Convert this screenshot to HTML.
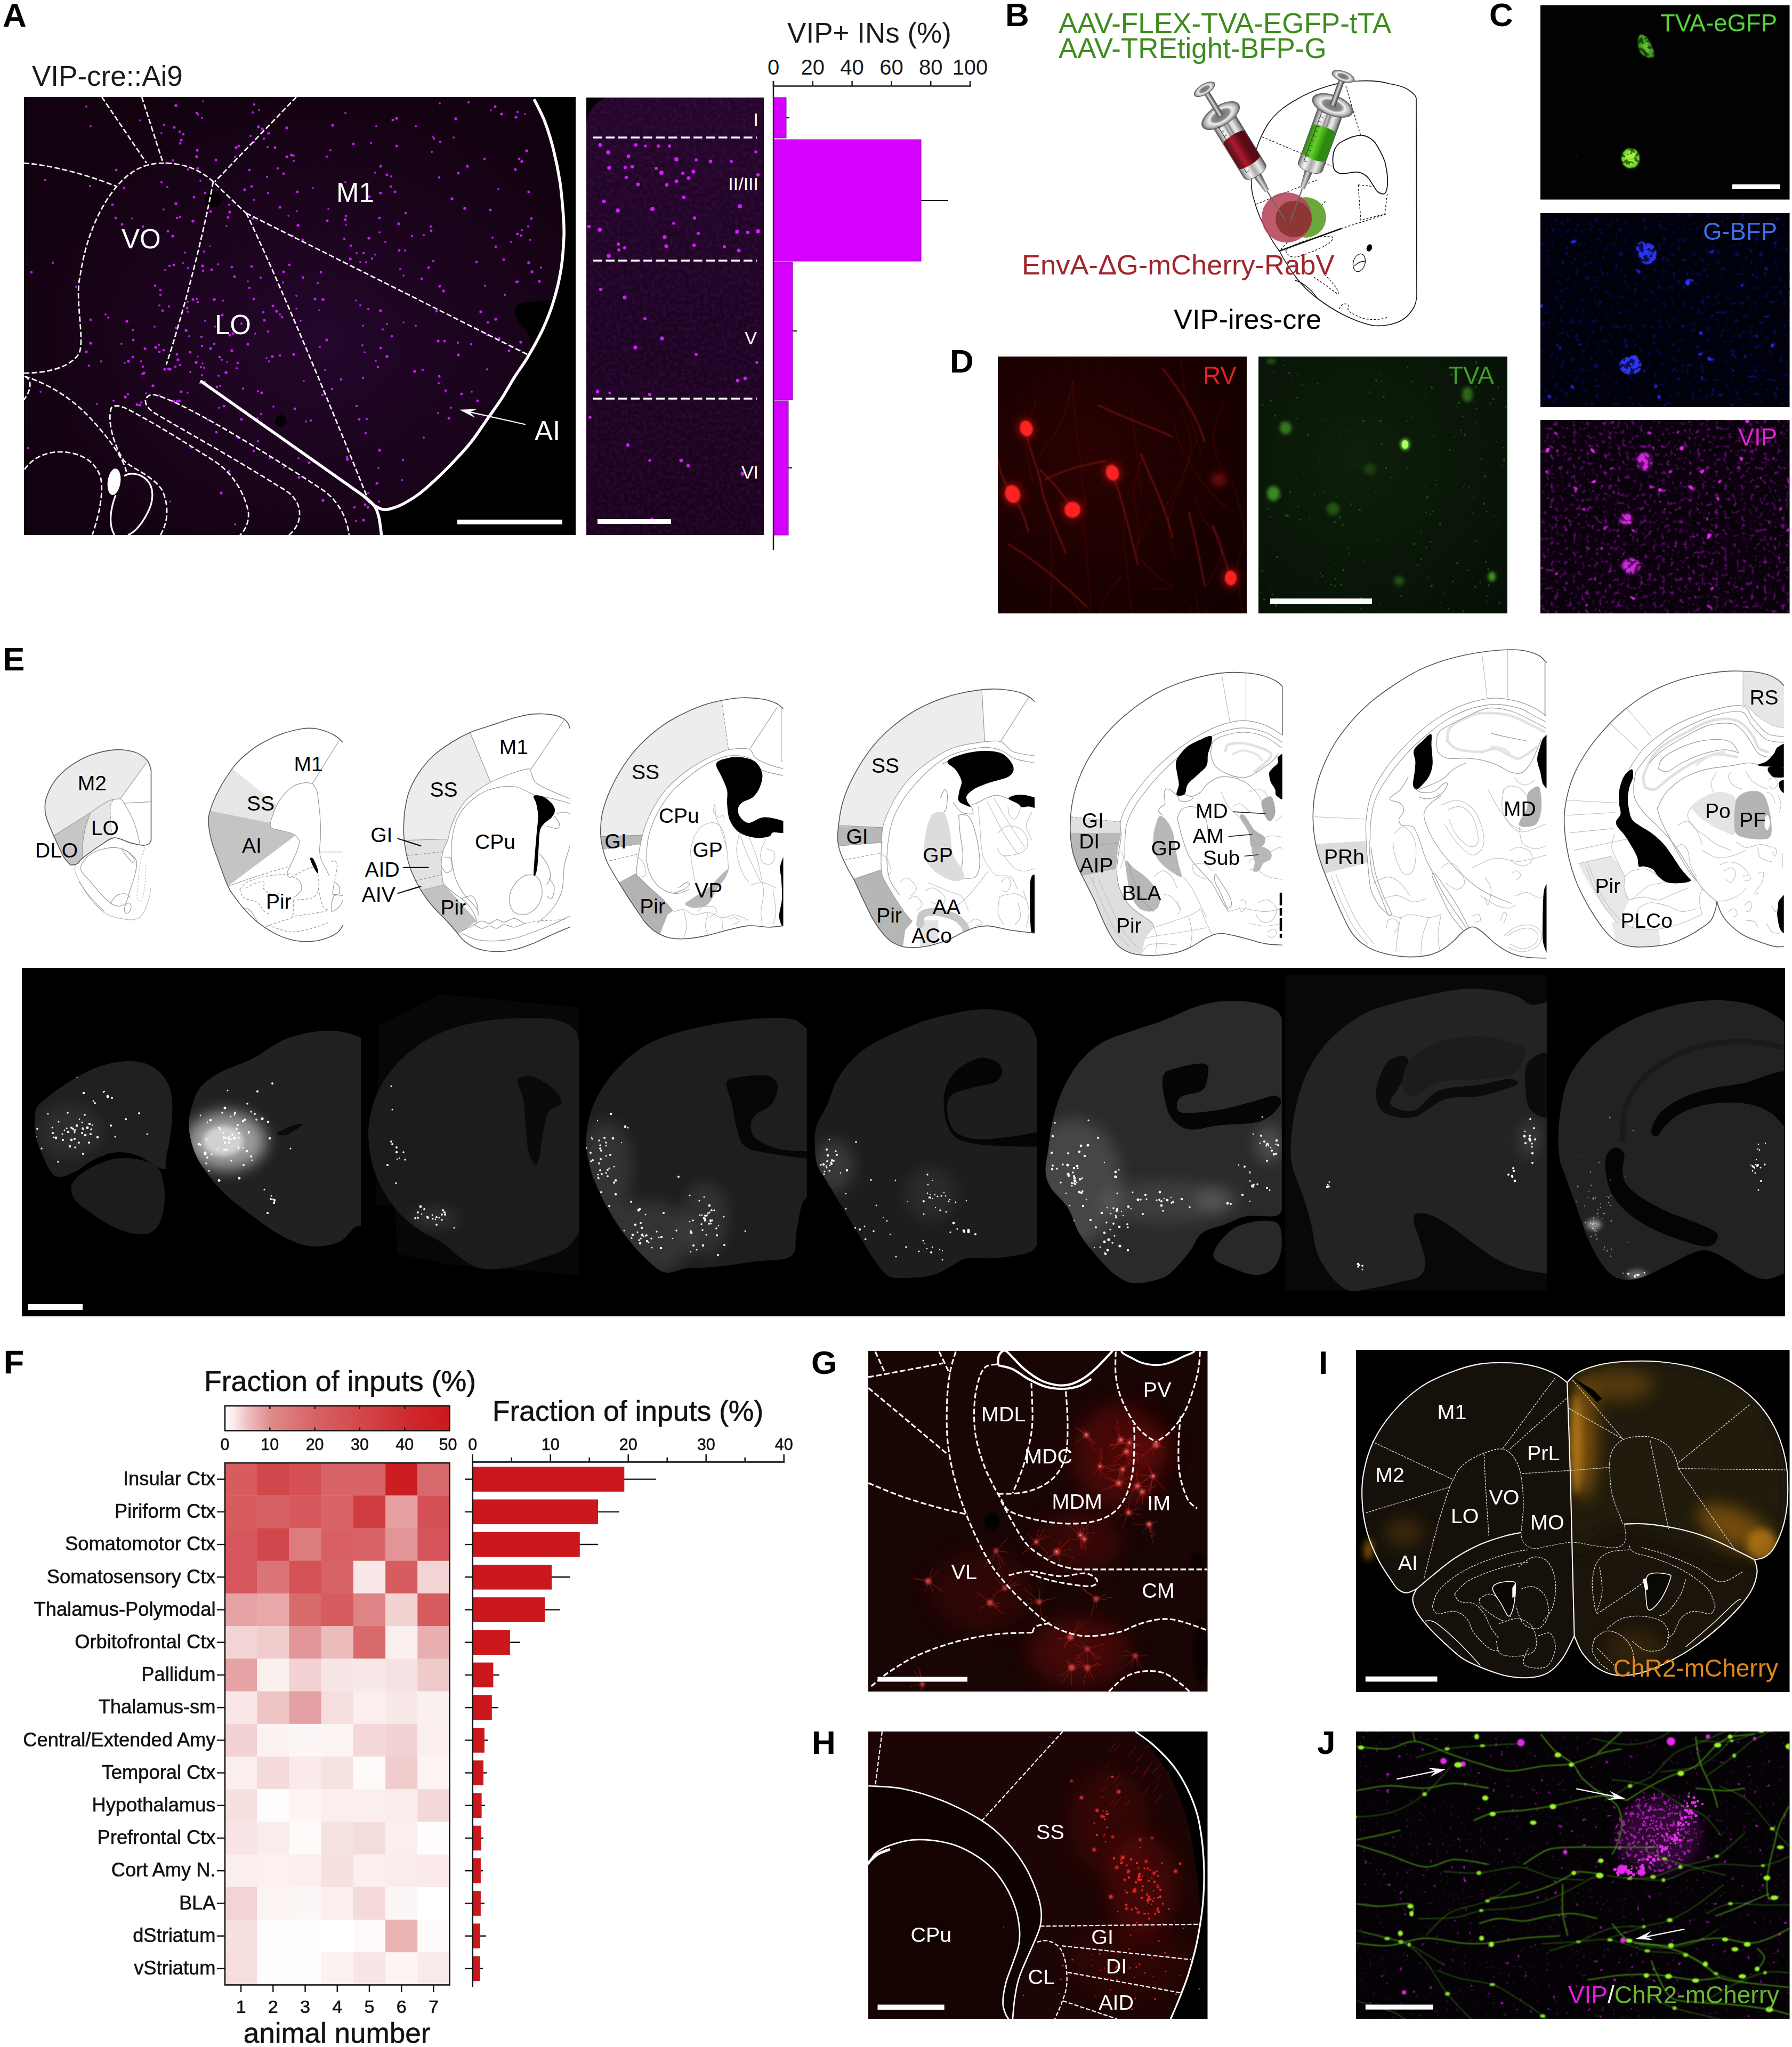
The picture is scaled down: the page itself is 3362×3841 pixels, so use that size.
<!DOCTYPE html>
<html><head><meta charset="utf-8"><title>Figure</title>
<style>
html,body{margin:0;padding:0;background:#fff;}
svg{display:block;font-family:'Liberation Sans', sans-serif;}
</style></head><body>
<svg width="3362" height="3841" viewBox="0 0 3362 3841">
<rect width="3362" height="3841" fill="#fff"/>
<g id="pa"><text x="5" y="50" font-size="62" fill="#000" text-anchor="start" font-weight="bold" >A</text>
<text x="60" y="161" font-size="53" fill="#1a1a1a" text-anchor="start" font-weight="normal" >VIP-cre::Ai9</text>
<defs><clipPath id="caA"><rect x="45" y="182" width="1035" height="822"/></clipPath><radialGradient id="gA" cx="0.55" cy="0.55" r="0.6"><stop offset="0" stop-color="#24062b"/><stop offset="1" stop-color="#12020f"/></radialGradient></defs>
<rect x="45" y="182" width="1035" height="822" fill="#000" />
<g clip-path="url(#caA)">
<path d="M1000.0,180.0 C1003.7,188.1 1015.9,211.8 1022.3,228.7 C1028.7,245.6 1033.8,262.5 1038.5,281.4 C1043.2,300.3 1047.6,321.9 1050.7,342.2 C1053.7,362.5 1055.5,386.1 1056.8,403.0 C1058.0,419.9 1058.6,426.7 1058.0,443.6 C1057.3,460.5 1055.6,485.5 1052.7,504.4 C1049.8,523.3 1047.0,547.0 1040.5,557.1 C1034.1,567.3 1024.7,563.2 1014.2,565.2 C1003.7,567.3 985.8,565.9 977.7,569.3 C969.6,572.7 965.5,578.8 965.5,585.5 C965.5,592.3 973.6,603.8 977.7,609.8 C981.7,615.9 987.1,613.2 989.8,622.0 C992.5,630.8 998.0,648.4 993.9,662.6 C989.8,676.8 974.3,693.0 965.5,707.2 C956.7,721.4 950.0,734.2 941.2,747.7 C932.4,761.2 922.3,774.8 912.8,788.3 C903.3,801.8 894.5,816.0 884.4,828.8 C874.3,841.7 862.8,853.8 852.0,865.3 C841.2,876.8 830.3,887.6 819.5,897.8 C808.7,907.9 797.9,918.0 787.1,926.1 C776.3,934.3 764.1,941.6 754.6,946.4 C745.2,951.3 736.7,953.9 730.3,955.3 C723.9,956.8 719.2,952.1 716.1,955.3 C713.1,958.6 712.1,965.5 712.1,974.8 C712.1,984.1 715.4,1005.2 716.1,1011.3 L45,1010 L45,182 Z" stroke="none" stroke-width="0" fill="url(#gA)" />
<g fill="#050005"><ellipse cx="400" cy="375" rx="16" ry="14"/><ellipse cx="527" cy="790" rx="11" ry="11"/></g>
<g fill="#c61cf5" opacity="1"><circle cx="494" cy="586" r="2.2"/><circle cx="795" cy="821" r="1.9"/><circle cx="879" cy="192" r="2.2"/><circle cx="848" cy="373" r="2.7"/><circle cx="985" cy="214" r="1.8"/><circle cx="711" cy="941" r="2.2"/><circle cx="465" cy="528" r="1.8"/><circle cx="468" cy="540" r="2.3"/><circle cx="477" cy="375" r="2.0"/><circle cx="649" cy="422" r="1.8"/><circle cx="937" cy="635" r="2.4"/><circle cx="441" cy="984" r="1.9"/><circle cx="553" cy="767" r="2.5"/><circle cx="1012" cy="528" r="2.6"/><circle cx="809" cy="433" r="2.4"/><circle cx="684" cy="661" r="1.8"/><circle cx="484" cy="828" r="2.2"/><circle cx="431" cy="629" r="2.5"/><circle cx="813" cy="490" r="2.2"/><circle cx="686" cy="813" r="2.3"/><circle cx="599" cy="582" r="1.8"/><circle cx="333" cy="753" r="2.8"/><circle cx="751" cy="505" r="2.0"/><circle cx="682" cy="976" r="2.6"/><circle cx="710" cy="878" r="2.0"/><circle cx="690" cy="952" r="2.4"/><circle cx="649" cy="405" r="2.3"/><circle cx="915" cy="605" r="2.4"/><circle cx="624" cy="235" r="2.7"/><circle cx="733" cy="350" r="2.3"/><circle cx="669" cy="475" r="2.1"/><circle cx="709" cy="689" r="2.4"/><circle cx="648" cy="212" r="2.0"/><circle cx="435" cy="658" r="2.7"/><circle cx="920" cy="394" r="2.6"/><circle cx="812" cy="257" r="1.8"/><circle cx="383" cy="690" r="2.1"/><circle cx="353" cy="318" r="2.3"/><circle cx="428" cy="408" r="2.5"/><circle cx="646" cy="448" r="2.3"/><circle cx="318" cy="499" r="2.2"/><circle cx="443" cy="277" r="2.7"/><circle cx="688" cy="357" r="2.4"/><circle cx="921" cy="207" r="1.8"/><circle cx="411" cy="765" r="2.0"/><circle cx="836" cy="733" r="2.3"/><circle cx="693" cy="369" r="2.4"/><circle cx="600" cy="651" r="2.1"/><circle cx="780" cy="237" r="2.1"/><circle cx="533" cy="877" r="2.1"/><circle cx="616" cy="392" r="1.8"/><circle cx="968" cy="220" r="2.6"/><circle cx="430" cy="884" r="2.5"/><circle cx="687" cy="492" r="2.1"/><circle cx="456" cy="729" r="2.2"/><circle cx="448" cy="274" r="2.5"/><circle cx="525" cy="590" r="2.1"/><circle cx="314" cy="351" r="2.1"/><circle cx="558" cy="360" r="2.5"/><circle cx="561" cy="896" r="2.5"/><circle cx="668" cy="978" r="2.0"/><circle cx="851" cy="258" r="2.0"/><circle cx="992" cy="360" r="2.6"/><circle cx="756" cy="863" r="2.2"/><circle cx="559" cy="423" r="2.7"/><circle cx="974" cy="298" r="2.4"/><circle cx="379" cy="221" r="1.9"/><circle cx="930" cy="463" r="2.4"/><circle cx="894" cy="492" r="2.4"/><circle cx="470" cy="255" r="2.1"/><circle cx="977" cy="642" r="2.7"/><circle cx="648" cy="412" r="2.6"/><circle cx="929" cy="200" r="2.5"/><circle cx="370" cy="282" r="2.7"/><circle cx="330" cy="382" r="2.8"/><circle cx="620" cy="282" r="2.0"/><circle cx="483" cy="785" r="1.9"/><circle cx="992" cy="493" r="2.8"/><circle cx="991" cy="425" r="2.1"/><circle cx="663" cy="270" r="2.5"/><circle cx="330" cy="198" r="2.8"/><circle cx="525" cy="667" r="2.2"/><circle cx="538" cy="240" r="2.7"/><circle cx="385" cy="362" r="2.4"/><circle cx="823" cy="719" r="2.1"/><circle cx="712" cy="436" r="2.0"/><circle cx="362" cy="415" r="2.8"/><circle cx="640" cy="712" r="2.4"/><circle cx="1015" cy="502" r="2.1"/><circle cx="549" cy="443" r="2.6"/><circle cx="979" cy="432" r="2.1"/><circle cx="714" cy="653" r="2.4"/><circle cx="486" cy="206" r="2.0"/><circle cx="355" cy="631" r="1.9"/><circle cx="357" cy="698" r="2.1"/><circle cx="902" cy="585" r="2.7"/><circle cx="417" cy="591" r="2.6"/><circle cx="924" cy="446" r="1.9"/><circle cx="691" cy="925" r="2.1"/><circle cx="979" cy="303" r="2.7"/><circle cx="324" cy="443" r="2.7"/><circle cx="824" cy="333" r="2.2"/><circle cx="420" cy="762" r="2.5"/><circle cx="492" cy="242" r="2.8"/><circle cx="914" cy="629" r="2.3"/><circle cx="947" cy="553" r="2.2"/><circle cx="557" cy="396" r="1.8"/><circle cx="791" cy="523" r="2.4"/><circle cx="347" cy="474" r="1.9"/><circle cx="395" cy="397" r="2.6"/><circle cx="602" cy="511" r="2.4"/><circle cx="477" cy="196" r="2.3"/><circle cx="681" cy="709" r="2.2"/><circle cx="822" cy="775" r="2.0"/><circle cx="676" cy="573" r="2.0"/><circle cx="613" cy="638" r="2.7"/><circle cx="997" cy="410" r="2.4"/><circle cx="337" cy="247" r="2.3"/><circle cx="967" cy="318" r="2.6"/><circle cx="971" cy="439" r="2.5"/><circle cx="945" cy="487" r="2.5"/><circle cx="860" cy="666" r="2.7"/><circle cx="734" cy="331" r="2.1"/><circle cx="465" cy="646" r="2.6"/><circle cx="340" cy="735" r="2.5"/><circle cx="564" cy="602" r="2.0"/><circle cx="855" cy="223" r="2.8"/><circle cx="914" cy="693" r="2.1"/><circle cx="406" cy="811" r="2.5"/><circle cx="832" cy="546" r="2.7"/><circle cx="910" cy="536" r="2.0"/><circle cx="547" cy="291" r="2.7"/><circle cx="757" cy="517" r="1.9"/><circle cx="525" cy="389" r="2.5"/><circle cx="303" cy="342" r="2.2"/><circle cx="316" cy="692" r="2.4"/><circle cx="935" cy="355" r="2.1"/><circle cx="712" cy="409" r="2.4"/><circle cx="491" cy="737" r="2.6"/><circle cx="714" cy="583" r="2.7"/><circle cx="884" cy="646" r="2.2"/><circle cx="516" cy="277" r="2.6"/><circle cx="390" cy="788" r="2.3"/><circle cx="680" cy="648" r="2.1"/><circle cx="682" cy="475" r="2.3"/><circle cx="301" cy="544" r="2.2"/><circle cx="532" cy="510" r="2.6"/><circle cx="819" cy="584" r="2.4"/><circle cx="587" cy="353" r="1.8"/><circle cx="511" cy="669" r="2.7"/><circle cx="930" cy="599" r="2.8"/><circle cx="651" cy="858" r="2.2"/><circle cx="532" cy="326" r="2.4"/><circle cx="704" cy="478" r="1.8"/><circle cx="596" cy="531" r="2.2"/><circle cx="955" cy="658" r="2.5"/><circle cx="674" cy="787" r="2.4"/><circle cx="793" cy="694" r="2.2"/><circle cx="778" cy="697" r="2.7"/><circle cx="760" cy="470" r="2.1"/><circle cx="714" cy="312" r="2.6"/><circle cx="668" cy="564" r="1.8"/><circle cx="688" cy="786" r="2.2"/><circle cx="570" cy="715" r="1.8"/><circle cx="685" cy="947" r="2.5"/><circle cx="605" cy="741" r="2.4"/><circle cx="459" cy="356" r="2.7"/><circle cx="504" cy="250" r="2.6"/><circle cx="698" cy="485" r="2.3"/><circle cx="860" cy="325" r="2.5"/><circle cx="505" cy="678" r="2.0"/><circle cx="726" cy="328" r="2.6"/><circle cx="959" cy="454" r="2.0"/><circle cx="941" cy="214" r="2.7"/><circle cx="773" cy="443" r="2.2"/><circle cx="444" cy="691" r="2.0"/><circle cx="761" cy="400" r="2.3"/><circle cx="405" cy="300" r="2.5"/><circle cx="574" cy="791" r="2.0"/><circle cx="846" cy="765" r="2.1"/><circle cx="381" cy="508" r="2.3"/><circle cx="376" cy="339" r="1.9"/><circle cx="754" cy="901" r="2.0"/><circle cx="326" cy="753" r="2.6"/><circle cx="560" cy="860" r="1.9"/><circle cx="826" cy="266" r="2.2"/><circle cx="676" cy="492" r="2.0"/><circle cx="476" cy="846" r="2.3"/><circle cx="741" cy="360" r="2.5"/><circle cx="551" cy="665" r="2.7"/><circle cx="543" cy="497" r="2.4"/><circle cx="998" cy="510" r="2.7"/><circle cx="877" cy="312" r="2.7"/><circle cx="312" cy="306" r="2.5"/><circle cx="343" cy="494" r="1.9"/><circle cx="652" cy="862" r="2.7"/><circle cx="327" cy="239" r="2.6"/><circle cx="333" cy="409" r="1.9"/><circle cx="369" cy="212" r="2.4"/><circle cx="866" cy="739" r="2.6"/><circle cx="804" cy="502" r="2.4"/><circle cx="485" cy="238" r="2.7"/><circle cx="749" cy="470" r="2.4"/><circle cx="726" cy="608" r="1.9"/><circle cx="568" cy="520" r="2.0"/><circle cx="969" cy="529" r="2.5"/><circle cx="842" cy="785" r="2.5"/><circle cx="872" cy="391" r="2.8"/><circle cx="415" cy="925" r="2.7"/><circle cx="340" cy="263" r="2.6"/><circle cx="657" cy="486" r="2.8"/><circle cx="330" cy="615" r="2.2"/><circle cx="397" cy="506" r="2.5"/><circle cx="971" cy="210" r="2.3"/><circle cx="326" cy="497" r="2.5"/><circle cx="538" cy="294" r="2.6"/><circle cx="531" cy="530" r="2.0"/><circle cx="723" cy="454" r="2.1"/><circle cx="744" cy="274" r="2.5"/><circle cx="707" cy="907" r="2.6"/><circle cx="521" cy="316" r="2.2"/><circle cx="696" cy="268" r="2.1"/><circle cx="737" cy="225" r="2.6"/><circle cx="795" cy="441" r="2.1"/><circle cx="568" cy="450" r="2.5"/><circle cx="681" cy="611" r="1.9"/><circle cx="995" cy="450" r="2.1"/><circle cx="909" cy="298" r="2.3"/><circle cx="896" cy="752" r="2.5"/><circle cx="606" cy="562" r="2.8"/><circle cx="704" cy="324" r="1.9"/><circle cx="822" cy="640" r="2.7"/><circle cx="440" cy="519" r="2.5"/><circle cx="338" cy="269" r="2.3"/><circle cx="502" cy="276" r="2.1"/><circle cx="780" cy="611" r="1.9"/><circle cx="580" cy="868" r="2.5"/><circle cx="623" cy="730" r="2.3"/><circle cx="453" cy="787" r="2.6"/><circle cx="691" cy="580" r="2.2"/><circle cx="744" cy="222" r="2.7"/><circle cx="648" cy="342" r="2.1"/><circle cx="825" cy="194" r="1.9"/><circle cx="735" cy="631" r="2.3"/><circle cx="712" cy="845" r="2.8"/><circle cx="610" cy="694" r="2.1"/><circle cx="529" cy="595" r="2.4"/><circle cx="424" cy="699" r="2.8"/><circle cx="859" cy="643" r="2.2"/><circle cx="606" cy="939" r="2.7"/><circle cx="591" cy="561" r="2.6"/><circle cx="583" cy="789" r="2.3"/><circle cx="556" cy="555" r="1.9"/><circle cx="569" cy="522" r="1.8"/><circle cx="431" cy="398" r="2.7"/><circle cx="748" cy="420" r="2.8"/><circle cx="496" cy="601" r="2.5"/><circle cx="825" cy="537" r="2.6"/><circle cx="669" cy="762" r="2.3"/><circle cx="369" cy="294" r="2.8"/><circle cx="474" cy="211" r="2.1"/><circle cx="665" cy="952" r="2.2"/><circle cx="368" cy="680" r="2.8"/><circle cx="718" cy="618" r="2.1"/><circle cx="378" cy="632" r="2.2"/><circle cx="810" cy="285" r="2.1"/><circle cx="512" cy="574" r="2.6"/><circle cx="814" cy="260" r="2.2"/><circle cx="808" cy="425" r="2.3"/><circle cx="988" cy="283" r="2.7"/><circle cx="380" cy="499" r="2.7"/><circle cx="453" cy="607" r="2.2"/><circle cx="519" cy="584" r="2.7"/><circle cx="714" cy="362" r="2.6"/><circle cx="556" cy="579" r="1.8"/><circle cx="503" cy="622" r="2.2"/><circle cx="474" cy="410" r="2.5"/><circle cx="613" cy="294" r="2.0"/><circle cx="726" cy="669" r="2.8"/><circle cx="705" cy="677" r="1.9"/><circle cx="614" cy="414" r="2.5"/><circle cx="503" cy="362" r="2.2"/><circle cx="658" cy="461" r="2.4"/><circle cx="706" cy="237" r="2.1"/><circle cx="824" cy="706" r="2.6"/><circle cx="978" cy="442" r="2.3"/><circle cx="551" cy="292" r="1.9"/><circle cx="495" cy="260" r="2.3"/><circle cx="834" cy="640" r="2.5"/><circle cx="472" cy="350" r="2.4"/><circle cx="972" cy="528" r="1.8"/><circle cx="315" cy="434" r="2.4"/><circle cx="364" cy="370" r="2.5"/><circle cx="757" cy="605" r="1.8"/><circle cx="551" cy="302" r="2.1"/><circle cx="885" cy="735" r="1.8"/><circle cx="541" cy="405" r="1.8"/><circle cx="324" cy="301" r="2.2"/><circle cx="484" cy="734" r="2.1"/><circle cx="692" cy="447" r="2.7"/></g>
<g fill="#bd18ea" opacity="1"><circle cx="446" cy="681" r="2.5"/><circle cx="240" cy="740" r="2.3"/><circle cx="298" cy="647" r="2.2"/><circle cx="308" cy="234" r="2.2"/><circle cx="307" cy="393" r="1.9"/><circle cx="299" cy="573" r="2.1"/><circle cx="99" cy="493" r="2.2"/><circle cx="372" cy="215" r="2.0"/><circle cx="371" cy="316" r="2.5"/><circle cx="468" cy="319" r="2.5"/><circle cx="332" cy="409" r="2.3"/><circle cx="426" cy="679" r="1.7"/><circle cx="228" cy="645" r="2.1"/><circle cx="416" cy="675" r="2.1"/><circle cx="489" cy="521" r="2.2"/><circle cx="381" cy="190" r="1.7"/><circle cx="217" cy="409" r="2.5"/><circle cx="358" cy="840" r="1.9"/><circle cx="430" cy="384" r="2.2"/><circle cx="218" cy="319" r="2.5"/><circle cx="379" cy="704" r="2.2"/><circle cx="76" cy="735" r="1.9"/><circle cx="352" cy="585" r="2.0"/><circle cx="472" cy="500" r="2.5"/><circle cx="419" cy="564" r="2.1"/><circle cx="319" cy="941" r="1.8"/><circle cx="85" cy="338" r="2.3"/><circle cx="425" cy="424" r="1.8"/><circle cx="507" cy="859" r="2.6"/><circle cx="59" cy="511" r="2.4"/><circle cx="479" cy="626" r="2.1"/><circle cx="53" cy="841" r="2.3"/><circle cx="211" cy="384" r="2.5"/><circle cx="501" cy="332" r="2.2"/><circle cx="291" cy="536" r="2.4"/><circle cx="490" cy="777" r="2.3"/><circle cx="375" cy="719" r="2.2"/><circle cx="353" cy="503" r="2.2"/><circle cx="351" cy="578" r="2.6"/><circle cx="162" cy="200" r="2.0"/><circle cx="513" cy="763" r="2.0"/><circle cx="301" cy="553" r="2.2"/><circle cx="246" cy="326" r="2.1"/><circle cx="233" cy="353" r="2.4"/><circle cx="447" cy="822" r="2.3"/><circle cx="394" cy="462" r="1.8"/><circle cx="270" cy="311" r="1.8"/><circle cx="169" cy="349" r="2.2"/><circle cx="143" cy="538" r="2.2"/><circle cx="310" cy="507" r="1.9"/><circle cx="344" cy="252" r="2.4"/><circle cx="371" cy="669" r="1.8"/><circle cx="303" cy="250" r="1.9"/><circle cx="229" cy="421" r="2.6"/><circle cx="383" cy="472" r="2.2"/><circle cx="268" cy="425" r="2.4"/><circle cx="329" cy="688" r="2.4"/><circle cx="170" cy="237" r="2.0"/><circle cx="435" cy="501" r="2.5"/><circle cx="409" cy="496" r="2.1"/><circle cx="338" cy="407" r="2.3"/><circle cx="248" cy="410" r="1.8"/><circle cx="441" cy="295" r="2.2"/><circle cx="263" cy="226" r="1.9"/><circle cx="437" cy="626" r="2.5"/><circle cx="477" cy="266" r="2.3"/><circle cx="500" cy="672" r="1.9"/><circle cx="290" cy="613" r="1.9"/><circle cx="219" cy="901" r="1.8"/><circle cx="476" cy="561" r="2.5"/></g>
<g fill="#c61cf5" opacity="1"><circle cx="198" cy="590" r="2.1"/><circle cx="162" cy="660" r="2.6"/><circle cx="257" cy="759" r="2.6"/><circle cx="377" cy="689" r="2.2"/><circle cx="395" cy="654" r="2.7"/><circle cx="299" cy="742" r="2.3"/><circle cx="265" cy="678" r="2.1"/><circle cx="190" cy="678" r="2.1"/><circle cx="384" cy="717" r="2.6"/><circle cx="262" cy="760" r="2.6"/><circle cx="305" cy="583" r="2.4"/><circle cx="249" cy="670" r="2.4"/><circle cx="307" cy="657" r="2.4"/><circle cx="379" cy="649" r="2.3"/><circle cx="369" cy="561" r="2.0"/><circle cx="238" cy="603" r="2.7"/><circle cx="287" cy="724" r="2.8"/><circle cx="380" cy="682" r="1.8"/><circle cx="167" cy="686" r="2.1"/><circle cx="412" cy="670" r="2.4"/><circle cx="317" cy="575" r="2.0"/><circle cx="403" cy="613" r="1.9"/><circle cx="349" cy="620" r="2.7"/><circle cx="413" cy="724" r="1.9"/><circle cx="235" cy="745" r="2.7"/><circle cx="352" cy="566" r="2.1"/><circle cx="352" cy="737" r="1.8"/><circle cx="309" cy="693" r="2.7"/><circle cx="265" cy="755" r="2.0"/><circle cx="410" cy="705" r="2.0"/><circle cx="402" cy="562" r="2.8"/><circle cx="371" cy="567" r="2.3"/><circle cx="250" cy="638" r="2.5"/><circle cx="203" cy="596" r="2.1"/><circle cx="402" cy="645" r="2.3"/><circle cx="319" cy="693" r="2.8"/><circle cx="267" cy="702" r="2.1"/><circle cx="170" cy="644" r="2.6"/><circle cx="407" cy="726" r="2.4"/><circle cx="299" cy="660" r="2.3"/><circle cx="334" cy="675" r="2.7"/><circle cx="272" cy="654" r="2.6"/><circle cx="332" cy="665" r="2.4"/><circle cx="368" cy="681" r="2.1"/><circle cx="234" cy="681" r="1.8"/><circle cx="274" cy="738" r="2.0"/><circle cx="270" cy="700" r="2.7"/><circle cx="338" cy="685" r="2.2"/><circle cx="268" cy="688" r="2.2"/><circle cx="362" cy="562" r="2.6"/><circle cx="350" cy="621" r="1.8"/><circle cx="241" cy="678" r="2.6"/><circle cx="385" cy="602" r="1.9"/><circle cx="182" cy="758" r="1.9"/><circle cx="337" cy="752" r="2.4"/><circle cx="213" cy="752" r="2.0"/><circle cx="357" cy="661" r="2.4"/><circle cx="249" cy="619" r="2.2"/><circle cx="292" cy="652" r="2.7"/><circle cx="170" cy="600" r="2.4"/></g>
<path d="M191,182 L275,306" stroke="#fff" stroke-width="2.7" fill="none" stroke-dasharray="10 4.5"/>
<path d="M266,182 L306,306" stroke="#fff" stroke-width="2.7" fill="none" stroke-dasharray="10 4.5"/>
<path d="M556,182 L403,341" stroke="#fff" stroke-width="2.7" fill="none" stroke-dasharray="10 4.5"/>
<path d="M45,306 C100,310 170,330 219,350" stroke="#fff" stroke-width="2.7" fill="none" stroke-dasharray="10 4.5"/>
<path d="M45,700 C90,700 130,690 148,664 C160,640 140,560 150,520 C160,450 185,390 219,350 C245,318 275,306 306,306 C345,306 375,318 400,341 C425,365 445,385 462,400" stroke="#fff" stroke-width="2.7" fill="none" stroke-dasharray="10 4.5"/>
<path d="M400,341 C380,450 340,600 312,684" stroke="#fff" stroke-width="2.7" fill="none" stroke-dasharray="10 4.5"/>
<path d="M462,400 L991,666" stroke="#fff" stroke-width="2.7" fill="none" stroke-dasharray="10 4.5"/>
<path d="M462,400 C520,520 620,760 694,946" stroke="#fff" stroke-width="2.7" fill="none" stroke-dasharray="10 4.5"/>
<path d="M46,706 C90,720 130,745 160,775 C200,815 232,860 237,885" stroke="#fff" stroke-width="2.7" fill="none" stroke-dasharray="10 4.5"/>
<path d="M46,706 C60,712 60,730 45,750" stroke="#fff" stroke-width="2.7" fill="none" stroke-dasharray="10 4.5"/>
<path d="M46,881 C60,860 85,848 112,848 C150,848 180,865 189,897 C195,925 185,970 173,1004" stroke="#fff" stroke-width="2.7" fill="none" stroke-dasharray="10 4.5"/>
<path d="M301,1004 C318,975 315,945 305,921 C290,895 250,880 233,865 C215,840 200,790 209,765 C220,755 240,768 262,780 C320,812 370,845 402,865 C440,890 460,930 466,961 C468,985 455,1000 450,1004" stroke="#fff" stroke-width="2.7" fill="none" stroke-dasharray="10 4.5"/>
<path d="M542,1004 C565,985 565,960 558,945 C548,925 535,920 522,912 C440,860 340,805 290,775 C268,760 268,745 285,740 C330,745 500,850 602,917 C630,935 650,965 655,1004" stroke="#fff" stroke-width="2.7" fill="none" stroke-dasharray="10 4.5"/>
<path d="M233,893 C245,886 262,888 275,900 C290,915 288,940 278,960 C268,980 255,998 240,1004 M215,1004 C203,985 207,955 217,929" stroke="#fff" stroke-width="3.2" fill="none" />
<ellipse cx="214" cy="904" rx="12" ry="25" fill="#fff" transform="rotate(8 214 904)"/>
<path d="M378,716 L681.7,930.2 L701.9,948.5 " stroke="#fff" stroke-width="5.5" fill="none" stroke-linecap="round"/>
<path d="M681.7,930.2 C685.0,933.2 697.1,941.7 701.9,948.5 C706.8,955.2 708.4,960.3 710.9,970.8 C713.3,981.2 715.6,1004.5 716.5,1011.3" stroke="#fff" stroke-width="5.5" fill="none" />
<path d="M1002.0,186.1 C1005.4,193.2 1016.2,212.8 1022.3,228.7 C1028.4,244.5 1033.8,262.5 1038.5,281.4 C1043.2,300.3 1047.6,321.9 1050.7,342.2 C1053.7,362.5 1055.5,386.1 1056.8,403.0 C1058.0,419.9 1058.6,426.7 1058.0,443.6 C1057.3,460.5 1055.9,484.1 1052.7,504.4 C1049.5,524.7 1044.3,546.3 1038.5,565.2 C1032.8,584.2 1026.3,600.4 1018.2,618.0 C1010.1,635.5 998.6,655.8 989.8,670.7 C981.1,685.5 973.6,694.3 965.5,707.2 C957.4,720.0 950.0,734.2 941.2,747.7 C932.4,761.2 922.3,774.8 912.8,788.3 C903.3,801.8 894.5,816.0 884.4,828.8 C874.3,841.7 862.8,853.8 852.0,865.3 C841.2,876.8 830.3,887.6 819.5,897.8 C808.7,907.9 797.9,918.0 787.1,926.1 C776.3,934.3 764.1,941.6 754.6,946.4 C745.2,951.3 736.7,953.9 730.3,955.3 C723.9,956.8 720.9,956.5 716.1,955.3 C711.4,954.2 704.3,949.6 701.9,948.5" stroke="#fff" stroke-width="5.5" fill="none" stroke-linejoin="round"/>
</g>
<text x="631" y="379" font-size="51" fill="#fff" text-anchor="start" font-weight="normal" >M1</text>
<text x="228" y="466" font-size="51" fill="#fff" text-anchor="start" font-weight="normal" >VO</text>
<text x="403" y="627" font-size="51" fill="#fff" text-anchor="start" font-weight="normal" >LO</text>
<text x="1003" y="826" font-size="51" fill="#fff" text-anchor="start" font-weight="normal" >AI</text>
<line x1="986.0" y1="796.5" x2="881.4" y2="773.1" stroke="#fff" stroke-width="2.2"/><path d="M862.0,768.8 L895.1,767.5 L881.4,773.1 L891.4,784.1 Z" fill="#fff"/>
<rect x="858" y="975" width="197" height="9" fill="#fff" />
<defs><linearGradient id="gA2" x1="0" y1="0" x2="0" y2="1"><stop offset="0" stop-color="#230729"/><stop offset="0.5" stop-color="#1d0522"/><stop offset="1" stop-color="#19041c"/></linearGradient></defs>
<rect x="1100" y="183" width="333" height="821" fill="url(#gA2)" />
<defs><filter id="nA2" x="0" y="0" width="100%" height="100%" color-interpolation-filters="sRGB"><feTurbulence type="fractalNoise" baseFrequency="0.14" numOctaves="2" seed="5"/><feColorMatrix type="matrix" values="0 0 0 0 0.42  0 0 0 0 0.07  0 0 0 0 0.5  2.2 0 0 0 -0.8800000000000001"/><feComposite in2="SourceGraphic" operator="in"/></filter></defs>
<rect x="1100" y="183" width="333" height="821" fill="#000" filter="url(#nA2)" opacity="0.3"/>
<path d="M1100,183 L1135,183 C1118,190 1106,205 1100,232 Z" fill="#050006"/>
<g fill="#d21cff" opacity="1.0"><circle cx="1303" cy="409" r="3.1"/><circle cx="1231" cy="316" r="3.0"/><circle cx="1422" cy="434" r="4.0"/><circle cx="1105" cy="425" r="3.2"/><circle cx="1264" cy="419" r="2.8"/><circle cx="1224" cy="392" r="4.0"/><circle cx="1269" cy="340" r="3.6"/><circle cx="1292" cy="334" r="3.6"/><circle cx="1193" cy="272" r="3.2"/><circle cx="1133" cy="378" r="3.5"/><circle cx="1383" cy="435" r="3.8"/><circle cx="1422" cy="328" r="3.3"/><circle cx="1179" cy="293" r="3.5"/><circle cx="1269" cy="299" r="4.1"/><circle cx="1418" cy="285" r="2.8"/><circle cx="1125" cy="431" r="4.0"/><circle cx="1126" cy="272" r="3.6"/><circle cx="1211" cy="274" r="2.8"/><circle cx="1173" cy="314" r="3.2"/><circle cx="1281" cy="325" r="3.1"/><circle cx="1172" cy="465" r="3.1"/><circle cx="1283" cy="370" r="3.3"/><circle cx="1235" cy="274" r="3.1"/><circle cx="1310" cy="438" r="3.1"/><circle cx="1161" cy="469" r="2.9"/><circle cx="1359" cy="463" r="3.0"/><circle cx="1372" cy="303" r="2.9"/><circle cx="1197" cy="346" r="3.6"/><circle cx="1247" cy="445" r="3.7"/><circle cx="1143" cy="315" r="3.8"/><circle cx="1142" cy="480" r="3.9"/><circle cx="1175" cy="333" r="3.2"/><circle cx="1240" cy="325" r="2.8"/><circle cx="1186" cy="313" r="3.3"/><circle cx="1250" cy="462" r="3.7"/><circle cx="1302" cy="460" r="3.3"/><circle cx="1241" cy="324" r="4.0"/><circle cx="1386" cy="470" r="3.6"/><circle cx="1141" cy="286" r="3.9"/><circle cx="1388" cy="387" r="4.1"/><circle cx="1403" cy="436" r="3.3"/><circle cx="1251" cy="347" r="3.4"/><circle cx="1256" cy="274" r="3.0"/><circle cx="1159" cy="395" r="4.0"/><circle cx="1333" cy="303" r="3.4"/><circle cx="1306" cy="300" r="2.9"/><circle cx="1301" cy="322" r="3.7"/><circle cx="1160" cy="458" r="3.2"/></g>
<g fill="#d21cff" opacity="1.0"><circle cx="1242" cy="635" r="3.7"/><circle cx="1398" cy="710" r="3.4"/><circle cx="1127" cy="543" r="3.2"/><circle cx="1420" cy="680" r="2.8"/><circle cx="1219" cy="740" r="3.2"/><circle cx="1384" cy="714" r="3.5"/><circle cx="1306" cy="665" r="3.0"/><circle cx="1144" cy="737" r="2.6"/><circle cx="1192" cy="652" r="3.8"/><circle cx="1172" cy="558" r="3.6"/><circle cx="1210" cy="598" r="3.0"/><circle cx="1121" cy="735" r="3.4"/></g>
<g fill="#d21cff" opacity="1.0"><circle cx="1107" cy="783" r="2.8"/><circle cx="1223" cy="974" r="2.8"/><circle cx="1178" cy="835" r="3.2"/><circle cx="1393" cy="889" r="3.7"/><circle cx="1278" cy="864" r="3.6"/><circle cx="1291" cy="874" r="3.2"/><circle cx="1219" cy="864" r="2.7"/></g>
<line x1="1113" y1="258" x2="1420" y2="258" stroke="#fff" stroke-width="3.5" stroke-dasharray="16.5 7"/>
<line x1="1113" y1="489" x2="1420" y2="489" stroke="#fff" stroke-width="3.5" stroke-dasharray="16.5 7"/>
<line x1="1113" y1="748" x2="1420" y2="748" stroke="#fff" stroke-width="3.5" stroke-dasharray="16.5 7"/>
<text x="1423" y="236" font-size="34" fill="#fff" text-anchor="end" font-weight="normal" >I</text>
<text x="1423" y="357" font-size="34" fill="#fff" text-anchor="end" font-weight="normal" >II/III</text>
<text x="1420" y="646" font-size="34" fill="#fff" text-anchor="end" font-weight="normal" >V</text>
<text x="1423" y="898" font-size="34" fill="#fff" text-anchor="end" font-weight="normal" >VI</text>
<rect x="1121" y="974" width="138" height="9" fill="#fff" />
<text x="1631" y="80" font-size="53" fill="#1a1a1a" text-anchor="middle" font-weight="normal" >VIP+ INs (%)</text>
<line x1="1450" y1="161.5" x2="1822" y2="161.5" stroke="#1a1a1a" stroke-width="2.5" />
<line x1="1451" y1="152" x2="1451" y2="1032" stroke="#1a1a1a" stroke-width="2.5" />
<line x1="1451.0" y1="152" x2="1451.0" y2="161.5" stroke="#1a1a1a" stroke-width="2.5" />
<text x="1451.0" y="139.5" font-size="40" fill="#1a1a1a" text-anchor="middle" font-weight="normal" >0</text>
<line x1="1524.8" y1="152" x2="1524.8" y2="161.5" stroke="#1a1a1a" stroke-width="2.5" />
<text x="1524.8" y="139.5" font-size="40" fill="#1a1a1a" text-anchor="middle" font-weight="normal" >20</text>
<line x1="1598.6" y1="152" x2="1598.6" y2="161.5" stroke="#1a1a1a" stroke-width="2.5" />
<text x="1598.6" y="139.5" font-size="40" fill="#1a1a1a" text-anchor="middle" font-weight="normal" >40</text>
<line x1="1672.4" y1="152" x2="1672.4" y2="161.5" stroke="#1a1a1a" stroke-width="2.5" />
<text x="1672.4" y="139.5" font-size="40" fill="#1a1a1a" text-anchor="middle" font-weight="normal" >60</text>
<line x1="1746.2" y1="152" x2="1746.2" y2="161.5" stroke="#1a1a1a" stroke-width="2.5" />
<text x="1746.2" y="139.5" font-size="40" fill="#1a1a1a" text-anchor="middle" font-weight="normal" >80</text>
<line x1="1820.0" y1="152" x2="1820.0" y2="161.5" stroke="#1a1a1a" stroke-width="2.5" />
<text x="1820.0" y="139.5" font-size="40" fill="#1a1a1a" text-anchor="middle" font-weight="normal" >100</text>
<line x1="1475" y1="221.0" x2="1481" y2="221.0" stroke="#1a1a1a" stroke-width="2.2" />
<rect x="1452" y="183" width="23" height="76" fill="#d500ff" stroke="#7a1a8a" stroke-width="1"/>
<line x1="1728" y1="376.0" x2="1779" y2="376.0" stroke="#1a1a1a" stroke-width="2.2" />
<rect x="1452" y="262" width="276" height="228" fill="#d500ff" stroke="#7a1a8a" stroke-width="1"/>
<line x1="1487" y1="621.0" x2="1495" y2="621.0" stroke="#1a1a1a" stroke-width="2.2" />
<rect x="1452" y="492" width="35" height="258" fill="#d500ff" stroke="#7a1a8a" stroke-width="1"/>
<line x1="1479" y1="878.0" x2="1486" y2="878.0" stroke="#1a1a1a" stroke-width="2.2" />
<rect x="1452" y="752" width="27" height="252" fill="#d500ff" stroke="#7a1a8a" stroke-width="1"/></g>
<g id="pb"><text x="1886" y="49" font-size="62" fill="#000" text-anchor="start" font-weight="bold" >B</text>
<text x="1986" y="62" font-size="53" fill="#3d8c1e" text-anchor="start" font-weight="normal" >AAV-FLEX-TVA-EGFP-tTA</text>
<text x="1986" y="109" font-size="53" fill="#3d8c1e" text-anchor="start" font-weight="normal" >AAV-TREtight-BFP-G</text>
<path d="M2348,352 C2346,320 2350,300 2357,280 C2365,255 2372,243 2380,231 C2395,210 2412,198 2432,187 C2450,176 2470,168 2490,162 C2510,156 2530,152 2548,152 C2570,151 2590,152 2606,157 C2625,160 2637,164 2644,170 C2652,175 2656,180 2657,184 L2658,556 C2657,565 2656,570 2653,576 C2645,590 2635,600 2621,605 C2605,611 2590,612 2577,611 C2555,607 2535,598 2519,590 C2500,580 2485,570 2473,561 C2458,550 2445,538 2432,521 C2420,505 2410,490 2401,472 C2390,458 2380,440 2374,428 C2364,410 2358,395 2354,379 C2350,368 2349,360 2348,352 Z" stroke="#111" stroke-width="1.6" fill="#fff" />
<path d="M2400,471 L2516,429" stroke="#111" stroke-width="2.5" fill="none" />
<path d="M2516,429 L2600,402" stroke="#111" stroke-width="1.3" fill="none" stroke-dasharray="4 3"/>
<path d="M2502,286 C2505,275 2512,268 2519,265 C2532,258 2545,253 2557,254 C2568,256 2575,262 2580,268 C2588,280 2594,292 2598,303 C2602,318 2604,333 2603,347 C2602,358 2600,364 2595,364 C2590,364 2586,361 2583,358 C2577,350 2573,342 2568,335 C2562,328 2555,324 2548,323 C2538,322 2528,326 2519,326 C2510,326 2504,321 2502,315 C2500,305 2500,295 2502,286 Z" stroke="#111" stroke-width="1.8" fill="#fff" />
<path d="M2525,162 L2553,255" stroke="#111" stroke-width="1.3" fill="none" stroke-dasharray="4 3"/>
<path d="M2368,257 L2499,312" stroke="#111" stroke-width="1.3" fill="none" stroke-dasharray="4 3"/>
<path d="M2357,383 L2470,338" stroke="#111" stroke-width="1.3" fill="none" stroke-dasharray="4 3"/>
<path d="M2403,468 L2487,377" stroke="#111" stroke-width="1.3" fill="none" stroke-dasharray="4 3"/>
<path d="M2548,347 L2577,350 M2548,347 L2553,413 L2598,402 L2603,361" stroke="#111" stroke-width="1.3" fill="none" stroke-dasharray="4 3"/>
<path d="M2412,470 C2440,450 2480,440 2500,445 C2505,455 2470,470 2440,480 C2425,486 2415,480 2412,470" stroke="#111" stroke-width="1.3" fill="none" stroke-dasharray="4 3"/>
<path d="M2465,520 C2480,530 2500,545 2510,552 C2515,548 2500,530 2485,515" stroke="#111" stroke-width="1.3" fill="none" stroke-dasharray="4 3"/>
<path d="M2513,580 C2515,568 2530,568 2530,575 C2525,582 2535,590 2560,598 C2580,602 2600,598 2605,594" stroke="#111" stroke-width="1.3" fill="none" stroke-dasharray="4 3"/>
<path d="M2430,526 C2445,530 2462,545 2472,561" stroke="#111" stroke-width="1.5" fill="none" />
<ellipse cx="2569" cy="465" rx="5" ry="7" fill="#000" transform="rotate(20 2569 465)"/>
<ellipse cx="2550" cy="493" rx="11" ry="17" fill="none" stroke="#111" stroke-width="1.3" transform="rotate(15 2550 493)"/>
<path d="M2541,499 C2548,492 2556,490 2561,490" stroke="#111" stroke-width="1.3" fill="none" />
<circle cx="2450" cy="408" r="38" fill="#6aa83c"/>
<circle cx="2414" cy="408" r="47" fill="#b5425a" opacity="0.88"/>
<circle cx="2427" cy="411" r="34" fill="#8a3632" opacity="0.95"/>
<g transform="translate(2256.6,162.4) rotate(-31.6)"><defs><linearGradient id="sbr" x1="0" x2="1" y1="0" y2="0"><stop offset="0" stop-color="#5e5e5e"/><stop offset="0.12" stop-color="#b8b8b8"/><stop offset="0.28" stop-color="#f4f4f4"/><stop offset="0.5" stop-color="#a8a8a8"/><stop offset="0.72" stop-color="#ececec"/><stop offset="0.9" stop-color="#9a9a9a"/><stop offset="1" stop-color="#4a4a4a"/></linearGradient><linearGradient id="slr" x1="0" x2="1" y1="0" y2="0"><stop offset="0" stop-color="#5a0a14"/><stop offset="0.35" stop-color="#b01830"/><stop offset="0.7" stop-color="#5a0a14"/><stop offset="1" stop-color="#5a0a14"/></linearGradient><linearGradient id="srr" x1="0" x2="1" y1="0" y2="0"><stop offset="0" stop-color="#3c3c3c"/><stop offset="0.45" stop-color="#d8d8d8"/><stop offset="1" stop-color="#333"/></linearGradient><radialGradient id="sfr" cx="0.5" cy="0.5" r="0.5"><stop offset="0" stop-color="#707070"/><stop offset="0.45" stop-color="#8a8a8a"/><stop offset="0.6" stop-color="#f0f0f0"/><stop offset="0.85" stop-color="#b0b0b0"/><stop offset="1" stop-color="#5a5a5a"/></radialGradient></defs><line x1="0" y1="224" x2="0" y2="294" stroke="#6a6a6a" stroke-width="2.2"/><path d="M-8,190 L8,190 L4.5,230 L-4.5,230 Z" fill="url(#srr)"/><path d="M-24,66 L24,66 L24,186 C24,200 -24,200 -24,186 Z" fill="url(#sbr)" stroke="#555" stroke-width="1"/><rect x="-4.5" y="60" width="9" height="52" fill="url(#srr)" opacity="0.55"/><path d="M-23,112 C-23,105 23,105 23,112 L23,166 C23,174 -23,174 -23,166 Z" fill="url(#slr)"/><ellipse cx="0" cy="64" rx="40" ry="19" fill="url(#sfr)" stroke="#666" stroke-width="1"/><rect x="-5.5" y="4" width="11" height="60" fill="url(#srr)"/><ellipse cx="0" cy="6" rx="22" ry="9.5" fill="url(#sfr)" stroke="#666" stroke-width="1"/><line x1="-15" y1="82.0" x2="-9" y2="82.0" stroke="#333" stroke-width="1"/><line x1="-15" y1="91.5" x2="-9" y2="91.5" stroke="#333" stroke-width="1"/><line x1="-15" y1="101.0" x2="-9" y2="101.0" stroke="#333" stroke-width="1"/><line x1="-15" y1="110.5" x2="-9" y2="110.5" stroke="#333" stroke-width="1"/><line x1="-15" y1="120.0" x2="-9" y2="120.0" stroke="#333" stroke-width="1"/><line x1="-15" y1="129.5" x2="-9" y2="129.5" stroke="#333" stroke-width="1"/><line x1="-15" y1="139.0" x2="-9" y2="139.0" stroke="#333" stroke-width="1"/><line x1="-15" y1="148.5" x2="-9" y2="148.5" stroke="#333" stroke-width="1"/><line x1="-15" y1="158.0" x2="-9" y2="158.0" stroke="#333" stroke-width="1"/><line x1="-15" y1="167.5" x2="-9" y2="167.5" stroke="#333" stroke-width="1"/><path d="M-15,78 L-15,180 L-9,180" stroke="#333" stroke-width="1" fill="none"/></g>
<g transform="translate(2522,137.7) rotate(20)"><defs><linearGradient id="sbg" x1="0" x2="1" y1="0" y2="0"><stop offset="0" stop-color="#5e5e5e"/><stop offset="0.12" stop-color="#b8b8b8"/><stop offset="0.28" stop-color="#f4f4f4"/><stop offset="0.5" stop-color="#a8a8a8"/><stop offset="0.72" stop-color="#ececec"/><stop offset="0.9" stop-color="#9a9a9a"/><stop offset="1" stop-color="#4a4a4a"/></linearGradient><linearGradient id="slg" x1="0" x2="1" y1="0" y2="0"><stop offset="0" stop-color="#2c8a10"/><stop offset="0.35" stop-color="#66d028"/><stop offset="0.7" stop-color="#2c8a10"/><stop offset="1" stop-color="#2c8a10"/></linearGradient><linearGradient id="srg" x1="0" x2="1" y1="0" y2="0"><stop offset="0" stop-color="#3c3c3c"/><stop offset="0.45" stop-color="#d8d8d8"/><stop offset="1" stop-color="#333"/></linearGradient><radialGradient id="sfg" cx="0.5" cy="0.5" r="0.5"><stop offset="0" stop-color="#707070"/><stop offset="0.45" stop-color="#8a8a8a"/><stop offset="0.6" stop-color="#f0f0f0"/><stop offset="0.85" stop-color="#b0b0b0"/><stop offset="1" stop-color="#5a5a5a"/></radialGradient></defs><line x1="0" y1="224" x2="0" y2="294" stroke="#6a6a6a" stroke-width="2.2"/><path d="M-8,190 L8,190 L4.5,230 L-4.5,230 Z" fill="url(#srg)"/><path d="M-24,66 L24,66 L24,186 C24,200 -24,200 -24,186 Z" fill="url(#sbg)" stroke="#555" stroke-width="1"/><rect x="-4.5" y="60" width="9" height="52" fill="url(#srg)" opacity="0.55"/><path d="M-23,112 C-23,105 23,105 23,112 L23,166 C23,174 -23,174 -23,166 Z" fill="url(#slg)"/><ellipse cx="0" cy="64" rx="40" ry="19" fill="url(#sfg)" stroke="#666" stroke-width="1"/><rect x="-5.5" y="4" width="11" height="60" fill="url(#srg)"/><ellipse cx="0" cy="6" rx="22" ry="9.5" fill="url(#sfg)" stroke="#666" stroke-width="1"/><line x1="-15" y1="82.0" x2="-9" y2="82.0" stroke="#333" stroke-width="1"/><line x1="-15" y1="91.5" x2="-9" y2="91.5" stroke="#333" stroke-width="1"/><line x1="-15" y1="101.0" x2="-9" y2="101.0" stroke="#333" stroke-width="1"/><line x1="-15" y1="110.5" x2="-9" y2="110.5" stroke="#333" stroke-width="1"/><line x1="-15" y1="120.0" x2="-9" y2="120.0" stroke="#333" stroke-width="1"/><line x1="-15" y1="129.5" x2="-9" y2="129.5" stroke="#333" stroke-width="1"/><line x1="-15" y1="139.0" x2="-9" y2="139.0" stroke="#333" stroke-width="1"/><line x1="-15" y1="148.5" x2="-9" y2="148.5" stroke="#333" stroke-width="1"/><line x1="-15" y1="158.0" x2="-9" y2="158.0" stroke="#333" stroke-width="1"/><line x1="-15" y1="167.5" x2="-9" y2="167.5" stroke="#333" stroke-width="1"/><path d="M-15,78 L-15,180 L-9,180" stroke="#333" stroke-width="1" fill="none"/></g>
<text x="1917" y="515" font-size="52.5" fill="#a0262c" text-anchor="start" font-weight="normal" >EnvA-ΔG-mCherry-RabV</text>
<text x="2202" y="617" font-size="52.5" fill="#000" text-anchor="start" font-weight="normal" >VIP-ires-cre</text></g>
<g id="pc"><text x="2794" y="49" font-size="62" fill="#000" text-anchor="start" font-weight="bold" >C</text>
<defs><filter id="bl2" x="-50%" y="-50%" width="200%" height="200%"><feGaussianBlur stdDeviation="2"/></filter><filter id="bl5" x="-50%" y="-50%" width="200%" height="200%"><feGaussianBlur stdDeviation="5"/></filter><filter id="bl1" x="-50%" y="-50%" width="200%" height="200%"><feGaussianBlur stdDeviation="1"/></filter><filter id="nC1" x="0" y="0" width="100%" height="100%" color-interpolation-filters="sRGB"><feTurbulence type="fractalNoise" baseFrequency="0.25" numOctaves="1" seed="5"/><feColorMatrix type="matrix" values="0 0 0 0 0.12  0 0 0 0 0.36  0 0 0 0 0.06  6 0 0 0 -4.4399999999999995"/><feComposite in2="SourceGraphic" operator="in"/></filter><filter id="nC2a" x="0" y="0" width="100%" height="100%" color-interpolation-filters="sRGB"><feTurbulence type="fractalNoise" baseFrequency="0.11" numOctaves="2" seed="7"/><feColorMatrix type="matrix" values="0 0 0 0 0.05  0 0 0 0 0.045  0 0 0 0 0.36  4 0 0 0 -2.34"/><feComposite in2="SourceGraphic" operator="in"/></filter><filter id="nC2b" x="0" y="0" width="100%" height="100%" color-interpolation-filters="sRGB"><feTurbulence type="fractalNoise" baseFrequency="0.05" numOctaves="2" seed="11"/><feColorMatrix type="matrix" values="0 0 0 0 0.16  0 0 0 0 0.18  0 0 0 0 1.0  9 0 0 0 -6.795"/><feComposite in2="SourceGraphic" operator="in"/></filter><filter id="nC3a" x="0" y="0" width="100%" height="100%" color-interpolation-filters="sRGB"><feTurbulence type="fractalNoise" baseFrequency="0.12" numOctaves="2" seed="17"/><feColorMatrix type="matrix" values="0 0 0 0 0.42  0 0 0 0 0.05  0 0 0 0 0.48  4 0 0 0 -2.24"/><feComposite in2="SourceGraphic" operator="in"/></filter><filter id="nC3b" x="0" y="0" width="100%" height="100%" color-interpolation-filters="sRGB"><feTurbulence type="fractalNoise" baseFrequency="0.055" numOctaves="2" seed="23"/><feColorMatrix type="matrix" values="0 0 0 0 0.9  0 0 0 0 0.14  0 0 0 0 0.95  9 0 0 0 -6.66"/><feComposite in2="SourceGraphic" operator="in"/></filter><filter id="nCb" x="0" y="0" width="100%" height="100%" color-interpolation-filters="sRGB"><feTurbulence type="fractalNoise" baseFrequency="0.12" numOctaves="2" seed="31"/><feColorMatrix type="matrix" values="0 0 0 0 0  0 0 0 0 0  0 0 0 0 0  14 0 0 0 -7.0"/><feComposite in2="SourceGraphic" operator="in"/></filter></defs>
<rect x="2890" y="10" width="467.5" height="364.5" fill="#010201" />
<rect x="2890" y="10" width="467.5" height="364.5" fill="#000" filter="url(#nC1)"/>
<g filter="url(#bl1)"><path d="M3076,66 C3084,60 3092,72 3098,84 C3104,96 3106,106 3100,108 C3090,110 3078,104 3075,92 C3072,82 3072,72 3076,66 Z" fill="#3f9c22"/><ellipse cx="3088" cy="88" rx="6" ry="11" fill="#62c030" transform="rotate(-20 3088 88)"/><ellipse cx="3059" cy="297" rx="17" ry="19" fill="#6fd92c"/><ellipse cx="3060" cy="296" rx="11" ry="13" fill="#9cf040"/></g>
<g filter="url(#nCb)" opacity="0.55"><ellipse cx="3088" cy="88" rx="20" ry="26"/><ellipse cx="3059" cy="297" rx="20" ry="22"/></g>
<text x="3334" y="59" font-size="45.5" fill="#58d23c" text-anchor="end" font-weight="normal" >TVA-eGFP</text>
<rect x="3250" y="346" width="90" height="9" fill="#fff" />
<rect x="2890" y="400" width="467.5" height="364" fill="#01010c" />
<rect x="2890" y="400" width="467.5" height="364" fill="#000" filter="url(#nC2a)"/>
<rect x="2890" y="400" width="467.5" height="364" fill="#000" filter="url(#nC2b)"/>
<g filter="url(#bl1)" fill="#2a36f2"><ellipse cx="3091" cy="476" rx="17" ry="20"/><ellipse cx="3080" cy="462" rx="8" ry="9"/><ellipse cx="3059" cy="686" rx="21" ry="17"/><ellipse cx="3066" cy="674" rx="8" ry="8"/></g>
<g filter="url(#nCb)" opacity="0.7"><ellipse cx="3089" cy="474" rx="22" ry="24"/><ellipse cx="3060" cy="684" rx="25" ry="21"/></g>
<text x="3334" y="450" font-size="45.5" fill="#3d6fe6" text-anchor="end" font-weight="normal" >G-BFP</text>
<rect x="2890" y="788" width="467.5" height="363" fill="#0a010c" />
<rect x="2890" y="788" width="467.5" height="363" fill="#000" filter="url(#nC3a)"/>
<rect x="2890" y="788" width="467.5" height="363" fill="#000" filter="url(#nC3b)"/>
<g filter="url(#bl2)" fill="#d028e0"><ellipse cx="3085" cy="866" rx="15" ry="17"/><ellipse cx="3052" cy="974" rx="12" ry="13"/><ellipse cx="3060" cy="1062" rx="17" ry="15"/></g>
<g filter="url(#nCb)" opacity="0.6"><ellipse cx="3085" cy="866" rx="20" ry="22"/><ellipse cx="3052" cy="974" rx="17" ry="18"/><ellipse cx="3060" cy="1062" rx="22" ry="20"/></g>
<text x="3334" y="836" font-size="45.5" fill="#e222d2" text-anchor="end" font-weight="normal" >VIP</text></g>
<g id="pd"><text x="1782" y="699" font-size="62" fill="#000" text-anchor="start" font-weight="bold" >D</text>
<defs><radialGradient id="gD1" cx="0.35" cy="0.4" r="0.8"><stop offset="0" stop-color="#2a0202"/><stop offset="1" stop-color="#120000"/></radialGradient><radialGradient id="gD2" cx="0.4" cy="0.4" r="0.8"><stop offset="0" stop-color="#0e1f0a"/><stop offset="1" stop-color="#061006"/></radialGradient><filter id="bd15" x="-50%" y="-50%" width="200%" height="200%"><feGaussianBlur stdDeviation="1.4"/></filter><filter id="bd3" x="-50%" y="-50%" width="200%" height="200%"><feGaussianBlur stdDeviation="3"/></filter><filter id="bd8" x="-50%" y="-50%" width="200%" height="200%"><feGaussianBlur stdDeviation="8"/></filter><clipPath id="cD1"><rect x="1872" y="669" width="467" height="482"/></clipPath><clipPath id="cD2"><rect x="2361" y="669" width="467" height="482"/></clipPath></defs>
<rect x="1872" y="669" width="467" height="482" fill="url(#gD1)" />
<g clip-path="url(#cD1)">
<path d="M2245.2,826.1 C2239.5,839.8 2222.1,886.2 2211.0,908.6 C2199.8,930.9 2183.7,951.6 2178.3,960.2" stroke="#5a0c0c" stroke-width="1.6" fill="none" filter="url(#bd15)" opacity="0.7"/>
<path d="M2105.8,1079.2 C2099.3,1089.3 2070.1,1118.8 2066.6,1139.4 C2063.1,1160.1 2078.9,1185.3 2084.8,1203.2 C2090.6,1221.0 2098.9,1239.5 2101.7,1246.8" stroke="#5a0c0c" stroke-width="1.6" fill="none" filter="url(#bd15)" opacity="0.7"/>
<path d="M2121.4,767.8 C2123.5,782.5 2130.5,827.9 2134.0,856.1 C2137.5,884.2 2141.0,923.3 2142.3,936.7" stroke="#5a0c0c" stroke-width="1.6" fill="none" filter="url(#bd15)" opacity="0.7"/>
<path d="M2264.0,1142.4 C2262.4,1151.0 2257.6,1177.0 2254.2,1194.0 C2250.8,1211.0 2245.5,1225.1 2243.7,1244.6 C2241.8,1264.0 2244.6,1286.2 2243.1,1310.9 C2241.6,1335.5 2236.1,1378.7 2234.7,1392.2" stroke="#5a0c0c" stroke-width="1.6" fill="none" filter="url(#bd15)" opacity="0.7"/>
<path d="M2036.1,924.3 C2036.3,942.1 2036.1,999.4 2037.5,1031.0 C2039.0,1062.7 2043.8,1084.3 2044.9,1114.1 C2046.0,1144.0 2044.3,1194.2 2044.1,1210.2" stroke="#5a0c0c" stroke-width="1.6" fill="none" filter="url(#bd15)" opacity="0.7"/>
<path d="M1878.0,1143.7 C1883.0,1150.0 1912.0,1170.9 1908.2,1181.8 C1904.4,1192.8 1860.1,1201.4 1855.4,1209.6 C1850.7,1217.8 1870.0,1218.0 1879.9,1230.8 C1889.8,1243.5 1909.2,1276.7 1915.0,1285.9" stroke="#5a0c0c" stroke-width="1.6" fill="none" filter="url(#bd15)" opacity="0.7"/>
<path d="M2011.3,713.3 C2012.6,728.9 2016.3,775.4 2019.5,806.9 C2022.7,838.3 2028.5,870.3 2030.4,902.0 C2032.4,933.8 2031.1,981.5 2031.2,997.4" stroke="#5a0c0c" stroke-width="1.6" fill="none" filter="url(#bd15)" opacity="0.7"/>
<path d="M2199.4,784.6 C2202.7,794.9 2209.5,825.3 2219.5,846.0 C2229.4,866.8 2245.4,891.2 2259.1,909.2 C2272.8,927.2 2294.6,946.4 2301.8,953.9" stroke="#5a0c0c" stroke-width="1.6" fill="none" filter="url(#bd15)" opacity="0.7"/>
<path d="M1947.4,740.9 C1943.6,754.9 1925.7,797.5 1924.2,825.1 C1922.7,852.7 1936.0,892.9 1938.3,906.4" stroke="#5a0c0c" stroke-width="1.6" fill="none" filter="url(#bd15)" opacity="0.7"/>
<path d="M2108.5,957.4 C2108.7,968.6 2107.9,997.0 2109.9,1025.0 C2111.9,1053.0 2118.3,1099.5 2120.7,1125.1 C2123.1,1150.8 2123.8,1169.9 2124.4,1178.9" stroke="#5a0c0c" stroke-width="1.6" fill="none" filter="url(#bd15)" opacity="0.7"/>
<path d="M2215.3,673.3 C2217.3,687.8 2220.7,730.8 2227.3,760.8 C2233.8,790.7 2250.0,837.5 2254.6,852.9" stroke="#5a0c0c" stroke-width="1.6" fill="none" filter="url(#bd15)" opacity="0.7"/>
<path d="M2004.5,1091.8 C2009.2,1105.6 2026.1,1150.0 2032.5,1174.3 C2038.9,1198.7 2041.1,1215.8 2043.1,1237.9 C2045.0,1260.1 2044.0,1295.8 2044.2,1307.3" stroke="#5a0c0c" stroke-width="1.6" fill="none" filter="url(#bd15)" opacity="0.7"/>
<path d="M2234.3,1136.6 C2232.5,1152.0 2223.7,1200.5 2223.3,1229.0 C2222.8,1257.4 2229.6,1283.5 2231.9,1307.3 C2234.1,1331.2 2232.5,1346.0 2237.0,1371.8 C2241.6,1397.6 2255.6,1446.9 2259.4,1462.0" stroke="#5a0c0c" stroke-width="1.6" fill="none" filter="url(#bd15)" opacity="0.7"/>
<path d="M2016.4,707.0 C2011.7,722.0 2000.1,771.3 1988.5,796.9 C1976.9,822.5 1953.9,850.0 1947.0,860.6" stroke="#5a0c0c" stroke-width="1.6" fill="none" filter="url(#bd15)" opacity="0.7"/>
<path d="M2163.0,960.7 C2158.0,972.5 2131.4,1011.7 2132.8,1031.7 C2134.2,1051.6 2160.5,1068.6 2171.5,1080.4 C2182.6,1092.2 2201.4,1098.4 2199.2,1102.4 C2197.1,1106.4 2165.5,1104.2 2158.8,1104.6" stroke="#5a0c0c" stroke-width="1.6" fill="none" filter="url(#bd15)" opacity="0.7"/>
<path d="M2144.2,850.7 C2141.2,862.1 2128.2,899.7 2126.4,919.2 C2124.6,938.6 2131.9,949.6 2133.6,967.4 C2135.2,985.2 2135.8,1016.3 2136.3,1026.1" stroke="#5a0c0c" stroke-width="1.6" fill="none" filter="url(#bd15)" opacity="0.7"/>
<path d="M2240.1,926.0 C2242.5,933.2 2245.3,952.8 2254.2,969.5 C2263.1,986.2 2292.6,1003.3 2293.6,1026.4 C2294.5,1049.6 2265.4,1094.7 2259.8,1108.3" stroke="#5a0c0c" stroke-width="1.6" fill="none" filter="url(#bd15)" opacity="0.7"/>
<path d="M2295.3,753.1 C2292.1,765.4 2275.1,801.4 2276.1,826.7 C2277.1,852.1 2297.0,891.9 2301.2,905.0" stroke="#5a0c0c" stroke-width="1.6" fill="none" filter="url(#bd15)" opacity="0.7"/>
<path d="M2216.4,767.3 C2219.4,778.9 2234.2,814.1 2234.2,836.9 C2234.2,859.7 2223.5,880.6 2216.5,904.3 C2209.5,928.1 2194.1,955.4 2192.2,979.6 C2190.2,1003.7 2202.7,1037.6 2204.8,1049.3" stroke="#5a0c0c" stroke-width="1.6" fill="none" filter="url(#bd15)" opacity="0.7"/>
<path d="M1970.9,964.9 C1971.1,976.5 1971.9,1009.7 1972.3,1034.7 C1972.6,1059.7 1973.9,1091.3 1972.9,1114.9 C1971.9,1138.4 1967.4,1166.0 1966.3,1176.2" stroke="#5a0c0c" stroke-width="1.6" fill="none" filter="url(#bd15)" opacity="0.7"/>
<path d="M2243.9,1121.4 C2245.3,1134.7 2253.0,1175.7 2252.0,1201.4 C2251.0,1227.1 2240.2,1263.3 2237.8,1275.7" stroke="#5a0c0c" stroke-width="1.6" fill="none" filter="url(#bd15)" opacity="0.7"/>
<path d="M2312.1,900.3 C2315.8,916.6 2333.1,970.2 2334.6,998.3 C2336.1,1026.5 2321.3,1042.8 2321.1,1069.3 C2320.8,1095.8 2331.3,1142.7 2333.3,1157.4" stroke="#5a0c0c" stroke-width="1.6" fill="none" filter="url(#bd15)" opacity="0.7"/>
<path d="M1925,810 C1935,860 1950,880 1955,920 C1965,960 1985,1000 2000,1040" stroke="#8a1414" stroke-width="2.4" fill="none" filter="url(#bd15)" opacity="0.85"/>
<path d="M2087,890 C2100,920 2110,960 2120,1000 C2125,1020 2130,1040 2135,1060" stroke="#8a1414" stroke-width="2.4" fill="none" filter="url(#bd15)" opacity="0.85"/>
<path d="M2180,690 C2220,740 2250,790 2260,830" stroke="#8a1414" stroke-width="2.4" fill="none" filter="url(#bd15)" opacity="0.85"/>
<path d="M2309,1084 C2295,1040 2285,1010 2275,985" stroke="#8a1414" stroke-width="2.4" fill="none" filter="url(#bd15)" opacity="0.85"/>
<path d="M1900,930 C1880,900 1875,880 1872,860" stroke="#8a1414" stroke-width="2.4" fill="none" filter="url(#bd15)" opacity="0.85"/>
<path d="M1900,930 C1920,960 1925,980 1930,1000" stroke="#8a1414" stroke-width="2.4" fill="none" filter="url(#bd15)" opacity="0.85"/>
<path d="M2012,956 C1990,920 1970,900 1950,880" stroke="#8a1414" stroke-width="2.4" fill="none" filter="url(#bd15)" opacity="0.85"/>
<path d="M2060,760 C2120,790 2160,800 2200,820" stroke="#8a1414" stroke-width="2.4" fill="none" filter="url(#bd15)" opacity="0.85"/>
<path d="M1960,900 C2000,880 2040,870 2075,865" stroke="#8a1414" stroke-width="2.4" fill="none" filter="url(#bd15)" opacity="0.85"/>
<path d="M2140,850 C2160,900 2190,960 2200,1010" stroke="#8a1414" stroke-width="2.4" fill="none" filter="url(#bd15)" opacity="0.85"/>
<path d="M1890,1020 C1940,1050 1990,1090 2040,1140" stroke="#8a1414" stroke-width="2.4" fill="none" filter="url(#bd15)" opacity="0.85"/>
<path d="M2230,960 C2240,1000 2250,1040 2260,1100" stroke="#8a1414" stroke-width="2.4" fill="none" filter="url(#bd15)" opacity="0.85"/>
<ellipse cx="1925.5" cy="804" rx="19" ry="22" fill="#c01010" opacity="0.45" filter="url(#bd8)" transform="rotate(-15 1925.5 804)"/>
<ellipse cx="1925.5" cy="804" rx="12" ry="15" fill="#ff2424" filter="url(#bd15)" transform="rotate(-15 1925.5 804)"/>
<ellipse cx="1899.7" cy="927" rx="21" ry="24" fill="#c01010" opacity="0.45" filter="url(#bd8)" transform="rotate(-20 1899.7 927)"/>
<ellipse cx="1899.7" cy="927" rx="14" ry="17" fill="#ff2424" filter="url(#bd15)" transform="rotate(-20 1899.7 927)"/>
<ellipse cx="2012" cy="956.4" rx="22" ry="22" fill="#c01010" opacity="0.45" filter="url(#bd8)" transform="rotate(0 2012 956.4)"/>
<ellipse cx="2012" cy="956.4" rx="15" ry="15" fill="#ff2424" filter="url(#bd15)" transform="rotate(0 2012 956.4)"/>
<ellipse cx="2087" cy="887" rx="19" ry="22" fill="#c01010" opacity="0.45" filter="url(#bd8)" transform="rotate(-20 2087 887)"/>
<ellipse cx="2087" cy="887" rx="12" ry="15" fill="#ff2424" filter="url(#bd15)" transform="rotate(-20 2087 887)"/>
<ellipse cx="2309" cy="1084.7" rx="18" ry="21" fill="#c01010" opacity="0.45" filter="url(#bd8)" transform="rotate(0 2309 1084.7)"/>
<ellipse cx="2309" cy="1084.7" rx="11" ry="14" fill="#ff2424" filter="url(#bd15)" transform="rotate(0 2309 1084.7)"/>
<ellipse cx="2286" cy="900" rx="14" ry="12" fill="#a01010" opacity="0.7" filter="url(#bd8)"/>
</g>
<text x="2320" y="720" font-size="46" fill="#e02222" text-anchor="end" font-weight="normal" >RV</text>
<rect x="2361" y="669" width="467" height="482" fill="url(#gD2)" />
<g clip-path="url(#cD2)">
<g fill="#2f7a1c" opacity="0.6"><circle cx="2472" cy="720" r="1.4"/><circle cx="2435" cy="703" r="1.4"/><circle cx="2788" cy="1054" r="1.8"/><circle cx="2466" cy="928" r="1.3"/><circle cx="2443" cy="722" r="1.2"/><circle cx="2792" cy="1067" r="1.8"/><circle cx="2734" cy="763" r="1.3"/><circle cx="2653" cy="1021" r="1.9"/><circle cx="2770" cy="712" r="1.6"/><circle cx="2674" cy="913" r="1.2"/><circle cx="2582" cy="714" r="1.9"/><circle cx="2764" cy="933" r="1.3"/><circle cx="2784" cy="945" r="1.9"/><circle cx="2756" cy="914" r="1.4"/><circle cx="2640" cy="877" r="1.2"/><circle cx="2504" cy="1059" r="1.0"/><circle cx="2384" cy="970" r="1.3"/><circle cx="2611" cy="896" r="1.3"/><circle cx="2825" cy="764" r="1.4"/><circle cx="2457" cy="973" r="1.3"/><circle cx="2528" cy="1028" r="1.3"/><circle cx="2622" cy="1103" r="1.1"/><circle cx="2392" cy="780" r="1.8"/><circle cx="2648" cy="784" r="1.3"/><circle cx="2445" cy="890" r="1.0"/><circle cx="2686" cy="1099" r="2.0"/><circle cx="2703" cy="1130" r="1.0"/><circle cx="2497" cy="1133" r="1.8"/><circle cx="2553" cy="1122" r="1.6"/><circle cx="2742" cy="811" r="1.2"/><circle cx="2569" cy="736" r="1.4"/><circle cx="2808" cy="829" r="1.0"/><circle cx="2384" cy="752" r="1.8"/><circle cx="2531" cy="810" r="1.1"/><circle cx="2818" cy="874" r="1.2"/><circle cx="2390" cy="697" r="1.2"/><circle cx="2676" cy="743" r="1.0"/><circle cx="2590" cy="790" r="2.0"/><circle cx="2420" cy="924" r="1.8"/><circle cx="2553" cy="1143" r="1.5"/><circle cx="2475" cy="867" r="1.0"/><circle cx="2558" cy="790" r="1.9"/><circle cx="2748" cy="909" r="1.0"/><circle cx="2481" cy="787" r="1.2"/><circle cx="2470" cy="1087" r="1.1"/><circle cx="2387" cy="1115" r="1.6"/><circle cx="2822" cy="864" r="1.9"/><circle cx="2666" cy="1049" r="1.7"/><circle cx="2592" cy="715" r="1.2"/><circle cx="2768" cy="1101" r="1.9"/><circle cx="2519" cy="985" r="1.8"/><circle cx="2660" cy="1060" r="1.5"/><circle cx="2666" cy="999" r="1.3"/><circle cx="2790" cy="1128" r="1.1"/><circle cx="2813" cy="1131" r="1.7"/><circle cx="2384" cy="1101" r="1.1"/><circle cx="2811" cy="990" r="1.1"/><circle cx="2440" cy="975" r="1.6"/><circle cx="2709" cy="1114" r="1.2"/><circle cx="2365" cy="1112" r="1.0"/><circle cx="2769" cy="726" r="1.8"/><circle cx="2726" cy="1091" r="1.6"/><circle cx="2770" cy="767" r="1.7"/><circle cx="2516" cy="1097" r="1.8"/><circle cx="2581" cy="923" r="1.0"/><circle cx="2379" cy="955" r="1.5"/><circle cx="2763" cy="962" r="1.1"/><circle cx="2531" cy="1038" r="1.5"/><circle cx="2368" cy="1071" r="1.8"/><circle cx="2402" cy="931" r="1.4"/><circle cx="2728" cy="820" r="1.2"/><circle cx="2588" cy="1133" r="1.1"/><circle cx="2416" cy="968" r="1.9"/><circle cx="2600" cy="878" r="1.9"/><circle cx="2723" cy="703" r="1.9"/><circle cx="2454" cy="816" r="1.8"/><circle cx="2559" cy="1053" r="1.2"/><circle cx="2768" cy="755" r="1.1"/><circle cx="2592" cy="833" r="1.5"/><circle cx="2782" cy="1011" r="1.0"/><circle cx="2507" cy="931" r="1.5"/><circle cx="2694" cy="902" r="1.1"/><circle cx="2477" cy="1076" r="1.4"/><circle cx="2718" cy="1142" r="1.6"/><circle cx="2676" cy="962" r="1.3"/><circle cx="2786" cy="894" r="1.9"/><circle cx="2505" cy="1086" r="1.8"/><circle cx="2647" cy="882" r="1.1"/><circle cx="2720" cy="844" r="1.7"/><circle cx="2425" cy="710" r="1.1"/><circle cx="2738" cy="756" r="1.9"/><circle cx="2535" cy="946" r="1.4"/><circle cx="2650" cy="716" r="1.4"/><circle cx="2796" cy="757" r="1.7"/><circle cx="2514" cy="815" r="1.0"/><circle cx="2372" cy="1125" r="1.8"/><circle cx="2734" cy="1057" r="2.0"/><circle cx="2436" cy="950" r="1.5"/><circle cx="2629" cy="1119" r="1.8"/><circle cx="2811" cy="727" r="1.7"/><circle cx="2676" cy="1027" r="1.6"/><circle cx="2748" cy="816" r="1.9"/><circle cx="2551" cy="957" r="1.9"/><circle cx="2689" cy="819" r="1.2"/><circle cx="2514" cy="971" r="2.0"/><circle cx="2779" cy="862" r="1.4"/><circle cx="2741" cy="807" r="1.4"/><circle cx="2369" cy="759" r="1.5"/><circle cx="2684" cy="965" r="1.4"/><circle cx="2803" cy="969" r="1.2"/><circle cx="2394" cy="1136" r="2.0"/><circle cx="2789" cy="960" r="1.3"/><circle cx="2405" cy="794" r="1.2"/><circle cx="2793" cy="1098" r="1.8"/><circle cx="2432" cy="785" r="1.3"/><circle cx="2802" cy="749" r="1.8"/><circle cx="2678" cy="933" r="2.0"/><circle cx="2484" cy="922" r="1.2"/><circle cx="2408" cy="686" r="1.3"/><circle cx="2419" cy="700" r="2.0"/><circle cx="2497" cy="1097" r="1.7"/><circle cx="2702" cy="984" r="2.0"/><circle cx="2770" cy="1015" r="1.6"/><circle cx="2684" cy="1017" r="1.6"/><circle cx="2596" cy="745" r="1.8"/><circle cx="2587" cy="703" r="1.2"/><circle cx="2768" cy="793" r="1.4"/><circle cx="2679" cy="1083" r="1.3"/><circle cx="2542" cy="873" r="1.0"/><circle cx="2769" cy="680" r="2.0"/><circle cx="2434" cy="746" r="1.8"/><circle cx="2744" cy="782" r="1.6"/><circle cx="2584" cy="1014" r="1.2"/><circle cx="2745" cy="1147" r="1.7"/><circle cx="2790" cy="1119" r="1.4"/><circle cx="2755" cy="1070" r="1.6"/><circle cx="2413" cy="967" r="1.9"/><circle cx="2504" cy="980" r="1.9"/><circle cx="2641" cy="689" r="1.6"/><circle cx="2481" cy="1081" r="1.7"/><circle cx="2505" cy="1099" r="1.6"/><circle cx="2520" cy="1070" r="1.9"/><circle cx="2777" cy="1093" r="1.7"/><circle cx="2687" cy="960" r="1.5"/><circle cx="2820" cy="840" r="1.1"/><circle cx="2693" cy="909" r="1.5"/><circle cx="2640" cy="790" r="1.2"/><circle cx="2396" cy="1045" r="1.9"/><circle cx="2686" cy="727" r="2.0"/><circle cx="2746" cy="914" r="1.0"/></g>
<ellipse cx="2636" cy="834" rx="8" ry="10" fill="#7dff40" filter="url(#bd3)"/><ellipse cx="2636" cy="834" rx="6" ry="8" fill="#a8ff60"/>
<ellipse cx="2412" cy="803" rx="11" ry="12" fill="#4fb82c" opacity="0.6" filter="url(#bd3)"/>
<ellipse cx="2389" cy="926" rx="12" ry="14" fill="#4fb82c" opacity="0.7" filter="url(#bd3)"/>
<ellipse cx="2753" cy="740" rx="10" ry="14" fill="#4fb82c" opacity="0.5" filter="url(#bd3)"/>
<ellipse cx="2799" cy="1082" rx="7" ry="9" fill="#4fb82c" opacity="0.85" filter="url(#bd3)"/>
<ellipse cx="2501" cy="955" rx="12" ry="12" fill="#4fb82c" opacity="0.35" filter="url(#bd3)"/>
<ellipse cx="2625" cy="1090" rx="10" ry="9" fill="#4fb82c" opacity="0.35" filter="url(#bd3)"/>
<ellipse cx="2385" cy="678" rx="9" ry="5" fill="#4fb82c" opacity="0.4" filter="url(#bd3)"/>
<ellipse cx="2570" cy="880" rx="11" ry="11" fill="#4fb82c" opacity="0.2" filter="url(#bd3)"/>
</g>
<text x="2803" y="720" font-size="46" fill="#3f9e28" text-anchor="end" font-weight="normal" >TVA</text>
<rect x="2383" y="1123" width="191" height="10" fill="#fff" /></g>
<g id="pe"><text x="5" y="1258" font-size="62" fill="#000" text-anchor="start" font-weight="bold" >E</text>
<defs><clipPath id="ce1"><path d="M132.8,1623.2 C130.7,1620.7 125.1,1617.3 119.8,1608.3 C114.6,1599.4 106.5,1581.1 101.3,1569.3 C96.0,1557.6 91.0,1545.8 88.3,1537.8 C85.5,1529.7 84.9,1527.6 84.6,1521.1 C84.2,1514.6 83.6,1507.8 86.4,1498.8 C89.2,1489.8 94.1,1477.1 101.3,1467.2 C108.4,1457.3 117.7,1447.8 129.1,1439.4 C140.6,1431.0 155.4,1422.5 169.9,1417.1 C184.5,1411.7 202.4,1407.8 216.4,1406.9 C230.3,1406.0 243.6,1408.3 253.5,1411.6 C263.4,1414.8 270.7,1420.8 275.8,1426.4 C280.8,1432.0 282.2,1441.9 283.5,1445.0 L283.5,1576.8 C282.9,1577.9 282.0,1581.7 279.5,1583.3 C276.9,1584.8 274.2,1586.4 268.3,1586.1 C262.4,1585.7 253.2,1583.7 244.2,1581.4 C235.2,1579.1 223.8,1571.4 214.5,1572.1 C205.2,1572.9 198.4,1579.7 188.5,1586.1 C178.6,1592.4 162.5,1604.3 155.1,1610.2 C147.7,1616.1 147.7,1619.2 144.0,1621.3 C140.2,1623.5 134.7,1622.9 132.8,1623.2 Z"/></clipPath></defs>
<g clip-path="url(#ce1)">
<path d="M99.4,1569.3 L169.9,1524.8 L188.5,1511.8 L207.1,1501.6 L225.6,1498.8 L274.8,1431.0 L299.9,1398.6 L58.6,1398.6 L58.6,1569.3 Z" stroke="none" stroke-width="0" fill="#ebebeb" />
<path d="M169.9,1524.8 L188.5,1511.8 L207.1,1502.5 L212.6,1500.7 L207.1,1513.7 L208.0,1547.1 L210.8,1571.2 L214.5,1572.1 L188.5,1586.1 L155.1,1610.2 L155.1,1584.2 L160.7,1550.8 Z" stroke="none" stroke-width="0" fill="#e6e6e6" />
<path d="M99.4,1569.3 L169.9,1524.8 L160.7,1550.8 L155.1,1584.2 L155.1,1610.2 L144.0,1626.9 L127.2,1628.7 L92.0,1584.2 Z" stroke="none" stroke-width="0" fill="#c6c6c6" />
<path d="M169.9,1524.8 L99.4,1569.3" stroke="#9a9a9a" stroke-width="1.2" fill="none" />
<path d="M169.9,1524.8 C168.4,1529.1 163.1,1540.9 160.7,1550.8 C158.2,1560.7 156.0,1574.3 155.1,1584.2 C154.2,1594.1 155.1,1605.9 155.1,1610.2" stroke="#9a9a9a" stroke-width="1.2" fill="none" />
<path d="M169.9,1524.8 C173.0,1522.6 182.3,1515.7 188.5,1511.8 C194.7,1507.9 200.9,1503.8 207.1,1501.6 C213.3,1499.4 222.5,1499.3 225.6,1498.8" stroke="#9a9a9a" stroke-width="1.2" fill="none" />
<path d="M225.6,1498.8 L274.8,1431.0" stroke="#9a9a9a" stroke-width="1.2" fill="none" />
<path d="M225.6,1498.8 C226.9,1500.2 228.7,1499.7 233.1,1507.2 C237.4,1514.6 246.7,1530.5 251.6,1543.4 C256.6,1556.2 260.9,1577.4 262.8,1584.2" stroke="#9a9a9a" stroke-width="1.2" fill="none" />
<path d="M233.1,1507.2 L283.5,1504.4" stroke="#9a9a9a" stroke-width="1.2" fill="none" />
<path d="M212.6,1500.7 C211.7,1502.8 207.8,1505.9 207.1,1513.7 C206.3,1521.4 207.4,1537.5 208.0,1547.1 C208.6,1556.7 210.3,1567.2 210.8,1571.2" stroke="#9a9a9a" stroke-width="1.2" fill="none" stroke-dasharray="5 3"/>
</g>
<path d="M132.8,1623.2 C130.7,1620.7 125.1,1617.3 119.8,1608.3 C114.6,1599.4 106.5,1581.1 101.3,1569.3 C96.0,1557.6 91.0,1545.8 88.3,1537.8 C85.5,1529.7 84.9,1527.6 84.6,1521.1 C84.2,1514.6 83.6,1507.8 86.4,1498.8 C89.2,1489.8 94.1,1477.1 101.3,1467.2 C108.4,1457.3 117.7,1447.8 129.1,1439.4 C140.6,1431.0 155.4,1422.5 169.9,1417.1 C184.5,1411.7 202.4,1407.8 216.4,1406.9 C230.3,1406.0 243.6,1408.3 253.5,1411.6 C263.4,1414.8 270.7,1420.8 275.8,1426.4 C280.8,1432.0 282.2,1441.9 283.5,1445.0 L283.5,1576.8 C282.9,1577.9 282.0,1581.7 279.5,1583.3 C276.9,1584.8 274.2,1586.4 268.3,1586.1 C262.4,1585.7 253.2,1583.7 244.2,1581.4 C235.2,1579.1 223.8,1571.4 214.5,1572.1 C205.2,1572.9 198.4,1579.7 188.5,1586.1 C178.6,1592.4 162.5,1604.3 155.1,1610.2 C147.7,1616.1 147.7,1619.2 144.0,1621.3 C140.2,1623.5 134.7,1622.9 132.8,1623.2 Z" stroke="#555" stroke-width="1.6" fill="none" />
<path d="M144.0,1621.3 C143.3,1623.2 139.0,1626.3 140.2,1632.5 C141.5,1638.6 146.4,1649.5 151.4,1658.4 C156.3,1667.4 162.2,1677.0 169.9,1686.3 C177.7,1695.6 188.5,1708.0 197.8,1714.1 C207.1,1720.3 216.4,1721.6 225.6,1723.4 C234.9,1725.3 246.4,1726.8 253.5,1725.3 C260.6,1723.7 264.0,1720.6 268.3,1714.1 C272.7,1707.6 277.0,1694.3 279.5,1686.3 C281.9,1678.2 282.6,1669.3 283.2,1665.9" stroke="#bdbdbd" stroke-width="1.2" fill="none" />
<path d="M151.4,1628.7 C151.4,1620.1 160.7,1609.1 169.9,1602.8 C179.2,1596.4 196.2,1591.9 207.1,1590.7 C217.9,1589.5 226.9,1591.5 234.9,1595.3 C243.0,1599.2 252.2,1606.5 255.3,1613.9 C258.4,1621.3 255.3,1630.6 253.5,1639.9 C251.6,1649.2 247.3,1660.3 244.2,1669.6 C241.1,1678.9 239.6,1690.6 234.9,1695.6 C230.3,1700.5 222.5,1700.8 216.4,1699.3 C210.2,1697.7 205.5,1693.7 197.8,1686.3 C190.1,1678.9 177.7,1664.3 169.9,1654.7 C162.2,1645.1 151.4,1637.4 151.4,1628.7 Z" stroke="#9a9a9a" stroke-width="1.2" fill="none" />
<path d="M148.6,1654.7 C152.2,1659.7 162.1,1675.2 169.9,1684.4 C177.8,1693.7 191.6,1706.1 195.9,1710.4" stroke="#9a9a9a" stroke-width="1.2" fill="none" />
<path d="M207.1,1695.6 C208.9,1693.1 213.6,1683.8 218.2,1680.7 C222.8,1677.6 230.6,1676.4 234.9,1677.0 C239.2,1677.6 242.6,1683.2 244.2,1684.4" stroke="#9a9a9a" stroke-width="1.2" fill="none" />
<path d="M229.3,1593.5 C229.3,1595.3 237.1,1605.9 240.5,1610.2 C243.9,1614.5 247.9,1619.2 249.8,1619.5 C251.6,1619.8 253.2,1615.4 251.6,1612.0 C250.1,1608.6 244.2,1602.1 240.5,1599.0 C236.8,1596.0 229.3,1591.6 229.3,1593.5 Z" stroke="#9a9a9a" stroke-width="1.2" fill="none" />
<ellipse cx="239.6" cy="1703.9" rx="6" ry="10" fill="none" stroke="#9a9a9a" stroke-width="1.2" transform="rotate(15 239.6 1703.9)"/>
<path d="M272.0,1589.8 C270.5,1595.0 264.9,1609.9 262.8,1621.3 C260.6,1632.8 260.0,1647.6 259.0,1658.4 C258.1,1669.3 256.0,1681.3 257.2,1686.3 C258.4,1691.2 264.0,1692.8 266.5,1688.1 C268.9,1683.5 270.8,1669.6 272.0,1658.4 C273.3,1647.3 273.6,1627.5 273.9,1621.3" stroke="#bdbdbd" stroke-width="1.2" fill="none" stroke-dasharray="3 3"/>
<text x="145.8" y="1482.7" font-size="39" fill="#000" text-anchor="start" font-weight="normal" >M2</text>
<text x="170.9" y="1566.6" font-size="39" fill="#000" text-anchor="start" font-weight="normal" >LO</text>
<text x="66.0" y="1608.7" font-size="39" fill="#000" text-anchor="start" font-weight="normal" >DLO</text>
<defs><clipPath id="ce2"><path d="M643.7,1393.4 C640.8,1391.0 634.3,1383.3 626.3,1379.0 C618.2,1374.7 605.7,1369.6 595.5,1367.7 C585.2,1365.8 576.7,1365.8 564.7,1367.7 C552.7,1369.6 537.3,1373.7 523.6,1379.0 C510.0,1384.3 494.6,1392.0 482.6,1399.5 C470.6,1407.0 459.7,1417.0 451.8,1424.1 C444.0,1431.3 442.2,1433.0 435.4,1442.6 C428.6,1452.2 417.6,1468.6 410.8,1481.6 C403.9,1494.6 397.6,1510.0 394.4,1520.6 C391.1,1531.2 390.9,1536.0 391.3,1545.2 C391.6,1554.4 393.9,1565.7 396.4,1576.0 C399.0,1586.3 401.5,1592.4 406.7,1606.8 C411.8,1621.1 421.4,1649.2 427.2,1662.2 C433.0,1675.2 436.8,1677.9 441.6,1684.8 C446.4,1691.6 449.1,1695.7 455.9,1703.2 C462.8,1710.8 473.0,1722.0 482.6,1729.9 C492.2,1737.8 503.1,1745.0 513.4,1750.4 C523.6,1755.9 533.9,1760.0 544.2,1762.7 C554.4,1765.5 564.7,1766.8 575.0,1766.8 C585.2,1766.8 596.2,1765.5 605.7,1762.7 C615.3,1760.0 626.1,1754.9 632.4,1750.4 C638.7,1746.0 641.8,1738.5 643.7,1736.1 Z"/></clipPath></defs>
<g clip-path="url(#ce2)">
<path d="M436.4,1442.6 L519.5,1510.3 L511.3,1530.8 L507.2,1545.2 L394.4,1521.6 L369.7,1463.1 Z" stroke="none" stroke-width="0" fill="#e6e6e6" />
<path d="M394.4,1521.6 L507.2,1544.2 L509.3,1553.4 L523.6,1557.5 L544.2,1562.7 L554.4,1567.8 L428.2,1662.2 L369.7,1647.8 L369.7,1524.7 Z" stroke="none" stroke-width="0" fill="#c4c4c4" />
<path d="M586.2,1470.3 C583.7,1470.1 576.8,1468.0 570.8,1468.9 C564.9,1469.7 556.8,1471.6 550.3,1475.4 C543.8,1479.3 537.0,1486.0 531.9,1491.9 C526.7,1497.7 523.0,1503.8 519.5,1510.3 C516.1,1516.8 513.4,1525.0 511.3,1530.8 C509.3,1536.7 507.6,1541.5 507.2,1545.2 C506.9,1549.0 506.5,1551.4 509.3,1553.4 C512.0,1555.5 517.8,1556.0 523.6,1557.5 C529.5,1559.1 538.7,1560.6 544.2,1562.7 C549.6,1564.7 553.6,1566.9 556.5,1569.8 C559.4,1572.7 561.6,1575.3 561.6,1580.1 C561.6,1584.9 559.0,1591.7 556.5,1598.6 C553.9,1605.4 549.1,1614.6 546.2,1621.1 C543.3,1627.6 539.7,1633.5 539.0,1637.6 C538.4,1641.7 540.2,1644.4 542.1,1645.8 C544.0,1647.1 546.9,1644.4 550.3,1645.8 C553.7,1647.1 560.1,1650.2 562.6,1654.0 C565.2,1657.7 566.4,1664.2 565.7,1668.3 C565.0,1672.4 561.1,1676.0 558.5,1678.6 C556.0,1681.2 551.7,1682.9 550.3,1683.7 L618.0,1643.7 C617.0,1641.7 614.5,1636.5 611.9,1631.4 C609.3,1626.3 604.7,1618.7 602.7,1612.9 C600.6,1607.1 599.7,1604.4 599.6,1596.5 C599.4,1588.6 601.5,1576.0 601.6,1565.7 C601.8,1555.5 601.3,1545.2 600.6,1535.0 C599.9,1524.7 598.6,1512.7 597.5,1504.2 C596.5,1495.6 596.3,1489.3 594.4,1483.6 C592.6,1478.0 587.6,1472.5 586.2,1470.3 Z" stroke="none" stroke-width="0" fill="#fff" />
<path d="M586.2,1470.3 C583.7,1470.1 576.8,1468.0 570.8,1468.9 C564.9,1469.7 556.8,1471.6 550.3,1475.4 C543.8,1479.3 537.0,1486.0 531.9,1491.9 C526.7,1497.7 523.0,1503.8 519.5,1510.3 C516.1,1516.8 513.4,1525.0 511.3,1530.8 C509.3,1536.7 507.6,1541.5 507.2,1545.2 C506.9,1549.0 506.5,1551.4 509.3,1553.4 C512.0,1555.5 517.8,1556.0 523.6,1557.5 C529.5,1559.1 538.7,1560.6 544.2,1562.7 C549.6,1564.7 553.6,1566.9 556.5,1569.8 C559.4,1572.7 561.6,1575.3 561.6,1580.1 C561.6,1584.9 559.0,1591.7 556.5,1598.6 C553.9,1605.4 549.1,1614.6 546.2,1621.1 C543.3,1627.6 539.7,1633.5 539.0,1637.6 C538.4,1641.7 540.2,1644.4 542.1,1645.8 C544.0,1647.1 546.9,1644.4 550.3,1645.8 C553.7,1647.1 560.1,1650.2 562.6,1654.0 C565.2,1657.7 566.4,1664.2 565.7,1668.3 C565.0,1672.4 561.1,1676.0 558.5,1678.6 C556.0,1681.2 551.7,1682.9 550.3,1683.7" stroke="#9a9a9a" stroke-width="1.2" fill="none" />
<path d="M618.0,1643.7 C617.0,1641.7 614.5,1636.5 611.9,1631.4 C609.3,1626.3 604.7,1618.7 602.7,1612.9 C600.6,1607.1 599.7,1604.4 599.6,1596.5 C599.4,1588.6 601.5,1576.0 601.6,1565.7 C601.8,1555.5 601.3,1545.2 600.6,1535.0 C599.9,1524.7 598.6,1512.7 597.5,1504.2 C596.5,1495.6 596.3,1489.3 594.4,1483.6 C592.6,1478.0 587.6,1472.5 586.2,1470.3" stroke="#9a9a9a" stroke-width="1.2" fill="none" />
<path d="M586.2,1470.3 L636.5,1389.3" stroke="#9a9a9a" stroke-width="1.2" fill="none" />
<path d="M600.6,1598.6 L643.7,1598.6" stroke="#9a9a9a" stroke-width="1.2" fill="none" />
<path d="M429.3,1662.2 L482.6,1643.7" stroke="#9a9a9a" stroke-width="1.2" fill="none" />
<path d="M455.9,1703.2 C458.0,1703.9 464.5,1704.3 468.2,1707.3 C472.0,1710.4 476.1,1717.9 478.5,1721.7 C480.9,1725.5 481.9,1728.5 482.6,1729.9" stroke="#9a9a9a" stroke-width="1.2" fill="none" />
<path d="M482.6,1643.7 L540.1,1626.3" stroke="#9a9a9a" stroke-width="1.2" fill="none" stroke-dasharray="5 3"/>
<path d="M449.8,1668.3 C452.5,1665.9 457.3,1658.1 466.2,1654.0 C475.1,1649.9 490.1,1646.1 503.1,1643.7 C516.1,1641.3 537.3,1640.3 544.2,1639.6" stroke="#9a9a9a" stroke-width="1.2" fill="none" stroke-dasharray="5 3"/>
<path d="M449.8,1668.3 C451.1,1671.1 452.5,1680.7 458.0,1684.8 C463.5,1688.9 476.4,1688.9 482.6,1693.0 C488.8,1697.1 490.8,1705.6 494.9,1709.4 C499.0,1713.1 505.2,1714.5 507.2,1715.5" stroke="#9a9a9a" stroke-width="1.2" fill="none" stroke-dasharray="5 3"/>
<path d="M462.1,1666.3 C463.8,1665.3 466.9,1662.2 472.3,1660.1 C477.8,1658.1 491.2,1652.6 494.9,1654.0 C498.7,1655.3 492.2,1664.2 494.9,1668.3 C497.7,1672.4 506.5,1677.2 511.3,1678.6 C516.1,1680.0 521.6,1676.9 523.6,1676.5" stroke="#9a9a9a" stroke-width="1.2" fill="none" stroke-dasharray="5 3"/>
<path d="M546.2,1645.8 C552.7,1642.7 577.0,1628.7 585.2,1627.3 C593.4,1625.9 593.4,1630.7 595.5,1637.6 C597.5,1644.4 599.2,1660.5 597.5,1668.3 C595.8,1676.2 593.1,1681.3 585.2,1684.8 C577.3,1688.2 556.1,1688.2 550.3,1688.9" stroke="#9a9a9a" stroke-width="1.2" fill="none" stroke-dasharray="5 3"/>
<path d="M550.3,1688.9 C550.0,1694.0 552.7,1712.8 548.3,1719.6 C543.8,1726.5 532.5,1726.1 523.6,1729.9 C514.8,1733.7 497.0,1737.4 494.9,1742.2 C492.9,1747.0 508.6,1755.9 511.3,1758.6" stroke="#9a9a9a" stroke-width="1.2" fill="none" stroke-dasharray="5 3"/>
<path d="M597.5,1668.3 C598.9,1673.8 603.3,1694.3 605.7,1701.2 C608.1,1708.0 621.5,1706.3 611.9,1709.4 C602.3,1712.5 558.9,1717.9 548.3,1719.6" stroke="#9a9a9a" stroke-width="1.2" fill="none" stroke-dasharray="5 3"/>
<path d="M503.1,1736.1 C510.0,1738.1 530.5,1747.3 544.2,1748.4 C557.9,1749.4 572.9,1745.3 585.2,1742.2 C597.5,1739.1 612.6,1732.0 618.0,1729.9" stroke="#9a9a9a" stroke-width="1.2" fill="none" stroke-dasharray="5 3"/>
<path d="M622.2,1617.0 C623.2,1616.7 626.6,1613.3 628.3,1615.0 C630.0,1616.7 632.8,1619.8 632.4,1627.3 C632.1,1634.8 627.3,1654.7 626.3,1660.1" stroke="#9a9a9a" stroke-width="1.2" fill="none" stroke-dasharray="5 3"/>
<path d="M582.1,1609.9 C582.8,1609.0 585.4,1608.7 587.3,1610.9 C589.1,1613.1 591.8,1619.1 593.4,1623.2 C595.1,1627.3 596.9,1633.1 597.1,1635.5 C597.3,1637.9 595.9,1638.9 594.4,1637.6 C593.0,1636.2 590.2,1630.9 588.3,1627.3 C586.4,1623.7 584.2,1618.9 583.2,1616.0 C582.1,1613.1 581.5,1610.7 582.1,1609.9 Z" stroke="none" stroke-width="0" fill="#000" />
</g>
<path d="M643.7,1393.4 C640.8,1391.0 634.3,1383.3 626.3,1379.0 C618.2,1374.7 605.7,1369.6 595.5,1367.7 C585.2,1365.8 576.7,1365.8 564.7,1367.7 C552.7,1369.6 537.3,1373.7 523.6,1379.0 C510.0,1384.3 494.6,1392.0 482.6,1399.5 C470.6,1407.0 459.7,1417.0 451.8,1424.1 C444.0,1431.3 442.2,1433.0 435.4,1442.6 C428.6,1452.2 417.6,1468.6 410.8,1481.6 C403.9,1494.6 397.6,1510.0 394.4,1520.6 C391.1,1531.2 390.9,1536.0 391.3,1545.2 C391.6,1554.4 393.9,1565.7 396.4,1576.0 C399.0,1586.3 401.5,1592.4 406.7,1606.8 C411.8,1621.1 421.4,1649.2 427.2,1662.2 C433.0,1675.2 436.8,1677.9 441.6,1684.8 C446.4,1691.6 449.1,1695.7 455.9,1703.2 C462.8,1710.8 473.0,1722.0 482.6,1729.9 C492.2,1737.8 503.1,1745.0 513.4,1750.4 C523.6,1755.9 533.9,1760.0 544.2,1762.7 C554.4,1765.5 564.7,1766.8 575.0,1766.8 C585.2,1766.8 596.2,1765.5 605.7,1762.7 C615.3,1760.0 626.1,1754.9 632.4,1750.4 C638.7,1746.0 641.8,1738.5 643.7,1736.1" stroke="#555" stroke-width="1.6" fill="none" />
<path d="M626.3,1660.1 C625.9,1662.9 623.9,1673.5 624.2,1676.5 C624.5,1679.6 626.3,1678.6 628.3,1678.6 C630.4,1678.6 635.1,1678.9 636.5,1676.5 C637.9,1674.2 637.7,1667.7 636.5,1664.2 C635.3,1660.8 630.5,1657.4 629.3,1656.0" stroke="#9a9a9a" stroke-width="1.2" fill="none" />
<path d="M643.7,1680.7 C640.8,1680.8 629.8,1676.9 626.3,1681.7 C622.7,1686.5 620.4,1706.1 622.2,1709.4 C623.9,1712.6 632.9,1704.6 636.5,1701.2 C640.1,1697.8 642.5,1690.9 643.7,1688.9" stroke="#9a9a9a" stroke-width="1.2" fill="none" />
<text x="551.4" y="1446.7" font-size="39" fill="#000" text-anchor="start" font-weight="normal" >M1</text>
<text x="463.1" y="1520.6" font-size="39" fill="#000" text-anchor="start" font-weight="normal" >SS</text>
<text x="453.9" y="1599.6" font-size="39" fill="#000" text-anchor="start" font-weight="normal" >AI</text>
<text x="499.0" y="1705.3" font-size="39" fill="#000" text-anchor="start" font-weight="normal" >Pir</text>
<defs><clipPath id="ce3"><path d="M1069.2,1366.9 C1068.7,1365.3 1067.9,1360.7 1065.7,1357.5 C1063.6,1354.4 1061.4,1350.9 1056.3,1348.1 C1051.3,1345.4 1044.6,1342.5 1035.2,1341.1 C1025.9,1339.7 1011.8,1339.0 1000.1,1339.9 C988.3,1340.9 978.6,1343.3 964.9,1347.0 C951.2,1350.7 931.7,1357.7 918.0,1362.2 C904.3,1366.7 894.5,1368.9 882.8,1373.9 C871.1,1379.0 859.3,1385.3 847.6,1392.7 C835.9,1400.1 822.6,1409.1 812.4,1418.5 C802.3,1427.9 794.1,1438.0 786.6,1449.0 C779.2,1459.9 772.4,1472.4 767.9,1484.2 C763.4,1495.9 761.4,1507.6 759.7,1519.3 C757.9,1531.1 757.5,1544.7 757.3,1554.5 C757.1,1564.3 757.5,1569.4 758.5,1578.0 C759.5,1586.6 760.8,1596.3 763.2,1606.1 C765.5,1615.9 768.3,1626.1 772.6,1636.6 C776.9,1647.2 783.5,1660.1 789.0,1669.4 C794.5,1678.8 799.5,1685.5 805.4,1692.9 C811.3,1700.3 818.7,1708.1 824.2,1714.0 C829.6,1719.9 833.2,1722.6 838.2,1728.1 C843.3,1733.5 849.2,1740.6 854.7,1746.8 C860.1,1753.1 864.4,1760.1 871.1,1765.6 C877.7,1771.1 884.7,1776.3 894.5,1779.7 C904.3,1783.0 918.0,1785.1 929.7,1785.5 C941.4,1785.9 953.2,1784.5 964.9,1782.0 C976.6,1779.5 988.3,1775.0 1000.1,1770.3 C1011.8,1765.6 1023.7,1758.9 1035.2,1753.9 C1046.8,1748.8 1063.6,1742.1 1069.2,1739.8 Z"/></clipPath></defs>
<g clip-path="url(#ce3)">
<path d="M882.8,1372.8 L920.3,1467.7 L840.6,1574.5 L730.4,1576.8 L730.4,1366.9 Z" stroke="none" stroke-width="0" fill="#ededed" />
<path d="M730.4,1576.8 L840.6,1574.5 L840.6,1660.1 L789.0,1670.6 L730.4,1670.6 Z" stroke="none" stroke-width="0" fill="#e2e2e2" />
<path d="M789.0,1670.6 L833.5,1660.1 L894.5,1728.1 L861.7,1751.5 L800.7,1765.6 L753.8,1671.8 Z" stroke="none" stroke-width="0" fill="#c2c2c2" />
<path d="M1069.2,1498.2 C1067.1,1497.5 1066.7,1498.2 1056.3,1493.5 C1046.0,1488.9 1017.3,1477.9 1007.1,1470.1 C996.9,1462.3 998.5,1451.1 995.4,1446.6 C992.2,1442.1 995.4,1442.0 988.3,1443.1 C981.3,1444.3 964.5,1449.6 953.2,1453.7 C941.8,1457.8 930.1,1462.7 920.3,1467.7 C910.5,1472.8 902.7,1477.9 894.5,1484.2 C886.3,1490.4 877.7,1497.5 871.1,1505.3 C864.4,1513.1 859.0,1522.9 854.7,1531.1 C850.4,1539.3 847.6,1547.3 845.3,1554.5 C842.9,1561.8 842.9,1567.4 840.6,1574.5 C838.2,1581.5 833.4,1588.3 831.2,1596.7 C829.1,1605.1 827.9,1616.3 827.7,1624.9 C827.5,1633.5 829.1,1642.5 830.0,1648.3 C831.0,1654.2 829.8,1655.4 833.5,1660.1 C837.3,1664.7 846.1,1671.4 852.3,1676.5 C858.6,1681.6 865.6,1685.5 871.1,1690.5 C876.5,1695.6 881.2,1700.7 885.1,1707.0 C889.0,1713.2 893.7,1723.4 894.5,1728.1 C895.3,1732.8 894.5,1732.0 889.8,1735.1 C885.1,1738.2 870.3,1744.9 866.4,1746.8 L871.1,1765.6 L1069.2,1765.6 Z" stroke="none" stroke-width="0" fill="#fff" />
<path d="M1069.2,1498.2 C1067.1,1497.5 1066.7,1498.2 1056.3,1493.5 C1046.0,1488.9 1017.3,1477.9 1007.1,1470.1 C996.9,1462.3 998.5,1451.1 995.4,1446.6 C992.2,1442.1 995.4,1442.0 988.3,1443.1 C981.3,1444.3 964.5,1449.6 953.2,1453.7 C941.8,1457.8 930.1,1462.7 920.3,1467.7 C910.5,1472.8 902.7,1477.9 894.5,1484.2 C886.3,1490.4 877.7,1497.5 871.1,1505.3 C864.4,1513.1 859.0,1522.9 854.7,1531.1 C850.4,1539.3 847.6,1547.3 845.3,1554.5 C842.9,1561.8 842.9,1567.4 840.6,1574.5 C838.2,1581.5 833.4,1588.3 831.2,1596.7 C829.1,1605.1 827.9,1616.3 827.7,1624.9 C827.5,1633.5 829.1,1642.5 830.0,1648.3 C831.0,1654.2 829.8,1655.4 833.5,1660.1 C837.3,1664.7 846.1,1671.4 852.3,1676.5 C858.6,1681.6 865.6,1685.5 871.1,1690.5 C876.5,1695.6 881.2,1700.7 885.1,1707.0 C889.0,1713.2 893.7,1723.4 894.5,1728.1 C895.3,1732.8 894.5,1732.0 889.8,1735.1 C885.1,1738.2 870.3,1744.9 866.4,1746.8" stroke="#9a9a9a" stroke-width="1.2" fill="none" />
<path d="M881.6,1373.9 L920.3,1467.7" stroke="#9a9a9a" stroke-width="1.2" fill="none" />
<path d="M1058.7,1350.5 L995.4,1444.3" stroke="#9a9a9a" stroke-width="1.2" fill="none" />
<path d="M758.5,1576.8 L840.6,1574.5" stroke="#9a9a9a" stroke-width="1.2" fill="none" />
<path d="M1003.6,1492.4 C997.1,1489.6 979.1,1477.7 964.9,1476.0 C950.6,1474.2 932.0,1476.9 918.0,1481.8 C903.9,1486.7 890.6,1495.9 880.5,1505.3 C870.3,1514.7 862.5,1526.0 857.0,1538.1 C851.5,1550.2 849.2,1565.5 847.6,1578.0 C846.1,1590.5 846.4,1601.4 847.6,1613.2 C848.8,1624.9 850.7,1637.4 854.7,1648.3 C858.6,1659.3 864.4,1669.4 871.1,1678.8 C877.7,1688.2 890.2,1698.0 894.5,1704.6 C898.8,1711.3 896.5,1716.3 896.9,1718.7" stroke="#9a9a9a" stroke-width="1.2" fill="none" />
<path d="M1069.2,1507.6 C1063.6,1506.1 1046.2,1500.8 1035.2,1498.2 C1024.3,1495.7 1008.9,1493.4 1003.6,1492.4" stroke="#9a9a9a" stroke-width="1.2" fill="none" />
<path d="M1002.4,1641.3 C999.3,1641.7 989.9,1640.5 983.6,1643.6 C977.4,1646.8 969.6,1653.0 964.9,1660.1 C960.2,1667.1 955.9,1677.6 955.5,1685.9 C955.1,1694.1 957.8,1704.2 962.5,1709.3 C967.2,1714.4 976.6,1717.1 983.6,1716.3 C990.7,1715.6 999.3,1710.5 1004.7,1704.6 C1010.2,1698.8 1014.9,1689.4 1016.5,1681.2 C1018.0,1673.0 1016.5,1662.0 1014.1,1655.4 C1011.8,1648.7 1004.4,1643.6 1002.4,1641.3" stroke="#9a9a9a" stroke-width="1.2" fill="none" />
<path d="M1044.6,1526.4 C1047.0,1526.0 1054.6,1524.0 1058.7,1524.0 C1062.8,1524.0 1067.5,1526.0 1069.2,1526.4" stroke="#9a9a9a" stroke-width="1.2" fill="none" />
<path d="M1039.9,1531.1 C1041.5,1533.4 1048.5,1541.2 1049.3,1545.1 C1050.1,1549.0 1048.5,1553.7 1044.6,1554.5 C1040.7,1555.3 1029.0,1550.6 1025.9,1549.8" stroke="#9a9a9a" stroke-width="1.2" fill="none" />
<path d="M866.4,1751.5 C871.1,1753.5 884.0,1760.9 894.5,1763.2 C905.1,1765.6 918.0,1766.0 929.7,1765.6 C941.4,1765.2 953.2,1763.6 964.9,1760.9 C976.6,1758.2 988.3,1753.5 1000.1,1749.2 C1011.8,1744.9 1023.7,1740.2 1035.2,1735.1 C1046.8,1730.0 1063.6,1721.4 1069.2,1718.7" stroke="#9a9a9a" stroke-width="1.2" fill="none" />
<path d="M889.8,1735.1 C892.2,1736.3 899.2,1741.7 903.9,1742.1 C908.6,1742.5 913.3,1737.4 918.0,1737.4 C922.7,1737.4 927.4,1742.5 932.0,1742.1 C936.7,1741.7 940.6,1735.5 946.1,1735.1 C951.6,1734.7 958.6,1740.2 964.9,1739.8 C971.1,1739.4 980.5,1733.9 983.6,1732.8" stroke="#9a9a9a" stroke-width="1.2" fill="none" />
<path d="M889.8,1735.1 C892.2,1733.9 899.2,1728.5 903.9,1728.1 C908.6,1727.7 913.3,1733.1 918.0,1732.8 C922.7,1732.4 927.4,1726.1 932.0,1725.7 C936.7,1725.3 940.6,1730.8 946.1,1730.4 C951.6,1730.0 958.6,1723.0 964.9,1723.4 C971.1,1723.8 980.5,1731.2 983.6,1732.8" stroke="#9a9a9a" stroke-width="1.2" fill="none" />
<path d="M1069.2,1587.4 C1067.5,1593.6 1061.2,1610.8 1058.7,1624.9 C1056.1,1638.9 1057.9,1658.1 1054.0,1671.8 C1050.1,1685.5 1043.1,1696.8 1035.2,1707.0 C1027.4,1717.1 1011.8,1728.5 1007.1,1732.8" stroke="#9a9a9a" stroke-width="1.2" fill="none" />
<path d="M1011.8,1601.4 C1014.1,1604.6 1022.3,1613.2 1025.9,1620.2 C1029.4,1627.2 1032.9,1637.0 1032.9,1643.6 C1032.9,1650.3 1027.0,1657.3 1025.9,1660.1" stroke="#9a9a9a" stroke-width="1.2" fill="none" />
<path d="M1030.5,1648.3 C1032.1,1651.1 1039.1,1658.5 1039.9,1664.7 C1040.7,1671.0 1037.6,1683.1 1035.2,1685.9 C1032.9,1688.6 1027.4,1681.9 1025.9,1681.2" stroke="#9a9a9a" stroke-width="1.2" fill="none" />
<path d="M866.4,1685.9 C869.5,1685.1 880.5,1679.6 885.1,1681.2 C889.8,1682.7 892.6,1689.8 894.5,1695.2 C896.5,1700.7 896.5,1710.9 896.9,1714.0" stroke="#9a9a9a" stroke-width="1.2" fill="none" />
<path d="M833.5,1608.5 C835.5,1608.9 842.9,1606.9 845.3,1610.8 C847.6,1614.7 849.2,1627.6 847.6,1631.9 C846.1,1636.2 839.2,1637.8 835.9,1636.6 C832.6,1635.4 829.1,1626.8 827.7,1624.9" stroke="#9a9a9a" stroke-width="1.2" fill="none" />
<path d="M763.2,1605.6 L831.2,1597.9" stroke="#9a9a9a" stroke-width="1.2" fill="none" stroke-dasharray="5 3"/>
<path d="M779.6,1652.6 L828.9,1641.3" stroke="#9a9a9a" stroke-width="1.2" fill="none" stroke-dasharray="5 3"/>
<path d="M789.0,1670.6 L833.5,1660.1" stroke="#9a9a9a" stroke-width="1.2" fill="none" stroke-dasharray="5 3"/>
<path d="M983.6,1732.8 C988.3,1732.0 999.3,1729.2 1011.8,1728.1 C1024.3,1726.9 1050.9,1726.1 1058.7,1725.7" stroke="#9a9a9a" stroke-width="1.2" fill="none" stroke-dasharray="5 3"/>
<path d="M1001.2,1493.5 C1003.4,1491.4 1013.2,1492.4 1018.8,1494.7 C1024.5,1497.1 1031.5,1503.3 1035.2,1507.6 C1038.9,1511.9 1041.1,1516.2 1041.1,1520.5 C1041.1,1524.8 1038.6,1529.3 1035.2,1533.4 C1031.9,1537.5 1024.9,1540.8 1021.2,1545.1 C1017.4,1549.4 1014.7,1551.8 1013.0,1559.2 C1011.2,1566.6 1011.4,1578.8 1010.6,1589.7 C1009.8,1600.6 1009.2,1616.3 1008.3,1624.9 C1007.3,1633.5 1005.9,1638.8 1004.7,1641.3 C1003.6,1643.8 1001.4,1646.8 1001.2,1640.1 C1001.0,1633.5 1002.7,1613.7 1003.6,1601.4 C1004.5,1589.1 1005.6,1578.0 1006.6,1566.2 C1007.6,1554.5 1009.6,1540.8 1009.4,1531.1 C1009.3,1521.3 1007.3,1513.9 1005.9,1507.6 C1004.6,1501.4 999.1,1495.7 1001.2,1493.5 Z" stroke="none" stroke-width="0" fill="#000" />
</g>
<path d="M1069.2,1366.9 C1068.7,1365.3 1067.9,1360.7 1065.7,1357.5 C1063.6,1354.4 1061.4,1350.9 1056.3,1348.1 C1051.3,1345.4 1044.6,1342.5 1035.2,1341.1 C1025.9,1339.7 1011.8,1339.0 1000.1,1339.9 C988.3,1340.9 978.6,1343.3 964.9,1347.0 C951.2,1350.7 931.7,1357.7 918.0,1362.2 C904.3,1366.7 894.5,1368.9 882.8,1373.9 C871.1,1379.0 859.3,1385.3 847.6,1392.7 C835.9,1400.1 822.6,1409.1 812.4,1418.5 C802.3,1427.9 794.1,1438.0 786.6,1449.0 C779.2,1459.9 772.4,1472.4 767.9,1484.2 C763.4,1495.9 761.4,1507.6 759.7,1519.3 C757.9,1531.1 757.5,1544.7 757.3,1554.5 C757.1,1564.3 757.5,1569.4 758.5,1578.0 C759.5,1586.6 760.8,1596.3 763.2,1606.1 C765.5,1615.9 768.3,1626.1 772.6,1636.6 C776.9,1647.2 783.5,1660.1 789.0,1669.4 C794.5,1678.8 799.5,1685.5 805.4,1692.9 C811.3,1700.3 818.7,1708.1 824.2,1714.0 C829.6,1719.9 833.2,1722.6 838.2,1728.1 C843.3,1733.5 849.2,1740.6 854.7,1746.8 C860.1,1753.1 864.4,1760.1 871.1,1765.6 C877.7,1771.1 884.7,1776.3 894.5,1779.7 C904.3,1783.0 918.0,1785.1 929.7,1785.5 C941.4,1785.9 953.2,1784.5 964.9,1782.0 C976.6,1779.5 988.3,1775.0 1000.1,1770.3 C1011.8,1765.6 1023.7,1758.9 1035.2,1753.9 C1046.8,1748.8 1063.6,1742.1 1069.2,1739.8" stroke="#555" stroke-width="1.6" fill="none" />
<path d="M745.6,1573.3 L790.2,1587.4" stroke="#111" stroke-width="2.2" fill="none" />
<path d="M756.2,1627.9 L804.2,1627.9" stroke="#111" stroke-width="2.2" fill="none" />
<path d="M745.6,1676.5 L790.2,1662.9" stroke="#111" stroke-width="2.2" fill="none" />
<text x="936.7" y="1415.0" font-size="39" fill="#000" text-anchor="start" font-weight="normal" >M1</text>
<text x="806.6" y="1494.7" font-size="39" fill="#000" text-anchor="start" font-weight="normal" >SS</text>
<text x="891.0" y="1593.2" font-size="39" fill="#000" text-anchor="start" font-weight="normal" >CPu</text>
<text x="695.2" y="1580.3" font-size="39" fill="#000" text-anchor="start" font-weight="normal" >GI</text>
<text x="684.6" y="1644.8" font-size="39" fill="#000" text-anchor="start" font-weight="normal" >AID</text>
<text x="678.8" y="1692.2" font-size="39" fill="#000" text-anchor="start" font-weight="normal" >AIV</text>
<text x="826.5" y="1716.3" font-size="39" fill="#000" text-anchor="start" font-weight="normal" >Pir</text>
<defs><clipPath id="ce4"><path d="M1469.5,1329.5 C1467.2,1327.8 1462.1,1322.3 1455.6,1319.4 C1449.0,1316.4 1440.7,1313.4 1430.2,1311.7 C1419.6,1310.1 1404.8,1308.8 1392.1,1309.2 C1379.4,1309.6 1366.7,1311.7 1354.0,1314.3 C1341.3,1316.8 1328.6,1320.0 1315.9,1324.4 C1303.2,1328.9 1290.5,1334.4 1277.8,1341.0 C1265.1,1347.5 1252.4,1354.5 1239.7,1363.8 C1227.0,1373.1 1213.0,1385.0 1201.6,1396.8 C1190.2,1408.7 1180.4,1421.0 1171.1,1434.9 C1161.8,1448.9 1152.5,1465.8 1145.7,1480.6 C1138.9,1495.4 1133.7,1510.7 1130.5,1523.8 C1127.3,1536.9 1126.9,1549.2 1126.7,1559.4 C1126.5,1569.5 1127.3,1575.4 1129.2,1584.8 C1131.1,1594.1 1134.1,1605.5 1138.1,1615.2 C1142.1,1625.0 1147.4,1633.0 1153.3,1643.2 C1159.3,1653.3 1166.9,1665.6 1173.7,1676.2 C1180.4,1686.8 1187.6,1697.4 1194.0,1706.7 C1200.3,1716.0 1205.4,1724.9 1211.7,1732.1 C1218.1,1739.3 1224.4,1745.2 1232.1,1749.8 C1239.7,1754.5 1247.7,1758.1 1257.5,1760.0 C1267.2,1761.9 1278.6,1762.1 1290.5,1761.3 C1302.3,1760.4 1315.9,1757.7 1328.6,1754.9 C1341.3,1752.2 1354.0,1747.7 1366.7,1744.8 C1379.4,1741.8 1392.1,1738.0 1404.8,1737.1 C1417.5,1736.3 1432.1,1739.7 1442.9,1739.7 C1453.7,1739.7 1465.1,1737.6 1469.5,1737.1 Z"/></clipPath></defs>
<g clip-path="url(#ce4)">
<path d="M1354.0,1313.0 L1366.7,1407.0 L1205.4,1567.0 L1100.0,1569.5 L1100.0,1305.4 Z" stroke="none" stroke-width="0" fill="#ededed" />
<path d="M1100.0,1570.0 L1205.4,1567.0 L1201.6,1583.5 L1100.0,1597.5 Z" stroke="none" stroke-width="0" fill="#b8b8b8" />
<path d="M1161.0,1655.9 L1194.0,1638.1 L1201.6,1648.3 L1219.4,1666.0 L1242.2,1686.3 L1262.5,1709.2 L1252.4,1716.8 L1237.1,1754.9 L1176.2,1762.5 L1125.4,1661.0 Z" stroke="none" stroke-width="0" fill="#b2b2b2" />
<path d="M1469.5,1442.5 C1465.1,1441.3 1451.5,1438.3 1442.9,1434.9 C1434.2,1431.5 1423.8,1427.1 1417.5,1422.2 C1411.1,1417.4 1413.2,1408.3 1404.8,1405.7 C1396.3,1403.2 1379.4,1404.2 1366.7,1407.0 C1354.0,1409.7 1341.3,1415.9 1328.6,1422.2 C1315.9,1428.6 1303.2,1435.8 1290.5,1445.1 C1277.8,1454.4 1263.0,1466.7 1252.4,1478.1 C1241.8,1489.5 1233.8,1502.2 1227.0,1513.7 C1220.2,1525.1 1215.3,1537.8 1211.7,1546.7 C1208.1,1555.6 1207.5,1558.5 1205.4,1567.0 C1203.3,1575.4 1201.0,1585.6 1199.0,1597.5 C1197.1,1609.3 1193.5,1629.6 1194.0,1638.1 C1194.4,1646.6 1197.4,1643.6 1201.6,1648.3 C1205.8,1652.9 1212.6,1659.7 1219.4,1666.0 C1226.1,1672.4 1235.0,1679.2 1242.2,1686.3 C1249.4,1693.5 1259.2,1705.4 1262.5,1709.2 L1252.4,1716.8 L1242.2,1757.5 L1469.5,1757.5 Z" stroke="none" stroke-width="0" fill="#fff" />
<path d="M1469.5,1442.5 C1465.1,1441.3 1451.5,1438.3 1442.9,1434.9 C1434.2,1431.5 1423.8,1427.1 1417.5,1422.2 C1411.1,1417.4 1413.2,1408.3 1404.8,1405.7 C1396.3,1403.2 1379.4,1404.2 1366.7,1407.0 C1354.0,1409.7 1341.3,1415.9 1328.6,1422.2 C1315.9,1428.6 1303.2,1435.8 1290.5,1445.1 C1277.8,1454.4 1263.0,1466.7 1252.4,1478.1 C1241.8,1489.5 1233.8,1502.2 1227.0,1513.7 C1220.2,1525.1 1215.3,1537.8 1211.7,1546.7 C1208.1,1555.6 1207.5,1558.5 1205.4,1567.0 C1203.3,1575.4 1201.0,1585.6 1199.0,1597.5 C1197.1,1609.3 1193.5,1629.6 1194.0,1638.1 C1194.4,1646.6 1197.4,1643.6 1201.6,1648.3 C1205.8,1652.9 1212.6,1659.7 1219.4,1666.0 C1226.1,1672.4 1235.0,1679.2 1242.2,1686.3 C1249.4,1693.5 1259.2,1705.4 1262.5,1709.2" stroke="#9a9a9a" stroke-width="1.2" fill="none" />
<path d="M1366.7,1630.5 C1365.4,1629.6 1360.3,1634.7 1354.0,1640.6 C1347.6,1646.6 1337.9,1658.4 1328.6,1666.0 C1319.3,1673.7 1305.3,1681.3 1298.1,1686.3 C1290.9,1691.4 1284.6,1693.6 1285.4,1696.5 C1286.2,1699.4 1296.0,1703.6 1303.2,1703.6 C1310.4,1703.6 1321.8,1701.9 1328.6,1696.5 C1335.3,1691.1 1338.3,1679.6 1343.8,1671.1 C1349.3,1662.6 1357.8,1652.5 1361.6,1645.7 C1365.4,1638.9 1367.9,1631.3 1366.7,1630.5 Z" stroke="none" stroke-width="0" fill="#b8b8b8" />
<path d="M1303.2,1567.0 C1305.7,1564.0 1312.1,1553.0 1318.4,1549.2 C1324.8,1545.4 1334.9,1542.4 1341.3,1544.1 C1347.6,1545.8 1352.7,1550.5 1356.5,1559.4 C1360.3,1568.3 1362.4,1585.6 1364.1,1597.5 C1365.8,1609.3 1366.2,1625.0 1366.7,1630.5" stroke="#bdbdbd" stroke-width="1.1" fill="none" />
<path d="M1303.2,1567.0 C1301.9,1572.1 1296.0,1586.0 1295.6,1597.5 C1295.1,1608.9 1299.4,1626.2 1300.6,1635.6 C1301.9,1644.9 1302.8,1650.4 1303.2,1653.3" stroke="#bdbdbd" stroke-width="1.1" fill="none" />
<path d="M1341.3,1508.6 C1341.7,1512.8 1341.7,1525.5 1343.8,1534.0 C1345.9,1542.4 1350.6,1548.8 1354.0,1559.4 C1357.4,1569.9 1362.4,1591.1 1364.1,1597.5" stroke="#bdbdbd" stroke-width="1.1" fill="none" />
<path d="M1341.3,1508.6 C1340.8,1511.1 1337.5,1519.6 1338.7,1523.8 C1340.0,1528.0 1345.9,1533.1 1348.9,1534.0 C1351.9,1534.8 1354.8,1528.0 1356.5,1528.9 C1358.2,1529.7 1358.6,1537.4 1359.0,1539.0" stroke="#bdbdbd" stroke-width="1.1" fill="none" />
<path d="M1387.0,1564.4 C1386.1,1569.9 1381.1,1585.6 1381.9,1597.5 C1382.8,1609.3 1388.3,1625.8 1392.1,1635.6 C1395.9,1645.3 1402.6,1652.5 1404.8,1655.9" stroke="#bdbdbd" stroke-width="1.1" fill="none" />
<path d="M1404.8,1569.5 C1407.3,1576.3 1415.8,1595.8 1420.0,1610.2 C1424.2,1624.6 1428.5,1648.3 1430.2,1655.9" stroke="#bdbdbd" stroke-width="1.1" fill="none" />
<path d="M1437.8,1572.1 C1436.1,1576.3 1428.9,1589.8 1427.6,1597.5 C1426.3,1605.1 1426.8,1614.0 1430.2,1617.8 C1433.5,1621.6 1444.1,1623.3 1447.9,1620.3 C1451.7,1617.4 1454.7,1604.7 1453.0,1600.0 C1451.3,1595.3 1440.3,1593.7 1437.8,1592.4" stroke="#bdbdbd" stroke-width="1.1" fill="none" />
<path d="M1407.3,1661.0 C1411.1,1660.1 1422.1,1655.0 1430.2,1655.9 C1438.2,1656.7 1451.3,1664.3 1455.6,1666.0" stroke="#bdbdbd" stroke-width="1.1" fill="none" />
<path d="M1430.2,1655.9 C1430.6,1659.3 1433.1,1666.9 1432.7,1676.2 C1432.3,1685.5 1428.0,1702.0 1427.6,1711.7 C1427.2,1721.5 1429.7,1730.8 1430.2,1734.6" stroke="#bdbdbd" stroke-width="1.1" fill="none" />
<path d="M1450.5,1671.1 C1451.3,1677.9 1455.6,1701.2 1455.6,1711.7 C1455.6,1722.3 1451.3,1730.8 1450.5,1734.6" stroke="#bdbdbd" stroke-width="1.1" fill="none" />
<path d="M1262.5,1711.7 C1265.9,1710.9 1276.1,1705.8 1282.9,1706.7 C1289.6,1707.5 1295.6,1716.0 1303.2,1716.8 C1310.8,1717.7 1320.1,1710.9 1328.6,1711.7 C1337.0,1712.6 1345.5,1721.1 1354.0,1721.9 C1362.4,1722.8 1370.9,1716.0 1379.4,1716.8 C1387.8,1717.7 1400.5,1725.3 1404.8,1727.0" stroke="#bdbdbd" stroke-width="1.1" fill="none" />
<path d="M1282.9,1706.7 C1283.7,1711.7 1287.9,1728.3 1287.9,1737.1 C1287.9,1746.0 1283.7,1756.2 1282.9,1760.0" stroke="#bdbdbd" stroke-width="1.1" fill="none" />
<path d="M1328.6,1711.7 C1327.7,1716.0 1323.5,1729.9 1323.5,1737.1 C1323.5,1744.3 1327.7,1752.0 1328.6,1754.9" stroke="#bdbdbd" stroke-width="1.1" fill="none" />
<path d="M1354.0,1721.9 C1354.4,1726.1 1356.1,1743.1 1356.5,1747.3" stroke="#bdbdbd" stroke-width="1.1" fill="none" />
<path d="M1308.3,1711.7 C1309.9,1710.1 1313.3,1703.3 1318.4,1701.6 C1323.5,1699.9 1334.5,1699.9 1338.7,1701.6 C1343.0,1703.3 1345.5,1708.4 1343.8,1711.7 C1342.1,1715.1 1331.1,1720.2 1328.6,1721.9" stroke="#bdbdbd" stroke-width="1.1" fill="none" />
<path d="M1366.7,1724.4 C1368.8,1724.0 1376.0,1721.1 1379.4,1721.9 C1382.8,1722.8 1387.8,1727.4 1387.0,1729.5 C1386.1,1731.6 1376.4,1733.8 1374.3,1734.6" stroke="#bdbdbd" stroke-width="1.1" fill="none" />
<path d="M1194.0,1607.6 C1196.1,1609.3 1203.7,1612.3 1206.7,1617.8 C1209.6,1623.3 1212.6,1636.0 1211.7,1640.6 C1210.9,1645.3 1203.3,1644.9 1201.6,1645.7" stroke="#bdbdbd" stroke-width="1.1" fill="none" />
<path d="M1166.0,1655.9 C1169.0,1661.0 1177.0,1675.3 1183.8,1686.3 C1190.6,1697.4 1198.6,1711.7 1206.7,1721.9 C1214.7,1732.1 1227.8,1743.1 1232.1,1747.3" stroke="#bdbdbd" stroke-width="1.1" fill="none" />
<path d="M1176.2,1650.8 C1179.6,1656.3 1189.3,1672.8 1196.5,1683.8 C1203.7,1694.8 1211.7,1707.9 1219.4,1716.8 C1227.0,1725.7 1238.4,1733.8 1242.2,1737.1" stroke="#bdbdbd" stroke-width="1.1" fill="none" />
<path d="M1387.0,1561.9 C1389.1,1567.8 1394.6,1585.2 1399.7,1597.5 C1404.8,1609.7 1412.8,1625.8 1417.5,1635.6 C1422.1,1645.3 1425.9,1652.5 1427.6,1655.9" stroke="#bdbdbd" stroke-width="1.1" fill="none" />
<path d="M1407.3,1404.4 L1458.1,1327.0" stroke="#9a9a9a" stroke-width="1.2" fill="none" />
<path d="M1127.9,1569.5 L1205.4,1567.0" stroke="#9a9a9a" stroke-width="1.2" fill="none" />
<path d="M1469.5,1455.2 C1463.0,1453.5 1441.0,1450.6 1430.2,1445.1 C1419.4,1439.6 1415.3,1426.7 1404.8,1422.2 C1394.2,1417.8 1379.4,1416.7 1366.7,1418.4 C1354.0,1420.1 1340.0,1426.7 1328.6,1432.4 C1317.1,1438.1 1309.1,1444.2 1298.1,1452.7 C1287.1,1461.2 1272.7,1472.2 1262.5,1483.2 C1252.4,1494.2 1243.9,1507.3 1237.1,1518.7 C1230.4,1530.2 1225.7,1540.7 1221.9,1551.7 C1218.1,1562.8 1215.6,1572.9 1214.3,1584.8 C1213.0,1596.6 1212.2,1611.4 1214.3,1622.9 C1216.4,1634.3 1221.5,1645.3 1227.0,1653.3 C1232.5,1661.4 1239.7,1667.3 1247.3,1671.1 C1254.9,1674.9 1265.1,1676.6 1272.7,1676.2 C1280.3,1675.8 1289.6,1669.8 1293.0,1668.6" stroke="#9a9a9a" stroke-width="1.2" fill="none" />
<path d="M1262.5,1676.2 C1265.1,1675.3 1272.7,1673.7 1277.8,1671.1 C1282.9,1668.6 1291.3,1663.5 1293.0,1661.0 C1294.7,1658.4 1291.3,1655.0 1287.9,1655.9 C1284.6,1656.7 1275.2,1664.3 1272.7,1666.0" stroke="#9a9a9a" stroke-width="1.2" fill="none" />
<path d="M1465.7,1417.1 C1465.7,1418.8 1465.3,1425.6 1465.7,1427.3 C1466.1,1429.0 1467.8,1427.3 1468.3,1427.3" stroke="#9a9a9a" stroke-width="1.2" fill="none" />
<path d="M1465.7,1328.3 L1465.7,1417.1" stroke="#9a9a9a" stroke-width="1.2" fill="none" />
<path d="M1354.0,1314.3 L1366.7,1407.0" stroke="#9a9a9a" stroke-width="1.2" fill="none" stroke-dasharray="5 3"/>
<path d="M1143.2,1615.2 L1199.0,1602.5" stroke="#9a9a9a" stroke-width="1.2" fill="none" stroke-dasharray="5 3"/>
<path d="M1133.0,1593.7 L1201.6,1583.5" stroke="#9a9a9a" stroke-width="1.2" fill="none" stroke-dasharray="5 3"/>
<path d="M1343.8,1432.4 C1345.9,1426.5 1358.6,1424.1 1366.7,1422.2 C1374.7,1420.3 1383.6,1419.7 1392.1,1421.0 C1400.5,1422.2 1411.1,1424.6 1417.5,1429.8 C1423.8,1435.1 1428.9,1444.7 1430.2,1452.7 C1431.4,1460.7 1428.0,1470.9 1425.1,1478.1 C1422.1,1485.3 1417.9,1491.2 1412.4,1495.9 C1406.9,1500.5 1396.7,1502.2 1392.1,1506.0 C1387.4,1509.8 1384.9,1514.1 1384.4,1518.7 C1384.0,1523.4 1386.1,1529.7 1389.5,1534.0 C1392.9,1538.2 1398.0,1544.1 1404.8,1544.1 C1411.5,1544.1 1421.7,1535.2 1430.2,1534.0 C1438.6,1532.7 1448.4,1534.8 1455.6,1536.5 C1462.8,1538.2 1470.4,1539.9 1473.3,1544.1 C1476.3,1548.4 1477.1,1558.9 1473.3,1561.9 C1469.5,1564.9 1455.6,1560.6 1450.5,1561.9 C1445.4,1563.2 1448.4,1567.8 1442.9,1569.5 C1437.4,1571.2 1426.8,1573.3 1417.5,1572.1 C1408.1,1570.8 1395.0,1567.4 1387.0,1561.9 C1378.9,1556.4 1373.0,1547.9 1369.2,1539.0 C1365.4,1530.2 1365.0,1517.9 1364.1,1508.6 C1363.3,1499.3 1365.8,1491.6 1364.1,1483.2 C1362.4,1474.7 1357.4,1466.2 1354.0,1457.8 C1350.6,1449.3 1341.7,1438.3 1343.8,1432.4 Z" stroke="none" stroke-width="0" fill="#000" />
<path d="M1473.3,1612.7 C1471.6,1594.9 1464.4,1622.0 1463.2,1627.9 C1461.9,1633.9 1465.1,1638.5 1465.7,1648.3 C1466.3,1658.0 1467.6,1674.1 1467.0,1686.3 C1466.3,1698.6 1460.8,1713.9 1461.9,1721.9 C1463.0,1729.9 1471.4,1752.8 1473.3,1734.6 C1475.2,1716.4 1475.0,1630.5 1473.3,1612.7 Z" stroke="none" stroke-width="0" fill="#000" />
</g>
<path d="M1469.5,1329.5 C1467.2,1327.8 1462.1,1322.3 1455.6,1319.4 C1449.0,1316.4 1440.7,1313.4 1430.2,1311.7 C1419.6,1310.1 1404.8,1308.8 1392.1,1309.2 C1379.4,1309.6 1366.7,1311.7 1354.0,1314.3 C1341.3,1316.8 1328.6,1320.0 1315.9,1324.4 C1303.2,1328.9 1290.5,1334.4 1277.8,1341.0 C1265.1,1347.5 1252.4,1354.5 1239.7,1363.8 C1227.0,1373.1 1213.0,1385.0 1201.6,1396.8 C1190.2,1408.7 1180.4,1421.0 1171.1,1434.9 C1161.8,1448.9 1152.5,1465.8 1145.7,1480.6 C1138.9,1495.4 1133.7,1510.7 1130.5,1523.8 C1127.3,1536.9 1126.9,1549.2 1126.7,1559.4 C1126.5,1569.5 1127.3,1575.4 1129.2,1584.8 C1131.1,1594.1 1134.1,1605.5 1138.1,1615.2 C1142.1,1625.0 1147.4,1633.0 1153.3,1643.2 C1159.3,1653.3 1166.9,1665.6 1173.7,1676.2 C1180.4,1686.8 1187.6,1697.4 1194.0,1706.7 C1200.3,1716.0 1205.4,1724.9 1211.7,1732.1 C1218.1,1739.3 1224.4,1745.2 1232.1,1749.8 C1239.7,1754.5 1247.7,1758.1 1257.5,1760.0 C1267.2,1761.9 1278.6,1762.1 1290.5,1761.3 C1302.3,1760.4 1315.9,1757.7 1328.6,1754.9 C1341.3,1752.2 1354.0,1747.7 1366.7,1744.8 C1379.4,1741.8 1392.1,1738.0 1404.8,1737.1 C1417.5,1736.3 1432.1,1739.7 1442.9,1739.7 C1453.7,1739.7 1465.1,1737.6 1469.5,1737.1" stroke="#555" stroke-width="1.6" fill="none" />
<text x="1185.1" y="1461.6" font-size="39" fill="#000" text-anchor="start" font-weight="normal" >SS</text>
<text x="1235.9" y="1544.1" font-size="39" fill="#000" text-anchor="start" font-weight="normal" >CPu</text>
<text x="1134.3" y="1591.9" font-size="39" fill="#000" text-anchor="start" font-weight="normal" >GI</text>
<text x="1299.4" y="1607.6" font-size="39" fill="#000" text-anchor="start" font-weight="normal" >GP</text>
<text x="1303.2" y="1683.8" font-size="39" fill="#000" text-anchor="start" font-weight="normal" >VP</text>
<text x="1200.3" y="1714.3" font-size="39" fill="#000" text-anchor="start" font-weight="normal" >Pir</text>
<defs><clipPath id="ce5"><path d="M1941.1,1316.7 C1939.3,1315.2 1935.8,1310.6 1930.5,1307.5 C1925.2,1304.4 1919.5,1300.7 1909.4,1298.3 C1899.3,1295.8 1883.0,1293.4 1869.8,1293.0 C1856.6,1292.5 1843.4,1293.9 1830.2,1295.6 C1817.0,1297.4 1803.9,1300.0 1790.7,1303.5 C1777.5,1307.1 1764.3,1311.2 1751.1,1316.7 C1737.9,1322.2 1724.7,1328.4 1711.5,1336.5 C1698.3,1344.7 1683.8,1355.4 1671.9,1365.5 C1660.1,1375.7 1649.9,1385.8 1640.3,1397.2 C1630.6,1408.6 1621.8,1421.4 1613.9,1434.1 C1606.0,1446.9 1598.5,1461.0 1592.8,1473.7 C1587.1,1486.5 1582.9,1497.9 1579.6,1510.7 C1576.3,1523.4 1574.3,1539.2 1573.0,1550.2 C1571.7,1561.2 1571.0,1568.3 1571.7,1576.6 C1572.3,1585.0 1573.9,1591.6 1576.9,1600.4 C1580.0,1609.2 1585.7,1620.6 1590.1,1629.4 C1594.5,1638.2 1598.5,1643.5 1603.3,1653.1 C1608.2,1662.8 1613.4,1675.6 1619.2,1687.4 C1624.9,1699.3 1631.9,1714.3 1637.6,1724.4 C1643.3,1734.5 1647.7,1741.1 1653.5,1748.1 C1659.2,1755.2 1664.5,1761.8 1671.9,1766.6 C1679.4,1771.4 1687.3,1775.6 1698.3,1777.2 C1709.3,1778.7 1724.7,1778.0 1737.9,1775.8 C1751.1,1773.6 1766.5,1768.1 1777.5,1764.0 C1788.5,1759.8 1795.1,1754.7 1803.9,1750.8 C1812.6,1746.8 1821.4,1742.4 1830.2,1740.2 C1839.0,1738.0 1845.6,1736.7 1856.6,1737.6 C1867.6,1738.5 1882.1,1743.3 1896.2,1745.5 C1910.3,1747.7 1933.6,1749.9 1941.1,1750.8 Z"/></clipPath></defs>
<g clip-path="url(#ce5)">
<path d="M1842.1,1291.7 L1847.4,1391.9 L1656.1,1552.9 L1540.0,1548.9 L1540.0,1286.4 Z" stroke="none" stroke-width="0" fill="#ededed" />
<path d="M1540.0,1548.9 L1656.1,1552.9 L1656.1,1580.6 L1540.0,1588.5 Z" stroke="none" stroke-width="0" fill="#b8b8b8" />
<path d="M1602.0,1649.2 L1653.5,1632.0 L1658.7,1650.5 L1677.2,1682.2 L1698.3,1713.8 L1711.5,1729.7 L1698.3,1745.5 L1693.0,1782.4 L1619.2,1782.4 L1566.4,1655.8 Z" stroke="none" stroke-width="0" fill="#b6b6b6" />
<path d="M1941.1,1418.3 C1935.8,1417.4 1916.9,1414.8 1909.4,1413.0 C1901.9,1411.3 1901.5,1411.3 1896.2,1407.8 C1890.9,1404.2 1885.9,1394.6 1877.7,1391.9 C1869.6,1389.3 1861.9,1390.2 1847.4,1391.9 C1832.9,1393.7 1806.7,1397.2 1790.7,1402.5 C1774.6,1407.8 1764.3,1414.8 1751.1,1423.6 C1737.9,1432.4 1722.9,1443.8 1711.5,1455.3 C1700.1,1466.7 1690.4,1479.9 1682.5,1492.2 C1674.6,1504.5 1668.4,1519.0 1664.0,1529.1 C1659.6,1539.2 1657.9,1542.8 1656.1,1552.9 C1654.3,1563.0 1653.9,1576.6 1653.5,1589.8 C1653.0,1603.0 1652.6,1621.9 1653.5,1632.0 C1654.3,1642.1 1654.8,1642.1 1658.7,1650.5 C1662.7,1658.9 1670.6,1671.6 1677.2,1682.2 C1683.8,1692.7 1692.6,1705.9 1698.3,1713.8 C1704.0,1721.7 1709.3,1727.0 1711.5,1729.7 L1698.3,1745.5 L1695.7,1782.4 L1941.1,1782.4 Z" stroke="none" stroke-width="0" fill="#fff" />
<path d="M1941.1,1418.3 C1935.8,1417.4 1916.9,1414.8 1909.4,1413.0 C1901.9,1411.3 1901.5,1411.3 1896.2,1407.8 C1890.9,1404.2 1885.9,1394.6 1877.7,1391.9 C1869.6,1389.3 1861.9,1390.2 1847.4,1391.9 C1832.9,1393.7 1806.7,1397.2 1790.7,1402.5 C1774.6,1407.8 1764.3,1414.8 1751.1,1423.6 C1737.9,1432.4 1722.9,1443.8 1711.5,1455.3 C1700.1,1466.7 1690.4,1479.9 1682.5,1492.2 C1674.6,1504.5 1668.4,1519.0 1664.0,1529.1 C1659.6,1539.2 1657.9,1542.8 1656.1,1552.9 C1654.3,1563.0 1653.9,1576.6 1653.5,1589.8 C1653.0,1603.0 1652.6,1621.9 1653.5,1632.0 C1654.3,1642.1 1654.8,1642.1 1658.7,1650.5 C1662.7,1658.9 1670.6,1671.6 1677.2,1682.2 C1683.8,1692.7 1692.6,1705.9 1698.3,1713.8 C1704.0,1721.7 1709.3,1727.0 1711.5,1729.7" stroke="#9a9a9a" stroke-width="1.2" fill="none" />
<path d="M1751.1,1526.5 C1755.5,1523.9 1765.2,1521.7 1769.6,1523.9 C1773.9,1526.1 1775.3,1533.1 1777.5,1539.7 C1779.7,1546.3 1781.0,1552.9 1782.7,1563.4 C1784.5,1574.0 1784.5,1592.0 1788.0,1603.0 C1791.5,1614.0 1800.3,1621.9 1803.9,1629.4 C1807.4,1636.9 1811.3,1643.9 1809.1,1647.9 C1806.9,1651.8 1798.1,1654.0 1790.7,1653.1 C1783.2,1652.3 1772.2,1647.4 1764.3,1642.6 C1756.4,1637.7 1748.2,1631.6 1743.2,1624.1 C1738.1,1616.6 1735.0,1607.8 1733.9,1597.7 C1732.8,1587.6 1735.0,1573.1 1736.6,1563.4 C1738.1,1553.8 1740.7,1545.8 1743.2,1539.7 C1745.6,1533.5 1746.7,1529.1 1751.1,1526.5 Z" stroke="none" stroke-width="0" fill="#dcdcdc" />
<path d="M1726.0,1727.0 L1760.3,1727.0 L1760.3,1777.2 L1726.0,1777.2 Z" stroke="none" stroke-width="0" fill="#e4e4e4" />
<path d="M1726.0,1734.9 C1726.7,1731.9 1725.8,1720.5 1730.0,1716.5 C1734.2,1712.4 1744.0,1711.0 1751.1,1710.7 C1758.1,1710.3 1765.2,1712.5 1772.2,1714.4 C1779.2,1716.2 1787.1,1718.1 1793.3,1721.7 C1799.5,1725.4 1805.7,1731.3 1809.1,1736.3 C1812.6,1741.2 1813.1,1748.8 1813.9,1751.3" stroke="#c8c8c8" stroke-width="14" fill="none" stroke-linecap="round"/>
<path d="M1835.5,1513.3 C1836.0,1519.5 1836.8,1535.3 1838.2,1550.2 C1839.5,1565.2 1840.4,1589.8 1843.4,1603.0 C1846.5,1616.2 1854.4,1625.0 1856.6,1629.4" stroke="#bdbdbd" stroke-width="1.1" fill="none" />
<path d="M1851.3,1502.7 C1856.6,1512.9 1873.3,1546.7 1883.0,1563.4 C1892.7,1580.1 1905.0,1596.4 1909.4,1603.0" stroke="#bdbdbd" stroke-width="1.1" fill="none" />
<path d="M1864.5,1497.5 C1869.8,1506.3 1886.5,1534.8 1896.2,1550.2 C1905.9,1565.6 1918.2,1583.2 1922.6,1589.8" stroke="#bdbdbd" stroke-width="1.1" fill="none" />
<path d="M1890.9,1513.3 C1891.4,1515.9 1891.4,1525.2 1893.6,1529.1 C1895.8,1533.1 1901.0,1537.9 1904.1,1537.0 C1907.2,1536.2 1910.3,1528.2 1912.0,1523.9 C1913.8,1519.5 1914.2,1512.9 1914.7,1510.7" stroke="#bdbdbd" stroke-width="1.1" fill="none" />
<path d="M1872.5,1563.4 C1875.1,1561.2 1881.2,1551.6 1888.3,1550.2 C1895.3,1548.9 1908.1,1551.1 1914.7,1555.5 C1921.3,1559.9 1927.0,1569.6 1927.9,1576.6 C1928.7,1583.7 1927.4,1592.9 1919.9,1597.7 C1912.5,1602.6 1891.4,1607.0 1883.0,1605.6 C1874.7,1604.3 1872.0,1592.5 1869.8,1589.8" stroke="#bdbdbd" stroke-width="1.1" fill="none" />
<path d="M1883.0,1605.6 C1886.5,1609.6 1897.5,1624.6 1904.1,1629.4 C1910.7,1634.2 1916.4,1634.7 1922.6,1634.7 C1928.7,1634.7 1938.0,1630.3 1941.1,1629.4" stroke="#bdbdbd" stroke-width="1.1" fill="none" />
<path d="M1856.6,1629.4 C1858.8,1631.6 1863.2,1639.9 1869.8,1642.6 C1876.4,1645.2 1889.6,1640.8 1896.2,1645.2 C1902.8,1649.6 1907.2,1665.0 1909.4,1669.0" stroke="#bdbdbd" stroke-width="1.1" fill="none" />
<path d="M1877.7,1655.8 C1879.5,1654.0 1885.2,1645.2 1888.3,1645.2 C1891.4,1645.2 1895.8,1651.4 1896.2,1655.8 C1896.6,1660.2 1893.6,1669.0 1890.9,1671.6 C1888.3,1674.2 1882.1,1671.6 1880.4,1671.6" stroke="#bdbdbd" stroke-width="1.1" fill="none" />
<path d="M1875.1,1682.2 C1879.9,1681.3 1895.8,1676.0 1904.1,1676.9 C1912.5,1677.8 1921.7,1685.7 1925.2,1687.4" stroke="#bdbdbd" stroke-width="1.1" fill="none" />
<path d="M1875.1,1682.2 C1874.7,1687.4 1871.1,1705.0 1872.5,1713.8 C1873.8,1722.6 1881.2,1731.4 1883.0,1734.9" stroke="#bdbdbd" stroke-width="1.1" fill="none" />
<path d="M1909.4,1692.7 C1910.3,1697.1 1915.5,1712.1 1914.7,1719.1 C1913.8,1726.1 1905.9,1732.3 1904.1,1734.9" stroke="#bdbdbd" stroke-width="1.1" fill="none" />
<path d="M1817.0,1732.3 C1819.2,1731.0 1825.8,1724.4 1830.2,1724.4 C1834.6,1724.4 1843.4,1730.1 1843.4,1732.3 C1843.4,1734.5 1832.4,1736.7 1830.2,1737.6" stroke="#bdbdbd" stroke-width="1.1" fill="none" />
<path d="M1740.5,1655.8 C1746.7,1658.4 1766.9,1667.2 1777.5,1671.6 C1788.0,1676.0 1797.3,1676.0 1803.9,1682.2 C1810.4,1688.3 1814.8,1704.2 1817.0,1708.5" stroke="#bdbdbd" stroke-width="1.1" fill="none" />
<path d="M1687.8,1655.8 C1690.4,1654.5 1698.3,1646.1 1703.6,1647.9 C1708.9,1649.6 1718.5,1660.6 1719.4,1666.3 C1720.3,1672.0 1710.6,1679.5 1708.9,1682.2" stroke="#bdbdbd" stroke-width="1.1" fill="none" />
<path d="M1703.6,1687.4 C1706.2,1686.6 1715.0,1680.4 1719.4,1682.2 C1723.8,1683.9 1730.0,1693.6 1730.0,1698.0 C1730.0,1702.4 1721.2,1706.8 1719.4,1708.5" stroke="#bdbdbd" stroke-width="1.1" fill="none" />
<path d="M1735.3,1671.6 C1737.9,1670.7 1744.9,1664.6 1751.1,1666.3 C1757.2,1668.1 1769.6,1676.9 1772.2,1682.2 C1774.8,1687.4 1771.3,1696.2 1766.9,1698.0 C1762.5,1699.8 1749.3,1693.6 1745.8,1692.7" stroke="#bdbdbd" stroke-width="1.1" fill="none" />
<path d="M1653.5,1603.0 C1655.2,1604.3 1660.9,1605.6 1664.0,1610.9 C1667.1,1616.2 1671.9,1629.4 1671.9,1634.7 C1671.9,1639.9 1665.3,1641.3 1664.0,1642.6" stroke="#bdbdbd" stroke-width="1.1" fill="none" />
<path d="M1854.0,1634.7 C1849.1,1640.8 1833.3,1661.9 1825.0,1671.6 C1816.6,1681.3 1811.8,1686.6 1803.9,1692.7 C1795.9,1698.9 1781.9,1705.9 1777.5,1708.5" stroke="#bdbdbd" stroke-width="1.1" fill="none" />
<path d="M1613.9,1650.5 C1617.0,1657.5 1625.8,1679.5 1632.3,1692.7 C1638.9,1705.9 1646.0,1719.1 1653.5,1729.7 C1660.9,1740.2 1673.2,1751.6 1677.2,1756.0" stroke="#bdbdbd" stroke-width="1.1" fill="none" />
<path d="M1919.9,1671.6 C1921.7,1677.8 1929.6,1697.1 1930.5,1708.5 C1931.4,1720.0 1926.1,1734.9 1925.2,1740.2" stroke="#bdbdbd" stroke-width="1.1" fill="none" />
<path d="M1935.8,1523.9 C1934.0,1528.2 1925.2,1541.4 1925.2,1550.2 C1925.2,1559.0 1934.0,1572.2 1935.8,1576.6" stroke="#bdbdbd" stroke-width="1.1" fill="none" />
<path d="M1842.1,1294.3 L1847.4,1391.9" stroke="#9a9a9a" stroke-width="1.2" fill="none" />
<path d="M1930.5,1307.5 L1877.7,1390.6" stroke="#9a9a9a" stroke-width="1.2" fill="none" />
<path d="M1574.3,1548.9 L1656.1,1552.9" stroke="#9a9a9a" stroke-width="1.2" fill="none" />
<path d="M1574.3,1587.2 L1656.1,1580.6" stroke="#9a9a9a" stroke-width="1.2" fill="none" />
<path d="M1602.0,1649.2 L1653.5,1632.0" stroke="#9a9a9a" stroke-width="1.2" fill="none" />
<path d="M1941.1,1431.5 C1934.9,1430.2 1914.7,1427.5 1904.1,1423.6 C1893.6,1419.6 1887.8,1411.3 1877.7,1407.8 C1867.6,1404.2 1857.9,1401.4 1843.4,1402.5 C1828.9,1403.6 1805.2,1409.1 1790.7,1414.4 C1776.1,1419.6 1767.8,1425.6 1756.4,1434.1 C1744.9,1442.7 1732.6,1454.4 1722.1,1465.8 C1711.5,1477.2 1700.9,1490.4 1693.0,1502.7 C1685.1,1515.1 1679.0,1527.4 1674.6,1539.7 C1670.2,1552.0 1668.4,1563.9 1666.6,1576.6 C1664.9,1589.4 1663.6,1603.9 1664.0,1616.2 C1664.5,1628.5 1665.3,1639.9 1669.3,1650.5 C1673.2,1661.1 1684.7,1674.7 1687.8,1679.5" stroke="#9a9a9a" stroke-width="1.2" fill="none" />
<path d="M1814.4,1512.0 C1817.0,1511.3 1824.1,1510.4 1830.2,1508.0 C1836.4,1505.6 1844.7,1500.1 1851.3,1497.5 C1857.9,1494.8 1863.0,1492.0 1869.8,1492.2 C1876.6,1492.4 1888.5,1497.7 1892.2,1498.8" stroke="#9a9a9a" stroke-width="1.2" fill="none" />
<path d="M1777.5,1428.9 L1766.9,1434.1" stroke="#9a9a9a" stroke-width="1.2" fill="none" />
<path d="M1764.3,1497.5 C1765.6,1494.8 1770.0,1482.5 1772.2,1481.6 C1774.4,1480.8 1777.0,1486.0 1777.5,1492.2 C1777.9,1498.3 1776.1,1513.3 1774.8,1518.6 C1773.5,1523.9 1770.4,1523.0 1769.6,1523.9" stroke="#9a9a9a" stroke-width="1.2" fill="none" />
<path d="M1788.0,1505.4 C1790.7,1508.5 1797.7,1520.3 1803.9,1523.9 C1810.0,1527.4 1821.9,1528.2 1825.0,1526.5 C1828.0,1524.7 1822.8,1515.5 1822.3,1513.3" stroke="#9a9a9a" stroke-width="1.2" fill="none" />
<path d="M1798.6,1529.1 C1801.7,1529.6 1811.8,1526.1 1817.0,1531.8 C1822.3,1537.5 1826.7,1549.4 1830.2,1563.4 C1833.8,1577.5 1838.2,1602.6 1838.2,1616.2 C1838.2,1629.8 1835.1,1639.9 1830.2,1645.2 C1825.4,1650.5 1812.6,1647.4 1809.1,1647.9" stroke="#9a9a9a" stroke-width="1.2" fill="none" />
<path d="M1798.6,1529.1 C1799.0,1534.8 1799.9,1551.1 1801.2,1563.4 C1802.5,1575.7 1806.1,1592.0 1806.5,1603.0 C1806.9,1614.0 1804.3,1625.0 1803.9,1629.4" stroke="#9a9a9a" stroke-width="1.2" fill="none" />
<path d="M1584.9,1613.6 L1653.5,1600.4" stroke="#9a9a9a" stroke-width="1.2" fill="none" stroke-dasharray="5 3"/>
<path d="M1777.5,1428.9 C1779.2,1424.0 1792.9,1419.0 1803.9,1415.7 C1814.8,1412.4 1831.1,1409.5 1843.4,1409.1 C1855.7,1408.6 1868.9,1409.7 1877.7,1413.0 C1886.5,1416.3 1892.2,1423.6 1896.2,1428.9 C1900.2,1434.1 1902.4,1439.9 1901.5,1444.7 C1900.6,1449.5 1898.4,1453.9 1890.9,1457.9 C1883.4,1461.8 1866.7,1464.9 1856.6,1468.4 C1846.5,1472.0 1837.3,1475.0 1830.2,1479.0 C1823.2,1483.0 1817.0,1488.2 1814.4,1492.2 C1811.8,1496.1 1813.3,1499.2 1814.4,1502.7 C1815.5,1506.3 1821.0,1511.8 1821.0,1513.3 C1821.0,1514.8 1818.1,1513.7 1814.4,1512.0 C1810.7,1510.2 1801.0,1507.4 1798.6,1502.7 C1796.2,1498.1 1799.0,1490.4 1799.9,1484.3 C1800.8,1478.1 1805.0,1472.4 1803.9,1465.8 C1802.8,1459.2 1797.7,1450.9 1793.3,1444.7 C1788.9,1438.5 1775.7,1433.7 1777.5,1428.9 Z" stroke="none" stroke-width="0" fill="#000" />
<path d="M1892.2,1498.8 C1891.4,1496.1 1898.6,1493.3 1904.1,1492.2 C1909.6,1491.1 1918.2,1490.9 1925.2,1492.2 C1932.3,1493.5 1942.8,1496.1 1946.3,1500.1 C1949.9,1504.1 1949.0,1513.7 1946.3,1515.9 C1943.7,1518.1 1935.3,1513.5 1930.5,1513.3 C1925.7,1513.1 1920.8,1515.5 1917.3,1514.6 C1913.8,1513.7 1913.6,1510.7 1909.4,1508.0 C1905.2,1505.4 1893.1,1501.4 1892.2,1498.8 Z" stroke="none" stroke-width="0" fill="#000" />
<path d="M1933.1,1653.1 C1935.1,1637.3 1944.1,1637.3 1946.3,1653.1 C1948.5,1669.0 1948.3,1732.3 1946.3,1748.1 C1944.4,1764.0 1936.7,1764.0 1934.5,1748.1 C1932.3,1732.3 1931.2,1669.0 1933.1,1653.1 Z" stroke="none" stroke-width="0" fill="#000" />
</g>
<path d="M1941.1,1316.7 C1939.3,1315.2 1935.8,1310.6 1930.5,1307.5 C1925.2,1304.4 1919.5,1300.7 1909.4,1298.3 C1899.3,1295.8 1883.0,1293.4 1869.8,1293.0 C1856.6,1292.5 1843.4,1293.9 1830.2,1295.6 C1817.0,1297.4 1803.9,1300.0 1790.7,1303.5 C1777.5,1307.1 1764.3,1311.2 1751.1,1316.7 C1737.9,1322.2 1724.7,1328.4 1711.5,1336.5 C1698.3,1344.7 1683.8,1355.4 1671.9,1365.5 C1660.1,1375.7 1649.9,1385.8 1640.3,1397.2 C1630.6,1408.6 1621.8,1421.4 1613.9,1434.1 C1606.0,1446.9 1598.5,1461.0 1592.8,1473.7 C1587.1,1486.5 1582.9,1497.9 1579.6,1510.7 C1576.3,1523.4 1574.3,1539.2 1573.0,1550.2 C1571.7,1561.2 1571.0,1568.3 1571.7,1576.6 C1572.3,1585.0 1573.9,1591.6 1576.9,1600.4 C1580.0,1609.2 1585.7,1620.6 1590.1,1629.4 C1594.5,1638.2 1598.5,1643.5 1603.3,1653.1 C1608.2,1662.8 1613.4,1675.6 1619.2,1687.4 C1624.9,1699.3 1631.9,1714.3 1637.6,1724.4 C1643.3,1734.5 1647.7,1741.1 1653.5,1748.1 C1659.2,1755.2 1664.5,1761.8 1671.9,1766.6 C1679.4,1771.4 1687.3,1775.6 1698.3,1777.2 C1709.3,1778.7 1724.7,1778.0 1737.9,1775.8 C1751.1,1773.6 1766.5,1768.1 1777.5,1764.0 C1788.5,1759.8 1795.1,1754.7 1803.9,1750.8 C1812.6,1746.8 1821.4,1742.4 1830.2,1740.2 C1839.0,1738.0 1845.6,1736.7 1856.6,1737.6 C1867.6,1738.5 1882.1,1743.3 1896.2,1745.5 C1910.3,1747.7 1933.6,1749.9 1941.1,1750.8" stroke="#555" stroke-width="1.6" fill="none" />
<text x="1635.0" y="1450.0" font-size="39" fill="#000" text-anchor="start" font-weight="normal" >SS</text>
<text x="1587.5" y="1583.2" font-size="39" fill="#000" text-anchor="start" font-weight="normal" >GI</text>
<text x="1731.3" y="1617.5" font-size="39" fill="#000" text-anchor="start" font-weight="normal" >GP</text>
<text x="1644.2" y="1731.0" font-size="39" fill="#000" text-anchor="start" font-weight="normal" >Pir</text>
<text x="1749.8" y="1715.1" font-size="39" fill="#000" text-anchor="start" font-weight="normal" >AA</text>
<text x="1710.2" y="1769.2" font-size="39" fill="#000" text-anchor="start" font-weight="normal" >ACo</text>
<defs><clipPath id="ce6"><path d="M2405.8,1287.9 C2403.9,1286.3 2400.3,1281.5 2394.8,1278.3 C2389.3,1275.1 2381.1,1271.2 2372.9,1268.7 C2364.7,1266.2 2357.0,1264.4 2345.6,1263.2 C2334.2,1262.1 2318.2,1261.2 2304.6,1261.9 C2290.9,1262.6 2277.2,1264.6 2263.5,1267.4 C2249.8,1270.1 2236.2,1273.7 2222.5,1278.3 C2208.8,1282.9 2195.1,1287.9 2181.5,1294.7 C2167.8,1301.5 2154.1,1309.7 2140.4,1319.3 C2126.8,1328.9 2111.7,1340.7 2099.4,1352.1 C2087.1,1363.5 2076.6,1374.9 2066.6,1387.7 C2056.6,1400.5 2047.0,1414.6 2039.2,1428.7 C2031.5,1442.9 2024.9,1458.4 2020.1,1472.5 C2015.3,1486.6 2012.6,1499.8 2010.5,1513.5 C2008.5,1527.2 2007.6,1540.9 2007.8,1554.6 C2008.0,1568.2 2009.4,1583.3 2011.9,1595.6 C2014.4,1607.9 2018.7,1618.4 2022.8,1628.4 C2026.9,1638.4 2031.5,1645.7 2036.5,1655.8 C2041.5,1665.8 2047.4,1676.7 2052.9,1688.6 C2058.4,1700.4 2064.3,1715.9 2069.3,1726.9 C2074.3,1737.8 2078.0,1746.0 2083.0,1754.2 C2088.0,1762.4 2092.1,1770.2 2099.4,1776.1 C2106.7,1782.0 2115.4,1787.0 2126.8,1789.8 C2138.2,1792.5 2154.1,1793.0 2167.8,1792.5 C2181.5,1792.1 2197.4,1789.8 2208.8,1787.0 C2220.2,1784.3 2227.1,1780.7 2236.2,1776.1 C2245.3,1771.5 2254.4,1763.8 2263.5,1759.7 C2272.6,1755.6 2279.5,1751.5 2290.9,1751.5 C2302.3,1751.5 2318.2,1756.5 2331.9,1759.7 C2345.6,1762.9 2360.6,1768.4 2372.9,1770.6 C2385.2,1772.9 2400.3,1772.9 2405.8,1773.4 Z"/></clipPath></defs>
<g clip-path="url(#ce6)">
<path d="M1990.0,1531.3 L2102.1,1542.2 L2103.5,1562.8 L1990.0,1562.8 Z" stroke="none" stroke-width="0" fill="#e0e0e0" />
<path d="M1990.0,1562.8 L2103.5,1562.8 L2096.7,1595.6 L2093.9,1631.1 L2031.0,1643.4 L1990.0,1650.3 Z" stroke="none" stroke-width="0" fill="#b8b8b8" />
<path d="M2031.0,1643.4 L2099.4,1631.1 L2099.4,1664.0 L2113.1,1691.3 L2132.2,1710.5 L2159.6,1729.6 L2165.1,1740.5 L2148.6,1759.7 L2140.4,1798.0 L2072.1,1798.0 L1990.0,1650.3 Z" stroke="none" stroke-width="0" fill="#dedede" />
<path d="M2405.8,1379.5 C2400.3,1376.3 2385.2,1364.9 2372.9,1360.4 C2360.6,1355.8 2345.6,1352.1 2331.9,1352.1 C2318.2,1352.1 2304.6,1355.8 2290.9,1360.4 C2277.2,1364.9 2263.5,1371.7 2249.8,1379.5 C2236.2,1387.2 2222.5,1396.4 2208.8,1406.8 C2195.1,1417.3 2180.1,1430.1 2167.8,1442.4 C2155.5,1454.7 2144.1,1468.8 2135.0,1480.7 C2125.8,1492.6 2118.6,1503.3 2113.1,1513.5 C2107.6,1523.8 2103.7,1533.1 2102.1,1542.2 C2100.5,1551.4 2104.0,1559.3 2103.5,1568.2 C2103.1,1577.1 2100.8,1585.1 2099.4,1595.6 C2098.0,1606.1 2095.3,1619.7 2095.3,1631.1 C2095.3,1642.5 2096.4,1653.9 2099.4,1664.0 C2102.4,1674.0 2107.6,1683.6 2113.1,1691.3 C2118.6,1699.1 2124.5,1704.1 2132.2,1710.5 C2140.0,1716.8 2154.1,1724.6 2159.6,1729.6 C2165.1,1734.6 2164.1,1738.7 2165.1,1740.5 L2148.6,1759.7 L2140.4,1798.0 L2405.8,1798.0 Z" stroke="none" stroke-width="0" fill="#fff" />
<path d="M2405.8,1379.5 C2400.3,1376.3 2385.2,1364.9 2372.9,1360.4 C2360.6,1355.8 2345.6,1352.1 2331.9,1352.1 C2318.2,1352.1 2304.6,1355.8 2290.9,1360.4 C2277.2,1364.9 2263.5,1371.7 2249.8,1379.5 C2236.2,1387.2 2222.5,1396.4 2208.8,1406.8 C2195.1,1417.3 2180.1,1430.1 2167.8,1442.4 C2155.5,1454.7 2144.1,1468.8 2135.0,1480.7 C2125.8,1492.6 2118.6,1503.3 2113.1,1513.5 C2107.6,1523.8 2103.7,1533.1 2102.1,1542.2 C2100.5,1551.4 2104.0,1559.3 2103.5,1568.2 C2103.1,1577.1 2100.8,1585.1 2099.4,1595.6 C2098.0,1606.1 2095.3,1619.7 2095.3,1631.1 C2095.3,1642.5 2096.4,1653.9 2099.4,1664.0 C2102.4,1674.0 2107.6,1683.6 2113.1,1691.3 C2118.6,1699.1 2124.5,1704.1 2132.2,1710.5 C2140.0,1716.8 2154.1,1724.6 2159.6,1729.6 C2165.1,1734.6 2164.1,1738.7 2165.1,1740.5" stroke="#9a9a9a" stroke-width="1.2" fill="none" />
<path d="M2111.7,1614.7 C2113.8,1612.0 2120.6,1623.4 2126.8,1628.4 C2132.9,1633.4 2141.8,1638.4 2148.6,1644.8 C2155.5,1651.2 2163.2,1659.4 2167.8,1666.7 C2172.3,1674.0 2175.5,1682.2 2176.0,1688.6 C2176.5,1695.0 2174.2,1701.3 2170.5,1705.0 C2166.9,1708.6 2160.0,1710.9 2154.1,1710.5 C2148.2,1710.0 2140.4,1707.7 2135.0,1702.3 C2129.5,1696.8 2124.7,1687.2 2121.3,1677.6 C2117.9,1668.1 2116.0,1655.3 2114.5,1644.8 C2112.9,1634.3 2109.7,1617.5 2111.7,1614.7 Z" stroke="none" stroke-width="0" fill="#b8b8b8" />
<path d="M2176.0,1531.3 C2179.6,1529.9 2185.6,1535.6 2189.7,1540.9 C2193.8,1546.1 2197.9,1553.6 2200.6,1562.8 C2203.3,1571.9 2204.3,1585.6 2206.1,1595.6 C2207.9,1605.6 2209.7,1614.7 2211.6,1622.9 C2213.4,1631.1 2218.4,1642.1 2217.0,1644.8 C2215.7,1647.5 2209.3,1643.0 2203.3,1639.3 C2197.4,1635.7 2187.4,1628.9 2181.5,1622.9 C2175.5,1617.0 2170.8,1612.0 2167.8,1603.8 C2164.8,1595.6 2163.7,1582.8 2163.7,1573.7 C2163.7,1564.6 2165.7,1556.1 2167.8,1549.1 C2169.8,1542.0 2172.3,1532.7 2176.0,1531.3 Z" stroke="none" stroke-width="0" fill="#b8b8b8" />
<path d="M2367.5,1502.6 C2370.0,1498.5 2380.0,1493.5 2383.9,1494.4 C2387.7,1495.3 2389.3,1502.6 2390.7,1508.1 C2392.1,1513.5 2393.2,1521.7 2392.1,1527.2 C2390.9,1532.7 2386.6,1539.5 2383.9,1540.9 C2381.1,1542.2 2378.2,1539.1 2375.7,1535.4 C2373.2,1531.8 2370.2,1524.5 2368.8,1519.0 C2367.5,1513.5 2365.0,1506.7 2367.5,1502.6 Z" stroke="none" stroke-width="0" fill="#aaaaaa" />
<path d="M2326.4,1534.0 C2325.1,1528.6 2330.1,1526.1 2334.6,1529.9 C2339.2,1533.8 2347.4,1550.4 2353.8,1557.3 C2360.2,1564.1 2370.4,1565.9 2372.9,1571.0 C2375.4,1576.0 2372.9,1584.2 2368.8,1587.4 C2364.7,1590.6 2352.6,1594.2 2348.3,1590.1 C2344.0,1586.0 2346.5,1572.1 2342.8,1562.8 C2339.2,1553.4 2327.8,1539.5 2326.4,1534.0 Z" stroke="none" stroke-width="0" fill="#b2b2b2" />
<path d="M2348.3,1592.8 C2350.6,1588.1 2361.5,1587.8 2367.5,1588.7 C2373.4,1589.7 2381.1,1594.4 2383.9,1598.3 C2386.6,1602.2 2386.2,1608.3 2383.9,1612.0 C2381.6,1615.6 2373.8,1616.5 2370.2,1620.2 C2366.5,1623.8 2365.2,1631.6 2362.0,1633.9 C2358.8,1636.2 2352.4,1636.6 2351.1,1633.9 C2349.7,1631.1 2354.2,1624.3 2353.8,1617.5 C2353.3,1610.6 2346.0,1597.6 2348.3,1592.8 Z" stroke="none" stroke-width="0" fill="#b8b8b8" />
<path d="M2299.1,1409.6 C2300.0,1407.5 2299.1,1399.8 2304.6,1397.3 C2310.0,1394.8 2322.8,1393.9 2331.9,1394.5 C2341.0,1395.2 2351.1,1398.6 2359.3,1401.4 C2367.5,1404.1 2377.0,1407.8 2381.1,1411.0 C2385.2,1414.1 2386.2,1416.2 2383.9,1420.5 C2381.6,1424.9 2372.5,1432.4 2367.5,1436.9 C2362.4,1441.5 2356.1,1446.1 2353.8,1447.9" stroke="#e2e2e2" stroke-width="5" fill="none" stroke-linecap="round"/>
<path d="M2312.8,1415.1 C2315.9,1413.9 2324.6,1408.2 2331.9,1408.2 C2339.2,1408.2 2350.6,1412.1 2356.5,1415.1 C2362.4,1418.0 2365.6,1424.2 2367.5,1426.0" stroke="#e6e6e6" stroke-width="4" fill="none" stroke-linecap="round"/>
<path d="M2292.2,1267.4 C2294.8,1281.9 2304.8,1340.3 2307.3,1354.9" stroke="#bdbdbd" stroke-width="1.1" fill="none" />
<path d="M2337.4,1263.2 C2337.4,1278.1 2337.4,1337.3 2337.4,1352.1" stroke="#bdbdbd" stroke-width="1.1" fill="none" />
<path d="M2290.9,1486.2 C2293.2,1490.7 2297.7,1504.4 2304.6,1513.5 C2311.4,1522.6 2322.8,1529.5 2331.9,1540.9 C2341.0,1552.3 2354.7,1575.1 2359.3,1581.9" stroke="#bdbdbd" stroke-width="1.1" fill="none" />
<path d="M2312.8,1513.5 C2315.0,1512.6 2321.0,1506.2 2326.4,1508.1 C2331.9,1509.9 2342.4,1521.7 2345.6,1524.5" stroke="#bdbdbd" stroke-width="1.1" fill="none" />
<path d="M2342.8,1486.2 C2345.6,1485.3 2354.2,1480.7 2359.3,1480.7 C2364.3,1480.7 2369.7,1483.4 2372.9,1486.2 C2376.1,1488.9 2377.5,1495.3 2378.4,1497.1" stroke="#bdbdbd" stroke-width="1.1" fill="none" />
<path d="M2345.6,1475.2 C2347.4,1477.1 2352.9,1481.6 2356.5,1486.2 C2360.2,1490.7 2365.6,1499.8 2367.5,1502.6" stroke="#bdbdbd" stroke-width="1.1" fill="none" />
<path d="M2392.1,1540.9 C2393.4,1540.0 2398.0,1537.2 2400.3,1535.4 C2402.6,1533.6 2404.8,1530.8 2405.8,1529.9" stroke="#bdbdbd" stroke-width="1.1" fill="none" />
<path d="M2383.9,1598.3 C2386.6,1596.9 2396.6,1591.0 2400.3,1590.1 C2403.9,1589.2 2404.8,1592.4 2405.8,1592.8" stroke="#bdbdbd" stroke-width="1.1" fill="none" />
<path d="M2372.9,1571.0 C2375.2,1570.5 2381.1,1568.2 2386.6,1568.2 C2392.1,1568.2 2402.6,1570.5 2405.8,1571.0" stroke="#bdbdbd" stroke-width="1.1" fill="none" />
<path d="M2342.8,1620.2 C2343.8,1618.8 2346.0,1612.4 2348.3,1612.0 C2350.6,1611.5 2355.6,1614.3 2356.5,1617.5 C2357.4,1620.7 2355.6,1628.9 2353.8,1631.1 C2352.0,1633.4 2346.9,1631.1 2345.6,1631.1" stroke="#bdbdbd" stroke-width="1.1" fill="none" />
<path d="M2362.0,1633.9 C2364.7,1635.7 2371.1,1642.1 2378.4,1644.8 C2385.7,1647.5 2401.2,1649.4 2405.8,1650.3" stroke="#bdbdbd" stroke-width="1.1" fill="none" />
<path d="M2236.2,1622.9 C2239.8,1622.5 2251.7,1618.4 2258.1,1620.2 C2264.4,1622.0 2271.7,1631.6 2274.5,1633.9" stroke="#bdbdbd" stroke-width="1.1" fill="none" />
<path d="M2236.2,1622.9 C2237.1,1625.7 2237.1,1634.8 2241.6,1639.3 C2246.2,1643.9 2259.9,1648.5 2263.5,1650.3" stroke="#bdbdbd" stroke-width="1.1" fill="none" />
<path d="M2165.1,1644.8 C2167.8,1643.0 2176.0,1633.9 2181.5,1633.9 C2186.9,1633.9 2193.3,1639.3 2197.9,1644.8 C2202.4,1650.3 2207.0,1663.0 2208.8,1666.7" stroke="#bdbdbd" stroke-width="1.1" fill="none" />
<path d="M2219.8,1644.8 C2222.5,1648.5 2230.7,1657.6 2236.2,1666.7 C2241.6,1675.8 2248.0,1690.4 2252.6,1699.5 C2257.1,1708.6 2261.7,1717.8 2263.5,1721.4" stroke="#bdbdbd" stroke-width="1.1" fill="none" />
<path d="M2181.5,1677.6 C2184.2,1678.5 2192.4,1678.5 2197.9,1683.1 C2203.3,1687.7 2212.5,1699.5 2214.3,1705.0 C2216.1,1710.5 2209.7,1714.1 2208.8,1715.9" stroke="#bdbdbd" stroke-width="1.1" fill="none" />
<path d="M2165.1,1740.5 C2170.5,1738.7 2186.0,1733.7 2197.9,1729.6 C2209.7,1725.5 2227.1,1720.0 2236.2,1715.9 C2245.3,1711.8 2249.8,1706.8 2252.6,1705.0" stroke="#bdbdbd" stroke-width="1.1" fill="none" />
<path d="M2252.6,1705.0 C2254.4,1709.5 2259.9,1724.1 2263.5,1732.3 C2267.2,1740.5 2272.6,1750.6 2274.5,1754.2" stroke="#bdbdbd" stroke-width="1.1" fill="none" />
<path d="M2165.1,1740.5 C2166.0,1743.7 2170.1,1751.5 2170.5,1759.7 C2171.0,1767.9 2168.2,1784.8 2167.8,1789.8" stroke="#bdbdbd" stroke-width="1.1" fill="none" />
<path d="M2148.6,1759.7 C2154.1,1758.8 2166.9,1756.5 2181.5,1754.2 C2196.1,1751.9 2222.5,1748.3 2236.2,1746.0 C2249.8,1743.7 2259.0,1741.5 2263.5,1740.5" stroke="#bdbdbd" stroke-width="1.1" fill="none" />
<path d="M2230.7,1721.4 C2231.6,1726.0 2235.7,1739.6 2236.2,1748.8 C2236.6,1757.9 2233.9,1771.5 2233.4,1776.1" stroke="#bdbdbd" stroke-width="1.1" fill="none" />
<path d="M2304.6,1710.5 C2309.1,1709.5 2320.5,1705.0 2331.9,1705.0 C2343.3,1705.0 2360.6,1710.5 2372.9,1710.5 C2385.2,1710.5 2400.3,1705.9 2405.8,1705.0" stroke="#bdbdbd" stroke-width="1.1" fill="none" />
<path d="M2326.4,1691.3 C2327.8,1690.9 2332.8,1686.8 2334.6,1688.6 C2336.5,1690.4 2338.3,1698.6 2337.4,1702.3 C2336.5,1705.9 2331.2,1710.5 2329.2,1710.5 C2327.1,1710.5 2325.7,1703.6 2325.1,1702.3" stroke="#bdbdbd" stroke-width="1.1" fill="none" />
<path d="M2359.3,1694.0 C2362.4,1693.1 2372.5,1686.8 2378.4,1688.6 C2384.3,1690.4 2393.4,1698.6 2394.8,1705.0 C2396.2,1711.4 2391.2,1722.8 2386.6,1726.9 C2382.0,1731.0 2372.5,1731.4 2367.5,1729.6 C2362.4,1727.8 2358.3,1718.2 2356.5,1715.9" stroke="#bdbdbd" stroke-width="1.1" fill="none" />
<path d="M2342.8,1732.3 C2347.9,1733.3 2362.4,1737.8 2372.9,1737.8 C2383.4,1737.8 2400.3,1733.3 2405.8,1732.3" stroke="#bdbdbd" stroke-width="1.1" fill="none" />
<path d="M2378.4,1748.8 C2380.2,1747.8 2386.6,1742.8 2389.3,1743.3 C2392.1,1743.7 2395.3,1748.8 2394.8,1751.5 C2394.4,1754.2 2389.3,1759.0 2386.6,1759.7 C2383.9,1760.4 2379.8,1756.3 2378.4,1755.6" stroke="#bdbdbd" stroke-width="1.1" fill="none" />
<path d="M2093.9,1603.8 C2095.3,1602.9 2099.9,1597.4 2102.1,1598.3 C2104.4,1599.2 2107.6,1604.2 2107.6,1609.3 C2107.6,1614.3 2103.1,1625.2 2102.1,1628.4" stroke="#bdbdbd" stroke-width="1.1" fill="none" />
<path d="M2044.7,1644.8 C2045.4,1645.7 2047.4,1649.8 2048.8,1650.3 C2050.2,1650.7 2052.5,1646.6 2052.9,1647.5 C2053.4,1648.5 2051.8,1654.4 2051.5,1655.8" stroke="#bdbdbd" stroke-width="1.1" fill="none" />
<path d="M2048.8,1650.3 C2052.7,1659.4 2064.5,1688.6 2072.1,1705.0 C2079.6,1721.4 2086.2,1736.9 2093.9,1748.8 C2101.7,1760.6 2114.5,1771.5 2118.6,1776.1" stroke="#bdbdbd" stroke-width="1.1" fill="none" />
<path d="M2061.1,1650.3 C2064.8,1658.5 2075.7,1684.0 2083.0,1699.5 C2090.3,1715.0 2096.7,1730.5 2104.9,1743.3 C2113.1,1756.0 2127.7,1770.6 2132.2,1776.1" stroke="#bdbdbd" stroke-width="1.1" fill="none" />
<path d="M2143.2,1787.0 C2145.0,1784.8 2147.7,1776.1 2154.1,1773.4 C2160.5,1770.6 2172.3,1770.6 2181.5,1770.6 C2190.6,1770.6 2204.3,1772.9 2208.8,1773.4" stroke="#bdbdbd" stroke-width="1.1" fill="none" />
<path d="M2208.8,1691.3 C2209.3,1693.1 2210.6,1700.0 2211.6,1702.3 C2212.5,1704.5 2213.8,1704.5 2214.3,1705.0" stroke="#bdbdbd" stroke-width="1.1" fill="none" />
<path d="M2405.8,1393.2 C2400.3,1390.0 2385.2,1378.6 2372.9,1374.0 C2360.6,1369.5 2345.6,1365.8 2331.9,1365.8 C2318.2,1365.8 2304.1,1369.5 2290.9,1374.0 C2277.7,1378.6 2265.3,1385.9 2252.6,1393.2 C2239.8,1400.5 2227.1,1407.8 2214.3,1417.8 C2201.5,1427.8 2187.4,1441.5 2176.0,1453.3 C2164.6,1465.2 2154.6,1477.5 2145.9,1488.9 C2137.2,1500.3 2129.5,1511.7 2124.0,1521.7 C2118.6,1531.8 2115.4,1539.1 2113.1,1549.1 C2110.8,1559.1 2110.8,1571.0 2110.4,1581.9 C2109.9,1592.8 2110.4,1609.3 2110.4,1614.7" stroke="#9a9a9a" stroke-width="1.2" fill="none" />
<path d="M2274.5,1393.2 C2277.2,1391.3 2281.3,1385.4 2290.9,1382.2 C2300.4,1379.0 2318.2,1374.0 2331.9,1374.0 C2345.6,1374.0 2360.6,1377.2 2372.9,1382.2 C2385.2,1387.2 2400.3,1400.5 2405.8,1404.1" stroke="#9a9a9a" stroke-width="1.2" fill="none" />
<path d="M2274.5,1393.2 C2274.0,1396.8 2270.8,1407.8 2271.7,1415.1 C2272.6,1422.3 2275.4,1431.0 2279.9,1436.9 C2284.5,1442.9 2291.3,1447.0 2299.1,1450.6 C2306.8,1454.3 2318.7,1457.9 2326.4,1458.8 C2334.2,1459.7 2338.7,1458.8 2345.6,1456.1 C2352.4,1453.3 2360.6,1447.0 2367.5,1442.4 C2374.3,1437.8 2381.6,1433.3 2386.6,1428.7 C2391.6,1424.2 2395.7,1417.3 2397.5,1415.1" stroke="#9a9a9a" stroke-width="1.2" fill="none" />
<path d="M2222.5,1490.3 C2224.8,1491.0 2231.2,1495.1 2236.2,1494.4 C2241.2,1493.7 2248.0,1489.8 2252.6,1486.2 C2257.1,1482.5 2258.1,1477.1 2263.5,1472.5 C2269.0,1467.9 2277.2,1461.1 2285.4,1458.8 C2293.6,1456.5 2304.6,1457.5 2312.8,1458.8 C2321.0,1460.2 2329.2,1464.3 2334.6,1467.0 C2340.1,1469.8 2343.8,1473.9 2345.6,1475.2" stroke="#9a9a9a" stroke-width="1.2" fill="none" />
<path d="M2207.5,1491.6 C2204.9,1489.8 2196.3,1481.6 2192.4,1480.7 C2188.5,1479.8 2185.3,1481.6 2184.2,1486.2 C2183.1,1490.7 2186.5,1503.5 2185.6,1508.1 C2184.7,1512.6 2180.8,1511.2 2178.7,1513.5 C2176.7,1515.8 2172.8,1519.0 2173.3,1521.7 C2173.7,1524.5 2180.1,1528.6 2181.5,1529.9" stroke="#9a9a9a" stroke-width="1.2" fill="none" />
<path d="M2208.8,1491.6 C2209.7,1493.5 2210.6,1500.8 2214.3,1502.6 C2217.9,1504.4 2226.6,1503.5 2230.7,1502.6 C2234.8,1501.7 2237.5,1498.0 2238.9,1497.1" stroke="#9a9a9a" stroke-width="1.2" fill="none" />
<path d="M2208.8,1535.4 C2210.2,1532.7 2212.5,1522.6 2217.0,1519.0 C2221.6,1515.3 2230.2,1513.1 2236.2,1513.5 C2242.1,1514.0 2248.0,1517.2 2252.6,1521.7 C2257.1,1526.3 2261.2,1534.0 2263.5,1540.9 C2265.8,1547.7 2265.8,1559.1 2266.3,1562.8" stroke="#9a9a9a" stroke-width="1.2" fill="none" />
<path d="M2208.8,1535.4 C2210.2,1540.9 2213.4,1556.4 2217.0,1568.2 C2220.7,1580.1 2224.8,1595.6 2230.7,1606.5 C2236.6,1617.5 2245.3,1625.2 2252.6,1633.9 C2259.9,1642.5 2268.1,1649.4 2274.5,1658.5 C2280.8,1667.6 2285.9,1679.9 2290.9,1688.6 C2295.9,1697.2 2302.3,1706.8 2304.6,1710.5" stroke="#9a9a9a" stroke-width="1.2" fill="none" />
<path d="M2279.9,1639.3 C2281.8,1642.1 2286.3,1648.5 2290.9,1655.8 C2295.4,1663.0 2304.1,1675.8 2307.3,1683.1 C2310.5,1690.4 2310.9,1696.3 2310.0,1699.5 C2309.1,1702.7 2305.0,1705.9 2301.8,1702.3 C2298.6,1698.6 2294.5,1685.4 2290.9,1677.6 C2287.2,1669.9 2282.0,1661.7 2279.9,1655.8 C2277.9,1649.8 2278.8,1644.4 2278.6,1642.1" stroke="#9a9a9a" stroke-width="1.2" fill="none" />
<path d="M2115.8,1617.5 C2117.6,1622.9 2122.2,1638.4 2126.8,1650.3 C2131.3,1662.1 2136.8,1678.5 2143.2,1688.6 C2149.6,1698.6 2161.4,1706.8 2165.1,1710.5" stroke="#9a9a9a" stroke-width="1.2" fill="none" />
<path d="M2009.1,1532.7 L2102.1,1542.2" stroke="#9a9a9a" stroke-width="1.2" fill="none" stroke-dasharray="5 3"/>
<path d="M2058.4,1586.0 L2096.7,1581.9" stroke="#9a9a9a" stroke-width="1.2" fill="none" stroke-dasharray="5 3"/>
<path d="M2271.7,1380.9 C2275.1,1381.8 2274.0,1387.5 2273.1,1393.2 C2272.2,1398.9 2267.9,1407.8 2266.3,1415.1 C2264.7,1422.3 2267.2,1430.1 2263.5,1436.9 C2259.9,1443.8 2250.3,1450.2 2244.4,1456.1 C2238.5,1462.0 2231.6,1466.8 2228.0,1472.5 C2224.3,1478.2 2225.9,1487.1 2222.5,1490.3 C2219.1,1493.5 2209.3,1494.6 2207.5,1491.6 C2205.6,1488.7 2211.3,1478.9 2211.6,1472.5 C2211.8,1466.1 2209.7,1460.2 2208.8,1453.3 C2207.9,1446.5 2205.2,1437.8 2206.1,1431.5 C2207.0,1425.1 2210.2,1420.5 2214.3,1415.1 C2218.4,1409.6 2224.3,1403.2 2230.7,1398.6 C2237.1,1394.1 2245.7,1390.7 2252.6,1387.7 C2259.4,1384.7 2268.3,1380.0 2271.7,1380.9 Z" stroke="none" stroke-width="0" fill="#000" />
<path d="M2397.5,1420.5 C2399.8,1418.7 2408.9,1408.2 2411.2,1420.5 C2413.5,1432.8 2414.0,1482.3 2411.2,1494.4 C2408.5,1506.5 2398.0,1495.3 2394.8,1493.0 C2391.6,1490.7 2393.9,1485.0 2392.1,1480.7 C2390.3,1476.4 2385.7,1472.0 2383.9,1467.0 C2382.0,1462.0 2380.7,1454.7 2381.1,1450.6 C2381.6,1446.5 2383.9,1445.6 2386.6,1442.4 C2389.3,1439.2 2395.7,1435.1 2397.5,1431.5 C2399.4,1427.8 2395.3,1422.3 2397.5,1420.5 Z" stroke="none" stroke-width="0" fill="#000" />
</g>
<path d="M2405.8,1287.9 C2403.9,1286.3 2400.3,1281.5 2394.8,1278.3 C2389.3,1275.1 2381.1,1271.2 2372.9,1268.7 C2364.7,1266.2 2357.0,1264.4 2345.6,1263.2 C2334.2,1262.1 2318.2,1261.2 2304.6,1261.9 C2290.9,1262.6 2277.2,1264.6 2263.5,1267.4 C2249.8,1270.1 2236.2,1273.7 2222.5,1278.3 C2208.8,1282.9 2195.1,1287.9 2181.5,1294.7 C2167.8,1301.5 2154.1,1309.7 2140.4,1319.3 C2126.8,1328.9 2111.7,1340.7 2099.4,1352.1 C2087.1,1363.5 2076.6,1374.9 2066.6,1387.7 C2056.6,1400.5 2047.0,1414.6 2039.2,1428.7 C2031.5,1442.9 2024.9,1458.4 2020.1,1472.5 C2015.3,1486.6 2012.6,1499.8 2010.5,1513.5 C2008.5,1527.2 2007.6,1540.9 2007.8,1554.6 C2008.0,1568.2 2009.4,1583.3 2011.9,1595.6 C2014.4,1607.9 2018.7,1618.4 2022.8,1628.4 C2026.9,1638.4 2031.5,1645.7 2036.5,1655.8 C2041.5,1665.8 2047.4,1676.7 2052.9,1688.6 C2058.4,1700.4 2064.3,1715.9 2069.3,1726.9 C2074.3,1737.8 2078.0,1746.0 2083.0,1754.2 C2088.0,1762.4 2092.1,1770.2 2099.4,1776.1 C2106.7,1782.0 2115.4,1787.0 2126.8,1789.8 C2138.2,1792.5 2154.1,1793.0 2167.8,1792.5 C2181.5,1792.1 2197.4,1789.8 2208.8,1787.0 C2220.2,1784.3 2227.1,1780.7 2236.2,1776.1 C2245.3,1771.5 2254.4,1763.8 2263.5,1759.7 C2272.6,1755.6 2279.5,1751.5 2290.9,1751.5 C2302.3,1751.5 2318.2,1756.5 2331.9,1759.7 C2345.6,1762.9 2360.6,1768.4 2372.9,1770.6 C2385.2,1772.9 2400.3,1772.9 2405.8,1773.4" stroke="#555" stroke-width="1.6" fill="none" />
<path d="M2405.8,1287.9 L2405.8,1379.5" stroke="#555" stroke-width="1.4" fill="none" />
<path d="M2403.0,1674.9 L2403.0,1759.7" stroke="#000" stroke-width="4.5" fill="none" stroke-dasharray="24 5 14 5"/>
<path d="M2312.8,1523.1 L2374.3,1526.7" stroke="#222" stroke-width="1.6" fill="none" />
<path d="M2304.6,1569.6 L2349.7,1565.5" stroke="#222" stroke-width="1.6" fill="none" />
<path d="M2334.6,1606.5 L2360.6,1603.8" stroke="#222" stroke-width="1.6" fill="none" />
<text x="2029.7" y="1553.2" font-size="39" fill="#000" text-anchor="start" font-weight="normal" >GI</text>
<text x="2024.2" y="1591.5" font-size="39" fill="#000" text-anchor="start" font-weight="normal" >DI</text>
<text x="2025.6" y="1636.6" font-size="39" fill="#000" text-anchor="start" font-weight="normal" >AIP</text>
<text x="2159.6" y="1605.2" font-size="39" fill="#000" text-anchor="start" font-weight="normal" >GP</text>
<text x="2104.9" y="1688.6" font-size="39" fill="#000" text-anchor="start" font-weight="normal" >BLA</text>
<text x="2093.9" y="1750.1" font-size="39" fill="#000" text-anchor="start" font-weight="normal" >Pir</text>
<text x="2243.0" y="1535.4" font-size="39" fill="#000" text-anchor="start" font-weight="normal" >MD</text>
<text x="2237.5" y="1581.9" font-size="39" fill="#000" text-anchor="start" font-weight="normal" >AM</text>
<text x="2256.7" y="1622.9" font-size="39" fill="#000" text-anchor="start" font-weight="normal" >Sub</text>
<defs><clipPath id="ce7"><path d="M2901.5,1244.0 C2899.3,1241.8 2894.5,1234.4 2888.4,1230.8 C2882.2,1227.1 2873.7,1223.9 2864.9,1222.0 C2856.1,1220.0 2847.8,1219.0 2835.6,1219.0 C2823.4,1219.0 2806.3,1220.3 2791.6,1222.0 C2777.0,1223.7 2762.3,1226.1 2747.7,1229.3 C2733.0,1232.5 2718.4,1236.1 2703.7,1241.0 C2689.1,1245.9 2674.4,1251.3 2659.8,1258.6 C2645.1,1265.9 2630.5,1275.2 2615.8,1285.0 C2601.2,1294.7 2585.5,1305.5 2571.9,1317.2 C2558.2,1328.9 2545.5,1341.6 2533.8,1355.3 C2522.1,1369.0 2510.8,1383.6 2501.5,1399.3 C2492.3,1414.9 2484.0,1433.5 2478.1,1449.1 C2472.2,1464.7 2468.8,1478.4 2466.4,1493.0 C2463.9,1507.7 2463.2,1522.3 2463.4,1537.0 C2463.7,1551.6 2465.4,1567.3 2467.8,1581.0 C2470.3,1594.6 2473.9,1606.3 2478.1,1619.0 C2482.2,1631.7 2487.9,1644.9 2492.7,1657.1 C2497.6,1669.4 2502.5,1681.1 2507.4,1692.3 C2512.3,1703.5 2517.2,1714.8 2522.1,1724.5 C2526.9,1734.3 2530.8,1743.1 2536.7,1750.9 C2542.6,1758.7 2548.9,1765.6 2557.2,1771.4 C2565.5,1777.3 2574.3,1782.2 2586.5,1786.1 C2598.7,1790.0 2615.8,1793.7 2630.5,1794.9 C2645.1,1796.1 2662.2,1795.4 2674.4,1793.4 C2686.6,1791.5 2694.9,1787.8 2703.7,1783.2 C2712.5,1778.5 2720.3,1771.4 2727.2,1765.6 C2734.0,1759.7 2738.9,1752.4 2744.8,1748.0 C2750.6,1743.6 2756.5,1739.2 2762.3,1739.2 C2768.2,1739.2 2772.6,1742.6 2779.9,1748.0 C2787.3,1753.4 2797.0,1764.6 2806.3,1771.4 C2815.6,1778.3 2825.8,1784.9 2835.6,1789.0 C2845.4,1793.2 2853.9,1794.9 2864.9,1796.3 C2875.9,1797.8 2895.4,1797.6 2901.5,1797.8 Z"/></clipPath></defs>
<g clip-path="url(#ce7)">
<path d="M2440.0,1585.3 L2561.6,1578.0 L2566.0,1619.0 L2488.4,1638.1 L2440.0,1645.4 Z" stroke="none" stroke-width="0" fill="#dcdcdc" />
<path d="M2901.5,1343.6 C2897.9,1341.1 2888.1,1333.3 2879.6,1328.9 C2871.0,1324.5 2862.5,1320.4 2850.3,1317.2 C2838.0,1314.0 2821.0,1309.9 2806.3,1309.9 C2791.6,1309.9 2777.0,1313.1 2762.3,1317.2 C2747.7,1321.4 2733.0,1327.0 2718.4,1334.8 C2703.7,1342.6 2689.1,1352.4 2674.4,1364.1 C2659.8,1375.8 2643.7,1391.0 2630.5,1405.1 C2617.3,1419.3 2605.1,1434.4 2595.3,1449.1 C2585.5,1463.7 2577.2,1478.4 2571.9,1493.0 C2566.5,1507.7 2564.5,1522.8 2563.1,1537.0 C2561.6,1551.2 2562.6,1564.3 2563.1,1578.0 C2563.6,1591.7 2564.5,1603.9 2566.0,1619.0 C2567.5,1634.2 2568.4,1655.7 2571.9,1668.9 C2575.3,1682.1 2581.1,1690.4 2586.5,1698.2 C2591.9,1706.0 2601.2,1712.8 2604.1,1715.8 L2615.8,1803.7 L2901.5,1803.7 Z" stroke="none" stroke-width="0" fill="#fff" />
<path d="M2901.5,1343.6 C2897.9,1341.1 2888.1,1333.3 2879.6,1328.9 C2871.0,1324.5 2862.5,1320.4 2850.3,1317.2 C2838.0,1314.0 2821.0,1309.9 2806.3,1309.9 C2791.6,1309.9 2777.0,1313.1 2762.3,1317.2 C2747.7,1321.4 2733.0,1327.0 2718.4,1334.8 C2703.7,1342.6 2689.1,1352.4 2674.4,1364.1 C2659.8,1375.8 2643.7,1391.0 2630.5,1405.1 C2617.3,1419.3 2605.1,1434.4 2595.3,1449.1 C2585.5,1463.7 2577.2,1478.4 2571.9,1493.0 C2566.5,1507.7 2564.5,1522.8 2563.1,1537.0 C2561.6,1551.2 2562.6,1564.3 2563.1,1578.0 C2563.6,1591.7 2564.5,1603.9 2566.0,1619.0 C2567.5,1634.2 2568.4,1655.7 2571.9,1668.9 C2575.3,1682.1 2581.1,1690.4 2586.5,1698.2 C2591.9,1706.0 2601.2,1712.8 2604.1,1715.8" stroke="#9a9a9a" stroke-width="1.2" fill="none" />
<path d="M2866.4,1488.6 C2869.8,1481.8 2881.3,1474.7 2885.4,1475.5 C2889.6,1476.2 2890.3,1485.2 2891.3,1493.0 C2892.3,1500.9 2892.7,1513.6 2891.3,1522.3 C2889.8,1531.1 2886.9,1540.9 2882.5,1545.8 C2878.1,1550.7 2870.3,1551.2 2864.9,1551.6 C2859.5,1552.1 2852.2,1551.2 2850.3,1548.7 C2848.3,1546.3 2850.7,1542.4 2853.2,1537.0 C2855.6,1531.6 2862.7,1524.5 2864.9,1516.5 C2867.1,1508.4 2863.0,1495.5 2866.4,1488.6 Z" stroke="none" stroke-width="0" fill="#b2b2b2" />
<path d="M2715.5,1390.5 C2716.4,1386.1 2713.5,1372.2 2721.3,1364.1 C2729.1,1356.0 2750.6,1346.5 2762.3,1342.1 C2774.1,1337.7 2779.4,1337.5 2791.6,1337.7 C2803.9,1338.0 2821.0,1339.2 2835.6,1343.6 C2850.3,1348.0 2869.3,1359.2 2879.6,1364.1 C2889.8,1369.0 2894.2,1371.4 2897.1,1372.9" stroke="#e2e2e2" stroke-width="5" fill="none" stroke-linecap="round"/>
<path d="M2715.5,1390.5 C2718.4,1392.9 2722.8,1401.7 2733.0,1405.1 C2743.3,1408.5 2764.8,1411.0 2777.0,1411.0 C2789.2,1411.0 2795.1,1403.2 2806.3,1405.1 C2817.5,1407.1 2835.1,1420.8 2844.4,1422.7 C2853.7,1424.7 2855.6,1420.3 2862.0,1416.8 C2868.3,1413.4 2879.1,1404.6 2882.5,1402.2" stroke="#e2e2e2" stroke-width="5" fill="none" stroke-linecap="round"/>
<path d="M2797.5,1400.7 C2801.4,1401.5 2815.1,1402.9 2821.0,1405.1 C2826.8,1407.3 2830.7,1412.5 2832.7,1413.9" stroke="#e6e6e6" stroke-width="4" fill="none" stroke-linecap="round"/>
<path d="M2779.9,1223.4 C2781.6,1237.9 2788.5,1295.5 2790.2,1309.9" stroke="#bdbdbd" stroke-width="1.1" fill="none" />
<path d="M2828.3,1219.0 C2828.3,1234.2 2828.3,1294.7 2828.3,1309.9" stroke="#bdbdbd" stroke-width="1.1" fill="none" />
<path d="M2466.4,1532.6 C2482.5,1533.3 2547.0,1536.3 2563.1,1537.0" stroke="#bdbdbd" stroke-width="1.1" fill="none" />
<path d="M2497.1,1642.5 C2500.3,1650.8 2509.1,1676.2 2516.2,1692.3 C2523.3,1708.4 2531.3,1726.0 2539.6,1739.2 C2547.9,1752.4 2561.6,1766.1 2566.0,1771.4" stroke="#bdbdbd" stroke-width="1.1" fill="none" />
<path d="M2505.9,1639.6 C2509.1,1647.4 2517.9,1670.8 2525.0,1686.4 C2532.1,1702.1 2539.6,1719.2 2548.4,1733.3 C2557.2,1747.5 2572.8,1765.1 2577.7,1771.4" stroke="#bdbdbd" stroke-width="1.1" fill="none" />
<path d="M2703.7,1510.6 C2708.6,1509.2 2723.3,1500.9 2733.0,1501.8 C2742.8,1502.8 2754.5,1508.2 2762.3,1516.5 C2770.2,1524.8 2776.5,1539.9 2779.9,1551.6 C2783.3,1563.4 2785.8,1578.0 2782.9,1586.8 C2779.9,1595.6 2770.6,1605.4 2762.3,1604.4 C2754.0,1603.4 2741.8,1590.7 2733.0,1581.0 C2724.2,1571.2 2713.5,1551.6 2709.6,1545.8" stroke="#bdbdbd" stroke-width="1.1" fill="none" />
<path d="M2715.5,1519.4 C2719.4,1518.4 2731.6,1512.1 2738.9,1513.6 C2746.2,1515.0 2754.0,1520.9 2759.4,1528.2 C2764.8,1535.5 2769.2,1548.2 2771.1,1557.5 C2773.1,1566.8 2774.1,1579.0 2771.1,1583.9 C2768.2,1588.8 2760.4,1590.2 2753.6,1586.8 C2746.7,1583.4 2736.0,1571.7 2730.1,1563.4 C2724.2,1555.1 2720.3,1541.4 2718.4,1537.0" stroke="#bdbdbd" stroke-width="1.1" fill="none" />
<path d="M2615.8,1563.4 C2618.8,1561.4 2627.5,1550.7 2633.4,1551.6 C2639.3,1552.6 2647.1,1561.4 2651.0,1569.2 C2654.9,1577.0 2656.8,1587.8 2656.8,1598.5 C2656.8,1609.3 2654.9,1626.9 2651.0,1633.7 C2647.1,1640.5 2638.8,1643.5 2633.4,1639.6 C2628.0,1635.7 2622.2,1620.0 2618.8,1610.3 C2615.3,1600.5 2613.9,1585.8 2612.9,1581.0" stroke="#bdbdbd" stroke-width="1.1" fill="none" />
<path d="M2703.7,1627.8 C2706.7,1626.4 2715.5,1618.1 2721.3,1619.0 C2727.2,1620.0 2734.5,1627.4 2738.9,1633.7 C2743.3,1640.0 2748.7,1651.3 2747.7,1657.1 C2746.7,1663.0 2738.9,1668.9 2733.0,1668.9 C2727.2,1668.9 2715.9,1659.1 2712.5,1657.1" stroke="#bdbdbd" stroke-width="1.1" fill="none" />
<path d="M2818.0,1487.2 C2820.0,1485.2 2824.4,1476.9 2829.7,1475.5 C2835.1,1474.0 2844.4,1475.5 2850.3,1478.4 C2856.1,1481.3 2862.5,1490.6 2864.9,1493.0" stroke="#bdbdbd" stroke-width="1.1" fill="none" />
<path d="M2821.0,1481.3 C2820.5,1487.2 2816.1,1505.7 2818.0,1516.5 C2820.0,1527.2 2826.3,1538.9 2832.7,1545.8 C2839.0,1552.6 2852.2,1555.6 2856.1,1557.5" stroke="#bdbdbd" stroke-width="1.1" fill="none" />
<path d="M2791.6,1481.3 C2795.6,1488.2 2805.3,1509.2 2815.1,1522.3 C2824.9,1535.5 2835.8,1556.5 2850.3,1560.4 C2864.7,1564.3 2893.0,1548.2 2901.5,1545.8" stroke="#bdbdbd" stroke-width="1.1" fill="none" />
<path d="M2832.7,1595.6 C2835.6,1594.6 2843.9,1589.3 2850.3,1589.7 C2856.6,1590.2 2866.9,1594.1 2870.8,1598.5 C2874.7,1602.9 2876.1,1611.7 2873.7,1616.1 C2871.3,1620.5 2862.5,1624.9 2856.1,1624.9 C2849.8,1624.9 2839.0,1617.6 2835.6,1616.1" stroke="#bdbdbd" stroke-width="1.1" fill="none" />
<path d="M2835.6,1639.6 C2837.1,1638.6 2841.5,1633.2 2844.4,1633.7 C2847.3,1634.2 2853.2,1639.6 2853.2,1642.5 C2853.2,1645.4 2845.9,1649.8 2844.4,1651.3" stroke="#bdbdbd" stroke-width="1.1" fill="none" />
<path d="M2762.3,1627.8 C2769.7,1624.9 2791.6,1612.2 2806.3,1610.3 C2821.0,1608.3 2834.4,1617.1 2850.3,1616.1 C2866.1,1615.1 2893.0,1606.3 2901.5,1604.4" stroke="#bdbdbd" stroke-width="1.1" fill="none" />
<path d="M2785.8,1645.4 C2787.7,1649.3 2796.5,1660.1 2797.5,1668.9 C2798.5,1677.7 2793.6,1695.7 2791.6,1698.2 C2789.7,1700.6 2786.8,1686.0 2785.8,1683.5" stroke="#bdbdbd" stroke-width="1.1" fill="none" />
<path d="M2815.1,1727.5 C2816.1,1725.0 2819.0,1714.8 2821.0,1712.8 C2822.9,1710.9 2826.8,1712.3 2826.8,1715.8 C2826.8,1719.2 2821.9,1730.4 2821.0,1733.3" stroke="#bdbdbd" stroke-width="1.1" fill="none" />
<path d="M2762.3,1718.7 C2764.3,1718.2 2771.6,1714.3 2774.1,1715.8 C2776.5,1717.2 2778.5,1725.0 2777.0,1727.5 C2775.5,1729.9 2767.2,1729.9 2765.3,1730.4" stroke="#bdbdbd" stroke-width="1.1" fill="none" />
<path d="M2821.0,1756.8 C2824.9,1753.8 2835.6,1742.6 2844.4,1739.2 C2853.2,1735.8 2865.9,1734.3 2873.7,1736.3 C2881.5,1738.2 2889.3,1744.6 2891.3,1750.9 C2893.2,1757.3 2891.3,1768.5 2885.4,1774.4 C2879.6,1780.2 2865.4,1785.6 2856.1,1786.1 C2846.8,1786.6 2834.1,1778.8 2829.7,1777.3" stroke="#bdbdbd" stroke-width="1.1" fill="none" />
<path d="M2826.8,1756.8 C2830.2,1754.8 2840.0,1747.5 2847.3,1745.1 C2854.7,1742.6 2864.4,1740.7 2870.8,1742.1 C2877.1,1743.6 2884.0,1749.0 2885.4,1753.8 C2886.9,1758.7 2884.4,1767.0 2879.6,1771.4 C2874.7,1775.8 2863.9,1780.2 2856.1,1780.2 C2848.3,1780.2 2836.6,1772.9 2832.7,1771.4" stroke="#bdbdbd" stroke-width="1.1" fill="none" />
<path d="M2574.8,1657.1 C2579.7,1655.2 2595.3,1645.4 2604.1,1645.4 C2612.9,1645.4 2620.7,1651.3 2627.5,1657.1 C2634.4,1663.0 2642.2,1676.7 2645.1,1680.6" stroke="#bdbdbd" stroke-width="1.1" fill="none" />
<path d="M2592.4,1686.4 C2597.3,1685.5 2611.9,1679.6 2621.7,1680.6 C2631.5,1681.6 2642.2,1691.3 2651.0,1692.3 C2659.8,1693.3 2670.5,1687.4 2674.4,1686.4" stroke="#bdbdbd" stroke-width="1.1" fill="none" />
<path d="M2604.1,1715.8 C2608.0,1716.7 2620.7,1721.6 2627.5,1721.6 C2634.4,1721.6 2636.3,1715.8 2645.1,1715.8 C2653.9,1715.8 2670.5,1721.6 2680.3,1721.6 C2690.1,1721.6 2699.8,1716.7 2703.7,1715.8" stroke="#bdbdbd" stroke-width="1.1" fill="none" />
<path d="M2627.5,1721.6 C2626.6,1727.5 2623.2,1746.0 2621.7,1756.8 C2620.2,1767.5 2619.2,1781.2 2618.8,1786.1" stroke="#bdbdbd" stroke-width="1.1" fill="none" />
<path d="M2680.3,1721.6 C2678.3,1727.5 2671.0,1745.1 2668.6,1756.8 C2666.1,1768.5 2666.1,1786.1 2665.6,1791.9" stroke="#bdbdbd" stroke-width="1.1" fill="none" />
<path d="M2703.7,1715.8 C2702.8,1721.6 2698.4,1739.7 2697.9,1750.9 C2697.4,1762.1 2700.3,1777.8 2700.8,1783.2" stroke="#bdbdbd" stroke-width="1.1" fill="none" />
<path d="M2601.2,1742.1 C2601.7,1739.7 2601.7,1730.4 2604.1,1727.5 C2606.5,1724.5 2612.4,1723.1 2615.8,1724.5 C2619.2,1726.0 2624.6,1731.9 2624.6,1736.3 C2624.6,1740.7 2617.3,1748.5 2615.8,1750.9" stroke="#bdbdbd" stroke-width="1.1" fill="none" />
<path d="M2791.6,1756.8 C2793.1,1759.7 2798.0,1769.5 2800.4,1774.4 C2802.9,1779.2 2805.3,1784.1 2806.3,1786.1" stroke="#bdbdbd" stroke-width="1.1" fill="none" />
<path d="M2850.3,1551.6 C2851.2,1556.5 2851.2,1574.1 2856.1,1581.0 C2861.0,1587.8 2872.0,1591.7 2879.6,1592.7 C2887.1,1593.7 2897.9,1587.8 2901.5,1586.8" stroke="#bdbdbd" stroke-width="1.1" fill="none" />
<path d="M2841.5,1457.9 C2842.9,1459.8 2846.3,1467.2 2850.3,1469.6 C2854.2,1472.0 2860.0,1473.5 2864.9,1472.5 C2869.8,1471.6 2877.1,1465.2 2879.6,1463.7" stroke="#bdbdbd" stroke-width="1.1" fill="none" />
<path d="M2777.0,1680.6 C2781.9,1683.5 2797.5,1694.3 2806.3,1698.2 C2815.1,1702.1 2823.4,1704.0 2829.7,1704.0 C2836.1,1704.0 2842.0,1699.1 2844.4,1698.2" stroke="#bdbdbd" stroke-width="1.1" fill="none" />
<path d="M2844.4,1680.6 C2847.8,1679.6 2858.1,1674.2 2864.9,1674.7 C2871.7,1675.2 2879.3,1682.5 2885.4,1683.5 C2891.5,1684.5 2898.9,1681.1 2901.5,1680.6" stroke="#bdbdbd" stroke-width="1.1" fill="none" />
<path d="M2901.5,1355.3 C2896.9,1352.9 2882.2,1345.1 2873.7,1340.7 C2865.2,1336.3 2861.5,1332.1 2850.3,1328.9 C2839.0,1325.8 2821.0,1321.6 2806.3,1321.6 C2791.6,1321.6 2776.5,1324.8 2762.3,1328.9 C2748.2,1333.1 2735.0,1338.7 2721.3,1346.5 C2707.6,1354.3 2694.0,1364.6 2680.3,1375.8 C2666.6,1387.1 2652.0,1400.2 2639.3,1413.9 C2626.6,1427.6 2613.9,1443.7 2604.1,1457.9 C2594.3,1472.0 2586.0,1485.2 2580.7,1498.9 C2575.3,1512.6 2573.6,1526.7 2571.9,1539.9 C2570.2,1553.1 2570.6,1571.7 2570.4,1578.0" stroke="#9a9a9a" stroke-width="1.2" fill="none" />
<path d="M2694.9,1387.5 C2696.4,1384.6 2694.9,1376.8 2703.7,1370.0 C2712.5,1363.1 2733.0,1353.4 2747.7,1346.5 C2762.3,1339.7 2777.0,1330.9 2791.6,1328.9 C2806.3,1327.0 2821.0,1330.4 2835.6,1334.8 C2850.3,1339.2 2868.6,1349.9 2879.6,1355.3 C2890.5,1360.7 2897.9,1365.1 2901.5,1367.0" stroke="#9a9a9a" stroke-width="1.2" fill="none" />
<path d="M2694.9,1387.5 C2695.4,1391.5 2694.5,1405.1 2697.9,1411.0 C2701.3,1416.8 2707.2,1420.8 2715.5,1422.7 C2723.8,1424.7 2737.4,1422.2 2747.7,1422.7 C2757.9,1423.2 2767.2,1423.7 2777.0,1425.6 C2786.8,1427.6 2796.5,1430.5 2806.3,1434.4 C2816.1,1438.3 2827.3,1446.6 2835.6,1449.1 C2843.9,1451.5 2849.8,1452.5 2856.1,1449.1 C2862.5,1445.7 2867.8,1438.8 2873.7,1428.6 C2879.6,1418.3 2888.4,1394.4 2891.3,1387.5" stroke="#9a9a9a" stroke-width="1.2" fill="none" />
<path d="M2656.8,1481.3 C2658.8,1482.3 2662.7,1486.7 2668.6,1487.2 C2674.4,1487.7 2685.2,1487.2 2692.0,1484.2 C2698.9,1481.3 2705.7,1471.6 2709.6,1469.6 C2713.5,1467.6 2716.4,1469.1 2715.5,1472.5 C2714.5,1475.9 2709.6,1485.7 2703.7,1490.1 C2697.9,1494.5 2687.1,1497.9 2680.3,1498.9 C2673.5,1499.9 2665.6,1496.5 2662.7,1496.0" stroke="#9a9a9a" stroke-width="1.2" fill="none" />
<path d="M2642.2,1457.9 C2639.8,1461.8 2633.4,1474.5 2627.5,1481.3 C2621.7,1488.2 2607.0,1494.5 2607.0,1498.9 C2607.0,1503.3 2623.2,1503.8 2627.5,1507.7 C2631.9,1511.6 2633.9,1517.5 2633.4,1522.3 C2632.9,1527.2 2625.1,1532.6 2624.6,1537.0 C2624.1,1541.4 2626.1,1546.3 2630.5,1548.7 C2634.9,1551.2 2645.6,1547.3 2651.0,1551.6 C2656.4,1556.0 2658.8,1565.3 2662.7,1575.1 C2666.6,1584.9 2670.0,1599.5 2674.4,1610.3 C2678.8,1621.0 2684.2,1629.8 2689.1,1639.6 C2694.0,1649.3 2698.4,1659.1 2703.7,1668.9 C2709.1,1678.6 2715.0,1688.4 2721.3,1698.2 C2727.7,1707.9 2736.2,1719.2 2741.8,1727.5 C2747.4,1735.8 2752.8,1744.6 2755.0,1748.0" stroke="#9a9a9a" stroke-width="1.2" fill="none" />
<path d="M2662.7,1481.3 C2669.5,1478.4 2693.0,1470.1 2703.7,1463.7 C2714.5,1457.4 2719.4,1448.6 2727.2,1443.2 C2735.0,1437.9 2746.7,1433.5 2750.6,1431.5" stroke="#9a9a9a" stroke-width="1.2" fill="none" />
<path d="M2703.7,1493.0 C2699.8,1496.0 2685.7,1504.8 2680.3,1510.6 C2674.9,1516.5 2672.0,1521.4 2671.5,1528.2 C2671.0,1535.0 2673.9,1542.9 2677.4,1551.6 C2680.8,1560.4 2685.2,1570.2 2692.0,1581.0 C2698.9,1591.7 2709.1,1605.4 2718.4,1616.1 C2727.7,1626.9 2737.9,1636.6 2747.7,1645.4 C2757.5,1654.2 2767.2,1662.5 2777.0,1668.9 C2786.8,1675.2 2796.5,1679.1 2806.3,1683.5 C2816.1,1687.9 2830.7,1693.3 2835.6,1695.2" stroke="#9a9a9a" stroke-width="1.2" fill="none" />
<path d="M2686.2,1642.5 C2688.1,1646.9 2692.0,1656.7 2697.9,1668.9 C2703.7,1681.1 2713.5,1703.1 2721.3,1715.8 C2729.1,1728.4 2740.9,1740.2 2744.8,1745.1" stroke="#9a9a9a" stroke-width="1.2" fill="none" />
<path d="M2686.2,1642.5 C2687.1,1642.0 2688.1,1636.1 2692.0,1639.6 C2695.9,1643.0 2702.8,1653.2 2709.6,1663.0 C2716.4,1672.8 2725.2,1685.0 2733.0,1698.2 C2740.9,1711.4 2752.6,1734.8 2756.5,1742.1" stroke="#9a9a9a" stroke-width="1.2" fill="none" />
<path d="M2570.4,1578.0 C2570.2,1580.0 2568.2,1579.5 2568.9,1589.7 C2569.7,1600.0 2570.9,1623.4 2574.8,1639.6 C2578.7,1655.7 2587.5,1673.7 2592.4,1686.4 C2597.3,1699.1 2601.2,1711.4 2604.1,1715.8 C2607.0,1720.1 2611.4,1718.7 2610.0,1712.8 C2608.5,1707.0 2600.2,1692.8 2595.3,1680.6 C2590.4,1668.4 2584.6,1654.7 2580.7,1639.6 C2576.8,1624.4 2573.3,1598.0 2571.9,1589.7" stroke="#9a9a9a" stroke-width="1.2" fill="none" />
<path d="M2797.5,1375.8 C2801.4,1376.8 2812.2,1379.7 2821.0,1381.7 C2829.7,1383.6 2842.9,1386.1 2850.3,1387.5 C2857.6,1389.0 2862.5,1390.0 2864.9,1390.5" stroke="#9a9a9a" stroke-width="1.2" fill="none" />
<path d="M2684.7,1377.3 C2687.5,1378.8 2685.1,1389.7 2685.6,1399.3 C2686.1,1408.8 2688.5,1424.7 2687.6,1434.4 C2686.7,1444.2 2684.0,1451.0 2680.3,1457.9 C2676.6,1464.7 2669.5,1471.6 2665.6,1475.5 C2661.7,1479.4 2659.3,1481.8 2656.8,1481.3 C2654.4,1480.8 2651.5,1477.9 2651.0,1472.5 C2650.5,1467.2 2653.2,1456.4 2653.9,1449.1 C2654.7,1441.8 2655.6,1435.4 2655.4,1428.6 C2655.1,1421.7 2650.3,1414.4 2652.5,1408.1 C2654.7,1401.7 2663.2,1395.6 2668.6,1390.5 C2673.9,1385.3 2681.9,1375.8 2684.7,1377.3 Z" stroke="none" stroke-width="0" fill="#000" />
<path d="M2895.7,1384.6 C2899.1,1381.2 2906.7,1369.7 2908.9,1384.6 C2911.1,1399.5 2911.1,1459.3 2908.9,1474.0 C2906.7,1488.6 2898.9,1476.7 2895.7,1472.5 C2892.5,1468.4 2891.8,1456.9 2889.8,1449.1 C2887.9,1441.3 2884.2,1433.0 2884.0,1425.6 C2883.7,1418.3 2886.4,1412.0 2888.4,1405.1 C2890.3,1398.3 2892.3,1388.0 2895.7,1384.6 Z" stroke="none" stroke-width="0" fill="#000" />
<path d="M2897.1,1668.9 C2899.6,1659.1 2906.9,1649.3 2908.9,1668.9 C2910.8,1688.4 2911.1,1769.0 2908.9,1786.1 C2906.7,1803.2 2898.1,1781.2 2895.7,1771.4 C2893.2,1761.7 2894.0,1744.6 2894.2,1727.5 C2894.5,1710.4 2894.7,1678.6 2897.1,1668.9 Z" stroke="none" stroke-width="0" fill="#000" />
</g>
<path d="M2901.5,1244.0 C2899.3,1241.8 2894.5,1234.4 2888.4,1230.8 C2882.2,1227.1 2873.7,1223.9 2864.9,1222.0 C2856.1,1220.0 2847.8,1219.0 2835.6,1219.0 C2823.4,1219.0 2806.3,1220.3 2791.6,1222.0 C2777.0,1223.7 2762.3,1226.1 2747.7,1229.3 C2733.0,1232.5 2718.4,1236.1 2703.7,1241.0 C2689.1,1245.9 2674.4,1251.3 2659.8,1258.6 C2645.1,1265.9 2630.5,1275.2 2615.8,1285.0 C2601.2,1294.7 2585.5,1305.5 2571.9,1317.2 C2558.2,1328.9 2545.5,1341.6 2533.8,1355.3 C2522.1,1369.0 2510.8,1383.6 2501.5,1399.3 C2492.3,1414.9 2484.0,1433.5 2478.1,1449.1 C2472.2,1464.7 2468.8,1478.4 2466.4,1493.0 C2463.9,1507.7 2463.2,1522.3 2463.4,1537.0 C2463.7,1551.6 2465.4,1567.3 2467.8,1581.0 C2470.3,1594.6 2473.9,1606.3 2478.1,1619.0 C2482.2,1631.7 2487.9,1644.9 2492.7,1657.1 C2497.6,1669.4 2502.5,1681.1 2507.4,1692.3 C2512.3,1703.5 2517.2,1714.8 2522.1,1724.5 C2526.9,1734.3 2530.8,1743.1 2536.7,1750.9 C2542.6,1758.7 2548.9,1765.6 2557.2,1771.4 C2565.5,1777.3 2574.3,1782.2 2586.5,1786.1 C2598.7,1790.0 2615.8,1793.7 2630.5,1794.9 C2645.1,1796.1 2662.2,1795.4 2674.4,1793.4 C2686.6,1791.5 2694.9,1787.8 2703.7,1783.2 C2712.5,1778.5 2720.3,1771.4 2727.2,1765.6 C2734.0,1759.7 2738.9,1752.4 2744.8,1748.0 C2750.6,1743.6 2756.5,1739.2 2762.3,1739.2 C2768.2,1739.2 2772.6,1742.6 2779.9,1748.0 C2787.3,1753.4 2797.0,1764.6 2806.3,1771.4 C2815.6,1778.3 2825.8,1784.9 2835.6,1789.0 C2845.4,1793.2 2853.9,1794.9 2864.9,1796.3 C2875.9,1797.8 2895.4,1797.6 2901.5,1797.8" stroke="#555" stroke-width="1.6" fill="none" />
<path d="M2898.6,1244.0 L2898.6,1343.6" stroke="#555" stroke-width="1.4" fill="none" />
<text x="2484.0" y="1620.5" font-size="39" fill="#000" text-anchor="start" font-weight="normal" >PRh</text>
<text x="2821.0" y="1531.1" font-size="39" fill="#000" text-anchor="start" font-weight="normal" >MD</text>
<defs><clipPath id="ce8"><path d="M3346.7,1286.5 C3344.9,1284.7 3340.8,1279.0 3335.8,1275.6 C3330.7,1272.1 3324.4,1268.5 3316.6,1266.0 C3308.9,1263.5 3300.7,1261.7 3289.3,1260.5 C3277.9,1259.4 3261.9,1258.7 3248.2,1259.1 C3234.6,1259.6 3220.9,1261.2 3207.2,1263.2 C3193.5,1265.3 3179.8,1267.8 3166.2,1271.5 C3152.5,1275.1 3138.8,1279.4 3125.1,1285.1 C3111.5,1290.8 3097.8,1297.2 3084.1,1305.6 C3070.4,1314.1 3055.8,1324.8 3043.1,1335.7 C3030.3,1346.7 3018.5,1359.0 3007.5,1371.3 C2996.6,1383.6 2986.1,1396.8 2977.4,1409.6 C2968.8,1422.3 2961.5,1435.1 2955.6,1447.9 C2949.6,1460.6 2945.3,1473.0 2941.9,1486.2 C2938.5,1499.4 2936.0,1513.5 2935.0,1527.2 C2934.1,1540.9 2935.0,1554.6 2936.4,1568.2 C2937.8,1581.9 2940.1,1595.6 2943.2,1609.3 C2946.4,1622.9 2950.8,1637.5 2955.6,1650.3 C2960.3,1663.0 2966.0,1674.4 2972.0,1685.8 C2977.9,1697.2 2984.3,1708.2 2991.1,1718.7 C2998.0,1729.2 3005.7,1740.5 3013.0,1748.8 C3020.3,1757.0 3026.7,1763.3 3034.9,1767.9 C3043.1,1772.5 3051.7,1774.7 3062.2,1776.1 C3072.7,1777.5 3085.9,1777.0 3097.8,1776.1 C3109.6,1775.2 3122.0,1773.8 3133.3,1770.6 C3144.7,1767.4 3156.1,1762.0 3166.2,1757.0 C3176.2,1751.9 3186.2,1745.6 3193.5,1740.5 C3200.8,1735.5 3205.8,1732.3 3209.9,1726.9 C3214.0,1721.4 3216.3,1713.7 3218.1,1707.7 C3220.0,1701.8 3220.4,1694.0 3220.9,1691.3 L3220.9,1691.3 C3222.2,1695.0 3225.4,1706.4 3229.1,1713.2 C3232.7,1720.0 3235.9,1725.5 3242.8,1732.3 C3249.6,1739.2 3260.1,1748.3 3270.1,1754.2 C3280.1,1760.1 3292.9,1764.3 3302.9,1767.9 C3313.0,1771.5 3323.0,1774.7 3330.3,1776.1 C3337.6,1777.5 3344.0,1776.1 3346.7,1776.1 Z"/></clipPath></defs>
<g clip-path="url(#ce8)">
<path d="M3270.1,1256.4 L3357.6,1256.4 L3357.6,1365.8 L3346.7,1365.8 L3324.8,1360.4 L3297.5,1343.9 L3281.1,1327.5 L3270.1,1322.1 Z" stroke="none" stroke-width="0" fill="#e6e6e6" />
<path d="M2961.0,1620.2 L3023.9,1606.5 L3037.6,1622.9 L3048.6,1644.8 L3047.2,1666.7 L3056.8,1688.6 L3040.4,1724.1 L3032.1,1729.6 L3010.3,1705.0 L2985.6,1666.7 L2969.2,1636.6 Z" stroke="none" stroke-width="0" fill="#e8e8e8" />
<path d="M3040.4,1724.1 L3062.2,1740.5 L3111.5,1743.3 L3116.9,1781.6 L3034.9,1781.6 L3023.9,1732.3 Z" stroke="none" stroke-width="0" fill="#e8e8e8" />
<path d="M3174.4,1513.5 C3175.7,1508.1 3185.8,1501.7 3193.5,1497.1 C3201.3,1492.6 3212.7,1487.5 3220.9,1486.2 C3229.1,1484.8 3236.8,1486.2 3242.8,1488.9 C3248.7,1491.6 3254.4,1490.3 3256.4,1502.6 C3258.5,1514.9 3258.7,1553.2 3255.1,1562.8 C3251.4,1572.3 3242.5,1562.8 3234.6,1560.0 C3226.6,1557.3 3215.4,1551.4 3207.2,1546.3 C3199.0,1541.3 3190.8,1535.4 3185.3,1529.9 C3179.8,1524.5 3173.0,1519.0 3174.4,1513.5 Z" stroke="none" stroke-width="0" fill="#e4e4e4" />
<path d="M3259.2,1497.1 C3262.6,1492.6 3269.2,1488.2 3275.6,1486.2 C3282.0,1484.1 3291.5,1483.4 3297.5,1484.8 C3303.4,1486.2 3307.5,1488.7 3311.1,1494.4 C3314.8,1500.1 3317.3,1510.3 3319.3,1519.0 C3321.4,1527.7 3323.0,1538.1 3323.4,1546.3 C3323.9,1554.6 3324.6,1563.4 3322.1,1568.2 C3319.6,1573.0 3316.2,1574.4 3308.4,1575.1 C3300.7,1575.7 3284.2,1574.4 3275.6,1572.3 C3266.9,1570.3 3260.1,1568.9 3256.4,1562.8 C3252.8,1556.6 3253.9,1543.6 3253.7,1535.4 C3253.5,1527.2 3254.2,1519.9 3255.1,1513.5 C3256.0,1507.1 3255.7,1501.7 3259.2,1497.1 Z" stroke="none" stroke-width="0" fill="#b4b4b4" />
<path d="M3311.1,1535.4 C3312.0,1531.8 3315.0,1528.6 3316.6,1529.9 C3318.2,1531.3 3320.7,1539.1 3320.7,1543.6 C3320.7,1548.2 3318.2,1555.9 3316.6,1557.3 C3315.0,1558.7 3312.0,1555.5 3311.1,1551.8 C3310.2,1548.2 3310.2,1539.1 3311.1,1535.4 Z" stroke="none" stroke-width="0" fill="#fff" />
<path d="M3086.8,1478.0 C3086.4,1473.9 3080.0,1465.2 3084.1,1453.3 C3088.2,1441.5 3097.8,1420.3 3111.5,1406.8 C3125.1,1393.4 3150.2,1381.5 3166.2,1372.7 C3182.1,1363.8 3193.5,1357.4 3207.2,1353.5 C3220.9,1349.6 3237.3,1348.0 3248.2,1349.4 C3259.2,1350.8 3266.0,1356.2 3272.8,1361.7 C3279.7,1367.2 3284.7,1375.2 3289.3,1382.2 C3293.8,1389.3 3295.6,1399.3 3300.2,1404.1 C3304.8,1408.9 3313.9,1409.8 3316.6,1411.0" stroke="#e0e0e0" stroke-width="5" fill="none" stroke-linecap="round"/>
<path d="M3086.8,1478.0 C3090.0,1478.4 3098.2,1483.9 3106.0,1480.7 C3113.7,1477.5 3123.3,1466.1 3133.3,1458.8 C3143.4,1451.5 3156.1,1442.9 3166.2,1436.9 C3176.2,1431.0 3184.4,1426.9 3193.5,1423.3 C3202.6,1419.6 3209.9,1415.5 3220.9,1415.1 C3231.8,1414.6 3252.8,1419.6 3259.2,1420.5" stroke="#e0e0e0" stroke-width="5" fill="none" stroke-linecap="round"/>
<path d="M3182.6,1435.6 C3186.7,1432.6 3198.5,1421.9 3207.2,1417.8 C3215.9,1413.7 3230.0,1412.1 3234.6,1411.0" stroke="#e4e4e4" stroke-width="4" fill="none" stroke-linecap="round"/>
<path d="M3048.6,1324.8 C3056.8,1334.4 3089.6,1372.7 3097.8,1382.2" stroke="#bdbdbd" stroke-width="1.1" fill="none" />
<path d="M3017.1,1353.5 C3026.4,1362.4 3063.8,1398.0 3073.2,1406.8" stroke="#bdbdbd" stroke-width="1.1" fill="none" />
<path d="M2936.4,1501.2 C2952.8,1502.1 3018.5,1505.8 3034.9,1506.7" stroke="#bdbdbd" stroke-width="1.1" fill="none" />
<path d="M2939.1,1529.9 C2954.2,1529.0 3014.4,1525.4 3029.4,1524.5" stroke="#bdbdbd" stroke-width="1.1" fill="none" />
<path d="M2944.6,1562.8 C2958.3,1561.4 3013.0,1555.9 3026.7,1554.6" stroke="#bdbdbd" stroke-width="1.1" fill="none" />
<path d="M2952.8,1595.6 C2971.1,1591.7 3044.0,1576.2 3062.2,1572.3" stroke="#bdbdbd" stroke-width="1.1" fill="none" />
<path d="M2961.0,1620.2 C2971.5,1617.9 3013.5,1608.8 3023.9,1606.5" stroke="#bdbdbd" stroke-width="1.1" fill="none" />
<path d="M3270.1,1261.9 C3270.1,1271.9 3270.1,1312.0 3270.1,1322.1" stroke="#bdbdbd" stroke-width="1.1" fill="none" />
<path d="M3270.1,1322.1 C3271.9,1323.0 3276.5,1323.9 3281.1,1327.5 C3285.6,1331.2 3290.2,1338.5 3297.5,1343.9 C3304.8,1349.4 3316.6,1356.7 3324.8,1360.4 C3333.0,1364.0 3343.0,1364.9 3346.7,1365.8" stroke="#bdbdbd" stroke-width="1.1" fill="none" />
<path d="M3029.4,1562.8 C3028.5,1567.3 3023.0,1581.0 3023.9,1590.1 C3024.9,1599.2 3030.8,1608.3 3034.9,1617.5 C3039.0,1626.6 3046.3,1640.3 3048.6,1644.8" stroke="#bdbdbd" stroke-width="1.1" fill="none" />
<path d="M3048.6,1644.8 C3050.8,1643.0 3055.4,1636.2 3062.2,1633.9 C3069.1,1631.6 3081.4,1629.3 3089.6,1631.1 C3097.8,1633.0 3107.8,1642.5 3111.5,1644.8" stroke="#bdbdbd" stroke-width="1.1" fill="none" />
<path d="M3048.6,1644.8 C3048.3,1648.5 3045.8,1659.4 3047.2,1666.7 C3048.6,1674.0 3052.4,1686.8 3056.8,1688.6 C3061.1,1690.4 3066.8,1682.2 3073.2,1677.6 C3079.6,1673.1 3085.9,1664.9 3095.1,1661.2 C3104.2,1657.6 3122.4,1656.7 3127.9,1655.8" stroke="#bdbdbd" stroke-width="1.1" fill="none" />
<path d="M3056.8,1688.6 C3061.3,1687.7 3075.0,1683.1 3084.1,1683.1 C3093.2,1683.1 3102.3,1689.5 3111.5,1688.6 C3120.6,1687.7 3129.7,1681.3 3138.8,1677.6 C3147.9,1674.0 3161.6,1668.5 3166.2,1666.7" stroke="#bdbdbd" stroke-width="1.1" fill="none" />
<path d="M3073.2,1705.0 C3076.8,1703.2 3085.9,1695.0 3095.1,1694.0 C3104.2,1693.1 3117.8,1696.8 3127.9,1699.5 C3137.9,1702.3 3146.1,1709.5 3155.2,1710.5 C3164.3,1711.4 3178.0,1705.9 3182.6,1705.0" stroke="#bdbdbd" stroke-width="1.1" fill="none" />
<path d="M3040.4,1724.1 C3044.0,1726.9 3050.4,1737.4 3062.2,1740.5 C3074.1,1743.7 3096.0,1744.6 3111.5,1743.3 C3127.0,1741.9 3141.6,1736.9 3155.2,1732.3 C3168.9,1727.8 3187.1,1718.7 3193.5,1715.9" stroke="#bdbdbd" stroke-width="1.1" fill="none" />
<path d="M3073.2,1705.0 C3072.3,1708.6 3069.5,1720.9 3067.7,1726.9 C3065.9,1732.8 3063.1,1738.3 3062.2,1740.5" stroke="#bdbdbd" stroke-width="1.1" fill="none" />
<path d="M3193.5,1666.7 C3192.6,1670.3 3188.1,1680.4 3188.1,1688.6 C3188.1,1696.8 3192.6,1711.4 3193.5,1715.9" stroke="#bdbdbd" stroke-width="1.1" fill="none" />
<path d="M3144.3,1590.1 C3146.1,1589.2 3151.6,1583.7 3155.2,1584.6 C3158.9,1585.6 3163.4,1589.2 3166.2,1595.6 C3168.9,1602.0 3168.9,1614.7 3171.6,1622.9 C3174.4,1631.1 3180.8,1641.2 3182.6,1644.8" stroke="#bdbdbd" stroke-width="1.1" fill="none" />
<path d="M3147.0,1549.1 C3150.2,1547.7 3160.2,1539.5 3166.2,1540.9 C3172.1,1542.2 3178.0,1550.0 3182.6,1557.3 C3187.1,1564.6 3191.7,1580.1 3193.5,1584.6" stroke="#bdbdbd" stroke-width="1.1" fill="none" />
<path d="M3174.4,1513.5 C3173.0,1516.3 3165.7,1523.6 3166.2,1529.9 C3166.6,1536.3 3171.6,1545.4 3177.1,1551.8 C3182.6,1558.2 3191.7,1562.8 3199.0,1568.2 C3206.3,1573.7 3212.7,1580.1 3220.9,1584.6 C3229.1,1589.2 3243.7,1593.8 3248.2,1595.6" stroke="#bdbdbd" stroke-width="1.1" fill="none" />
<path d="M3193.5,1595.6 C3198.1,1597.9 3211.8,1607.4 3220.9,1609.3 C3230.0,1611.1 3239.1,1608.8 3248.2,1606.5 C3257.3,1604.2 3271.0,1597.4 3275.6,1595.6" stroke="#bdbdbd" stroke-width="1.1" fill="none" />
<path d="M3220.9,1447.9 C3219.1,1451.5 3210.8,1463.4 3209.9,1469.8 C3209.0,1476.1 3214.5,1483.4 3215.4,1486.2" stroke="#bdbdbd" stroke-width="1.1" fill="none" />
<path d="M3248.2,1447.9 C3247.3,1449.7 3241.8,1454.3 3242.8,1458.8 C3243.7,1463.4 3249.1,1471.6 3253.7,1475.2 C3258.3,1478.9 3267.4,1479.8 3270.1,1480.7" stroke="#bdbdbd" stroke-width="1.1" fill="none" />
<path d="M3275.6,1447.9 C3277.4,1450.6 3282.0,1459.7 3286.5,1464.3 C3291.1,1468.8 3297.9,1472.5 3302.9,1475.2 C3307.9,1478.0 3314.3,1479.8 3316.6,1480.7" stroke="#bdbdbd" stroke-width="1.1" fill="none" />
<path d="M3316.6,1464.3 C3318.4,1463.4 3324.4,1457.9 3327.5,1458.8 C3330.7,1459.7 3335.8,1466.1 3335.8,1469.8 C3335.8,1473.4 3330.3,1479.8 3327.5,1480.7 C3324.8,1481.6 3320.7,1476.1 3319.3,1475.2" stroke="#bdbdbd" stroke-width="1.1" fill="none" />
<path d="M3313.9,1486.2 C3315.7,1487.1 3322.1,1488.0 3324.8,1491.6 C3327.5,1495.3 3329.4,1505.3 3330.3,1508.1" stroke="#bdbdbd" stroke-width="1.1" fill="none" />
<path d="M3335.8,1491.6 C3336.7,1494.4 3340.8,1502.6 3341.2,1508.1 C3341.7,1513.5 3338.9,1521.7 3338.5,1524.5" stroke="#bdbdbd" stroke-width="1.1" fill="none" />
<path d="M3256.4,1579.2 C3259.6,1581.0 3267.8,1589.2 3275.6,1590.1 C3283.3,1591.0 3294.7,1584.6 3302.9,1584.6 C3311.1,1584.6 3321.2,1589.2 3324.8,1590.1" stroke="#bdbdbd" stroke-width="1.1" fill="none" />
<path d="M3297.5,1590.1 C3298.4,1593.3 3298.4,1604.7 3302.9,1609.3 C3307.5,1613.8 3321.2,1616.1 3324.8,1617.5" stroke="#bdbdbd" stroke-width="1.1" fill="none" />
<path d="M3327.5,1590.1 C3328.5,1591.0 3332.6,1592.8 3333.0,1595.6 C3333.5,1598.3 3331.7,1606.1 3330.3,1606.5 C3328.9,1607.0 3325.7,1599.7 3324.8,1598.3" stroke="#bdbdbd" stroke-width="1.1" fill="none" />
<path d="M3234.6,1633.9 C3236.8,1633.0 3244.6,1627.5 3248.2,1628.4 C3251.9,1629.3 3256.4,1634.8 3256.4,1639.3 C3256.4,1643.9 3251.4,1653.9 3248.2,1655.8 C3245.0,1657.6 3239.1,1651.2 3237.3,1650.3" stroke="#bdbdbd" stroke-width="1.1" fill="none" />
<path d="M3270.1,1644.8 C3271.9,1644.4 3278.8,1641.2 3281.1,1642.1 C3283.3,1643.0 3285.2,1648.5 3283.8,1650.3 C3282.4,1652.1 3274.7,1652.6 3272.8,1653.0" stroke="#bdbdbd" stroke-width="1.1" fill="none" />
<path d="M3297.5,1639.3 C3299.3,1638.9 3307.0,1633.9 3308.4,1636.6 C3309.8,1639.3 3307.5,1650.7 3305.7,1655.8 C3303.8,1660.8 3299.7,1663.0 3297.5,1666.7 C3295.2,1670.3 3291.5,1676.3 3292.0,1677.6 C3292.4,1679.0 3298.8,1675.4 3300.2,1674.9" stroke="#bdbdbd" stroke-width="1.1" fill="none" />
<path d="M3242.8,1710.5 C3244.6,1709.5 3251.0,1704.1 3253.7,1705.0 C3256.4,1705.9 3259.6,1713.2 3259.2,1715.9 C3258.7,1718.7 3252.3,1720.5 3251.0,1721.4" stroke="#bdbdbd" stroke-width="1.1" fill="none" />
<path d="M3272.8,1699.5 C3274.2,1698.2 3278.8,1691.3 3281.1,1691.3 C3283.3,1691.3 3286.5,1696.3 3286.5,1699.5 C3286.5,1702.7 3283.1,1708.9 3281.1,1710.5 C3279.0,1712.1 3275.4,1709.3 3274.2,1709.1" stroke="#bdbdbd" stroke-width="1.1" fill="none" />
<path d="M3275.6,1726.9 C3278.3,1727.3 3288.3,1727.3 3292.0,1729.6 C3295.6,1731.9 3296.5,1738.7 3297.5,1740.5" stroke="#bdbdbd" stroke-width="1.1" fill="none" />
<path d="M3324.8,1699.5 C3325.7,1701.3 3328.5,1709.5 3330.3,1710.5 C3332.1,1711.4 3334.8,1705.9 3335.8,1705.0" stroke="#bdbdbd" stroke-width="1.1" fill="none" />
<path d="M3313.9,1732.3 C3315.7,1735.1 3320.7,1745.6 3324.8,1748.8 C3328.9,1751.9 3336.2,1751.0 3338.5,1751.5" stroke="#bdbdbd" stroke-width="1.1" fill="none" />
<path d="M3344.0,1601.1 C3344.0,1605.6 3344.0,1623.8 3344.0,1628.4" stroke="#bdbdbd" stroke-width="1.1" fill="none" />
<path d="M3220.9,1691.3 C3224.5,1690.9 3235.5,1690.9 3242.8,1688.6 C3250.1,1686.3 3259.2,1681.3 3264.6,1677.6 C3270.1,1674.0 3273.8,1668.5 3275.6,1666.7" stroke="#bdbdbd" stroke-width="1.1" fill="none" />
<path d="M3226.3,1622.9 C3229.1,1622.0 3236.4,1617.5 3242.8,1617.5 C3249.1,1617.5 3258.3,1619.3 3264.6,1622.9 C3271.0,1626.6 3278.3,1636.6 3281.1,1639.3" stroke="#bdbdbd" stroke-width="1.1" fill="none" />
<path d="M2974.7,1622.9 C2977.4,1630.2 2984.7,1653.0 2991.1,1666.7 C2997.5,1680.4 3005.7,1694.0 3013.0,1705.0 C3020.3,1715.9 3031.2,1727.8 3034.9,1732.3" stroke="#bdbdbd" stroke-width="1.1" fill="none" />
<path d="M2980.2,1621.6 C2982.9,1628.6 2990.2,1650.5 2996.6,1664.0 C3003.0,1677.4 3011.2,1691.8 3018.5,1702.3 C3025.8,1712.7 3036.7,1722.8 3040.4,1726.9" stroke="#bdbdbd" stroke-width="1.1" fill="none" />
<path d="M3346.7,1382.2 C3341.7,1381.3 3326.2,1382.2 3316.6,1376.8 C3307.0,1371.3 3297.0,1358.1 3289.3,1349.4 C3281.5,1340.7 3281.5,1328.0 3270.1,1324.8 C3258.7,1321.6 3238.2,1326.2 3220.9,1330.3 C3203.6,1334.4 3182.1,1342.6 3166.2,1349.4 C3150.2,1356.2 3138.8,1362.2 3125.1,1371.3 C3111.5,1380.4 3095.5,1392.3 3084.1,1404.1 C3072.7,1416.0 3061.3,1436.0 3056.8,1442.4" stroke="#9a9a9a" stroke-width="1.2" fill="none" />
<path d="M3346.7,1393.2 C3341.2,1392.3 3323.9,1393.2 3313.9,1387.7 C3303.8,1382.2 3294.3,1369.0 3286.5,1360.4 C3278.8,1351.7 3278.3,1338.9 3267.4,1335.7 C3256.4,1332.5 3236.8,1337.1 3220.9,1341.2 C3204.9,1345.3 3186.2,1353.5 3171.6,1360.4 C3157.1,1367.2 3146.1,1373.1 3133.3,1382.2 C3120.6,1391.3 3105.8,1404.1 3095.1,1415.1 C3084.3,1426.0 3073.4,1442.4 3069.1,1447.9" stroke="#9a9a9a" stroke-width="1.2" fill="none" />
<path d="M3069.1,1447.9 C3068.4,1452.4 3065.2,1466.6 3065.0,1475.2 C3064.7,1483.9 3064.5,1491.6 3067.7,1499.8 C3070.9,1508.1 3076.8,1515.8 3084.1,1524.5 C3091.4,1533.1 3102.3,1542.2 3111.5,1551.8 C3120.6,1561.4 3130.6,1571.4 3138.8,1581.9 C3147.0,1592.4 3154.3,1604.7 3160.7,1614.7 C3167.1,1624.8 3171.6,1633.4 3177.1,1642.1 C3182.6,1650.7 3188.1,1659.9 3193.5,1666.7 C3199.0,1673.5 3205.4,1679.0 3209.9,1683.1 C3214.5,1687.2 3219.1,1689.9 3220.9,1691.3" stroke="#9a9a9a" stroke-width="1.2" fill="none" />
<path d="M3111.5,1513.5 C3113.3,1509.9 3116.9,1498.9 3122.4,1491.6 C3127.9,1484.3 3136.1,1476.1 3144.3,1469.8 C3152.5,1463.4 3161.2,1457.9 3171.6,1453.3 C3182.1,1448.8 3194.4,1445.1 3207.2,1442.4 C3220.0,1439.7 3235.9,1438.8 3248.2,1436.9 C3260.5,1435.1 3271.9,1431.5 3281.1,1431.5 C3290.2,1431.5 3299.3,1436.0 3302.9,1436.9" stroke="#9a9a9a" stroke-width="1.2" fill="none" />
<path d="M3108.7,1516.3 C3110.1,1520.4 3112.8,1531.3 3116.9,1540.9 C3121.0,1550.4 3127.9,1563.2 3133.3,1573.7 C3138.8,1584.2 3144.3,1594.2 3149.8,1603.8 C3155.2,1613.4 3160.7,1622.9 3166.2,1631.1 C3171.6,1639.3 3179.8,1649.4 3182.6,1653.0" stroke="#9a9a9a" stroke-width="1.2" fill="none" />
<path d="M3111.5,1513.5 L3108.7,1516.3" stroke="#9a9a9a" stroke-width="1.2" fill="none" />
<path d="M3095.1,1431.5 C3098.7,1427.8 3105.1,1418.2 3116.9,1409.6 C3128.8,1400.9 3151.1,1387.7 3166.2,1379.5 C3181.2,1371.3 3193.5,1364.0 3207.2,1360.4 C3220.9,1356.7 3238.2,1356.2 3248.2,1357.6 C3258.3,1359.0 3261.4,1363.1 3267.4,1368.6 C3273.3,1374.0 3278.8,1383.1 3283.8,1390.4 C3288.8,1397.7 3292.0,1407.3 3297.5,1412.3 C3302.9,1417.3 3310.2,1420.1 3316.6,1420.5 C3323.0,1421.0 3332.6,1416.0 3335.8,1415.1" stroke="#9a9a9a" stroke-width="1.2" fill="none" />
<path d="M3111.5,1442.4 C3114.2,1443.3 3120.6,1449.7 3127.9,1447.9 C3135.2,1446.1 3144.3,1436.9 3155.2,1431.5 C3166.2,1426.0 3180.3,1419.2 3193.5,1415.1 C3206.7,1411.0 3223.2,1407.3 3234.6,1406.8 C3245.9,1406.4 3257.3,1411.4 3261.9,1412.3" stroke="#9a9a9a" stroke-width="1.2" fill="none" />
<path d="M3111.5,1442.4 C3112.4,1439.7 3112.4,1431.5 3116.9,1426.0 C3121.5,1420.5 3128.3,1415.1 3138.8,1409.6 C3149.3,1404.1 3166.2,1396.8 3179.8,1393.2 C3193.5,1389.5 3209.5,1387.7 3220.9,1387.7 C3232.3,1387.7 3241.4,1389.1 3248.2,1393.2 C3255.1,1397.3 3259.6,1409.1 3261.9,1412.3" stroke="#9a9a9a" stroke-width="1.2" fill="none" />
<path d="M3062.2,1443.8 C3064.3,1445.1 3064.5,1453.1 3063.6,1458.8 C3062.7,1464.5 3058.4,1471.1 3056.8,1478.0 C3055.2,1484.8 3054.0,1492.6 3054.0,1499.8 C3054.0,1507.1 3055.4,1515.3 3056.8,1521.7 C3058.1,1528.1 3059.0,1533.6 3062.2,1538.1 C3065.4,1542.7 3070.0,1545.0 3075.9,1549.1 C3081.8,1553.2 3090.5,1557.3 3097.8,1562.8 C3105.1,1568.2 3113.3,1575.1 3119.7,1581.9 C3126.1,1588.7 3130.6,1596.0 3136.1,1603.8 C3141.6,1611.5 3147.5,1621.6 3152.5,1628.4 C3157.5,1635.2 3163.0,1640.7 3166.2,1644.8 C3169.4,1648.9 3173.9,1651.0 3171.6,1653.0 C3169.4,1655.1 3159.8,1656.7 3152.5,1657.1 C3145.2,1657.6 3134.7,1657.8 3127.9,1655.8 C3121.0,1653.7 3116.0,1648.9 3111.5,1644.8 C3106.9,1640.7 3105.1,1634.3 3100.5,1631.1 C3096.0,1627.9 3088.4,1626.6 3084.1,1625.7 C3079.8,1624.8 3076.6,1628.4 3074.5,1625.7 C3072.5,1622.9 3073.9,1615.2 3071.8,1609.3 C3069.8,1603.3 3066.1,1596.9 3062.2,1590.1 C3058.4,1583.3 3053.1,1574.6 3048.6,1568.2 C3044.0,1561.8 3037.6,1556.4 3034.9,1551.8 C3032.1,1547.3 3031.2,1545.0 3032.1,1540.9 C3033.1,1536.8 3039.4,1532.7 3040.4,1527.2 C3041.3,1521.7 3038.1,1514.9 3037.6,1508.1 C3037.2,1501.2 3036.7,1493.5 3037.6,1486.2 C3038.5,1478.9 3040.8,1470.2 3043.1,1464.3 C3045.4,1458.4 3048.1,1454.0 3051.3,1450.6 C3054.5,1447.2 3060.2,1442.4 3062.2,1443.8 Z" stroke="none" stroke-width="0" fill="#000" />
<path d="M3357.6,1395.9 C3354.0,1390.2 3340.8,1398.2 3335.8,1401.4 C3330.7,1404.6 3331.2,1410.5 3327.5,1415.1 C3323.9,1419.6 3318.9,1425.3 3313.9,1428.7 C3308.9,1432.1 3297.0,1434.0 3297.5,1435.6 C3297.9,1437.2 3306.6,1438.3 3316.6,1438.3 C3326.6,1438.3 3350.8,1442.6 3357.6,1435.6 C3364.5,1428.5 3361.3,1401.6 3357.6,1395.9 Z" stroke="none" stroke-width="0" fill="#000" />
<path d="M3316.6,1442.4 C3317.5,1440.4 3318.0,1438.3 3324.8,1438.3 C3331.7,1438.3 3352.2,1439.4 3357.6,1442.4 C3363.1,1445.4 3362.2,1453.3 3357.6,1456.1 C3353.1,1458.8 3336.7,1459.7 3330.3,1458.8 C3323.9,1457.9 3321.6,1453.3 3319.3,1450.6 C3317.1,1447.9 3315.7,1444.5 3316.6,1442.4 Z" stroke="none" stroke-width="0" fill="#000" />
<path d="M3338.5,1467.0 C3341.2,1463.8 3354.4,1460.2 3357.6,1464.3 C3360.8,1468.4 3360.4,1488.5 3357.6,1491.6 C3354.9,1494.8 3344.4,1487.5 3341.2,1483.4 C3338.0,1479.3 3335.8,1470.2 3338.5,1467.0 Z" stroke="none" stroke-width="0" fill="#000" />
<path d="M3338.5,1688.6 C3342.1,1684.5 3354.4,1667.6 3357.6,1677.6 C3360.8,1687.7 3360.4,1737.4 3357.6,1748.8 C3354.9,1760.1 3345.1,1751.0 3341.2,1746.0 C3337.4,1741.0 3335.3,1726.0 3334.4,1718.7 C3333.5,1711.4 3335.1,1707.3 3335.8,1702.3 C3336.4,1697.2 3334.8,1692.7 3338.5,1688.6 Z" stroke="none" stroke-width="0" fill="#000" />
</g>
<path d="M3346.7,1286.5 C3344.9,1284.7 3340.8,1279.0 3335.8,1275.6 C3330.7,1272.1 3324.4,1268.5 3316.6,1266.0 C3308.9,1263.5 3300.7,1261.7 3289.3,1260.5 C3277.9,1259.4 3261.9,1258.7 3248.2,1259.1 C3234.6,1259.6 3220.9,1261.2 3207.2,1263.2 C3193.5,1265.3 3179.8,1267.8 3166.2,1271.5 C3152.5,1275.1 3138.8,1279.4 3125.1,1285.1 C3111.5,1290.8 3097.8,1297.2 3084.1,1305.6 C3070.4,1314.1 3055.8,1324.8 3043.1,1335.7 C3030.3,1346.7 3018.5,1359.0 3007.5,1371.3 C2996.6,1383.6 2986.1,1396.8 2977.4,1409.6 C2968.8,1422.3 2961.5,1435.1 2955.6,1447.9 C2949.6,1460.6 2945.3,1473.0 2941.9,1486.2 C2938.5,1499.4 2936.0,1513.5 2935.0,1527.2 C2934.1,1540.9 2935.0,1554.6 2936.4,1568.2 C2937.8,1581.9 2940.1,1595.6 2943.2,1609.3 C2946.4,1622.9 2950.8,1637.5 2955.6,1650.3 C2960.3,1663.0 2966.0,1674.4 2972.0,1685.8 C2977.9,1697.2 2984.3,1708.2 2991.1,1718.7 C2998.0,1729.2 3005.7,1740.5 3013.0,1748.8 C3020.3,1757.0 3026.7,1763.3 3034.9,1767.9 C3043.1,1772.5 3051.7,1774.7 3062.2,1776.1 C3072.7,1777.5 3085.9,1777.0 3097.8,1776.1 C3109.6,1775.2 3122.0,1773.8 3133.3,1770.6 C3144.7,1767.4 3156.1,1762.0 3166.2,1757.0 C3176.2,1751.9 3186.2,1745.6 3193.5,1740.5 C3200.8,1735.5 3205.8,1732.3 3209.9,1726.9 C3214.0,1721.4 3216.3,1713.7 3218.1,1707.7 C3220.0,1701.8 3220.4,1694.0 3220.9,1691.3" stroke="#555" stroke-width="1.6" fill="none" />
<path d="M3220.9,1691.3 C3222.2,1695.0 3225.4,1706.4 3229.1,1713.2 C3232.7,1720.0 3235.9,1725.5 3242.8,1732.3 C3249.6,1739.2 3260.1,1748.3 3270.1,1754.2 C3280.1,1760.1 3292.9,1764.3 3302.9,1767.9 C3313.0,1771.5 3323.0,1774.7 3330.3,1776.1 C3337.6,1777.5 3344.0,1776.1 3346.7,1776.1" stroke="#555" stroke-width="1.6" fill="none" />
<text x="3282.4" y="1322.1" font-size="39" fill="#000" text-anchor="start" font-weight="normal" >RS</text>
<text x="3199.0" y="1535.4" font-size="39" fill="#000" text-anchor="start" font-weight="normal" >Po</text>
<text x="3263.3" y="1551.8" font-size="39" fill="#000" text-anchor="start" font-weight="normal" >PF</text>
<text x="2992.5" y="1676.3" font-size="39" fill="#000" text-anchor="start" font-weight="normal" >Pir</text>
<text x="3040.4" y="1740.5" font-size="39" fill="#000" text-anchor="start" font-weight="normal" >PLCo</text>
<defs><filter id="geb" x="-100%" y="-100%" width="300%" height="300%"><feGaussianBlur stdDeviation="14"/></filter><filter id="geb2" x="-100%" y="-100%" width="300%" height="300%"><feGaussianBlur stdDeviation="5"/></filter><clipPath id="cEb"><rect x="41" y="1816" width="3308" height="654"/></clipPath></defs>
<rect x="41" y="1816" width="3308" height="654" fill="#000" />
<g clip-path="url(#cEb)">
<path d="M133.6,2227.5 C134.4,2220.3 138.8,2214.7 145.6,2208.3 C152.4,2201.9 163.2,2194.7 174.4,2189.1 C185.6,2183.5 199.2,2177.1 212.8,2174.7 C226.4,2172.3 242.4,2172.3 256.0,2174.7 C269.6,2177.1 286.0,2181.9 294.4,2189.1 C302.8,2196.3 304.0,2206.7 306.4,2217.9 C308.8,2229.1 310.0,2243.5 308.8,2256.3 C307.6,2269.1 304.0,2285.1 299.2,2294.7 C294.4,2304.3 288.8,2310.7 280.0,2313.9 C271.2,2317.1 258.4,2316.3 246.4,2313.9 C234.4,2311.5 220.8,2305.9 208.0,2299.5 C195.2,2293.1 180.8,2283.5 169.6,2275.5 C158.4,2267.5 146.8,2259.5 140.8,2251.5 C134.8,2243.5 132.8,2234.7 133.6,2227.5 Z" stroke="none" stroke-width="0" fill="#1c1c1c" />
<clipPath id="cb1"><path d="M65.0,2102.7 C65.4,2094.7 65.0,2086.0 68.8,2078.8 C72.6,2071.6 76.8,2068.4 88.0,2059.6 C99.2,2050.8 120.0,2035.6 136.0,2026.0 C152.0,2016.4 168.0,2007.7 184.0,2002.0 C200.0,1996.2 217.6,1992.6 232.0,1991.4 C246.4,1990.2 259.2,1991.4 270.4,1994.8 C281.6,1998.1 291.6,2004.8 299.2,2011.6 C306.8,2018.4 312.0,2026.0 316.0,2035.6 C320.0,2045.2 322.4,2054.8 323.2,2069.2 C324.0,2083.6 322.8,2104.3 320.8,2121.9 C318.8,2139.5 313.6,2162.7 311.2,2174.7 C308.8,2186.7 315.6,2195.1 306.4,2193.9 C297.2,2192.7 271.6,2172.7 256.0,2167.5 C240.4,2162.3 226.4,2161.1 212.8,2162.7 C199.2,2164.3 187.2,2170.7 174.4,2177.1 C161.6,2183.5 148.0,2196.3 136.0,2201.1 C124.0,2205.9 112.0,2211.9 102.4,2205.9 C92.8,2199.9 84.4,2178.3 78.4,2165.1 C72.4,2151.9 68.6,2137.1 66.4,2126.7 C64.2,2116.3 64.6,2110.7 65.0,2102.7 Z"/></clipPath>
<path d="M65.0,2102.7 C65.4,2094.7 65.0,2086.0 68.8,2078.8 C72.6,2071.6 76.8,2068.4 88.0,2059.6 C99.2,2050.8 120.0,2035.6 136.0,2026.0 C152.0,2016.4 168.0,2007.7 184.0,2002.0 C200.0,1996.2 217.6,1992.6 232.0,1991.4 C246.4,1990.2 259.2,1991.4 270.4,1994.8 C281.6,1998.1 291.6,2004.8 299.2,2011.6 C306.8,2018.4 312.0,2026.0 316.0,2035.6 C320.0,2045.2 322.4,2054.8 323.2,2069.2 C324.0,2083.6 322.8,2104.3 320.8,2121.9 C318.8,2139.5 313.6,2162.7 311.2,2174.7 C308.8,2186.7 315.6,2195.1 306.4,2193.9 C297.2,2192.7 271.6,2172.7 256.0,2167.5 C240.4,2162.3 226.4,2161.1 212.8,2162.7 C199.2,2164.3 187.2,2170.7 174.4,2177.1 C161.6,2183.5 148.0,2196.3 136.0,2201.1 C124.0,2205.9 112.0,2211.9 102.4,2205.9 C92.8,2199.9 84.4,2178.3 78.4,2165.1 C72.4,2151.9 68.6,2137.1 66.4,2126.7 C64.2,2116.3 64.6,2110.7 65.0,2102.7 Z" stroke="none" stroke-width="0" fill="#202020" />
<g clip-path="url(#cb1)">
<g fill="#fff" opacity="1"><circle cx="140" cy="2137" r="2.1"/><circle cx="141" cy="2120" r="1.6"/><circle cx="155" cy="2117" r="1.8"/><circle cx="67" cy="2133" r="1.8"/><circle cx="140" cy="2125" r="1.6"/><circle cx="156" cy="2119" r="1.6"/><circle cx="101" cy="2134" r="1.4"/><circle cx="134" cy="2139" r="2.4"/><circle cx="170" cy="2128" r="2.0"/><circle cx="118" cy="2139" r="2.1"/><circle cx="70" cy="2118" r="1.9"/><circle cx="193" cy="2170" r="1.4"/><circle cx="168" cy="2109" r="2.3"/><circle cx="134" cy="2116" r="2.1"/><circle cx="144" cy="2112" r="2.3"/><circle cx="167" cy="2144" r="2.1"/><circle cx="160" cy="2130" r="2.3"/><circle cx="178" cy="2070" r="1.9"/><circle cx="148" cy="2144" r="1.9"/><circle cx="183" cy="2134" r="2.3"/><circle cx="125" cy="2117" r="1.6"/><circle cx="171" cy="2119" r="1.7"/><circle cx="131" cy="2151" r="2.2"/><circle cx="154" cy="2106" r="1.5"/><circle cx="105" cy="2135" r="2.4"/><circle cx="156" cy="2165" r="2.1"/><circle cx="109" cy="2180" r="1.7"/><circle cx="140" cy="2122" r="1.8"/><circle cx="141" cy="2153" r="1.8"/><circle cx="110" cy="2105" r="1.6"/><circle cx="154" cy="2126" r="1.9"/><circle cx="128" cy="2124" r="2.2"/><circle cx="98" cy="2116" r="1.4"/><circle cx="276" cy="2128" r="1.5"/><circle cx="78" cy="2155" r="1.7"/><circle cx="173" cy="2111" r="1.3"/><circle cx="149" cy="2100" r="1.3"/><circle cx="236" cy="2100" r="2.1"/><circle cx="164" cy="2116" r="2.4"/><circle cx="121" cy="2121" r="1.4"/><circle cx="90" cy="2090" r="1.5"/><circle cx="137" cy="2118" r="1.9"/><circle cx="99" cy="2126" r="2.1"/><circle cx="127" cy="2088" r="1.8"/><circle cx="117" cy="2128" r="1.5"/></g>
<g fill="#fff" opacity="1"><circle cx="175" cy="2066" r="1.4"/><circle cx="196" cy="2048" r="1.3"/><circle cx="159" cy="2092" r="1.8"/><circle cx="261" cy="2089" r="1.9"/><circle cx="194" cy="2049" r="1.5"/><circle cx="208" cy="2112" r="2.0"/><circle cx="210" cy="2060" r="2.0"/><circle cx="202" cy="2058" r="2.4"/><circle cx="216" cy="2133" r="1.6"/><circle cx="157" cy="2051" r="2.3"/><circle cx="202" cy="2056" r="1.9"/><circle cx="144" cy="2021" r="1.6"/></g>
<ellipse cx="131" cy="2122" rx="60" ry="50" fill="#fff" opacity="0.06" filter="url(#geb)"/>
</g>
<clipPath id="cb2"><path d="M677.3,1946.8 C671.1,1944.9 654.1,1937.6 639.9,1935.7 C625.7,1933.9 607.9,1933.9 591.9,1935.7 C575.9,1937.6 557.5,1942.1 543.9,1946.8 C530.3,1951.4 522.3,1956.8 510.3,1963.6 C498.3,1970.4 487.9,1979.6 471.9,1987.6 C455.9,1995.6 430.3,2002.8 414.3,2011.6 C398.3,2020.4 385.1,2029.2 375.9,2040.4 C366.7,2051.6 362.7,2066.0 359.1,2078.8 C355.5,2091.6 353.1,2102.7 354.3,2117.1 C355.5,2131.5 360.3,2150.7 366.3,2165.1 C372.3,2179.5 380.7,2190.7 390.3,2203.5 C399.9,2216.3 410.3,2229.1 423.9,2241.9 C437.5,2254.7 455.9,2268.3 471.9,2280.3 C487.9,2292.3 503.9,2304.7 519.9,2313.9 C535.9,2323.1 553.5,2331.5 567.9,2335.5 C582.3,2339.5 594.3,2339.1 606.3,2337.9 C618.3,2336.7 630.3,2333.9 639.9,2328.3 C649.5,2322.7 657.7,2309.1 663.9,2304.3 C670.1,2299.5 675.1,2300.3 677.3,2299.5 Z"/></clipPath>
<path d="M677.3,1946.8 C671.1,1944.9 654.1,1937.6 639.9,1935.7 C625.7,1933.9 607.9,1933.9 591.9,1935.7 C575.9,1937.6 557.5,1942.1 543.9,1946.8 C530.3,1951.4 522.3,1956.8 510.3,1963.6 C498.3,1970.4 487.9,1979.6 471.9,1987.6 C455.9,1995.6 430.3,2002.8 414.3,2011.6 C398.3,2020.4 385.1,2029.2 375.9,2040.4 C366.7,2051.6 362.7,2066.0 359.1,2078.8 C355.5,2091.6 353.1,2102.7 354.3,2117.1 C355.5,2131.5 360.3,2150.7 366.3,2165.1 C372.3,2179.5 380.7,2190.7 390.3,2203.5 C399.9,2216.3 410.3,2229.1 423.9,2241.9 C437.5,2254.7 455.9,2268.3 471.9,2280.3 C487.9,2292.3 503.9,2304.7 519.9,2313.9 C535.9,2323.1 553.5,2331.5 567.9,2335.5 C582.3,2339.5 594.3,2339.1 606.3,2337.9 C618.3,2336.7 630.3,2333.9 639.9,2328.3 C649.5,2322.7 657.7,2309.1 663.9,2304.3 C670.1,2299.5 675.1,2300.3 677.3,2299.5 Z" stroke="none" stroke-width="0" fill="#212121" />
<g clip-path="url(#cb2)">
<ellipse cx="424" cy="2141" rx="75" ry="55" fill="#fff" opacity="0.55" filter="url(#geb)"/>
<ellipse cx="419" cy="2141" rx="38" ry="28" fill="#fff" opacity="0.55" filter="url(#geb2)"/>
<g fill="#fff" opacity="1"><circle cx="444" cy="2119" r="1.6"/><circle cx="354" cy="2198" r="1.7"/><circle cx="421" cy="2158" r="2.1"/><circle cx="459" cy="2101" r="2.2"/><circle cx="483" cy="2048" r="2.1"/><circle cx="389" cy="2172" r="2.0"/><circle cx="444" cy="2117" r="1.6"/><circle cx="433" cy="2138" r="1.8"/><circle cx="463" cy="2160" r="2.4"/><circle cx="425" cy="2157" r="2.0"/><circle cx="411" cy="2215" r="2.5"/><circle cx="346" cy="2176" r="2.3"/><circle cx="427" cy="2046" r="1.6"/><circle cx="464" cy="2071" r="1.8"/><circle cx="441" cy="2088" r="2.3"/><circle cx="385" cy="2165" r="2.6"/><circle cx="503" cy="2105" r="2.3"/><circle cx="473" cy="2177" r="1.4"/><circle cx="373" cy="2147" r="2.4"/><circle cx="448" cy="2126" r="2.1"/><circle cx="436" cy="2129" r="2.1"/><circle cx="374" cy="2226" r="2.4"/><circle cx="411" cy="2116" r="1.8"/><circle cx="446" cy="2111" r="2.1"/><circle cx="392" cy="2197" r="1.7"/><circle cx="408" cy="2156" r="1.4"/><circle cx="417" cy="2088" r="1.8"/><circle cx="430" cy="2137" r="1.9"/><circle cx="440" cy="2092" r="1.4"/><circle cx="430" cy="2144" r="2.3"/><circle cx="456" cy="2154" r="1.4"/><circle cx="420" cy="2134" r="2.0"/><circle cx="378" cy="2211" r="2.4"/><circle cx="422" cy="2079" r="2.5"/><circle cx="439" cy="2136" r="2.5"/><circle cx="447" cy="2152" r="1.5"/><circle cx="433" cy="2095" r="1.4"/><circle cx="481" cy="2101" r="1.8"/><circle cx="467" cy="2124" r="2.1"/><circle cx="492" cy="2099" r="2.6"/><circle cx="387" cy="2138" r="1.8"/><circle cx="456" cy="2104" r="2.2"/><circle cx="420" cy="2137" r="1.5"/><circle cx="511" cy="2033" r="2.0"/><circle cx="429" cy="2136" r="1.7"/><circle cx="449" cy="2211" r="2.4"/><circle cx="419" cy="2126" r="1.5"/><circle cx="385" cy="2163" r="2.5"/><circle cx="422" cy="2144" r="2.2"/><circle cx="389" cy="2106" r="1.4"/><circle cx="457" cy="2186" r="2.1"/><circle cx="471" cy="2170" r="2.1"/><circle cx="442" cy="2134" r="1.4"/><circle cx="506" cy="2136" r="2.2"/><circle cx="448" cy="2135" r="1.8"/><circle cx="466" cy="2126" r="1.5"/><circle cx="434" cy="2178" r="1.8"/><circle cx="387" cy="2183" r="1.8"/><circle cx="376" cy="2093" r="1.4"/><circle cx="448" cy="2155" r="1.7"/><circle cx="545" cy="2155" r="1.6"/><circle cx="397" cy="2166" r="1.7"/><circle cx="395" cy="2102" r="2.3"/><circle cx="430" cy="2133" r="1.6"/><circle cx="471" cy="2086" r="1.7"/><circle cx="478" cy="2090" r="1.9"/><circle cx="413" cy="2119" r="1.7"/><circle cx="425" cy="2135" r="2.1"/><circle cx="376" cy="2148" r="1.9"/><circle cx="363" cy="2182" r="1.5"/></g>
<g fill="#fff" opacity="1"><circle cx="514" cy="2257" r="2.2"/><circle cx="515" cy="2255" r="1.5"/><circle cx="496" cy="2232" r="1.6"/><circle cx="512" cy="2250" r="1.3"/><circle cx="509" cy="2244" r="1.5"/><circle cx="502" cy="2276" r="2.1"/><circle cx="508" cy="2250" r="2.0"/><circle cx="515" cy="2252" r="2.2"/></g>
<path d="M519.9,2126.7 C521.5,2123.9 540.7,2115.1 548.7,2112.3 C556.7,2109.5 569.5,2107.1 567.9,2109.9 C566.3,2112.7 547.1,2126.3 539.1,2129.1 C531.1,2131.9 518.3,2129.5 519.9,2126.7 Z" stroke="none" stroke-width="0" fill="#0a0a0a" />
</g>
<path d="M710.2,1925.5 L825.7,1865.2 L1086.9,1890.4 L1086.9,2392.6 L840.8,2372.5 L745.4,2352.4 L740.4,2262.0 L705.2,2262.0 Z" stroke="none" stroke-width="0" fill="#070707" />
<clipPath id="cb3"><path d="M1086.9,1955.7 C1085.2,1951.5 1084.4,1937.7 1076.9,1930.5 C1069.3,1923.4 1057.6,1916.3 1041.7,1913.0 C1025.8,1909.6 1003.2,1910.0 981.4,1910.5 C959.7,1910.9 933.7,1912.1 911.1,1915.5 C888.5,1918.8 866.8,1923.0 845.8,1930.5 C824.9,1938.1 803.1,1949.0 785.6,1960.7 C768.0,1972.4 752.9,1986.6 740.4,2000.9 C727.8,2015.1 717.8,2031.0 710.2,2046.1 C702.7,2061.1 698.3,2077.0 695.2,2091.3 C692.0,2105.5 690.7,2116.4 691.1,2131.4 C691.6,2146.5 693.7,2165.8 697.7,2181.7 C701.7,2197.6 707.3,2211.8 715.2,2226.9 C723.2,2241.9 733.7,2258.7 745.4,2272.1 C757.1,2285.5 771.3,2297.2 785.6,2307.2 C799.8,2317.3 818.2,2324.0 830.8,2332.4 C843.3,2340.7 849.2,2349.5 860.9,2357.5 C872.6,2365.4 884.3,2376.7 901.1,2380.1 C917.8,2383.4 942.9,2380.5 961.4,2377.6 C979.8,2374.6 994.8,2368.3 1011.6,2362.5 C1028.3,2356.6 1049.3,2350.8 1061.8,2342.4 C1074.4,2334.0 1082.7,2317.3 1086.9,2312.3 Z"/></clipPath>
<path d="M1086.9,1955.7 C1085.2,1951.5 1084.4,1937.7 1076.9,1930.5 C1069.3,1923.4 1057.6,1916.3 1041.7,1913.0 C1025.8,1909.6 1003.2,1910.0 981.4,1910.5 C959.7,1910.9 933.7,1912.1 911.1,1915.5 C888.5,1918.8 866.8,1923.0 845.8,1930.5 C824.9,1938.1 803.1,1949.0 785.6,1960.7 C768.0,1972.4 752.9,1986.6 740.4,2000.9 C727.8,2015.1 717.8,2031.0 710.2,2046.1 C702.7,2061.1 698.3,2077.0 695.2,2091.3 C692.0,2105.5 690.7,2116.4 691.1,2131.4 C691.6,2146.5 693.7,2165.8 697.7,2181.7 C701.7,2197.6 707.3,2211.8 715.2,2226.9 C723.2,2241.9 733.7,2258.7 745.4,2272.1 C757.1,2285.5 771.3,2297.2 785.6,2307.2 C799.8,2317.3 818.2,2324.0 830.8,2332.4 C843.3,2340.7 849.2,2349.5 860.9,2357.5 C872.6,2365.4 884.3,2376.7 901.1,2380.1 C917.8,2383.4 942.9,2380.5 961.4,2377.6 C979.8,2374.6 994.8,2368.3 1011.6,2362.5 C1028.3,2356.6 1049.3,2350.8 1061.8,2342.4 C1074.4,2334.0 1082.7,2317.3 1086.9,2312.3 Z" stroke="none" stroke-width="0" fill="#1c1c1c" />
<g clip-path="url(#cb3)">
<path d="M971.4,2026.0 C974.7,2019.3 989.8,2017.6 1001.5,2020.9 C1013.3,2024.3 1033.3,2037.7 1041.7,2046.1 C1050.1,2054.4 1054.3,2063.6 1051.8,2071.2 C1049.3,2078.7 1033.3,2074.5 1026.6,2091.3 C1020.0,2108.0 1015.3,2156.1 1011.6,2171.6 C1007.8,2187.1 1007.4,2185.9 1004.0,2184.2 C1000.7,2182.5 994.4,2173.7 991.5,2161.6 C988.6,2149.4 988.1,2128.1 986.5,2111.4 C984.8,2094.6 984.0,2075.4 981.4,2061.1 C978.9,2046.9 968.1,2032.7 971.4,2026.0 Z" stroke="none" stroke-width="0" fill="#0a0a0a" />
<g fill="#fff" opacity="1"><circle cx="727" cy="2186" r="2.1"/><circle cx="757" cy="2162" r="1.7"/><circle cx="744" cy="2162" r="2.2"/><circle cx="734" cy="2038" r="1.6"/><circle cx="749" cy="2173" r="1.3"/><circle cx="736" cy="2082" r="1.5"/><circle cx="736" cy="2147" r="1.9"/><circle cx="745" cy="2175" r="1.2"/><circle cx="760" cy="2176" r="1.7"/><circle cx="744" cy="2153" r="1.9"/><circle cx="743" cy="2220" r="1.7"/><circle cx="734" cy="2142" r="1.9"/></g>
<g fill="#fff" opacity="1"><circle cx="811" cy="2280" r="1.4"/><circle cx="831" cy="2271" r="2.1"/><circle cx="751" cy="2285" r="2.1"/><circle cx="812" cy="2287" r="1.6"/><circle cx="802" cy="2284" r="2.3"/><circle cx="789" cy="2264" r="2.4"/><circle cx="784" cy="2275" r="1.9"/><circle cx="803" cy="2285" r="1.9"/><circle cx="852" cy="2304" r="1.5"/><circle cx="817" cy="2288" r="1.4"/><circle cx="796" cy="2269" r="1.9"/><circle cx="804" cy="2323" r="1.4"/><circle cx="819" cy="2298" r="1.9"/><circle cx="834" cy="2275" r="2.1"/><circle cx="829" cy="2289" r="1.7"/><circle cx="829" cy="2279" r="1.9"/><circle cx="779" cy="2286" r="1.9"/><circle cx="835" cy="2279" r="2.1"/><circle cx="819" cy="2284" r="1.9"/><circle cx="784" cy="2285" r="1.9"/><circle cx="791" cy="2278" r="1.3"/><circle cx="824" cy="2285" r="1.4"/></g>
<ellipse cx="816" cy="2285" rx="45" ry="16" fill="#fff" opacity="0.108" filter="url(#geb)"/>
</g>
<clipPath id="cb4"><path d="M1513.8,1930.5 C1509.7,1927.6 1501.3,1916.3 1488.7,1913.0 C1476.2,1909.6 1459.4,1909.6 1438.5,1910.5 C1417.6,1911.3 1390.0,1913.8 1363.2,1918.0 C1336.4,1922.2 1302.9,1928.4 1277.8,1935.6 C1252.7,1942.7 1231.7,1949.8 1212.5,1960.7 C1193.2,1971.6 1176.5,1986.6 1162.3,2000.9 C1148.0,2015.1 1136.3,2031.0 1127.1,2046.1 C1117.9,2061.1 1111.6,2076.2 1107.0,2091.3 C1102.4,2106.3 1100.5,2124.7 1099.5,2136.5 C1098.5,2148.2 1098.9,2149.9 1101.0,2161.6 C1103.1,2173.3 1106.0,2190.0 1112.0,2206.8 C1118.1,2223.5 1127.1,2243.6 1137.1,2262.0 C1147.2,2280.5 1159.7,2300.5 1172.3,2317.3 C1184.9,2334.0 1199.9,2350.8 1212.5,2362.5 C1225.0,2374.2 1235.1,2384.7 1247.6,2387.6 C1260.2,2390.5 1272.8,2381.7 1287.8,2380.1 C1302.9,2378.4 1317.1,2379.6 1338.1,2377.6 C1359.0,2375.5 1389.1,2370.9 1413.4,2367.5 C1437.7,2364.2 1470.3,2366.7 1483.7,2357.5 C1497.1,2348.3 1490.4,2328.2 1493.8,2312.3 C1497.1,2296.4 1500.4,2272.9 1503.8,2262.0 C1507.1,2251.2 1512.2,2249.5 1513.8,2247.0 Z"/></clipPath>
<path d="M1513.8,1930.5 C1509.7,1927.6 1501.3,1916.3 1488.7,1913.0 C1476.2,1909.6 1459.4,1909.6 1438.5,1910.5 C1417.6,1911.3 1390.0,1913.8 1363.2,1918.0 C1336.4,1922.2 1302.9,1928.4 1277.8,1935.6 C1252.7,1942.7 1231.7,1949.8 1212.5,1960.7 C1193.2,1971.6 1176.5,1986.6 1162.3,2000.9 C1148.0,2015.1 1136.3,2031.0 1127.1,2046.1 C1117.9,2061.1 1111.6,2076.2 1107.0,2091.3 C1102.4,2106.3 1100.5,2124.7 1099.5,2136.5 C1098.5,2148.2 1098.9,2149.9 1101.0,2161.6 C1103.1,2173.3 1106.0,2190.0 1112.0,2206.8 C1118.1,2223.5 1127.1,2243.6 1137.1,2262.0 C1147.2,2280.5 1159.7,2300.5 1172.3,2317.3 C1184.9,2334.0 1199.9,2350.8 1212.5,2362.5 C1225.0,2374.2 1235.1,2384.7 1247.6,2387.6 C1260.2,2390.5 1272.8,2381.7 1287.8,2380.1 C1302.9,2378.4 1317.1,2379.6 1338.1,2377.6 C1359.0,2375.5 1389.1,2370.9 1413.4,2367.5 C1437.7,2364.2 1470.3,2366.7 1483.7,2357.5 C1497.1,2348.3 1490.4,2328.2 1493.8,2312.3 C1497.1,2296.4 1500.4,2272.9 1503.8,2262.0 C1507.1,2251.2 1512.2,2249.5 1513.8,2247.0 Z" stroke="none" stroke-width="0" fill="#1e1e1e" />
<g clip-path="url(#cb4)">
<path d="M1363.2,2031.0 C1365.7,2022.6 1375.7,2023.0 1388.3,2020.9 C1400.8,2018.9 1426.8,2015.9 1438.5,2018.4 C1450.2,2020.9 1456.9,2027.2 1458.6,2036.0 C1460.3,2044.8 1455.2,2062.0 1448.5,2071.2 C1441.9,2080.4 1425.1,2084.6 1418.4,2091.3 C1411.7,2098.0 1408.4,2103.8 1408.4,2111.4 C1408.4,2118.9 1409.2,2128.9 1418.4,2136.5 C1427.6,2144.0 1446.0,2152.4 1463.6,2156.6 C1481.2,2160.7 1513.8,2158.7 1523.9,2161.6 C1533.9,2164.5 1537.3,2173.7 1523.9,2174.1 C1510.5,2174.6 1464.5,2167.9 1443.5,2164.1 C1422.6,2160.3 1408.4,2158.7 1398.3,2151.5 C1388.3,2144.4 1387.4,2134.8 1383.3,2121.4 C1379.1,2108.0 1376.6,2086.2 1373.2,2071.2 C1369.9,2056.1 1360.7,2039.4 1363.2,2031.0 Z" stroke="none" stroke-width="0" fill="#060606" />
<ellipse cx="1137" cy="2192" rx="50" ry="90" fill="#fff" opacity="0.096" filter="url(#geb)"/>
<ellipse cx="1212" cy="2322" rx="90" ry="70" fill="#fff" opacity="0.096" filter="url(#geb)"/>
<ellipse cx="1323" cy="2287" rx="45" ry="70" fill="#fff" opacity="0.084" filter="url(#geb)"/>
<g fill="#fff" opacity="1"><circle cx="1110" cy="2134" r="1.3"/><circle cx="1123" cy="2211" r="1.8"/><circle cx="1140" cy="2207" r="1.8"/><circle cx="1146" cy="2090" r="2.3"/><circle cx="1083" cy="2196" r="1.8"/><circle cx="1134" cy="2135" r="2.0"/><circle cx="1124" cy="2140" r="1.8"/><circle cx="1109" cy="2179" r="1.8"/><circle cx="1137" cy="2150" r="1.4"/><circle cx="1152" cy="2219" r="2.0"/><circle cx="1145" cy="2167" r="2.1"/><circle cx="1100" cy="2154" r="1.7"/><circle cx="1137" cy="2201" r="1.4"/><circle cx="1137" cy="2144" r="1.8"/><circle cx="1126" cy="2155" r="1.9"/><circle cx="1128" cy="2237" r="2.1"/><circle cx="1126" cy="2149" r="1.7"/><circle cx="1128" cy="2159" r="2.0"/><circle cx="1111" cy="2137" r="1.6"/><circle cx="1137" cy="2201" r="1.4"/><circle cx="1124" cy="2183" r="1.9"/><circle cx="1121" cy="2103" r="1.2"/><circle cx="1122" cy="2209" r="1.3"/><circle cx="1101" cy="2175" r="1.7"/><circle cx="1122" cy="2204" r="1.6"/><circle cx="1140" cy="2195" r="1.9"/><circle cx="1155" cy="2215" r="2.2"/><circle cx="1152" cy="2189" r="1.6"/><circle cx="1112" cy="2177" r="2.0"/><circle cx="1127" cy="2175" r="2.0"/><circle cx="1107" cy="2210" r="1.4"/><circle cx="1143" cy="2192" r="1.5"/><circle cx="1108" cy="2163" r="2.0"/><circle cx="1166" cy="2144" r="1.2"/><circle cx="1173" cy="2114" r="2.4"/><circle cx="1126" cy="2196" r="1.9"/><circle cx="1150" cy="2136" r="2.3"/><circle cx="1129" cy="2203" r="1.9"/><circle cx="1178" cy="2116" r="1.5"/><circle cx="1137" cy="2169" r="1.5"/></g>
<g fill="#fff" opacity="1"><circle cx="1232" cy="2311" r="1.7"/><circle cx="1202" cy="2324" r="1.7"/><circle cx="1185" cy="2323" r="1.6"/><circle cx="1200" cy="2269" r="2.3"/><circle cx="1074" cy="2258" r="1.3"/><circle cx="1150" cy="2302" r="1.7"/><circle cx="1198" cy="2271" r="2.4"/><circle cx="1184" cy="2255" r="1.9"/><circle cx="1187" cy="2317" r="2.3"/><circle cx="1296" cy="2349" r="1.3"/><circle cx="1214" cy="2329" r="2.2"/><circle cx="1157" cy="2375" r="2.0"/><circle cx="1163" cy="2371" r="1.3"/><circle cx="1296" cy="2310" r="1.8"/><circle cx="1189" cy="2405" r="2.0"/><circle cx="1199" cy="2327" r="1.7"/><circle cx="1223" cy="2341" r="1.5"/><circle cx="1318" cy="2308" r="1.8"/><circle cx="1211" cy="2279" r="1.4"/><circle cx="1133" cy="2260" r="2.4"/><circle cx="1196" cy="2312" r="1.6"/><circle cx="1222" cy="2324" r="1.8"/><circle cx="1130" cy="2254" r="2.2"/><circle cx="1186" cy="2388" r="1.9"/><circle cx="1301" cy="2337" r="2.0"/><circle cx="1207" cy="2320" r="1.5"/><circle cx="1202" cy="2295" r="2.0"/><circle cx="1180" cy="2358" r="2.3"/><circle cx="1214" cy="2329" r="1.7"/><circle cx="1241" cy="2321" r="2.3"/><circle cx="1143" cy="2263" r="1.9"/><circle cx="1273" cy="2208" r="2.1"/><circle cx="1236" cy="2322" r="1.5"/><circle cx="1213" cy="2318" r="1.9"/><circle cx="1205" cy="2317" r="2.4"/><circle cx="1269" cy="2309" r="1.8"/><circle cx="1245" cy="2276" r="2.0"/><circle cx="1217" cy="2331" r="1.6"/><circle cx="1201" cy="2333" r="2.3"/><circle cx="1217" cy="2369" r="1.4"/><circle cx="1157" cy="2336" r="1.6"/><circle cx="1204" cy="2304" r="2.2"/><circle cx="1133" cy="2326" r="2.1"/><circle cx="1240" cy="2342" r="2.3"/><circle cx="1174" cy="2323" r="1.7"/><circle cx="1155" cy="2241" r="2.2"/><circle cx="1192" cy="2298" r="2.2"/><circle cx="1171" cy="2309" r="1.5"/><circle cx="1190" cy="2347" r="1.8"/><circle cx="1211" cy="2319" r="1.5"/></g>
<g fill="#fff" opacity="1"><circle cx="1294" cy="2292" r="1.3"/><circle cx="1294" cy="2243" r="1.6"/><circle cx="1347" cy="2355" r="2.1"/><circle cx="1323" cy="2281" r="2.0"/><circle cx="1316" cy="2297" r="1.8"/><circle cx="1313" cy="2280" r="1.5"/><circle cx="1333" cy="2290" r="2.0"/><circle cx="1344" cy="2305" r="1.8"/><circle cx="1319" cy="2337" r="2.2"/><circle cx="1359" cy="2336" r="2.0"/><circle cx="1348" cy="2300" r="1.3"/><circle cx="1323" cy="2290" r="2.3"/><circle cx="1335" cy="2271" r="1.9"/><circle cx="1331" cy="2275" r="1.7"/><circle cx="1336" cy="2290" r="1.7"/><circle cx="1358" cy="2283" r="1.6"/><circle cx="1312" cy="2253" r="1.6"/><circle cx="1340" cy="2271" r="1.7"/><circle cx="1334" cy="2296" r="1.6"/><circle cx="1321" cy="2246" r="1.5"/><circle cx="1331" cy="2262" r="2.3"/><circle cx="1297" cy="2313" r="2.2"/><circle cx="1323" cy="2287" r="1.5"/><circle cx="1330" cy="2296" r="1.9"/><circle cx="1317" cy="2280" r="1.4"/><circle cx="1262" cy="2324" r="1.3"/><circle cx="1398" cy="2310" r="1.5"/><circle cx="1333" cy="2292" r="1.6"/><circle cx="1326" cy="2281" r="1.8"/><circle cx="1325" cy="2317" r="1.6"/><circle cx="1328" cy="2277" r="1.7"/><circle cx="1321" cy="2286" r="2.3"/><circle cx="1345" cy="2318" r="2.0"/><circle cx="1307" cy="2345" r="1.6"/><circle cx="1300" cy="2290" r="1.8"/></g>
</g>
<clipPath id="cb5"><path d="M1945.9,1951.6 C1943.2,1946.4 1938.9,1928.9 1930.1,1920.2 C1921.4,1911.4 1908.3,1903.5 1893.4,1899.2 C1878.5,1894.8 1858.4,1893.5 1841.0,1893.9 C1823.5,1894.4 1806.0,1898.3 1788.5,1901.8 C1771.0,1905.3 1753.5,1909.2 1736.0,1914.9 C1718.6,1920.6 1701.1,1928.0 1683.6,1935.9 C1666.1,1943.8 1646.0,1952.5 1631.1,1962.1 C1616.3,1971.7 1604.9,1982.2 1594.4,1993.6 C1583.9,2005.0 1575.2,2017.2 1568.2,2030.3 C1561.2,2043.4 1558.6,2058.3 1552.5,2072.3 C1546.3,2086.3 1535.4,2100.3 1531.5,2114.2 C1527.5,2128.2 1528.4,2144.0 1528.9,2156.2 C1529.3,2168.4 1530.2,2177.2 1534.1,2187.7 C1538.0,2198.2 1544.1,2205.2 1552.5,2219.1 C1560.8,2233.1 1573.4,2254.1 1583.9,2271.6 C1594.4,2289.1 1605.8,2308.3 1615.4,2324.1 C1625.0,2339.8 1632.9,2354.2 1641.6,2366.0 C1650.4,2377.8 1656.5,2389.6 1667.9,2394.9 C1679.2,2400.1 1695.8,2397.9 1709.8,2397.5 C1723.8,2397.1 1739.5,2395.7 1751.8,2392.2 C1764.0,2388.8 1772.8,2381.8 1783.3,2376.5 C1793.7,2371.3 1800.7,2363.4 1814.7,2360.8 C1828.7,2358.2 1848.0,2362.5 1867.2,2360.8 C1886.4,2359.0 1917.0,2354.7 1930.1,2350.3 C1943.2,2345.9 1943.2,2337.2 1945.9,2334.5 Z"/></clipPath>
<path d="M1945.9,1951.6 C1943.2,1946.4 1938.9,1928.9 1930.1,1920.2 C1921.4,1911.4 1908.3,1903.5 1893.4,1899.2 C1878.5,1894.8 1858.4,1893.5 1841.0,1893.9 C1823.5,1894.4 1806.0,1898.3 1788.5,1901.8 C1771.0,1905.3 1753.5,1909.2 1736.0,1914.9 C1718.6,1920.6 1701.1,1928.0 1683.6,1935.9 C1666.1,1943.8 1646.0,1952.5 1631.1,1962.1 C1616.3,1971.7 1604.9,1982.2 1594.4,1993.6 C1583.9,2005.0 1575.2,2017.2 1568.2,2030.3 C1561.2,2043.4 1558.6,2058.3 1552.5,2072.3 C1546.3,2086.3 1535.4,2100.3 1531.5,2114.2 C1527.5,2128.2 1528.4,2144.0 1528.9,2156.2 C1529.3,2168.4 1530.2,2177.2 1534.1,2187.7 C1538.0,2198.2 1544.1,2205.2 1552.5,2219.1 C1560.8,2233.1 1573.4,2254.1 1583.9,2271.6 C1594.4,2289.1 1605.8,2308.3 1615.4,2324.1 C1625.0,2339.8 1632.9,2354.2 1641.6,2366.0 C1650.4,2377.8 1656.5,2389.6 1667.9,2394.9 C1679.2,2400.1 1695.8,2397.9 1709.8,2397.5 C1723.8,2397.1 1739.5,2395.7 1751.8,2392.2 C1764.0,2388.8 1772.8,2381.8 1783.3,2376.5 C1793.7,2371.3 1800.7,2363.4 1814.7,2360.8 C1828.7,2358.2 1848.0,2362.5 1867.2,2360.8 C1886.4,2359.0 1917.0,2354.7 1930.1,2350.3 C1943.2,2345.9 1943.2,2337.2 1945.9,2334.5 Z" stroke="none" stroke-width="0" fill="#1d1d1d" />
<g clip-path="url(#cb5)">
<path d="M1772.8,2046.0 C1776.3,2032.1 1783.3,2019.4 1793.7,2009.3 C1804.2,1999.3 1823.5,1988.8 1835.7,1985.7 C1848.0,1982.7 1859.8,1987.0 1867.2,1991.0 C1874.6,1994.9 1880.3,2002.8 1880.3,2009.3 C1880.3,2015.9 1876.4,2025.1 1867.2,2030.3 C1858.0,2035.6 1839.2,2036.4 1825.2,2040.8 C1811.2,2045.2 1791.1,2047.8 1783.3,2056.5 C1775.4,2065.3 1776.3,2081.9 1778.0,2093.3 C1779.8,2104.6 1784.1,2117.3 1793.7,2124.7 C1803.4,2132.2 1818.2,2136.5 1835.7,2137.8 C1853.2,2139.2 1878.5,2134.8 1898.7,2132.6 C1918.8,2130.4 1946.7,2122.1 1956.4,2124.7 C1966.0,2127.4 1966.0,2144.0 1956.4,2148.3 C1946.7,2152.7 1920.5,2151.4 1898.7,2151.0 C1876.8,2150.5 1843.6,2149.2 1825.2,2145.7 C1806.9,2142.2 1797.2,2138.7 1788.5,2130.0 C1779.8,2121.2 1775.4,2107.2 1772.8,2093.3 C1770.1,2079.3 1769.3,2060.0 1772.8,2046.0 Z" stroke="none" stroke-width="0" fill="#050505" />
<ellipse cx="1563" cy="2188" rx="40" ry="50" fill="#fff" opacity="0.12" filter="url(#geb)"/>
<ellipse cx="1746" cy="2240" rx="50" ry="50" fill="#fff" opacity="0.06" filter="url(#geb)"/>
<g fill="#fff" opacity="1"><circle cx="1540" cy="2186" r="1.7"/><circle cx="1551" cy="2191" r="1.5"/><circle cx="1560" cy="2183" r="1.3"/><circle cx="1552" cy="2179" r="1.9"/><circle cx="1561" cy="2177" r="1.9"/><circle cx="1560" cy="2183" r="1.8"/><circle cx="1553" cy="2223" r="1.6"/><circle cx="1545" cy="2185" r="2.2"/><circle cx="1550" cy="2188" r="1.4"/><circle cx="1547" cy="2198" r="1.6"/><circle cx="1556" cy="2138" r="1.5"/><circle cx="1539" cy="2206" r="1.5"/><circle cx="1587" cy="2240" r="1.3"/><circle cx="1606" cy="2143" r="1.8"/><circle cx="1570" cy="2167" r="2.0"/><circle cx="1551" cy="2226" r="1.9"/><circle cx="1564" cy="2178" r="1.9"/><circle cx="1561" cy="2178" r="1.7"/><circle cx="1568" cy="2160" r="1.7"/><circle cx="1577" cy="2201" r="1.3"/><circle cx="1553" cy="2168" r="2.3"/><circle cx="1556" cy="2197" r="1.7"/><circle cx="1589" cy="2196" r="2.3"/><circle cx="1559" cy="2181" r="1.4"/><circle cx="1551" cy="2157" r="2.1"/><circle cx="1546" cy="2203" r="1.6"/><circle cx="1560" cy="2184" r="2.1"/><circle cx="1557" cy="2187" r="1.4"/></g>
<g fill="#fff" opacity="1"><circle cx="1733" cy="2278" r="1.6"/><circle cx="1740" cy="2239" r="1.4"/><circle cx="1759" cy="2245" r="1.6"/><circle cx="1732" cy="2255" r="1.3"/><circle cx="1740" cy="2204" r="1.7"/><circle cx="1743" cy="2247" r="1.5"/><circle cx="1766" cy="2244" r="1.6"/><circle cx="1749" cy="2215" r="1.1"/><circle cx="1750" cy="2249" r="1.2"/><circle cx="1793" cy="2256" r="1.4"/><circle cx="1764" cy="2271" r="1.8"/><circle cx="1680" cy="2215" r="1.4"/><circle cx="1782" cy="2251" r="1.3"/><circle cx="1733" cy="2254" r="1.9"/><circle cx="1745" cy="2247" r="1.9"/><circle cx="1780" cy="2254" r="1.5"/><circle cx="1774" cy="2244" r="1.3"/><circle cx="1745" cy="2241" r="1.1"/><circle cx="1771" cy="2238" r="1.2"/><circle cx="1813" cy="2253" r="1.3"/><circle cx="1703" cy="2255" r="1.0"/><circle cx="1754" cy="2242" r="1.2"/><circle cx="1755" cy="2266" r="1.2"/><circle cx="1741" cy="2223" r="1.4"/><circle cx="1775" cy="2274" r="1.5"/></g>
<g fill="#fff" opacity="1"><circle cx="1830" cy="2316" r="2.1"/><circle cx="1783" cy="2312" r="1.6"/><circle cx="1808" cy="2309" r="2.3"/><circle cx="1817" cy="2308" r="2.3"/><circle cx="1817" cy="2311" r="2.6"/><circle cx="1796" cy="2306" r="1.6"/><circle cx="1789" cy="2295" r="2.4"/><circle cx="1809" cy="2311" r="2.2"/></g>
<g fill="#fff" opacity="1"><circle cx="1628" cy="2402" r="1.7"/><circle cx="1623" cy="2325" r="1.3"/><circle cx="1639" cy="2310" r="1.7"/><circle cx="1622" cy="2301" r="1.5"/><circle cx="1624" cy="2325" r="1.6"/><circle cx="1670" cy="2316" r="1.2"/><circle cx="1601" cy="2323" r="1.3"/><circle cx="1500" cy="2328" r="1.3"/><circle cx="1681" cy="2358" r="1.6"/><circle cx="1534" cy="2330" r="1.8"/><circle cx="1527" cy="2407" r="1.1"/><circle cx="1644" cy="2262" r="1.4"/><circle cx="1627" cy="2503" r="1.5"/><circle cx="1613" cy="2307" r="2.0"/><circle cx="1588" cy="2297" r="1.3"/><circle cx="1544" cy="2215" r="1.5"/><circle cx="1627" cy="2375" r="1.1"/><circle cx="1604" cy="2304" r="2.0"/><circle cx="1587" cy="2268" r="1.5"/><circle cx="1664" cy="2291" r="1.4"/><circle cx="1578" cy="2399" r="1.5"/><circle cx="1657" cy="2285" r="1.1"/><circle cx="1590" cy="2336" r="1.1"/><circle cx="1634" cy="2214" r="1.7"/><circle cx="1547" cy="2480" r="1.6"/></g>
<g fill="#fff" opacity="1"><circle cx="1747" cy="2350" r="2.0"/><circle cx="1739" cy="2343" r="1.3"/><circle cx="1700" cy="2340" r="1.7"/><circle cx="1732" cy="2328" r="1.6"/><circle cx="1768" cy="2364" r="1.4"/><circle cx="1763" cy="2345" r="1.3"/><circle cx="1768" cy="2347" r="1.1"/><circle cx="1749" cy="2340" r="1.3"/><circle cx="1724" cy="2348" r="1.6"/><circle cx="1734" cy="2333" r="1.0"/></g>
</g>
<path d="M2276.3,2355.5 C2276.3,2342.4 2299.1,2313.6 2318.3,2303.1 C2337.5,2292.6 2377.3,2287.3 2391.7,2292.6 C2406.2,2297.8 2404.8,2320.6 2404.8,2334.5 C2404.8,2348.5 2399.2,2366.9 2391.7,2376.5 C2384.3,2386.1 2372.5,2391.4 2360.3,2392.2 C2348.0,2393.1 2332.3,2387.9 2318.3,2381.8 C2304.3,2375.6 2276.3,2368.6 2276.3,2355.5 Z" stroke="none" stroke-width="0" fill="#282828" />
<clipPath id="cb6"><path d="M2404.8,1909.7 C2402.7,1907.0 2400.9,1898.7 2391.7,1893.9 C2382.6,1889.1 2365.5,1883.4 2349.8,1880.8 C2334.0,1878.2 2314.8,1876.9 2297.3,1878.2 C2279.8,1879.5 2264.1,1882.6 2244.9,1888.7 C2225.6,1894.8 2202.9,1907.0 2181.9,1914.9 C2160.9,1922.8 2138.2,1928.9 2119.0,1935.9 C2099.7,1942.9 2082.2,1947.3 2066.5,1956.9 C2050.8,1966.5 2036.8,1978.7 2024.5,1993.6 C2012.3,2008.5 2001.4,2027.7 1993.1,2046.0 C1984.8,2064.4 1979.1,2085.4 1974.7,2103.7 C1970.3,2122.1 1969.0,2140.5 1966.8,2156.2 C1964.7,2171.9 1960.7,2185.9 1961.6,2198.2 C1962.5,2210.4 1965.1,2218.3 1972.1,2229.6 C1979.1,2241.0 1994.8,2252.4 2003.6,2266.4 C2012.3,2280.3 2015.8,2298.7 2024.5,2313.6 C2033.3,2328.4 2044.7,2342.4 2056.0,2355.5 C2067.4,2368.6 2080.5,2383.5 2092.7,2392.2 C2105.0,2401.0 2114.6,2407.1 2129.5,2408.0 C2144.3,2408.9 2168.8,2402.7 2181.9,2397.5 C2195.0,2392.2 2199.4,2385.3 2208.1,2376.5 C2216.9,2367.8 2226.5,2355.5 2234.4,2345.0 C2242.2,2334.5 2244.9,2321.4 2255.4,2313.6 C2265.8,2305.7 2283.3,2303.1 2297.3,2297.8 C2311.3,2292.6 2323.5,2284.7 2339.3,2282.1 C2355.0,2279.5 2380.8,2283.8 2391.7,2282.1 C2402.7,2280.3 2402.7,2273.4 2404.8,2271.6 Z"/></clipPath>
<path d="M2404.8,1909.7 C2402.7,1907.0 2400.9,1898.7 2391.7,1893.9 C2382.6,1889.1 2365.5,1883.4 2349.8,1880.8 C2334.0,1878.2 2314.8,1876.9 2297.3,1878.2 C2279.8,1879.5 2264.1,1882.6 2244.9,1888.7 C2225.6,1894.8 2202.9,1907.0 2181.9,1914.9 C2160.9,1922.8 2138.2,1928.9 2119.0,1935.9 C2099.7,1942.9 2082.2,1947.3 2066.5,1956.9 C2050.8,1966.5 2036.8,1978.7 2024.5,1993.6 C2012.3,2008.5 2001.4,2027.7 1993.1,2046.0 C1984.8,2064.4 1979.1,2085.4 1974.7,2103.7 C1970.3,2122.1 1969.0,2140.5 1966.8,2156.2 C1964.7,2171.9 1960.7,2185.9 1961.6,2198.2 C1962.5,2210.4 1965.1,2218.3 1972.1,2229.6 C1979.1,2241.0 1994.8,2252.4 2003.6,2266.4 C2012.3,2280.3 2015.8,2298.7 2024.5,2313.6 C2033.3,2328.4 2044.7,2342.4 2056.0,2355.5 C2067.4,2368.6 2080.5,2383.5 2092.7,2392.2 C2105.0,2401.0 2114.6,2407.1 2129.5,2408.0 C2144.3,2408.9 2168.8,2402.7 2181.9,2397.5 C2195.0,2392.2 2199.4,2385.3 2208.1,2376.5 C2216.9,2367.8 2226.5,2355.5 2234.4,2345.0 C2242.2,2334.5 2244.9,2321.4 2255.4,2313.6 C2265.8,2305.7 2283.3,2303.1 2297.3,2297.8 C2311.3,2292.6 2323.5,2284.7 2339.3,2282.1 C2355.0,2279.5 2380.8,2283.8 2391.7,2282.1 C2402.7,2280.3 2402.7,2273.4 2404.8,2271.6 Z" stroke="none" stroke-width="0" fill="#2a2a2a" />
<g clip-path="url(#cb6)">
<path d="M2181.9,2019.8 C2185.4,2008.5 2195.0,2008.0 2208.1,2004.1 C2221.3,2000.1 2251.0,1993.6 2260.6,1996.2 C2270.2,1998.8 2266.7,2011.5 2265.8,2019.8 C2265.0,2028.1 2263.2,2039.9 2255.4,2046.0 C2247.5,2052.2 2226.5,2052.2 2218.6,2056.5 C2210.8,2060.9 2208.1,2067.0 2208.1,2072.3 C2208.1,2077.5 2205.5,2086.3 2218.6,2088.0 C2231.7,2089.8 2265.0,2086.3 2286.8,2082.8 C2308.7,2079.3 2332.3,2071.4 2349.8,2067.0 C2367.3,2062.7 2383.0,2055.7 2391.7,2056.5 C2400.5,2057.4 2406.6,2064.4 2402.2,2072.3 C2397.9,2080.1 2384.7,2097.2 2365.5,2103.7 C2346.3,2110.3 2308.7,2109.0 2286.8,2111.6 C2265.0,2114.2 2248.4,2120.8 2234.4,2119.5 C2220.4,2118.2 2210.8,2111.6 2202.9,2103.7 C2195.0,2095.9 2190.7,2086.3 2187.2,2072.3 C2183.7,2058.3 2178.4,2031.2 2181.9,2019.8 Z" stroke="none" stroke-width="0" fill="#050505" />
<ellipse cx="2014" cy="2219" rx="90" ry="120" fill="#fff" opacity="0.132" filter="url(#geb)"/>
<ellipse cx="2182" cy="2256" rx="120" ry="40" fill="#fff" opacity="0.09" filter="url(#geb)"/>
<ellipse cx="2381" cy="2146" rx="25" ry="35" fill="#fff" opacity="0.18" filter="url(#geb)"/>
<ellipse cx="2282" cy="2251" rx="40" ry="25" fill="#fff" opacity="0.12" filter="url(#geb)"/>
<g fill="#fff" opacity="1"><circle cx="2029" cy="2238" r="2.3"/><circle cx="2035" cy="2169" r="2.2"/><circle cx="1975" cy="2187" r="1.9"/><circle cx="2013" cy="2200" r="1.7"/><circle cx="1990" cy="2219" r="1.8"/><circle cx="1976" cy="2269" r="2.5"/><circle cx="1973" cy="2163" r="2.2"/><circle cx="2009" cy="2329" r="2.3"/><circle cx="1955" cy="2135" r="2.4"/><circle cx="2011" cy="2225" r="1.6"/><circle cx="1941" cy="2187" r="1.5"/><circle cx="1995" cy="2276" r="2.3"/><circle cx="2015" cy="2207" r="2.1"/><circle cx="1994" cy="2185" r="1.8"/><circle cx="2025" cy="2237" r="2.4"/><circle cx="2015" cy="2215" r="1.5"/><circle cx="1964" cy="2249" r="1.5"/><circle cx="2004" cy="2298" r="1.7"/><circle cx="2042" cy="2102" r="1.6"/><circle cx="2003" cy="2186" r="2.6"/><circle cx="2032" cy="2263" r="2.2"/><circle cx="2015" cy="2220" r="1.7"/><circle cx="2099" cy="2195" r="1.5"/><circle cx="1979" cy="2080" r="1.6"/><circle cx="2004" cy="2164" r="1.9"/><circle cx="1975" cy="2132" r="2.2"/><circle cx="2017" cy="2216" r="2.4"/><circle cx="2000" cy="2239" r="1.3"/><circle cx="2030" cy="2211" r="1.8"/><circle cx="2026" cy="2213" r="2.2"/><circle cx="2060" cy="2135" r="2.1"/><circle cx="2004" cy="2203" r="2.6"/><circle cx="1995" cy="2274" r="1.5"/><circle cx="2007" cy="2262" r="1.3"/><circle cx="2015" cy="2192" r="2.3"/><circle cx="2011" cy="2302" r="2.1"/><circle cx="1979" cy="2107" r="1.8"/><circle cx="2038" cy="2251" r="1.3"/><circle cx="2020" cy="2219" r="1.4"/><circle cx="2072" cy="2181" r="1.2"/><circle cx="1924" cy="2127" r="2.0"/><circle cx="2022" cy="2192" r="1.5"/><circle cx="2005" cy="2206" r="2.2"/><circle cx="1972" cy="2243" r="1.7"/><circle cx="2005" cy="2295" r="1.3"/><circle cx="2045" cy="2395" r="1.3"/><circle cx="2046" cy="2289" r="2.2"/><circle cx="2016" cy="2211" r="2.4"/><circle cx="2017" cy="2222" r="1.9"/><circle cx="2041" cy="2149" r="2.5"/><circle cx="1974" cy="2194" r="2.2"/><circle cx="2021" cy="2188" r="2.4"/><circle cx="1983" cy="2193" r="1.8"/><circle cx="2031" cy="2235" r="1.7"/><circle cx="2011" cy="2220" r="2.0"/><circle cx="1998" cy="2284" r="2.2"/><circle cx="1917" cy="2165" r="1.4"/><circle cx="2015" cy="2290" r="1.3"/><circle cx="2025" cy="2161" r="2.3"/><circle cx="2028" cy="2150" r="2.4"/></g>
<g fill="#fff" opacity="1"><circle cx="2122" cy="2268" r="1.2"/><circle cx="2101" cy="2338" r="2.6"/><circle cx="2067" cy="2276" r="2.3"/><circle cx="2096" cy="2269" r="2.2"/><circle cx="2080" cy="2326" r="2.6"/><circle cx="2094" cy="2282" r="1.3"/><circle cx="2115" cy="2297" r="1.8"/><circle cx="2100" cy="2302" r="2.3"/><circle cx="2116" cy="2303" r="1.7"/><circle cx="2077" cy="2266" r="1.2"/><circle cx="2093" cy="2199" r="2.4"/><circle cx="2104" cy="2273" r="1.2"/><circle cx="2091" cy="2319" r="1.6"/><circle cx="2056" cy="2303" r="1.9"/><circle cx="2096" cy="2239" r="1.5"/><circle cx="2076" cy="2294" r="1.7"/><circle cx="2093" cy="2285" r="1.2"/><circle cx="2093" cy="2281" r="1.5"/><circle cx="2135" cy="2251" r="2.5"/><circle cx="2093" cy="2208" r="2.6"/><circle cx="2094" cy="2285" r="1.2"/><circle cx="2095" cy="2272" r="2.2"/><circle cx="2089" cy="2296" r="1.9"/><circle cx="2107" cy="2281" r="1.2"/><circle cx="2084" cy="2277" r="1.4"/><circle cx="2117" cy="2264" r="2.3"/><circle cx="2072" cy="2330" r="2.4"/><circle cx="2089" cy="2267" r="1.8"/><circle cx="2072" cy="2313" r="2.2"/><circle cx="2083" cy="2307" r="1.6"/></g>
<g fill="#fff" opacity="1"><circle cx="2144" cy="2278" r="2.0"/><circle cx="2149" cy="2242" r="2.2"/><circle cx="2125" cy="2237" r="1.5"/><circle cx="2176" cy="2237" r="2.4"/><circle cx="2179" cy="2254" r="2.1"/><circle cx="2140" cy="2251" r="1.7"/><circle cx="2197" cy="2247" r="1.2"/><circle cx="2190" cy="2252" r="2.4"/><circle cx="2217" cy="2250" r="2.3"/><circle cx="2151" cy="2250" r="1.6"/><circle cx="2175" cy="2252" r="1.4"/><circle cx="2182" cy="2272" r="1.7"/><circle cx="2175" cy="2251" r="1.8"/><circle cx="2184" cy="2249" r="1.3"/><circle cx="2179" cy="2262" r="2.3"/><circle cx="2201" cy="2255" r="2.0"/><circle cx="2170" cy="2252" r="1.6"/><circle cx="2232" cy="2265" r="1.8"/><circle cx="2198" cy="2257" r="1.8"/><circle cx="2189" cy="2252" r="2.0"/></g>
<g fill="#fff" opacity="1"><circle cx="2378" cy="2146" r="1.8"/><circle cx="2395" cy="2140" r="2.2"/><circle cx="2398" cy="2149" r="2.0"/><circle cx="2364" cy="2145" r="1.3"/><circle cx="2380" cy="2150" r="1.3"/><circle cx="2394" cy="2165" r="2.1"/><circle cx="2376" cy="2150" r="1.6"/><circle cx="2366" cy="2131" r="2.1"/><circle cx="2390" cy="2166" r="2.2"/><circle cx="2351" cy="2128" r="1.3"/><circle cx="2368" cy="2096" r="1.4"/><circle cx="2384" cy="2153" r="1.3"/><circle cx="2372" cy="2142" r="2.1"/><circle cx="2394" cy="2147" r="1.3"/><circle cx="2376" cy="2147" r="1.4"/><circle cx="2379" cy="2147" r="1.6"/><circle cx="2377" cy="2178" r="2.1"/><circle cx="2386" cy="2159" r="2.1"/></g>
<g fill="#fff" opacity="1"><circle cx="2303" cy="2258" r="2.4"/><circle cx="2377" cy="2229" r="2.1"/><circle cx="2382" cy="2233" r="1.5"/><circle cx="2359" cy="2222" r="1.8"/><circle cx="2345" cy="2254" r="1.2"/><circle cx="2352" cy="2223" r="1.9"/><circle cx="2345" cy="2201" r="1.2"/><circle cx="2335" cy="2189" r="2.0"/><circle cx="2324" cy="2186" r="1.3"/><circle cx="2331" cy="2242" r="2.2"/><circle cx="2309" cy="2259" r="1.9"/><circle cx="2345" cy="2199" r="1.3"/><circle cx="2349" cy="2226" r="2.0"/><circle cx="2349" cy="2224" r="1.4"/><circle cx="2345" cy="2216" r="1.5"/><circle cx="2351" cy="2227" r="1.8"/></g>
<g fill="#fff" opacity="1"><circle cx="2043" cy="2343" r="1.2"/><circle cx="2087" cy="2332" r="1.7"/><circle cx="2078" cy="2346" r="2.4"/><circle cx="2064" cy="2340" r="1.5"/><circle cx="2074" cy="2353" r="2.2"/><circle cx="2073" cy="2350" r="1.2"/><circle cx="2116" cy="2346" r="2.2"/><circle cx="2053" cy="2341" r="1.2"/></g>
</g>
<path d="M2410.7,1828.8 L2901.9,1828.8 L2901.9,2422.0 L2410.7,2422.0 Z" stroke="none" stroke-width="0" fill="#080808" />
<clipPath id="cb7"><path d="M2901.9,1879.8 C2897.0,1880.7 2881.8,1886.9 2872.4,1885.2 C2863.0,1883.4 2857.2,1873.5 2845.6,1869.1 C2833.9,1864.6 2818.7,1860.6 2802.6,1858.3 C2786.5,1856.1 2766.8,1854.7 2748.9,1855.6 C2731.0,1856.5 2715.8,1859.7 2695.3,1863.7 C2674.7,1867.7 2647.8,1873.5 2625.5,1879.8 C2603.1,1886.1 2580.7,1891.4 2561.0,1901.3 C2541.4,1911.1 2522.6,1925.4 2507.4,1938.8 C2492.2,1952.3 2480.5,1965.7 2469.8,1981.8 C2459.1,1997.9 2450.1,2015.8 2442.9,2035.5 C2435.8,2055.2 2430.4,2079.3 2426.8,2099.9 C2423.3,2120.5 2421.5,2142.8 2421.5,2158.9 C2421.5,2175.0 2423.3,2183.1 2426.8,2196.5 C2430.4,2209.9 2437.6,2223.4 2442.9,2239.5 C2448.3,2255.6 2454.6,2275.2 2459.1,2293.1 C2463.5,2311.0 2465.3,2332.5 2469.8,2346.8 C2474.3,2361.1 2479.6,2369.2 2485.9,2379.0 C2492.2,2388.9 2499.3,2398.7 2507.4,2405.9 C2515.4,2413.0 2522.6,2420.2 2534.2,2422.0 C2545.8,2423.8 2561.9,2419.3 2577.2,2416.6 C2592.4,2413.9 2611.2,2409.5 2625.5,2405.9 C2639.8,2402.3 2655.0,2401.4 2663.0,2395.1 C2671.1,2388.9 2673.8,2379.9 2673.8,2368.3 C2673.8,2356.7 2666.6,2337.9 2663.0,2325.4 C2659.5,2312.8 2653.2,2301.2 2652.3,2293.1 C2651.4,2285.1 2651.4,2278.8 2657.7,2277.0 C2663.9,2275.2 2677.4,2277.0 2689.9,2282.4 C2702.4,2287.8 2718.5,2299.4 2732.8,2309.2 C2747.1,2319.1 2763.3,2332.5 2775.8,2341.5 C2788.3,2350.4 2796.4,2356.7 2808.0,2362.9 C2819.6,2369.2 2833.0,2375.0 2845.6,2379.0 C2858.1,2383.1 2873.7,2385.3 2883.1,2387.1 C2892.5,2388.9 2898.8,2389.3 2901.9,2389.8 Z"/></clipPath>
<path d="M2901.9,1879.8 C2897.0,1880.7 2881.8,1886.9 2872.4,1885.2 C2863.0,1883.4 2857.2,1873.5 2845.6,1869.1 C2833.9,1864.6 2818.7,1860.6 2802.6,1858.3 C2786.5,1856.1 2766.8,1854.7 2748.9,1855.6 C2731.0,1856.5 2715.8,1859.7 2695.3,1863.7 C2674.7,1867.7 2647.8,1873.5 2625.5,1879.8 C2603.1,1886.1 2580.7,1891.4 2561.0,1901.3 C2541.4,1911.1 2522.6,1925.4 2507.4,1938.8 C2492.2,1952.3 2480.5,1965.7 2469.8,1981.8 C2459.1,1997.9 2450.1,2015.8 2442.9,2035.5 C2435.8,2055.2 2430.4,2079.3 2426.8,2099.9 C2423.3,2120.5 2421.5,2142.8 2421.5,2158.9 C2421.5,2175.0 2423.3,2183.1 2426.8,2196.5 C2430.4,2209.9 2437.6,2223.4 2442.9,2239.5 C2448.3,2255.6 2454.6,2275.2 2459.1,2293.1 C2463.5,2311.0 2465.3,2332.5 2469.8,2346.8 C2474.3,2361.1 2479.6,2369.2 2485.9,2379.0 C2492.2,2388.9 2499.3,2398.7 2507.4,2405.9 C2515.4,2413.0 2522.6,2420.2 2534.2,2422.0 C2545.8,2423.8 2561.9,2419.3 2577.2,2416.6 C2592.4,2413.9 2611.2,2409.5 2625.5,2405.9 C2639.8,2402.3 2655.0,2401.4 2663.0,2395.1 C2671.1,2388.9 2673.8,2379.9 2673.8,2368.3 C2673.8,2356.7 2666.6,2337.9 2663.0,2325.4 C2659.5,2312.8 2653.2,2301.2 2652.3,2293.1 C2651.4,2285.1 2651.4,2278.8 2657.7,2277.0 C2663.9,2275.2 2677.4,2277.0 2689.9,2282.4 C2702.4,2287.8 2718.5,2299.4 2732.8,2309.2 C2747.1,2319.1 2763.3,2332.5 2775.8,2341.5 C2788.3,2350.4 2796.4,2356.7 2808.0,2362.9 C2819.6,2369.2 2833.0,2375.0 2845.6,2379.0 C2858.1,2383.1 2873.7,2385.3 2883.1,2387.1 C2892.5,2388.9 2898.8,2389.3 2901.9,2389.8 Z" stroke="none" stroke-width="0" fill="#232323" />
<g clip-path="url(#cb7)">
<path d="M2582.5,2040.8 C2585.2,2026.5 2595.0,2002.4 2604.0,1992.5 C2612.9,1982.7 2629.9,1979.1 2636.2,1981.8 C2642.5,1984.5 2644.3,1997.9 2641.6,2008.6 C2638.9,2019.4 2625.5,2035.5 2620.1,2046.2 C2614.7,2056.9 2604.0,2066.8 2609.4,2073.0 C2614.7,2079.3 2637.1,2088.3 2652.3,2083.8 C2667.5,2079.3 2680.0,2054.3 2700.6,2046.2 C2721.2,2038.2 2754.3,2039.0 2775.8,2035.5 C2797.3,2031.9 2817.8,2024.7 2829.5,2024.7 C2841.1,2024.7 2854.5,2030.1 2845.6,2035.5 C2836.6,2040.8 2798.1,2052.5 2775.8,2056.9 C2753.4,2061.4 2731.0,2056.0 2711.4,2062.3 C2691.7,2068.6 2673.8,2089.1 2657.7,2094.5 C2641.6,2099.9 2626.4,2097.2 2614.7,2094.5 C2603.1,2091.8 2593.3,2087.4 2587.9,2078.4 C2582.5,2069.5 2579.8,2055.2 2582.5,2040.8 Z" stroke="none" stroke-width="0" fill="#0c0c0c" />
<path d="M2867.0,1992.5 C2875.1,1982.7 2902.8,1965.7 2910.0,1981.8 C2917.1,1997.9 2916.2,2072.2 2910.0,2089.1 C2903.7,2106.1 2880.5,2091.8 2872.4,2083.8 C2864.4,2075.7 2862.6,2056.0 2861.7,2040.8 C2860.8,2025.6 2859.0,2002.4 2867.0,1992.5 Z" stroke="none" stroke-width="0" fill="#0c0c0c" />
<path d="M2646.9,1987.2 C2658.6,1973.7 2679.1,1962.1 2700.6,1954.9 C2722.1,1947.8 2754.3,1944.2 2775.8,1944.2 C2797.3,1944.2 2815.1,1950.5 2829.5,1954.9 C2843.8,1959.4 2859.9,1961.2 2861.7,1971.0 C2863.5,1980.9 2854.5,2005.0 2840.2,2014.0 C2825.9,2022.9 2799.0,2022.0 2775.8,2024.7 C2752.5,2027.4 2721.2,2024.7 2700.6,2030.1 C2680.0,2035.5 2663.9,2056.0 2652.3,2056.9 C2640.7,2057.8 2631.7,2047.1 2630.8,2035.5 C2629.9,2023.8 2635.3,2000.6 2646.9,1987.2 Z" stroke="none" stroke-width="0" fill="#1c1c1c" />
<g fill="#fff" opacity="1"><circle cx="2870" cy="2137" r="2.4"/><circle cx="2875" cy="2164" r="2.2"/><circle cx="2874" cy="2146" r="1.8"/><circle cx="2871" cy="2140" r="2.3"/><circle cx="2862" cy="2145" r="2.1"/><circle cx="2870" cy="2138" r="1.5"/><circle cx="2874" cy="2152" r="1.7"/><circle cx="2875" cy="2182" r="1.9"/><circle cx="2880" cy="2138" r="2.1"/><circle cx="2878" cy="2117" r="1.9"/><circle cx="2860" cy="2132" r="2.5"/><circle cx="2861" cy="2123" r="1.4"/><circle cx="2870" cy="2138" r="2.5"/><circle cx="2870" cy="2131" r="2.1"/><circle cx="2871" cy="2100" r="1.9"/><circle cx="2869" cy="2136" r="1.5"/></g>
<g fill="#fff" opacity="1"><circle cx="2837" cy="2207" r="2.4"/><circle cx="2830" cy="2204" r="2.0"/><circle cx="2840" cy="2197" r="2.2"/><circle cx="2839" cy="2192" r="2.0"/><circle cx="2837" cy="2209" r="1.3"/><circle cx="2842" cy="2216" r="2.4"/></g>
<g fill="#fff" opacity="1"><circle cx="2490" cy="2227" r="2.3"/><circle cx="2493" cy="2226" r="1.8"/><circle cx="2494" cy="2218" r="1.4"/><circle cx="2493" cy="2227" r="1.6"/><circle cx="2491" cy="2223" r="1.6"/></g>
<g fill="#fff" opacity="1"><circle cx="2548" cy="2372" r="2.5"/><circle cx="2548" cy="2377" r="1.8"/><circle cx="2550" cy="2374" r="1.8"/><circle cx="2556" cy="2382" r="1.5"/><circle cx="2556" cy="2375" r="1.9"/></g>
<ellipse cx="2870" cy="2138" rx="18" ry="35" fill="#fff" opacity="0.12" filter="url(#geb)"/>
</g>
<clipPath id="cb8"><path d="M3347.5,1917.4 C3343.5,1914.7 3333.6,1906.6 3323.3,1901.3 C3313.1,1895.9 3301.0,1889.2 3285.8,1885.2 C3270.6,1881.1 3250.0,1878.0 3232.1,1877.1 C3214.2,1876.2 3196.3,1877.6 3178.4,1879.8 C3160.5,1882.0 3142.6,1885.6 3124.7,1890.5 C3106.8,1895.4 3088.9,1901.3 3071.0,1909.3 C3053.1,1917.4 3033.5,1927.7 3017.4,1938.8 C3001.2,1950.0 2986.9,1962.1 2974.4,1976.4 C2961.9,1990.7 2949.8,2007.7 2942.2,2024.7 C2934.6,2041.7 2931.9,2060.5 2928.8,2078.4 C2925.6,2096.3 2923.9,2116.0 2923.4,2132.1 C2923.0,2148.2 2923.9,2162.5 2926.1,2175.0 C2928.3,2187.6 2931.5,2192.0 2936.8,2207.3 C2942.2,2222.5 2951.1,2246.6 2958.3,2266.3 C2965.5,2286.0 2971.7,2307.5 2979.8,2325.4 C2987.8,2343.2 2997.7,2361.6 3006.6,2373.7 C3015.6,2385.7 3023.6,2393.4 3033.5,2397.8 C3043.3,2402.3 3054.9,2401.9 3065.7,2400.5 C3076.4,2399.2 3085.3,2395.1 3097.9,2389.8 C3110.4,2384.4 3128.3,2374.6 3140.8,2368.3 C3153.3,2362.0 3162.3,2355.8 3173.0,2352.2 C3183.8,2348.6 3192.7,2344.1 3205.2,2346.8 C3217.8,2349.5 3235.7,2361.1 3248.2,2368.3 C3260.7,2375.5 3269.7,2384.4 3280.4,2389.8 C3291.1,2395.1 3301.4,2400.5 3312.6,2400.5 C3323.8,2400.5 3341.7,2391.6 3347.5,2389.8 Z"/></clipPath>
<path d="M3347.5,1917.4 C3343.5,1914.7 3333.6,1906.6 3323.3,1901.3 C3313.1,1895.9 3301.0,1889.2 3285.8,1885.2 C3270.6,1881.1 3250.0,1878.0 3232.1,1877.1 C3214.2,1876.2 3196.3,1877.6 3178.4,1879.8 C3160.5,1882.0 3142.6,1885.6 3124.7,1890.5 C3106.8,1895.4 3088.9,1901.3 3071.0,1909.3 C3053.1,1917.4 3033.5,1927.7 3017.4,1938.8 C3001.2,1950.0 2986.9,1962.1 2974.4,1976.4 C2961.9,1990.7 2949.8,2007.7 2942.2,2024.7 C2934.6,2041.7 2931.9,2060.5 2928.8,2078.4 C2925.6,2096.3 2923.9,2116.0 2923.4,2132.1 C2923.0,2148.2 2923.9,2162.5 2926.1,2175.0 C2928.3,2187.6 2931.5,2192.0 2936.8,2207.3 C2942.2,2222.5 2951.1,2246.6 2958.3,2266.3 C2965.5,2286.0 2971.7,2307.5 2979.8,2325.4 C2987.8,2343.2 2997.7,2361.6 3006.6,2373.7 C3015.6,2385.7 3023.6,2393.4 3033.5,2397.8 C3043.3,2402.3 3054.9,2401.9 3065.7,2400.5 C3076.4,2399.2 3085.3,2395.1 3097.9,2389.8 C3110.4,2384.4 3128.3,2374.6 3140.8,2368.3 C3153.3,2362.0 3162.3,2355.8 3173.0,2352.2 C3183.8,2348.6 3192.7,2344.1 3205.2,2346.8 C3217.8,2349.5 3235.7,2361.1 3248.2,2368.3 C3260.7,2375.5 3269.7,2384.4 3280.4,2389.8 C3291.1,2395.1 3301.4,2400.5 3312.6,2400.5 C3323.8,2400.5 3341.7,2391.6 3347.5,2389.8 Z" stroke="none" stroke-width="0" fill="#222222" />
<g clip-path="url(#cb8)">
<path d="M3097.9,2121.4 C3098.8,2114.2 3105.0,2099.0 3114.0,2089.1 C3122.9,2079.3 3136.3,2069.9 3151.6,2062.3 C3166.8,2054.7 3185.6,2048.4 3205.2,2043.5 C3224.9,2038.6 3243.7,2037.7 3269.7,2032.8 C3295.6,2027.9 3345.7,2000.1 3360.9,2014.0 C3376.1,2027.9 3367.2,2103.5 3360.9,2116.0 C3354.7,2128.5 3335.0,2096.1 3323.3,2089.1 C3311.7,2082.2 3303.7,2077.5 3291.1,2074.1 C3278.6,2070.7 3264.3,2068.8 3248.2,2068.8 C3232.1,2068.8 3210.6,2070.5 3194.5,2074.1 C3178.4,2077.7 3163.2,2084.0 3151.6,2090.2 C3139.9,2096.5 3131.9,2104.7 3124.7,2111.7 C3117.6,2118.7 3113.1,2130.5 3108.6,2132.1 C3104.1,2133.7 3097.0,2128.5 3097.9,2121.4 Z" stroke="none" stroke-width="0" fill="#040404" />
<path d="M3012.0,2175.0 C3013.8,2163.4 3022.3,2155.4 3028.1,2153.6 C3033.9,2151.8 3044.2,2157.1 3046.9,2164.3 C3049.6,2171.5 3043.3,2186.7 3044.2,2196.5 C3045.1,2206.4 3045.5,2214.4 3052.2,2223.4 C3059.0,2232.3 3071.5,2241.7 3084.5,2250.2 C3097.4,2258.7 3114.4,2267.2 3130.1,2274.4 C3145.7,2281.5 3163.2,2286.4 3178.4,2293.1 C3193.6,2299.9 3216.9,2307.0 3221.3,2314.6 C3225.8,2322.2 3218.7,2337.4 3205.2,2338.8 C3191.8,2340.1 3161.4,2329.8 3140.8,2322.7 C3120.2,2315.5 3098.8,2306.1 3081.8,2295.8 C3064.8,2285.5 3049.6,2273.0 3038.8,2260.9 C3028.1,2248.9 3021.8,2237.7 3017.4,2223.4 C3012.9,2209.0 3010.2,2186.7 3012.0,2175.0 Z" stroke="none" stroke-width="0" fill="#040404" />
<path d="M3044.2,2142.8 C3045.1,2132.1 3043.3,2098.1 3049.6,2078.4 C3055.8,2058.7 3066.6,2040.8 3081.8,2024.7 C3097.0,2008.6 3120.2,1992.5 3140.8,1981.8 C3161.4,1971.0 3181.1,1964.8 3205.2,1960.3 C3229.4,1955.8 3262.1,1954.0 3285.8,1954.9 C3309.5,1955.8 3337.2,1963.9 3347.5,1965.7" stroke="#1a1a1a" stroke-width="10" fill="none" />
<g fill="#aaa" opacity="0.8"><circle cx="2978" cy="2337" r="1.5"/><circle cx="3003" cy="2266" r="1.2"/><circle cx="2997" cy="2277" r="1.5"/><circle cx="3010" cy="2277" r="1.2"/><circle cx="3020" cy="2097" r="1.6"/><circle cx="3023" cy="2291" r="1.5"/><circle cx="2985" cy="2224" r="1.2"/><circle cx="2963" cy="2338" r="0.9"/><circle cx="3053" cy="2331" r="0.9"/><circle cx="2944" cy="2457" r="1.3"/><circle cx="3000" cy="2181" r="1.2"/><circle cx="3015" cy="2245" r="1.0"/><circle cx="2957" cy="2254" r="1.1"/><circle cx="2974" cy="2294" r="1.5"/><circle cx="3022" cy="2243" r="1.0"/><circle cx="3009" cy="2277" r="1.2"/><circle cx="2973" cy="2263" r="1.1"/><circle cx="2985" cy="2320" r="1.5"/><circle cx="2990" cy="2248" r="1.0"/><circle cx="3022" cy="2262" r="1.3"/><circle cx="2960" cy="2226" r="1.5"/><circle cx="3044" cy="2505" r="1.0"/><circle cx="3021" cy="2214" r="1.1"/><circle cx="2989" cy="2250" r="1.2"/><circle cx="2990" cy="2293" r="0.8"/><circle cx="3023" cy="2344" r="1.3"/><circle cx="2961" cy="2299" r="1.3"/><circle cx="2997" cy="2403" r="1.1"/><circle cx="2988" cy="2298" r="1.3"/><circle cx="3015" cy="2347" r="1.5"/><circle cx="2976" cy="2346" r="0.9"/><circle cx="2961" cy="2168" r="0.8"/><circle cx="2998" cy="2270" r="1.2"/><circle cx="2979" cy="2247" r="1.1"/><circle cx="2953" cy="2446" r="1.2"/><circle cx="2994" cy="2317" r="1.5"/><circle cx="3008" cy="2344" r="1.0"/><circle cx="2999" cy="2297" r="1.3"/><circle cx="3045" cy="2389" r="1.5"/><circle cx="2984" cy="2295" r="1.5"/><circle cx="3034" cy="2412" r="1.2"/><circle cx="2995" cy="2311" r="1.0"/><circle cx="2990" cy="2285" r="1.4"/><circle cx="2990" cy="2295" r="1.2"/><circle cx="2992" cy="2309" r="1.6"/><circle cx="3064" cy="2121" r="1.2"/><circle cx="2990" cy="2305" r="1.4"/><circle cx="2952" cy="2333" r="1.3"/><circle cx="2962" cy="2315" r="1.2"/><circle cx="3010" cy="2340" r="1.2"/><circle cx="3006" cy="2286" r="0.9"/><circle cx="2996" cy="2325" r="1.4"/><circle cx="3003" cy="2259" r="0.9"/><circle cx="2965" cy="2322" r="1.4"/><circle cx="3049" cy="2207" r="0.9"/><circle cx="3018" cy="2257" r="1.3"/><circle cx="2991" cy="2459" r="1.5"/><circle cx="2988" cy="2305" r="1.4"/><circle cx="2998" cy="2282" r="1.0"/><circle cx="2989" cy="2248" r="1.6"/><circle cx="2984" cy="2199" r="1.2"/><circle cx="2964" cy="2289" r="1.1"/><circle cx="2981" cy="2235" r="1.0"/><circle cx="2989" cy="2305" r="0.9"/><circle cx="2994" cy="2296" r="1.1"/><circle cx="2993" cy="2248" r="1.4"/><circle cx="2993" cy="2309" r="0.8"/><circle cx="3018" cy="2247" r="1.4"/><circle cx="2988" cy="2296" r="0.8"/><circle cx="3022" cy="2357" r="1.2"/></g>
<g fill="#fff" opacity="1"><circle cx="3304" cy="2216" r="2.0"/><circle cx="3298" cy="2156" r="1.2"/><circle cx="3311" cy="2185" r="1.7"/><circle cx="3303" cy="2191" r="1.5"/><circle cx="3293" cy="2185" r="1.1"/><circle cx="3289" cy="2190" r="1.3"/><circle cx="3298" cy="2186" r="2.0"/><circle cx="3295" cy="2176" r="1.2"/><circle cx="3301" cy="2158" r="1.4"/><circle cx="3291" cy="2190" r="1.4"/><circle cx="3292" cy="2192" r="1.1"/><circle cx="3299" cy="2147" r="1.3"/><circle cx="3312" cy="2145" r="1.2"/><circle cx="3288" cy="2188" r="1.8"/><circle cx="3288" cy="2197" r="1.5"/><circle cx="3293" cy="2201" r="1.5"/><circle cx="3299" cy="2233" r="1.5"/><circle cx="3297" cy="2188" r="1.6"/><circle cx="3285" cy="2186" r="1.1"/><circle cx="3296" cy="2187" r="2.1"/></g>
<g fill="#fff" opacity="1"><circle cx="3073" cy="2393" r="2.0"/><circle cx="3067" cy="2396" r="1.5"/><circle cx="3055" cy="2390" r="1.9"/><circle cx="3068" cy="2396" r="1.2"/><circle cx="3085" cy="2388" r="1.5"/><circle cx="3067" cy="2394" r="1.7"/><circle cx="3070" cy="2392" r="1.4"/><circle cx="3075" cy="2392" r="1.3"/></g>
<ellipse cx="2990" cy="2298" rx="14" ry="10" fill="#fff" opacity="0.5" filter="url(#geb2)"/>
<ellipse cx="3071" cy="2392" rx="20" ry="10" fill="#fff" opacity="0.3" filter="url(#geb2)"/>
</g>
</g>
<rect x="52" y="2447" width="103" height="11" fill="#fff" /></g>
<g id="pf"><text stroke="#111" stroke-width="0.6" x="7" y="2577" font-size="62" fill="#000" text-anchor="start" font-weight="bold" >F</text>
<text stroke="#111" stroke-width="0.6" x="638" y="2610.4" font-size="53.7" fill="#111" text-anchor="middle" font-weight="normal" >Fraction of inputs (%)</text>
<defs><linearGradient id="gF" x1="0" x2="1" y1="0" y2="0"><stop offset="0" stop-color="#ffffff"/><stop offset="0.04" stop-color="#fbeaea"/><stop offset="0.1" stop-color="#efc0c0"/><stop offset="0.2" stop-color="#e08c8c"/><stop offset="0.4" stop-color="#d76264"/><stop offset="0.6" stop-color="#d3484c"/><stop offset="0.8" stop-color="#ce2c31"/><stop offset="1" stop-color="#cb181d"/></linearGradient></defs>
<rect x="422" y="2638" width="421.5" height="46.5" fill="url(#gF)" stroke="#111" stroke-width="2.6"/>
<text stroke="#111" stroke-width="0.6" x="422.0" y="2721" font-size="30.5" fill="#111" text-anchor="middle" font-weight="normal" >0</text>
<line x1="506.3" y1="2638" x2="506.3" y2="2644" stroke="#111" stroke-width="2.4" />
<line x1="506.3" y1="2678.5" x2="506.3" y2="2684.5" stroke="#111" stroke-width="2.4" />
<text stroke="#111" stroke-width="0.6" x="506.3" y="2721" font-size="30.5" fill="#111" text-anchor="middle" font-weight="normal" >10</text>
<line x1="590.6" y1="2638" x2="590.6" y2="2644" stroke="#111" stroke-width="2.4" />
<line x1="590.6" y1="2678.5" x2="590.6" y2="2684.5" stroke="#111" stroke-width="2.4" />
<text stroke="#111" stroke-width="0.6" x="590.6" y="2721" font-size="30.5" fill="#111" text-anchor="middle" font-weight="normal" >20</text>
<line x1="674.9" y1="2638" x2="674.9" y2="2644" stroke="#111" stroke-width="2.4" />
<line x1="674.9" y1="2678.5" x2="674.9" y2="2684.5" stroke="#111" stroke-width="2.4" />
<text stroke="#111" stroke-width="0.6" x="674.9" y="2721" font-size="30.5" fill="#111" text-anchor="middle" font-weight="normal" >30</text>
<line x1="759.2" y1="2638" x2="759.2" y2="2644" stroke="#111" stroke-width="2.4" />
<line x1="759.2" y1="2678.5" x2="759.2" y2="2684.5" stroke="#111" stroke-width="2.4" />
<text stroke="#111" stroke-width="0.6" x="759.2" y="2721" font-size="30.5" fill="#111" text-anchor="middle" font-weight="normal" >40</text>
<text stroke="#111" stroke-width="0.6" x="840.5" y="2721" font-size="30.5" fill="#111" text-anchor="middle" font-weight="normal" >50</text>
<rect x="422.0" y="2745.0" width="60.6" height="61.6" fill="#d85c5e" />
<rect x="482.2" y="2745.0" width="60.6" height="61.6" fill="#d0484c" />
<rect x="542.4" y="2745.0" width="60.6" height="61.6" fill="#d45054" />
<rect x="602.6" y="2745.0" width="60.7" height="61.6" fill="#d86468" />
<rect x="662.9" y="2745.0" width="60.6" height="61.6" fill="#d86468" />
<rect x="723.1" y="2745.0" width="60.6" height="61.6" fill="#cc1e22" />
<rect x="783.3" y="2745.0" width="60.6" height="61.6" fill="#d7686b" />
<rect x="422.0" y="2806.2" width="60.6" height="61.6" fill="#d85c5e" />
<rect x="482.2" y="2806.2" width="60.6" height="61.6" fill="#d76266" />
<rect x="542.4" y="2806.2" width="60.6" height="61.6" fill="#d6585c" />
<rect x="602.6" y="2806.2" width="60.7" height="61.6" fill="#d86468" />
<rect x="662.9" y="2806.2" width="60.6" height="61.6" fill="#cf3c40" />
<rect x="723.1" y="2806.2" width="60.6" height="61.6" fill="#e6a0a2" />
<rect x="783.3" y="2806.2" width="60.6" height="61.6" fill="#d45054" />
<rect x="422.0" y="2867.4" width="60.6" height="61.7" fill="#d6585c" />
<rect x="482.2" y="2867.4" width="60.6" height="61.7" fill="#d0484c" />
<rect x="542.4" y="2867.4" width="60.6" height="61.7" fill="#dc7c7e" />
<rect x="602.6" y="2867.4" width="60.7" height="61.7" fill="#d86064" />
<rect x="662.9" y="2867.4" width="60.6" height="61.7" fill="#d86468" />
<rect x="723.1" y="2867.4" width="60.6" height="61.7" fill="#e29496" />
<rect x="783.3" y="2867.4" width="60.6" height="61.7" fill="#d4545a" />
<rect x="422.0" y="2928.7" width="60.6" height="61.6" fill="#d6585c" />
<rect x="482.2" y="2928.7" width="60.6" height="61.6" fill="#da7476" />
<rect x="542.4" y="2928.7" width="60.6" height="61.6" fill="#d45256" />
<rect x="602.6" y="2928.7" width="60.7" height="61.6" fill="#d86468" />
<rect x="662.9" y="2928.7" width="60.6" height="61.6" fill="#fae8e8" />
<rect x="723.1" y="2928.7" width="60.6" height="61.6" fill="#d65c60" />
<rect x="783.3" y="2928.7" width="60.6" height="61.6" fill="#f3d4d4" />
<rect x="422.0" y="2989.9" width="60.6" height="61.6" fill="#e6a2a4" />
<rect x="482.2" y="2989.9" width="60.6" height="61.6" fill="#e8a8aa" />
<rect x="542.4" y="2989.9" width="60.6" height="61.6" fill="#d86a6c" />
<rect x="602.6" y="2989.9" width="60.7" height="61.6" fill="#d65c60" />
<rect x="662.9" y="2989.9" width="60.6" height="61.6" fill="#de8486" />
<rect x="723.1" y="2989.9" width="60.6" height="61.6" fill="#f3d2d2" />
<rect x="783.3" y="2989.9" width="60.6" height="61.6" fill="#d65c60" />
<rect x="422.0" y="3051.1" width="60.6" height="61.6" fill="#f3d4d4" />
<rect x="482.2" y="3051.1" width="60.6" height="61.6" fill="#f0cccc" />
<rect x="542.4" y="3051.1" width="60.6" height="61.6" fill="#e29698" />
<rect x="602.6" y="3051.1" width="60.7" height="61.6" fill="#ecbcbc" />
<rect x="662.9" y="3051.1" width="60.6" height="61.6" fill="#d86a6c" />
<rect x="723.1" y="3051.1" width="60.6" height="61.6" fill="#fbeeee" />
<rect x="783.3" y="3051.1" width="60.6" height="61.6" fill="#e8aeb0" />
<rect x="422.0" y="3112.3" width="60.6" height="61.6" fill="#e6a4a6" />
<rect x="482.2" y="3112.3" width="60.6" height="61.6" fill="#faf0ee" />
<rect x="542.4" y="3112.3" width="60.6" height="61.6" fill="#f2d2d2" />
<rect x="602.6" y="3112.3" width="60.7" height="61.6" fill="#f8e6e6" />
<rect x="662.9" y="3112.3" width="60.6" height="61.6" fill="#f8e8e8" />
<rect x="723.1" y="3112.3" width="60.6" height="61.6" fill="#f6e2e2" />
<rect x="783.3" y="3112.3" width="60.6" height="61.6" fill="#efcaca" />
<rect x="422.0" y="3173.5" width="60.6" height="61.7" fill="#f9e6e6" />
<rect x="482.2" y="3173.5" width="60.6" height="61.7" fill="#efc4c4" />
<rect x="542.4" y="3173.5" width="60.6" height="61.7" fill="#e4a0a2" />
<rect x="602.6" y="3173.5" width="60.7" height="61.7" fill="#f6dede" />
<rect x="662.9" y="3173.5" width="60.6" height="61.7" fill="#faeeee" />
<rect x="723.1" y="3173.5" width="60.6" height="61.7" fill="#f8e8e8" />
<rect x="783.3" y="3173.5" width="60.6" height="61.7" fill="#fbf0f0" />
<rect x="422.0" y="3234.8" width="60.6" height="61.6" fill="#f2d2d4" />
<rect x="482.2" y="3234.8" width="60.6" height="61.6" fill="#fcf2f2" />
<rect x="542.4" y="3234.8" width="60.6" height="61.6" fill="#fdf6f6" />
<rect x="602.6" y="3234.8" width="60.7" height="61.6" fill="#fdf4f4" />
<rect x="662.9" y="3234.8" width="60.6" height="61.6" fill="#f4d8d8" />
<rect x="723.1" y="3234.8" width="60.6" height="61.6" fill="#f2d2d2" />
<rect x="783.3" y="3234.8" width="60.6" height="61.6" fill="#fbeeee" />
<rect x="422.0" y="3296.0" width="60.6" height="61.6" fill="#fbeeee" />
<rect x="482.2" y="3296.0" width="60.6" height="61.6" fill="#f4dada" />
<rect x="542.4" y="3296.0" width="60.6" height="61.6" fill="#faeaea" />
<rect x="602.6" y="3296.0" width="60.7" height="61.6" fill="#f7e2e2" />
<rect x="662.9" y="3296.0" width="60.6" height="61.6" fill="#fefaf9" />
<rect x="723.1" y="3296.0" width="60.6" height="61.6" fill="#f0cccc" />
<rect x="783.3" y="3296.0" width="60.6" height="61.6" fill="#fef4f4" />
<rect x="422.0" y="3357.2" width="60.6" height="61.6" fill="#f6e0e0" />
<rect x="482.2" y="3357.2" width="60.6" height="61.6" fill="#fefcfc" />
<rect x="542.4" y="3357.2" width="60.6" height="61.6" fill="#fdf4f4" />
<rect x="602.6" y="3357.2" width="60.7" height="61.6" fill="#fbeeee" />
<rect x="662.9" y="3357.2" width="60.6" height="61.6" fill="#fbeeee" />
<rect x="723.1" y="3357.2" width="60.6" height="61.6" fill="#fbecec" />
<rect x="783.3" y="3357.2" width="60.6" height="61.6" fill="#f4d8d8" />
<rect x="422.0" y="3418.4" width="60.6" height="61.6" fill="#f8e4e4" />
<rect x="482.2" y="3418.4" width="60.6" height="61.6" fill="#fbecec" />
<rect x="542.4" y="3418.4" width="60.6" height="61.6" fill="#fefafa" />
<rect x="602.6" y="3418.4" width="60.7" height="61.6" fill="#f7e2e2" />
<rect x="662.9" y="3418.4" width="60.6" height="61.6" fill="#f5dcdc" />
<rect x="723.1" y="3418.4" width="60.6" height="61.6" fill="#fbeeee" />
<rect x="783.3" y="3418.4" width="60.6" height="61.6" fill="#fefcfc" />
<rect x="422.0" y="3479.6" width="60.6" height="61.6" fill="#fbeeee" />
<rect x="482.2" y="3479.6" width="60.6" height="61.6" fill="#fcf0f0" />
<rect x="542.4" y="3479.6" width="60.6" height="61.6" fill="#fbeeee" />
<rect x="602.6" y="3479.6" width="60.7" height="61.6" fill="#f6e0e0" />
<rect x="662.9" y="3479.6" width="60.6" height="61.6" fill="#fbeeee" />
<rect x="723.1" y="3479.6" width="60.6" height="61.6" fill="#fbecec" />
<rect x="783.3" y="3479.6" width="60.6" height="61.6" fill="#faeaea" />
<rect x="422.0" y="3540.8" width="60.6" height="61.7" fill="#f3d4d6" />
<rect x="482.2" y="3540.8" width="60.6" height="61.7" fill="#fdf4f4" />
<rect x="542.4" y="3540.8" width="60.6" height="61.7" fill="#fdf6f6" />
<rect x="602.6" y="3540.8" width="60.7" height="61.7" fill="#fbeeee" />
<rect x="662.9" y="3540.8" width="60.6" height="61.7" fill="#f5dada" />
<rect x="723.1" y="3540.8" width="60.6" height="61.7" fill="#fdf6f6" />
<rect x="783.3" y="3540.8" width="60.6" height="61.7" fill="#ffffff" />
<rect x="422.0" y="3602.1" width="60.6" height="61.6" fill="#f6e0e0" />
<rect x="482.2" y="3602.1" width="60.6" height="61.6" fill="#fefcfc" />
<rect x="542.4" y="3602.1" width="60.6" height="61.6" fill="#fefefe" />
<rect x="602.6" y="3602.1" width="60.7" height="61.6" fill="#ffffff" />
<rect x="662.9" y="3602.1" width="60.6" height="61.6" fill="#fefafa" />
<rect x="723.1" y="3602.1" width="60.6" height="61.6" fill="#eab4b4" />
<rect x="783.3" y="3602.1" width="60.6" height="61.6" fill="#fefafa" />
<rect x="422.0" y="3663.3" width="60.6" height="61.6" fill="#f6dede" />
<rect x="482.2" y="3663.3" width="60.6" height="61.6" fill="#fefcfc" />
<rect x="542.4" y="3663.3" width="60.6" height="61.6" fill="#fefcfc" />
<rect x="602.6" y="3663.3" width="60.7" height="61.6" fill="#fcf2f2" />
<rect x="662.9" y="3663.3" width="60.6" height="61.6" fill="#f8e6e6" />
<rect x="723.1" y="3663.3" width="60.6" height="61.6" fill="#fdf4f4" />
<rect x="783.3" y="3663.3" width="60.6" height="61.6" fill="#f9eaea" />
<rect x="422" y="2745" width="421.5" height="979.5" fill="none" stroke="#111" stroke-width="2.6"/>
<line x1="407" y1="2775.609375" x2="422" y2="2775.609375" stroke="#111" stroke-width="2.4" />
<text stroke="#111" stroke-width="0.6" x="404.5" y="2786.8" font-size="36.3" fill="#111" text-anchor="end" font-weight="normal" >Insular Ctx</text>
<line x1="872" y1="2775.609375" x2="886.7" y2="2775.609375" stroke="#111" stroke-width="2.4" />
<line x1="1170.3" y1="2775.609375" x2="1230.8" y2="2775.609375" stroke="#111" stroke-width="2.4" />
<rect x="887" y="2752.3" width="284.3" height="46.6" fill="#cb181d" />
<line x1="407" y1="2836.828125" x2="422" y2="2836.828125" stroke="#111" stroke-width="2.4" />
<text stroke="#111" stroke-width="0.6" x="404.5" y="2848.0" font-size="36.3" fill="#111" text-anchor="end" font-weight="normal" >Piriform Ctx</text>
<line x1="872" y1="2836.828125" x2="886.7" y2="2836.828125" stroke="#111" stroke-width="2.4" />
<line x1="1121" y1="2836.828125" x2="1161.4" y2="2836.828125" stroke="#111" stroke-width="2.4" />
<rect x="887" y="2813.5" width="235" height="46.6" fill="#cb181d" />
<line x1="407" y1="2898.046875" x2="422" y2="2898.046875" stroke="#111" stroke-width="2.4" />
<text stroke="#111" stroke-width="0.6" x="404.5" y="2909.2" font-size="36.3" fill="#111" text-anchor="end" font-weight="normal" >Somatomotor Ctx</text>
<line x1="872" y1="2898.046875" x2="886.7" y2="2898.046875" stroke="#111" stroke-width="2.4" />
<line x1="1086.8" y1="2898.046875" x2="1122" y2="2898.046875" stroke="#111" stroke-width="2.4" />
<rect x="887" y="2874.7" width="200.8" height="46.6" fill="#cb181d" />
<line x1="407" y1="2959.265625" x2="422" y2="2959.265625" stroke="#111" stroke-width="2.4" />
<text stroke="#111" stroke-width="0.6" x="404.5" y="2970.5" font-size="36.3" fill="#111" text-anchor="end" font-weight="normal" >Somatosensory Ctx</text>
<line x1="872" y1="2959.265625" x2="886.7" y2="2959.265625" stroke="#111" stroke-width="2.4" />
<line x1="1034" y1="2959.265625" x2="1069.6" y2="2959.265625" stroke="#111" stroke-width="2.4" />
<rect x="887" y="2936.0" width="148" height="46.6" fill="#cb181d" />
<line x1="407" y1="3020.484375" x2="422" y2="3020.484375" stroke="#111" stroke-width="2.4" />
<text stroke="#111" stroke-width="0.6" x="404.5" y="3031.7" font-size="36.3" fill="#111" text-anchor="end" font-weight="normal" >Thalamus-Polymodal</text>
<line x1="872" y1="3020.484375" x2="886.7" y2="3020.484375" stroke="#111" stroke-width="2.4" />
<line x1="1021" y1="3020.484375" x2="1050.6" y2="3020.484375" stroke="#111" stroke-width="2.4" />
<rect x="887" y="2997.2" width="135" height="46.6" fill="#cb181d" />
<line x1="407" y1="3081.703125" x2="422" y2="3081.703125" stroke="#111" stroke-width="2.4" />
<text stroke="#111" stroke-width="0.6" x="404.5" y="3092.9" font-size="36.3" fill="#111" text-anchor="end" font-weight="normal" >Orbitofrontal Ctx</text>
<line x1="872" y1="3081.703125" x2="886.7" y2="3081.703125" stroke="#111" stroke-width="2.4" />
<line x1="955.9" y1="3081.703125" x2="975.5" y2="3081.703125" stroke="#111" stroke-width="2.4" />
<rect x="887" y="3058.4" width="69.9" height="46.6" fill="#cb181d" />
<line x1="407" y1="3142.921875" x2="422" y2="3142.921875" stroke="#111" stroke-width="2.4" />
<text stroke="#111" stroke-width="0.6" x="404.5" y="3154.1" font-size="36.3" fill="#111" text-anchor="end" font-weight="normal" >Pallidum</text>
<line x1="872" y1="3142.921875" x2="886.7" y2="3142.921875" stroke="#111" stroke-width="2.4" />
<line x1="924.4" y1="3142.921875" x2="936.8" y2="3142.921875" stroke="#111" stroke-width="2.4" />
<rect x="887" y="3119.6" width="38.4" height="46.6" fill="#cb181d" />
<line x1="407" y1="3204.140625" x2="422" y2="3204.140625" stroke="#111" stroke-width="2.4" />
<text stroke="#111" stroke-width="0.6" x="404.5" y="3215.3" font-size="36.3" fill="#111" text-anchor="end" font-weight="normal" >Thalamus-sm</text>
<line x1="872" y1="3204.140625" x2="886.7" y2="3204.140625" stroke="#111" stroke-width="2.4" />
<line x1="921.8" y1="3204.140625" x2="935" y2="3204.140625" stroke="#111" stroke-width="2.4" />
<rect x="887" y="3180.8" width="35.8" height="46.6" fill="#cb181d" />
<line x1="407" y1="3265.359375" x2="422" y2="3265.359375" stroke="#111" stroke-width="2.4" />
<text stroke="#111" stroke-width="0.6" x="404.5" y="3276.6" font-size="36.3" fill="#111" text-anchor="end" font-weight="normal" >Central/Extended Amy</text>
<line x1="872" y1="3265.359375" x2="886.7" y2="3265.359375" stroke="#111" stroke-width="2.4" />
<line x1="907.9" y1="3265.359375" x2="915.8" y2="3265.359375" stroke="#111" stroke-width="2.4" />
<rect x="887" y="3242.1" width="21.9" height="46.6" fill="#cb181d" />
<line x1="407" y1="3326.578125" x2="422" y2="3326.578125" stroke="#111" stroke-width="2.4" />
<text stroke="#111" stroke-width="0.6" x="404.5" y="3337.8" font-size="36.3" fill="#111" text-anchor="end" font-weight="normal" >Temporal Ctx</text>
<line x1="872" y1="3326.578125" x2="886.7" y2="3326.578125" stroke="#111" stroke-width="2.4" />
<line x1="906" y1="3326.578125" x2="914" y2="3326.578125" stroke="#111" stroke-width="2.4" />
<rect x="887" y="3303.3" width="20" height="46.6" fill="#cb181d" />
<line x1="407" y1="3387.796875" x2="422" y2="3387.796875" stroke="#111" stroke-width="2.4" />
<text stroke="#111" stroke-width="0.6" x="404.5" y="3399.0" font-size="36.3" fill="#111" text-anchor="end" font-weight="normal" >Hypothalamus</text>
<line x1="872" y1="3387.796875" x2="886.7" y2="3387.796875" stroke="#111" stroke-width="2.4" />
<line x1="902.6" y1="3387.796875" x2="909.7" y2="3387.796875" stroke="#111" stroke-width="2.4" />
<rect x="887" y="3364.5" width="16.6" height="46.6" fill="#cb181d" />
<line x1="407" y1="3449.015625" x2="422" y2="3449.015625" stroke="#111" stroke-width="2.4" />
<text stroke="#111" stroke-width="0.6" x="404.5" y="3460.2" font-size="36.3" fill="#111" text-anchor="end" font-weight="normal" >Prefrontal Ctx</text>
<line x1="872" y1="3449.015625" x2="886.7" y2="3449.015625" stroke="#111" stroke-width="2.4" />
<line x1="901.8" y1="3449.015625" x2="907" y2="3449.015625" stroke="#111" stroke-width="2.4" />
<rect x="887" y="3425.7" width="15.8" height="46.6" fill="#cb181d" />
<line x1="407" y1="3510.234375" x2="422" y2="3510.234375" stroke="#111" stroke-width="2.4" />
<text stroke="#111" stroke-width="0.6" x="404.5" y="3521.4" font-size="36.3" fill="#111" text-anchor="end" font-weight="normal" >Cort Amy N.</text>
<line x1="872" y1="3510.234375" x2="886.7" y2="3510.234375" stroke="#111" stroke-width="2.4" />
<line x1="900.9" y1="3510.234375" x2="906" y2="3510.234375" stroke="#111" stroke-width="2.4" />
<rect x="887" y="3486.9" width="14.9" height="46.6" fill="#cb181d" />
<line x1="407" y1="3571.453125" x2="422" y2="3571.453125" stroke="#111" stroke-width="2.4" />
<text stroke="#111" stroke-width="0.6" x="404.5" y="3582.7" font-size="36.3" fill="#111" text-anchor="end" font-weight="normal" >BLA</text>
<line x1="872" y1="3571.453125" x2="886.7" y2="3571.453125" stroke="#111" stroke-width="2.4" />
<line x1="900.9" y1="3571.453125" x2="908.9" y2="3571.453125" stroke="#111" stroke-width="2.4" />
<rect x="887" y="3548.2" width="14.9" height="46.6" fill="#cb181d" />
<line x1="407" y1="3632.671875" x2="422" y2="3632.671875" stroke="#111" stroke-width="2.4" />
<text stroke="#111" stroke-width="0.6" x="404.5" y="3643.9" font-size="36.3" fill="#111" text-anchor="end" font-weight="normal" >dStriatum</text>
<line x1="872" y1="3632.671875" x2="886.7" y2="3632.671875" stroke="#111" stroke-width="2.4" />
<line x1="900" y1="3632.671875" x2="912" y2="3632.671875" stroke="#111" stroke-width="2.4" />
<rect x="887" y="3609.4" width="14" height="46.6" fill="#cb181d" />
<line x1="407" y1="3693.890625" x2="422" y2="3693.890625" stroke="#111" stroke-width="2.4" />
<text stroke="#111" stroke-width="0.6" x="404.5" y="3705.1" font-size="36.3" fill="#111" text-anchor="end" font-weight="normal" >vStriatum</text>
<line x1="872" y1="3693.890625" x2="886.7" y2="3693.890625" stroke="#111" stroke-width="2.4" />
<line x1="900" y1="3693.890625" x2="906" y2="3693.890625" stroke="#111" stroke-width="2.4" />
<rect x="887" y="3670.6" width="14" height="46.6" fill="#cb181d" />
<line x1="452.10714285714283" y1="3724.5" x2="452.10714285714283" y2="3738" stroke="#111" stroke-width="2.4" />
<text stroke="#111" stroke-width="0.6" x="452.1" y="3777" font-size="34" fill="#111" text-anchor="middle" font-weight="normal" >1</text>
<line x1="512.3214285714286" y1="3724.5" x2="512.3214285714286" y2="3738" stroke="#111" stroke-width="2.4" />
<text stroke="#111" stroke-width="0.6" x="512.3" y="3777" font-size="34" fill="#111" text-anchor="middle" font-weight="normal" >2</text>
<line x1="572.5357142857142" y1="3724.5" x2="572.5357142857142" y2="3738" stroke="#111" stroke-width="2.4" />
<text stroke="#111" stroke-width="0.6" x="572.5" y="3777" font-size="34" fill="#111" text-anchor="middle" font-weight="normal" >3</text>
<line x1="632.75" y1="3724.5" x2="632.75" y2="3738" stroke="#111" stroke-width="2.4" />
<text stroke="#111" stroke-width="0.6" x="632.8" y="3777" font-size="34" fill="#111" text-anchor="middle" font-weight="normal" >4</text>
<line x1="692.9642857142858" y1="3724.5" x2="692.9642857142858" y2="3738" stroke="#111" stroke-width="2.4" />
<text stroke="#111" stroke-width="0.6" x="693.0" y="3777" font-size="34" fill="#111" text-anchor="middle" font-weight="normal" >5</text>
<line x1="753.1785714285714" y1="3724.5" x2="753.1785714285714" y2="3738" stroke="#111" stroke-width="2.4" />
<text stroke="#111" stroke-width="0.6" x="753.2" y="3777" font-size="34" fill="#111" text-anchor="middle" font-weight="normal" >6</text>
<line x1="813.3928571428571" y1="3724.5" x2="813.3928571428571" y2="3738" stroke="#111" stroke-width="2.4" />
<text stroke="#111" stroke-width="0.6" x="813.4" y="3777" font-size="34" fill="#111" text-anchor="middle" font-weight="normal" >7</text>
<text stroke="#111" stroke-width="0.6" x="632" y="3833.4" font-size="53" fill="#111" text-anchor="middle" font-weight="normal" >animal number</text>
<text stroke="#111" stroke-width="0.6" x="1178" y="2666.4" font-size="53.5" fill="#111" text-anchor="middle" font-weight="normal" >Fraction of inputs (%)</text>
<line x1="885.4" y1="2743.4" x2="1472" y2="2743.4" stroke="#111" stroke-width="2.7" />
<line x1="886.7" y1="2743.4" x2="886.7" y2="3728" stroke="#111" stroke-width="2.7" />
<line x1="886.7" y1="2729" x2="886.7" y2="2743.4" stroke="#111" stroke-width="2.5" />
<text stroke="#111" stroke-width="0.6" x="886.7" y="2721.4" font-size="30.5" fill="#111" text-anchor="middle" font-weight="normal" >0</text>
<line x1="959.7" y1="2734.7" x2="959.7" y2="2743.4" stroke="#111" stroke-width="2.5" />
<line x1="1032.7" y1="2729" x2="1032.7" y2="2743.4" stroke="#111" stroke-width="2.5" />
<text stroke="#111" stroke-width="0.6" x="1032.7" y="2721.4" font-size="30.5" fill="#111" text-anchor="middle" font-weight="normal" >10</text>
<line x1="1105.7" y1="2734.7" x2="1105.7" y2="2743.4" stroke="#111" stroke-width="2.5" />
<line x1="1178.7" y1="2729" x2="1178.7" y2="2743.4" stroke="#111" stroke-width="2.5" />
<text stroke="#111" stroke-width="0.6" x="1178.7" y="2721.4" font-size="30.5" fill="#111" text-anchor="middle" font-weight="normal" >20</text>
<line x1="1251.7" y1="2734.7" x2="1251.7" y2="2743.4" stroke="#111" stroke-width="2.5" />
<line x1="1324.7" y1="2729" x2="1324.7" y2="2743.4" stroke="#111" stroke-width="2.5" />
<text stroke="#111" stroke-width="0.6" x="1324.7" y="2721.4" font-size="30.5" fill="#111" text-anchor="middle" font-weight="normal" >30</text>
<line x1="1397.7" y1="2734.7" x2="1397.7" y2="2743.4" stroke="#111" stroke-width="2.5" />
<line x1="1470.7" y1="2729" x2="1470.7" y2="2743.4" stroke="#111" stroke-width="2.5" />
<text stroke="#111" stroke-width="0.6" x="1470.7" y="2721.4" font-size="30.5" fill="#111" text-anchor="middle" font-weight="normal" >40</text></g>
<g id="pg"><text x="1522" y="2578" font-size="62" fill="#000" text-anchor="start" font-weight="bold" >G</text>
<defs><clipPath id="cG"><rect x="1629" y="2535" width="636.5" height="639"/></clipPath><filter id="gb1" x="-100%" y="-100%" width="300%" height="300%"><feGaussianBlur stdDeviation="22"/></filter><filter id="gb2" x="-100%" y="-100%" width="300%" height="300%"><feGaussianBlur stdDeviation="2.5"/></filter></defs>
<rect x="1629" y="2535" width="636.5" height="639" fill="#180504" />
<g clip-path="url(#cG)">
<ellipse cx="2098.8" cy="2731.2" rx="85" ry="96" fill="#8a1010" opacity="0.42" filter="url(#gb1)"/>
<ellipse cx="2025.1" cy="2893.3" rx="81" ry="55" fill="#8a1010" opacity="0.28" filter="url(#gb1)"/>
<ellipse cx="2025.1" cy="3099.5" rx="96" ry="63" fill="#8a1010" opacity="0.38" filter="url(#gb1)"/>
<ellipse cx="1841.0" cy="2985.4" rx="96" ry="74" fill="#8a1010" opacity="0.2" filter="url(#gb1)"/>
<ellipse cx="2154.0" cy="2716.5" rx="44" ry="37" fill="#8a1010" opacity="0.3" filter="url(#gb1)"/>
<circle cx="1861.2" cy="2854.6" r="15" fill="#050000" filter="url(#gb2)"/>
<ellipse cx="2246.1" cy="2930.1" rx="12" ry="18" fill="#0a0101" filter="url(#gb2)"/>
<ellipse cx="2253.5" cy="3099.5" rx="14" ry="60" fill="#0c0202" filter="url(#gb2)"/>
<g fill="#ff5a5a" filter="url(#gb2)"><circle cx="2038.0" cy="2692.6" r="4.4"/><circle cx="2102.5" cy="2701.8" r="4.8"/><circle cx="2113.5" cy="2723.9" r="4.8"/><circle cx="2119.0" cy="2707.3" r="3.8"/><circle cx="2063.8" cy="2751.5" r="3.5"/><circle cx="2106.2" cy="2757.0" r="4.2"/><circle cx="2163.2" cy="2769.9" r="4.0"/><circle cx="2098.8" cy="2782.8" r="5.1"/><circle cx="2133.8" cy="2788.3" r="4.9"/><circle cx="2143.0" cy="2799.4" r="4.7"/><circle cx="2117.2" cy="2838.1" r="4.6"/><circle cx="2155.9" cy="2860.2" r="4.8"/><circle cx="2027.0" cy="2880.4" r="3.8"/><circle cx="2034.3" cy="2887.8" r="4.4"/><circle cx="1944.1" cy="2893.3" r="3.8"/><circle cx="1982.8" cy="2911.7" r="5.3"/><circle cx="1868.6" cy="2909.9" r="3.6"/><circle cx="1741.5" cy="2967.0" r="5.1"/><circle cx="1885.2" cy="2979.8" r="3.6"/><circle cx="1857.6" cy="3007.5" r="4.9"/><circle cx="1949.6" cy="3005.6" r="4.2"/><circle cx="2056.4" cy="3000.1" r="4.3"/><circle cx="2008.6" cy="3071.9" r="5.2"/><circle cx="2039.9" cy="3094.0" r="3.5"/><circle cx="2130.1" cy="3106.9" r="3.6"/><circle cx="2010.4" cy="3129.0" r="5.3"/><circle cx="2039.9" cy="3129.0" r="4.5"/><circle cx="1730.5" cy="3160.3" r="3.7"/><circle cx="2168.8" cy="2711.0" r="5.5"/><circle cx="2060.1" cy="3261.6" r="5.4"/></g>
<g fill="#ffb0b0"><circle cx="2038.0" cy="2692.6" r="1.8"/><circle cx="2102.5" cy="2701.8" r="1.8"/><circle cx="2113.5" cy="2723.9" r="1.8"/><circle cx="2119.0" cy="2707.3" r="1.8"/><circle cx="2063.8" cy="2751.5" r="1.8"/><circle cx="2106.2" cy="2757.0" r="1.8"/><circle cx="2163.2" cy="2769.9" r="1.8"/><circle cx="2098.8" cy="2782.8" r="1.8"/><circle cx="2133.8" cy="2788.3" r="1.8"/><circle cx="2143.0" cy="2799.4" r="1.8"/><circle cx="2117.2" cy="2838.1" r="1.8"/><circle cx="2155.9" cy="2860.2" r="1.8"/><circle cx="2027.0" cy="2880.4" r="1.8"/><circle cx="2034.3" cy="2887.8" r="1.8"/><circle cx="1944.1" cy="2893.3" r="1.8"/><circle cx="1982.8" cy="2911.7" r="1.8"/></g>
<path d="M2038,2693 l19,16 M2038,2693 l15,17 M2038,2693 l-14,-13 M2038,2693 l-5,-15 M2038,2693 l16,30 M2038,2693 l-20,14 M2038,2693 l-21,-15 M2102,2702 l-12,10 M2102,2702 l-6,-37 M2102,2702 l30,-4 M2102,2702 l-14,18 M2102,2702 l-11,-28 M2102,2702 l15,13 M2102,2702 l-17,20 M2114,2724 l10,-25 M2114,2724 l33,6 M2114,2724 l-24,11 M2114,2724 l4,24 M2114,2724 l-25,21 M2114,2724 l22,17 M2114,2724 l14,28 M2119,2707 l21,5 M2119,2707 l-17,25 M2119,2707 l24,8 M2119,2707 l6,21 M2119,2707 l-37,6 M2119,2707 l-37,4 M2119,2707 l18,32 M2064,2752 l-13,15 M2064,2752 l-0,-36 M2064,2752 l21,1 M2064,2752 l3,-23 M2064,2752 l1,15 M2064,2752 l28,7 M2064,2752 l38,-4 M2106,2757 l-16,-0 M2106,2757 l-15,30 M2106,2757 l15,-26 M2106,2757 l3,27 M2106,2757 l-29,4 M2106,2757 l-3,37 M2106,2757 l15,-12 M2163,2770 l-9,34 M2163,2770 l-6,36 M2163,2770 l-31,-3 M2163,2770 l-6,-19 M2163,2770 l-5,20 M2163,2770 l-13,-28 M2163,2770 l24,26 M2099,2783 l-18,10 M2099,2783 l-34,15 M2099,2783 l-27,-11 M2099,2783 l33,-18 M2099,2783 l2,-25 M2099,2783 l-30,-19 M2099,2783 l7,-27 M2134,2788 l-13,19 M2134,2788 l-2,-28 M2134,2788 l31,3 M2134,2788 l27,-19 M2134,2788 l29,-22 M2134,2788 l-32,-7 M2134,2788 l-13,12 M2143,2799 l-13,18 M2143,2799 l28,-12 M2143,2799 l-28,-8 M2143,2799 l19,19 M2143,2799 l-7,-23 M2143,2799 l1,24 M2143,2799 l-14,28 M2117,2838 l11,13 M2117,2838 l-12,29 M2117,2838 l2,-30 M2117,2838 l21,-9 M2117,2838 l26,5 M2117,2838 l-18,7 M2117,2838 l-11,-20 M2156,2860 l2,22 M2156,2860 l14,-5 M2156,2860 l-14,16 M2156,2860 l8,24 M2156,2860 l7,36 M2156,2860 l-31,-0 M2156,2860 l13,22 M2027,2880 l-27,-21 M2027,2880 l0,26 M2027,2880 l21,-27 M2027,2880 l4,27 M2027,2880 l2,-24 M2027,2880 l-14,-27 M2027,2880 l27,-5 M2034,2888 l-10,-21 M2034,2888 l-2,-22 M2034,2888 l-23,0 M2034,2888 l-6,17 M2034,2888 l4,27 M2034,2888 l-0,16 M2034,2888 l7,-20 M1944,2893 l26,-11 M1944,2893 l-27,23 M1944,2893 l18,-13 M1944,2893 l21,21 M1944,2893 l16,-24 M1944,2893 l5,-24 M1944,2893 l-16,-14 M1983,2912 l-20,13 M1983,2912 l-18,16 M1983,2912 l7,-18 M1983,2912 l6,20 M1983,2912 l27,-5 M1983,2912 l32,11 M1983,2912 l24,-24 M1869,2910 l-20,25 M1869,2910 l-6,17 M1869,2910 l23,-26 M1869,2910 l9,34 M1869,2910 l22,3 M1869,2910 l19,2 M1869,2910 l16,27 M1742,2967 l-6,19 M1742,2967 l9,20 M1742,2967 l19,-22 M1742,2967 l25,18 M1742,2967 l-25,-6 M1742,2967 l-30,-5 M1742,2967 l8,-25 M1885,2980 l-17,-19 M1885,2980 l-16,-18 M1885,2980 l-23,14 M1885,2980 l-5,-21 M1885,2980 l23,-12 M1885,2980 l19,-24 M1885,2980 l30,-8 M1858,3008 l-22,11 M1858,3008 l-25,-20 M1858,3008 l10,-15 M1858,3008 l16,7 M1858,3008 l14,8 M1858,3008 l21,1 M1858,3008 l23,20 M1950,3006 l-28,-25 M1950,3006 l31,-8 M1950,3006 l15,-5 M1950,3006 l5,36 M1950,3006 l-20,3 M1950,3006 l1,-25 M1950,3006 l-21,-6 M2056,3000 l1,17 M2056,3000 l-29,-23 M2056,3000 l32,-3 M2056,3000 l21,-9 M2056,3000 l-11,35 M2056,3000 l-25,-18 M2056,3000 l20,2 M2009,3072 l-32,4 M2009,3072 l15,-29 M2009,3072 l-13,20 M2009,3072 l24,-29 M2009,3072 l-19,2 M2009,3072 l-19,-19 M2009,3072 l-13,16 M2040,3094 l-22,19 M2040,3094 l19,20 M2040,3094 l31,-9 M2040,3094 l-0,25 M2040,3094 l26,19 M2040,3094 l-13,-14 M2040,3094 l-27,-9 M2130,3107 l-21,-11 M2130,3107 l-9,22 M2130,3107 l23,-0 M2130,3107 l-26,-0 M2130,3107 l11,21 M2130,3107 l6,22 M2130,3107 l-15,17 M2010,3129 l20,-8 M2010,3129 l-15,26 M2010,3129 l-21,16 M2010,3129 l-10,-13 M2010,3129 l-8,-15 M2010,3129 l-0,34 M2010,3129 l30,-2 M2040,3129 l12,22 M2040,3129 l-7,34 M2040,3129 l2,19 M2040,3129 l-19,-23 M2040,3129 l-22,-14 M2040,3129 l25,-6 M2040,3129 l22,-9 M1730,3160 l-23,5 M1730,3160 l-7,-32 M1730,3160 l2,27 M1730,3160 l-4,-26 M1730,3160 l-15,-25 M1730,3160 l-5,-23 M1730,3160 l-5,15 M2169,2711 l26,-21 M2169,2711 l-29,24 M2169,2711 l15,-11 M2169,2711 l13,-21 M2169,2711 l-8,19 M2169,2711 l-14,8 M2169,2711 l17,6 M2060,3262 l-7,17 M2060,3262 l25,24 M2060,3262 l-19,18 M2060,3262 l-29,-22 M2060,3262 l12,16 M2060,3262 l23,-28 M2060,3262 l25,-11" stroke="#c02020" stroke-width="1.1" fill="none" opacity="0.55"/>
<path d="M1642.1,2536.0 L1660.5,2576.6" stroke="#fff" stroke-width="3.1" fill="none" stroke-dasharray="10.5 4.5"/>
<path d="M1629.2,2583.9 C1634.4,2583.0 1637.2,2582.7 1660.5,2578.4 C1683.8,2574.1 1751.1,2561.5 1769.2,2558.1" stroke="#fff" stroke-width="3.1" fill="none" stroke-dasharray="10.5 4.5"/>
<path d="M1761.8,2536.0 L1782.1,2578.4" stroke="#fff" stroke-width="3.1" fill="none" stroke-dasharray="10.5 4.5"/>
<path d="M1629.2,2604.2 L1778.4,2729.4" stroke="#fff" stroke-width="3.1" fill="none" stroke-dasharray="10.5 4.5"/>
<path d="M1793.1,2536.0 C1791.3,2542.8 1784.8,2560.0 1782.1,2576.6 C1779.3,2593.1 1777.1,2613.4 1776.5,2635.5 C1775.9,2657.6 1775.6,2684.6 1778.4,2709.1 C1781.1,2733.7 1786.3,2758.3 1793.1,2782.8 C1799.9,2807.4 1808.4,2831.9 1818.9,2856.5 C1829.3,2881.0 1843.4,2909.9 1855.7,2930.1 C1868.0,2950.4 1879.6,2963.3 1892.5,2978.0 C1905.4,2992.7 1920.2,3006.9 1933.1,3018.5 C1945.9,3030.2 1957.6,3040.3 1969.9,3048.0 C1982.2,3055.7 1994.4,3060.9 2006.7,3064.6 C2019.0,3068.2 2028.2,3070.4 2043.5,3070.1 C2058.9,3069.8 2083.4,3066.4 2098.8,3062.7 C2114.1,3059.0 2123.3,3052.0 2135.6,3048.0 C2147.9,3044.0 2160.2,3040.0 2172.4,3038.8 C2184.7,3037.5 2193.8,3037.2 2209.3,3040.6 C2224.7,3044.0 2255.9,3056.0 2265.3,3059.0" stroke="#fff" stroke-width="3.1" fill="none" stroke-dasharray="10.5 4.5"/>
<path d="M1629.2,2782.8 C1639.9,2787.1 1670.6,2800.6 1693.7,2808.6 C1716.7,2816.6 1747.1,2825.2 1767.3,2830.7 C1787.6,2836.2 1807.2,2839.9 1815.2,2841.7" stroke="#fff" stroke-width="3.1" fill="none" stroke-dasharray="10.5 4.5"/>
<path d="M1870.4,2560.0 C1866.8,2560.9 1854.2,2560.3 1848.3,2565.5 C1842.5,2570.7 1838.8,2579.6 1835.5,2591.3 C1832.1,2603.0 1829.0,2618.9 1828.1,2635.5 C1827.2,2652.1 1827.2,2672.3 1829.9,2690.7 C1832.7,2709.1 1839.1,2730.0 1844.7,2746.0 C1850.2,2761.9 1857.6,2775.4 1863.1,2786.5 C1868.6,2797.5 1872.9,2804.3 1877.8,2812.3 C1882.7,2820.3 1883.3,2828.2 1892.5,2834.4 C1901.7,2840.5 1917.1,2845.1 1933.1,2849.1 C1949.0,2853.1 1969.9,2857.1 1988.3,2858.3 C2006.7,2859.5 2027.6,2859.2 2043.5,2856.5 C2059.5,2853.7 2073.0,2849.1 2084.1,2841.7 C2095.1,2834.4 2103.1,2825.2 2109.8,2812.3 C2116.6,2799.4 2121.5,2781.6 2124.6,2764.4 C2127.6,2747.2 2127.8,2724.5 2128.2,2709.1 C2128.7,2693.8 2127.6,2678.5 2127.5,2672.3" stroke="#fff" stroke-width="3.1" fill="none" stroke-dasharray="10.5 4.5"/>
<path d="M1872.3,2803.1 C1879.3,2802.8 1901.4,2803.4 1914.6,2801.2 C1927.8,2799.1 1940.4,2795.7 1951.5,2790.2 C1962.5,2784.6 1973.0,2777.9 1980.9,2768.1 C1988.9,2758.3 1995.7,2747.2 1999.3,2731.2 C2003.0,2715.3 2003.0,2693.2 2003.0,2672.3 C2003.0,2651.4 2000.0,2617.1 1999.3,2606.0" stroke="#fff" stroke-width="3.1" fill="none" stroke-dasharray="10.5 4.5"/>
<path d="M1934.9,2595.0 C1935.2,2607.9 1938.3,2649.6 1936.7,2672.3 C1935.2,2695.0 1930.0,2714.1 1925.7,2731.2 C1921.4,2748.4 1915.3,2763.8 1911.0,2775.4 C1906.7,2787.1 1901.7,2796.9 1899.9,2801.2" stroke="#fff" stroke-width="3.1" fill="none" stroke-dasharray="10.5 4.5"/>
<path d="M1877.8,2816.0 C1881.5,2822.7 1891.9,2843.0 1899.9,2856.5 C1907.9,2870.0 1915.9,2885.9 1925.7,2897.0 C1935.5,2908.0 1948.4,2916.0 1958.8,2922.8 C1969.3,2929.5 1978.2,2933.8 1988.3,2937.5 C1998.4,2941.2 2014.4,2943.6 2019.6,2944.9" stroke="#fff" stroke-width="3.1" fill="none" stroke-dasharray="10.5 4.5"/>
<path d="M2019.6,2944.9 L2265.3,2944.9" stroke="#fff" stroke-width="3.1" fill="none" stroke-dasharray="10.5 4.5"/>
<path d="M1892.5,2955.9 C1899.3,2954.7 1917.1,2948.2 1933.1,2948.5 C1949.0,2948.8 1971.1,2957.1 1988.3,2957.7 C2005.5,2958.4 2024.5,2951.0 2036.2,2952.2 C2047.8,2953.5 2056.4,2961.1 2058.3,2965.1 C2060.1,2969.1 2055.8,2974.9 2047.2,2976.2 C2038.6,2977.4 2019.6,2974.3 2006.7,2972.5 C1993.8,2970.6 1982.2,2968.2 1969.9,2965.1 C1957.6,2962.0 1939.2,2955.9 1933.1,2954.1" stroke="#fff" stroke-width="3.1" fill="none" stroke-dasharray="10.5 4.5"/>
<path d="M2093.3,2536.0 C2093.3,2543.4 2091.7,2566.1 2093.3,2580.2 C2094.8,2594.4 2097.3,2606.6 2102.5,2620.8 C2107.7,2634.9 2117.2,2653.3 2124.6,2665.0 C2131.9,2676.6 2139.3,2684.0 2146.7,2690.7 C2154.0,2697.5 2165.1,2703.0 2168.8,2705.5" stroke="#fff" stroke-width="3.1" fill="none" stroke-dasharray="10.5 4.5"/>
<path d="M2251.6,2536.0 C2250.7,2543.4 2250.7,2561.8 2246.1,2580.2 C2241.5,2598.7 2232.6,2628.7 2224.0,2646.5 C2215.4,2664.3 2203.8,2677.2 2194.5,2687.1 C2185.3,2696.9 2173.1,2702.4 2168.8,2705.5" stroke="#fff" stroke-width="3.1" fill="none" stroke-dasharray="10.5 4.5"/>
<path d="M2214.8,2657.6 C2214.2,2666.2 2211.4,2691.3 2211.1,2709.1 C2210.8,2726.9 2210.2,2747.2 2213.0,2764.4 C2215.7,2781.6 2222.2,2801.2 2227.7,2812.3 C2233.2,2823.3 2243.0,2827.6 2246.1,2830.7" stroke="#fff" stroke-width="3.1" fill="none" stroke-dasharray="10.5 4.5"/>
<path d="M1634.7,3164.0 C1639.6,3160.0 1651.3,3149.0 1664.2,3140.1 C1677.1,3131.2 1694.9,3119.2 1712.1,3110.6 C1729.3,3102.0 1748.9,3094.6 1767.3,3088.5 C1785.7,3082.4 1804.1,3077.6 1822.6,3073.8 C1841.0,3070.0 1858.8,3067.4 1877.8,3065.7 C1896.8,3063.9 1926.9,3063.8 1936.7,3063.5" stroke="#fff" stroke-width="3.1" fill="none" stroke-dasharray="10.5 4.5"/>
<path d="M1936.7,3063.5 C1938.0,3061.5 1938.0,3054.7 1944.1,3051.7 C1950.2,3048.6 1968.7,3046.1 1973.6,3045.0" stroke="#fff" stroke-width="3.1" fill="none" stroke-dasharray="10.5 4.5"/>
<path d="M2080.4,3173.9 C2085.3,3169.5 2099.4,3153.7 2109.8,3147.4 C2120.3,3141.2 2131.3,3137.9 2143.0,3136.4 C2154.6,3134.8 2168.8,3135.1 2179.8,3138.2 C2190.9,3141.3 2200.7,3148.8 2209.3,3154.8 C2217.9,3160.7 2227.7,3170.7 2231.4,3173.9" stroke="#fff" stroke-width="3.1" fill="none" stroke-dasharray="10.5 4.5"/>
<path d="M1872.3,2561.8 C1872.6,2558.8 1872.0,2548.0 1874.1,2543.4 C1876.3,2538.8 1880.9,2533.6 1885.2,2534.2 C1889.5,2534.8 1893.8,2541.3 1899.9,2547.1 C1906.0,2552.9 1913.4,2562.1 1922.0,2569.2 C1930.6,2576.3 1941.6,2584.5 1951.5,2589.5 C1961.3,2594.4 1971.7,2597.2 1980.9,2598.7 C1990.1,2600.1 1997.5,2600.4 2006.7,2597.9 C2015.9,2595.5 2027.0,2589.9 2036.2,2583.9 C2045.4,2577.9 2053.4,2570.1 2062.0,2561.8 C2070.5,2553.5 2083.4,2538.8 2087.7,2534.2" stroke="#fff" stroke-width="4.2" fill="none" />
<path d="M1872.3,2561.8 C1876.9,2563.1 1890.4,2564.9 1899.9,2569.2 C1909.4,2573.5 1918.9,2582.1 1929.4,2587.6 C1939.8,2593.1 1951.5,2599.3 1962.5,2602.3 C1973.6,2605.4 1985.2,2606.3 1995.7,2606.0 C2006.1,2605.7 2016.5,2603.6 2025.1,2600.5 C2033.7,2597.4 2043.5,2589.8 2047.2,2587.6" stroke="#fff" stroke-width="4.2" fill="none" />
<path d="M2109.8,2532.4 C2092.0,2535.4 2120.9,2546.2 2128.2,2550.8 C2135.6,2555.4 2144.8,2558.5 2154.0,2560.0 C2163.2,2561.5 2173.1,2562.1 2183.5,2560.0 C2193.9,2557.8 2208.0,2551.7 2216.6,2547.1 C2225.2,2542.5 2252.9,2534.8 2235.1,2532.4 C2217.3,2529.9 2127.6,2529.3 2109.8,2532.4 Z" stroke="#fff" stroke-width="3.6" fill="#000" />
</g>
<text x="1841.0" y="2666.8" font-size="39.5" fill="#fff" text-anchor="start" font-weight="normal" >MDL</text>
<text x="1922.0" y="2746.0" font-size="39.5" fill="#fff" text-anchor="start" font-weight="normal" >MDC</text>
<text x="1973.6" y="2830.7" font-size="39.5" fill="#fff" text-anchor="start" font-weight="normal" >MDM</text>
<text x="2144.8" y="2620.8" font-size="39.5" fill="#fff" text-anchor="start" font-weight="normal" >PV</text>
<text x="2152.2" y="2834.4" font-size="39.5" fill="#fff" text-anchor="start" font-weight="normal" >IM</text>
<text x="1784.6" y="2962.5" font-size="39.5" fill="#fff" text-anchor="start" font-weight="normal" >VL</text>
<text x="2142.2" y="2997.5" font-size="39.5" fill="#fff" text-anchor="start" font-weight="normal" >CM</text>
<rect x="1646.5" y="3146.5" width="168.5" height="9.0" fill="#fff" /></g>
<g id="ph"><text x="1523" y="3291" font-size="62" fill="#000" text-anchor="start" font-weight="bold" >H</text>
<defs><clipPath id="cH"><rect x="1629" y="3249" width="636.5" height="539"/></clipPath><filter id="hb1" x="-100%" y="-100%" width="300%" height="300%"><feGaussianBlur stdDeviation="20"/></filter><filter id="hb2" x="-100%" y="-100%" width="300%" height="300%"><feGaussianBlur stdDeviation="1.6"/></filter></defs>
<rect x="1629" y="3249" width="636.5" height="539" fill="#000" />
<g clip-path="url(#cH)">
<path d="M2126.4,3246.0 C2132.2,3252.2 2150.0,3268.8 2161.4,3282.9 C2172.8,3297.0 2185.3,3314.2 2194.5,3330.8 C2203.8,3347.3 2210.4,3365.1 2216.6,3382.3 C2222.9,3399.5 2227.8,3415.5 2232.1,3433.9 C2236.4,3452.3 2239.6,3473.8 2242.4,3492.8 C2245.2,3511.8 2247.6,3529.6 2249.1,3548.1 C2250.5,3566.5 2252.4,3584.9 2251.3,3603.3 C2250.2,3621.7 2246.4,3640.7 2242.4,3658.5 C2238.5,3676.3 2233.2,3693.5 2227.7,3710.1 C2222.2,3726.7 2214.5,3744.5 2209.3,3758.0 C2204.1,3771.5 2198.5,3785.6 2196.4,3791.1 L1629,3790 L1629,3249 Z" stroke="none" stroke-width="0" fill="#1c0504" />
<path d="M1629.2,3351.0 C1639.9,3351.9 1670.6,3351.9 1693.7,3356.5 C1716.7,3361.1 1742.8,3368.8 1767.3,3378.6 C1791.9,3388.5 1821.3,3403.2 1841.0,3415.5 C1860.6,3427.7 1871.7,3438.2 1885.2,3452.3 C1898.7,3466.4 1912.2,3484.2 1922.0,3500.2 C1931.8,3516.1 1938.9,3533.9 1944.1,3548.1 C1949.3,3562.2 1952.1,3573.8 1953.3,3584.9 C1954.5,3595.9 1953.6,3604.5 1951.5,3614.3 C1949.3,3624.2 1944.7,3633.4 1940.4,3643.8 C1936.1,3654.2 1930.6,3665.3 1925.7,3677.0 C1920.8,3688.6 1914.6,3701.5 1911.0,3713.8 C1907.3,3726.1 1905.4,3738.2 1903.6,3750.6 C1901.7,3763.0 1900.5,3781.9 1899.9,3788.2 L1899.9,3800 L1629,3800 L1629,3351.0 Z" stroke="none" stroke-width="0" fill="#0d0201" />
<path d="M1629.2,3498.3 C1631.4,3495.0 1635.7,3483.9 1642.1,3478.1 C1648.5,3472.2 1656.2,3467.6 1667.9,3463.3 C1679.5,3459.0 1695.5,3453.5 1712.1,3452.3 C1728.6,3451.1 1750.7,3452.9 1767.3,3456.0 C1783.9,3459.0 1796.8,3463.3 1811.5,3470.7 C1826.2,3478.1 1843.4,3489.1 1855.7,3500.2 C1868.0,3511.2 1876.9,3523.5 1885.2,3537.0 C1893.5,3550.5 1900.8,3567.1 1905.4,3581.2 C1910.0,3595.3 1911.9,3610.0 1912.8,3621.7 C1913.7,3633.4 1913.1,3640.7 1911.0,3651.2 C1908.8,3661.6 1903.9,3672.7 1899.9,3684.3 C1895.9,3696.0 1890.1,3708.9 1887.0,3721.2 C1883.9,3733.4 1881.5,3748.2 1881.5,3758.0 C1881.5,3767.8 1884.9,3774.6 1887.0,3780.1 C1889.2,3785.6 1893.2,3789.3 1894.4,3791.1 L1894.4,3800 L1629,3800 L1629,3498.3 Z" stroke="none" stroke-width="0" fill="#150302" />
<ellipse cx="2080.4" cy="3419.1" rx="74" ry="96" fill="#8a1010" opacity="0.22" filter="url(#hb1)"/>
<ellipse cx="2143.0" cy="3537.0" rx="66" ry="92" fill="#8a1010" opacity="0.35" filter="url(#hb1)"/>
<ellipse cx="2117.2" cy="3677.0" rx="110" ry="74" fill="#8a1010" opacity="0.15" filter="url(#hb1)"/>
<g fill="#ff3030" filter="url(#hb2)"><circle cx="2010.4" cy="3341.8" r="2.4"/><circle cx="2028.8" cy="3373.1" r="3.2"/><circle cx="2058.3" cy="3397.1" r="3.1"/><circle cx="2067.5" cy="3408.1" r="2.9"/><circle cx="2087.7" cy="3446.8" r="2.5"/><circle cx="2052.7" cy="3470.7" r="3.3"/><circle cx="2106.2" cy="3485.4" r="3.3"/><circle cx="2095.1" cy="3503.9" r="2.9"/><circle cx="2117.2" cy="3511.2" r="2.9"/><circle cx="2139.3" cy="3452.3" r="2.5"/><circle cx="2161.4" cy="3448.6" r="2.2"/><circle cx="2150.3" cy="3492.8" r="2.7"/><circle cx="2165.1" cy="3514.9" r="3.0"/><circle cx="2172.4" cy="3540.7" r="2.3"/><circle cx="2128.2" cy="3548.1" r="3.3"/><circle cx="2113.5" cy="3581.2" r="2.5"/><circle cx="2135.6" cy="3588.6" r="2.5"/><circle cx="2172.4" cy="3584.9" r="2.3"/><circle cx="2084.1" cy="3559.1" r="3.6"/><circle cx="2205.6" cy="3511.2" r="3.2"/><circle cx="2098.8" cy="3362.1" r="3.4"/></g>
<g fill="#f02828" opacity="0.95"><circle cx="2114" cy="3500" r="1.8"/><circle cx="2140" cy="3527" r="2.3"/><circle cx="2113" cy="3552" r="1.3"/><circle cx="2180" cy="3496" r="1.7"/><circle cx="2116" cy="3514" r="1.4"/><circle cx="2166" cy="3531" r="2.2"/><circle cx="2136" cy="3527" r="2.4"/><circle cx="2153" cy="3506" r="2.1"/><circle cx="2139" cy="3467" r="1.3"/><circle cx="2110" cy="3527" r="2.2"/><circle cx="2154" cy="3591" r="1.7"/><circle cx="2115" cy="3551" r="1.7"/><circle cx="2111" cy="3548" r="1.2"/><circle cx="2136" cy="3523" r="2.1"/><circle cx="2173" cy="3520" r="1.9"/><circle cx="2136" cy="3521" r="1.5"/><circle cx="2103" cy="3490" r="1.4"/><circle cx="2143" cy="3539" r="1.6"/><circle cx="2158" cy="3509" r="1.6"/><circle cx="2164" cy="3548" r="1.3"/><circle cx="2138" cy="3516" r="2.0"/><circle cx="2122" cy="3489" r="2.3"/><circle cx="2214" cy="3497" r="2.4"/><circle cx="2090" cy="3487" r="2.3"/><circle cx="2118" cy="3523" r="2.3"/><circle cx="2145" cy="3540" r="1.3"/><circle cx="2138" cy="3516" r="2.2"/><circle cx="2171" cy="3537" r="1.5"/><circle cx="2131" cy="3543" r="1.3"/><circle cx="2131" cy="3532" r="2.3"/><circle cx="2137" cy="3522" r="1.5"/><circle cx="2171" cy="3511" r="1.8"/><circle cx="2133" cy="3496" r="2.2"/><circle cx="2137" cy="3518" r="2.3"/><circle cx="2105" cy="3495" r="2.2"/><circle cx="2129" cy="3544" r="1.8"/><circle cx="2136" cy="3523" r="2.0"/><circle cx="2140" cy="3521" r="1.2"/><circle cx="2103" cy="3496" r="1.9"/><circle cx="2133" cy="3582" r="1.7"/></g>
<g fill="#f02828" opacity="0.95"><circle cx="2165" cy="3562" r="1.3"/><circle cx="2160" cy="3573" r="1.2"/><circle cx="2123" cy="3583" r="2.0"/><circle cx="2182" cy="3610" r="1.8"/><circle cx="2146" cy="3591" r="1.4"/><circle cx="2154" cy="3567" r="1.7"/><circle cx="2152" cy="3555" r="2.1"/><circle cx="2156" cy="3564" r="2.1"/><circle cx="2161" cy="3524" r="1.3"/><circle cx="2154" cy="3564" r="1.4"/><circle cx="2154" cy="3565" r="1.6"/><circle cx="2193" cy="3582" r="1.7"/><circle cx="2148" cy="3591" r="1.8"/><circle cx="2142" cy="3561" r="2.3"/><circle cx="2174" cy="3588" r="2.1"/><circle cx="2172" cy="3561" r="1.6"/><circle cx="2144" cy="3520" r="1.3"/><circle cx="2156" cy="3559" r="2.4"/><circle cx="2133" cy="3607" r="1.3"/><circle cx="2220" cy="3618" r="1.3"/><circle cx="2155" cy="3564" r="1.9"/><circle cx="2182" cy="3572" r="2.0"/><circle cx="2130" cy="3580" r="1.7"/><circle cx="2154" cy="3571" r="1.3"/><circle cx="2153" cy="3567" r="2.2"/><circle cx="2147" cy="3506" r="1.7"/><circle cx="2156" cy="3600" r="2.0"/><circle cx="2173" cy="3560" r="1.3"/><circle cx="2113" cy="3574" r="2.3"/><circle cx="2154" cy="3563" r="2.0"/><circle cx="2155" cy="3529" r="2.0"/><circle cx="2136" cy="3505" r="1.5"/><circle cx="2177" cy="3546" r="2.2"/><circle cx="2177" cy="3559" r="2.4"/><circle cx="2163" cy="3567" r="1.7"/><circle cx="2167" cy="3591" r="1.9"/><circle cx="2172" cy="3581" r="2.1"/><circle cx="2097" cy="3587" r="1.3"/><circle cx="2159" cy="3564" r="1.6"/><circle cx="2143" cy="3547" r="2.0"/></g>
<g fill="#f02828" opacity="0.95"><circle cx="2072" cy="3442" r="1.5"/><circle cx="2075" cy="3404" r="1.4"/><circle cx="2070" cy="3398" r="1.5"/><circle cx="2058" cy="3443" r="2.3"/><circle cx="2053" cy="3421" r="1.5"/><circle cx="2077" cy="3429" r="1.7"/><circle cx="2071" cy="3446" r="1.2"/><circle cx="2087" cy="3334" r="2.3"/><circle cx="2068" cy="3372" r="1.2"/><circle cx="2071" cy="3409" r="2.0"/><circle cx="2074" cy="3456" r="1.3"/><circle cx="2073" cy="3414" r="1.7"/><circle cx="2078" cy="3404" r="2.2"/><circle cx="2076" cy="3399" r="1.8"/></g>
<g fill="#e02525" opacity="0.9"><circle cx="2148" cy="3702" r="1.6"/><circle cx="2130" cy="3750" r="1.8"/><circle cx="2204" cy="3605" r="1.0"/><circle cx="2048" cy="3668" r="1.1"/><circle cx="2119" cy="3694" r="1.2"/><circle cx="2250" cy="3732" r="1.8"/><circle cx="2063" cy="3666" r="1.8"/><circle cx="2083" cy="3734" r="1.3"/><circle cx="2096" cy="3715" r="1.9"/><circle cx="2219" cy="3729" r="1.1"/><circle cx="2093" cy="3694" r="1.3"/><circle cx="2163" cy="3708" r="1.0"/><circle cx="2065" cy="3697" r="1.2"/><circle cx="2206" cy="3742" r="1.9"/><circle cx="2012" cy="3677" r="1.7"/><circle cx="2048" cy="3688" r="1.1"/><circle cx="2120" cy="3692" r="1.4"/><circle cx="2094" cy="3692" r="1.6"/><circle cx="2129" cy="3711" r="1.2"/><circle cx="2174" cy="3642" r="1.8"/><circle cx="2138" cy="3686" r="1.8"/><circle cx="2161" cy="3674" r="1.5"/><circle cx="2186" cy="3664" r="1.9"/><circle cx="2132" cy="3691" r="1.8"/><circle cx="2187" cy="3699" r="1.6"/><circle cx="2121" cy="3631" r="1.6"/><circle cx="2167" cy="3751" r="1.9"/><circle cx="2129" cy="3725" r="2.0"/><circle cx="2096" cy="3690" r="1.9"/><circle cx="2028" cy="3768" r="1.1"/><circle cx="2079" cy="3713" r="1.8"/><circle cx="2056" cy="3745" r="1.1"/><circle cx="2214" cy="3707" r="1.0"/><circle cx="2091" cy="3664" r="1.2"/><circle cx="2189" cy="3735" r="1.9"/><circle cx="2072" cy="3693" r="1.1"/><circle cx="2124" cy="3770" r="1.8"/><circle cx="2118" cy="3657" r="1.7"/></g>
<g fill="#e02525" opacity="0.9"><circle cx="1988" cy="3771" r="1.5"/><circle cx="1987" cy="3741" r="1.5"/><circle cx="1920" cy="3744" r="1.6"/><circle cx="1994" cy="3688" r="1.7"/><circle cx="1984" cy="3651" r="1.4"/><circle cx="1990" cy="3714" r="1.7"/><circle cx="1883" cy="3616" r="1.2"/><circle cx="1997" cy="3817" r="1.7"/></g>
<path d="M2169.7,3343.2 l7,-9 M2111.1,3388.8 l11,-14 M2123.1,3330.8 l13,-16 M2141.3,3371.1 l15,-19 M2161.6,3328.9 l9,-12 M2165.6,3384.3 l15,-19 M2088.3,3391.6 l15,-19 M2072.2,3320.0 l13,-16 M2081.3,3389.4 l9,-12 M2152.4,3318.4 l9,-11 M2089.4,3345.2 l13,-17 M2090.8,3370.2 l10,-13 M2148.0,3328.0 l9,-11 M2080.7,3286.9 l13,-17 M2116.8,3295.5 l15,-19 M2148.8,3282.0 l14,-17 M2140.8,3338.0 l11,-14 M2189.5,3328.8 l13,-16 M2146.2,3327.7 l10,-13 M2162.1,3363.5 l11,-14 M2130.1,3308.8 l14,-18 M2064.6,3364.5 l11,-14 M2091.3,3357.0 l12,-15 M2073.5,3344.2 l8,-11 M2167.9,3322.5 l10,-12 M2090.5,3285.6 l9,-11" stroke="#a01818" stroke-width="1.1" fill="none" opacity="0.55"/>
<path d="M2130.1,3249.0 C2135.9,3253.4 2153.1,3264.6 2165.1,3275.5 C2177.0,3286.4 2191.5,3300.7 2201.9,3314.2 C2212.3,3327.7 2220.3,3341.5 2227.7,3356.5 C2235.1,3371.6 2241.5,3387.8 2246.1,3404.4 C2250.7,3421.0 2253.2,3438.2 2255.3,3456.0 C2257.5,3473.8 2258.7,3492.8 2259.0,3511.2 C2259.3,3529.6 2258.4,3549.9 2257.2,3566.5 C2255.9,3583.0 2254.1,3595.3 2251.6,3610.7 C2249.2,3626.0 2246.4,3642.0 2242.4,3658.5 C2238.4,3675.1 2233.2,3693.5 2227.7,3710.1 C2222.2,3726.7 2214.5,3745.0 2209.3,3758.0 C2204.1,3771.0 2198.5,3783.1 2196.4,3788.2" stroke="#fff" stroke-width="3.2" fill="none" />
<path d="M1629.2,3351.0 C1639.9,3351.9 1670.6,3351.9 1693.7,3356.5 C1716.7,3361.1 1742.8,3368.8 1767.3,3378.6 C1791.9,3388.5 1821.3,3403.2 1841.0,3415.5 C1860.6,3427.7 1871.7,3438.2 1885.2,3452.3 C1898.7,3466.4 1912.2,3484.2 1922.0,3500.2 C1931.8,3516.1 1938.9,3533.9 1944.1,3548.1 C1949.3,3562.2 1952.1,3573.8 1953.3,3584.9 C1954.5,3595.9 1953.6,3604.5 1951.5,3614.3 C1949.3,3624.2 1944.7,3633.4 1940.4,3643.8 C1936.1,3654.2 1930.6,3665.3 1925.7,3677.0 C1920.8,3688.6 1914.6,3701.5 1911.0,3713.8 C1907.3,3726.1 1905.4,3738.2 1903.6,3750.6 C1901.7,3763.0 1900.5,3781.9 1899.9,3788.2" stroke="#fff" stroke-width="2.7" fill="none" />
<path d="M1629.2,3498.3 C1631.4,3495.0 1635.7,3483.9 1642.1,3478.1 C1648.5,3472.2 1656.2,3467.6 1667.9,3463.3 C1679.5,3459.0 1695.5,3453.5 1712.1,3452.3 C1728.6,3451.1 1750.7,3452.9 1767.3,3456.0 C1783.9,3459.0 1796.8,3463.3 1811.5,3470.7 C1826.2,3478.1 1843.4,3489.1 1855.7,3500.2 C1868.0,3511.2 1876.9,3523.5 1885.2,3537.0 C1893.5,3550.5 1900.8,3567.1 1905.4,3581.2 C1910.0,3595.3 1911.9,3610.0 1912.8,3621.7 C1913.7,3633.4 1913.1,3640.7 1911.0,3651.2 C1908.8,3661.6 1903.9,3672.7 1899.9,3684.3 C1895.9,3696.0 1890.1,3708.9 1887.0,3721.2 C1883.9,3733.4 1881.5,3748.2 1881.5,3758.0 C1881.5,3767.8 1884.9,3774.6 1887.0,3780.1 C1889.2,3785.6 1893.2,3789.3 1894.4,3791.1" stroke="#fff" stroke-width="2.7" fill="none" />
<path d="M1627.4,3497.2 C1630.4,3494.3 1639.0,3484.3 1645.8,3479.9 C1652.5,3475.5 1664.2,3472.2 1667.9,3470.7" stroke="#fff" stroke-width="5" fill="none" stroke-linecap="round"/>
<path d="M1655.0,3249.0 L1642.1,3351.0" stroke="#fff" stroke-width="2.2" fill="none" stroke-dasharray="8 3.5"/>
<path d="M1993.8,3249.0 L1842.8,3415.5" stroke="#fff" stroke-width="2.2" fill="none" stroke-dasharray="8 3.5"/>
<path d="M1951.5,3614.3 L2253.5,3610.7" stroke="#fff" stroke-width="2.2" fill="none" stroke-dasharray="8 3.5"/>
<path d="M1992.0,3651.2 L2235.1,3677.0" stroke="#fff" stroke-width="2.2" fill="none" stroke-dasharray="8 3.5"/>
<path d="M2003.0,3700.9 L2216.6,3739.6" stroke="#fff" stroke-width="2.2" fill="none" stroke-dasharray="8 3.5"/>
<path d="M1993.8,3754.3 L2095.1,3788.2" stroke="#fff" stroke-width="2.2" fill="none" stroke-dasharray="8 3.5"/>
<path d="M1945.9,3643.8 C1949.3,3643.5 1959.1,3640.1 1966.2,3642.0 C1973.3,3643.8 1982.8,3647.8 1988.3,3654.9 C1993.8,3661.9 1997.2,3672.7 1999.3,3684.3 C2001.5,3696.0 2002.4,3712.6 2001.2,3724.8 C2000.0,3737.1 1995.7,3747.4 1992.0,3758.0 C1988.3,3768.5 1981.2,3783.1 1979.1,3788.2" stroke="#fff" stroke-width="2.2" fill="none" stroke-dasharray="8 3.5"/>
</g>
<text x="1944.1" y="3450.5" font-size="39.5" fill="#fff" text-anchor="start" font-weight="normal" >SS</text>
<text x="1708.4" y="3643.8" font-size="39.5" fill="#fff" text-anchor="start" font-weight="normal" >CPu</text>
<text x="2047.2" y="3647.5" font-size="39.5" fill="#fff" text-anchor="start" font-weight="normal" >GI</text>
<text x="2074.8" y="3702.7" font-size="39.5" fill="#fff" text-anchor="start" font-weight="normal" >DI</text>
<text x="1928.6" y="3723.0" font-size="39.5" fill="#fff" text-anchor="start" font-weight="normal" >CL</text>
<text x="2061.2" y="3770.9" font-size="39.5" fill="#fff" text-anchor="start" font-weight="normal" >AID</text>
<rect x="1646.5" y="3761.5" width="125.2" height="9.5" fill="#fff" /></g>
<g id="pi"><text x="2474" y="2578" font-size="62" fill="#000" text-anchor="start" font-weight="bold" >I</text>
<defs><clipPath id="cI"><rect x="2544" y="2533" width="813.5" height="642"/></clipPath><filter id="ib1" x="-100%" y="-100%" width="300%" height="300%"><feGaussianBlur stdDeviation="16"/></filter><filter id="ib2" x="-100%" y="-100%" width="300%" height="300%"><feGaussianBlur stdDeviation="7"/></filter></defs>
<rect x="2544" y="2533" width="813.5" height="642" fill="#000" />
<g clip-path="url(#cI)">
<path d="M2940.2,2594.2 C2936.5,2591.5 2927.9,2583.1 2918.0,2578.1 C2908.2,2573.1 2895.0,2567.7 2881.1,2564.2 C2867.3,2560.8 2852.7,2558.1 2835.0,2557.3 C2817.3,2556.5 2794.2,2556.5 2775.0,2559.6 C2755.7,2562.7 2738.1,2568.5 2719.6,2575.8 C2701.1,2583.1 2681.9,2591.1 2664.2,2603.5 C2646.5,2615.8 2628.1,2632.7 2613.5,2649.6 C2598.8,2666.5 2585.8,2685.8 2576.5,2705.0 C2567.3,2724.2 2561.5,2745.7 2558.1,2765.0 C2554.6,2784.2 2554.6,2801.9 2555.8,2820.4 C2556.9,2838.8 2560.0,2858.0 2565.0,2875.7 C2570.0,2893.4 2578.5,2911.9 2585.8,2926.5 C2593.1,2941.1 2602.7,2954.2 2608.8,2963.4 C2615.0,2972.6 2617.7,2977.6 2622.7,2981.9 C2627.7,2986.1 2633.1,2988.8 2638.8,2988.8 C2644.6,2988.8 2655.4,2980.0 2657.3,2981.9 C2659.2,2983.8 2650.4,2993.4 2650.4,3000.3 C2650.4,3007.3 2652.7,3014.9 2657.3,3023.4 C2661.9,3031.9 2669.2,3041.1 2678.1,3051.1 C2686.9,3061.1 2699.6,3073.4 2710.4,3083.4 C2721.1,3093.4 2731.9,3103.8 2742.7,3111.1 C2753.4,3118.4 2761.9,3121.9 2775.0,3127.2 C2788.0,3132.6 2805.7,3139.9 2821.1,3143.4 C2836.5,3146.9 2853.4,3148.8 2867.3,3148.0 C2881.1,3147.2 2893.4,3144.9 2904.2,3138.8 C2915.0,3132.6 2923.7,3122.6 2931.9,3111.1 C2940.1,3099.6 2950.0,3076.5 2953.6,3069.6 Z" stroke="none" stroke-width="0" fill="#15100a" />
<path d="M2940.2,2594.2 C2943.4,2591.1 2950.2,2581.1 2959.6,2575.8 C2969.0,2570.4 2982.6,2565.4 2996.5,2561.9 C3010.3,2558.5 3023.4,2556.2 3042.6,2555.0 C3061.9,2553.8 3088.8,2553.1 3111.9,2555.0 C3134.9,2556.9 3159.5,2560.8 3181.1,2566.5 C3202.6,2572.3 3222.6,2579.6 3241.1,2589.6 C3259.5,2599.6 3277.2,2611.9 3291.8,2626.5 C3306.5,2641.1 3319.1,2658.8 3328.8,2677.3 C3338.4,2695.8 3345.3,2716.5 3349.5,2737.3 C3353.8,2758.1 3354.5,2781.9 3354.1,2801.9 C3353.8,2821.9 3351.5,2840.4 3347.2,2857.3 C3343.0,2874.2 3334.9,2892.7 3328.8,2903.4 C3322.6,2914.2 3316.5,2918.0 3310.3,2921.9 C3304.1,2925.7 3294.1,2921.9 3291.8,2926.5 C3289.5,2931.1 3297.2,2940.3 3296.5,2949.6 C3295.7,2958.8 3292.6,2971.1 3287.2,2981.9 C3281.8,2992.6 3274.2,3002.6 3264.2,3014.2 C3254.2,3025.7 3241.1,3038.8 3227.2,3051.1 C3213.4,3063.4 3196.5,3077.2 3181.1,3088.0 C3165.7,3098.8 3151.9,3107.2 3134.9,3115.7 C3118.0,3124.2 3096.5,3134.2 3079.6,3138.8 C3062.6,3143.4 3047.3,3144.9 3033.4,3143.4 C3019.6,3141.9 3007.3,3136.5 2996.5,3129.6 C2985.7,3122.6 2976.0,3111.9 2968.8,3101.9 C2961.6,3091.9 2956.1,3074.9 2953.6,3069.6 Z" stroke="none" stroke-width="0" fill="#1a140a" />
<clipPath id="cIR"><path d="M2940.2,2594.2 C2943.4,2591.1 2950.2,2581.1 2959.6,2575.8 C2969.0,2570.4 2982.6,2565.4 2996.5,2561.9 C3010.3,2558.5 3023.4,2556.2 3042.6,2555.0 C3061.9,2553.8 3088.8,2553.1 3111.9,2555.0 C3134.9,2556.9 3159.5,2560.8 3181.1,2566.5 C3202.6,2572.3 3222.6,2579.6 3241.1,2589.6 C3259.5,2599.6 3277.2,2611.9 3291.8,2626.5 C3306.5,2641.1 3319.1,2658.8 3328.8,2677.3 C3338.4,2695.8 3345.3,2716.5 3349.5,2737.3 C3353.8,2758.1 3354.5,2781.9 3354.1,2801.9 C3353.8,2821.9 3351.5,2840.4 3347.2,2857.3 C3343.0,2874.2 3334.9,2892.7 3328.8,2903.4 C3322.6,2914.2 3316.5,2918.0 3310.3,2921.9 C3304.1,2925.7 3294.1,2921.9 3291.8,2926.5 C3289.5,2931.1 3297.2,2940.3 3296.5,2949.6 C3295.7,2958.8 3292.6,2971.1 3287.2,2981.9 C3281.8,2992.6 3274.2,3002.6 3264.2,3014.2 C3254.2,3025.7 3241.1,3038.8 3227.2,3051.1 C3213.4,3063.4 3196.5,3077.2 3181.1,3088.0 C3165.7,3098.8 3151.9,3107.2 3134.9,3115.7 C3118.0,3124.2 3096.5,3134.2 3079.6,3138.8 C3062.6,3143.4 3047.3,3144.9 3033.4,3143.4 C3019.6,3141.9 3007.3,3136.5 2996.5,3129.6 C2985.7,3122.6 2976.0,3111.9 2968.8,3101.9 C2961.6,3091.9 2956.1,3074.9 2953.6,3069.6 Z"/></clipPath><g clip-path="url(#cIR)">
<path d="M2941.1,2594.2 C2968.8,2537.7 3053.4,2549.6 3111.9,2555.0 C3170.3,2560.4 3251.5,2585.4 3291.8,2626.5 C3332.2,2667.7 3354.1,2751.9 3354.1,2801.9 C3354.1,2851.9 3343.0,2916.9 3291.8,2926.5 C3240.7,2936.1 3104.9,2865.0 3047.3,2859.6 C2989.6,2854.2 2963.4,2938.4 2945.7,2894.2 C2928.0,2850.0 2913.4,2650.8 2941.1,2594.2 Z" stroke="none" stroke-width="0" fill="#241a0a" filter="url(#ib1)" opacity="0.9"/>
<ellipse cx="2971.1" cy="2700.4" rx="24" ry="115" fill="#b87410" opacity="0.6" filter="url(#ib1)"/>
<ellipse cx="2957.3" cy="2709.6" rx="10" ry="95" fill="#e09a20" opacity="0.6" filter="url(#ib2)"/>
<ellipse cx="3254.9" cy="2866.5" rx="75" ry="34" fill="#b87410" opacity="0.55" filter="url(#ib1)" transform="rotate(25 3254.9 2866.5)"/>
<ellipse cx="3305.7" cy="2898.8" rx="28" ry="30" fill="#d08a18" opacity="0.6" filter="url(#ib2)"/>
<ellipse cx="3033.4" cy="2598.8" rx="70" ry="30" fill="#8a5a0c" opacity="0.5" filter="url(#ib1)"/>
<ellipse cx="3065.7" cy="3092.6" rx="55" ry="35" fill="#6a4408" opacity="0.3" filter="url(#ib1)"/>
<path d="M2950.3,2585.0 L2978.0,2612.7 L2996.5,2631.1 L3005.7,2624.2 L2989.6,2608.1 Z" stroke="none" stroke-width="0" fill="#050402" />
</g>
<ellipse cx="2634.2" cy="2875.7" rx="36" ry="26" fill="#8a5a0c" opacity="0.35" filter="url(#ib1)"/>
<ellipse cx="2567.3" cy="2908.0" rx="8" ry="20" fill="#b07010" opacity="0.8" filter="url(#ib2)"/>
<path d="M2940.2,2594.2 C2936.5,2591.5 2927.9,2583.1 2918.0,2578.1 C2908.2,2573.1 2895.0,2567.7 2881.1,2564.2 C2867.3,2560.8 2852.7,2558.1 2835.0,2557.3 C2817.3,2556.5 2794.2,2556.5 2775.0,2559.6 C2755.7,2562.7 2738.1,2568.5 2719.6,2575.8 C2701.1,2583.1 2681.9,2591.1 2664.2,2603.5 C2646.5,2615.8 2628.1,2632.7 2613.5,2649.6 C2598.8,2666.5 2585.8,2685.8 2576.5,2705.0 C2567.3,2724.2 2561.5,2745.7 2558.1,2765.0 C2554.6,2784.2 2554.6,2801.9 2555.8,2820.4 C2556.9,2838.8 2560.0,2858.0 2565.0,2875.7 C2570.0,2893.4 2578.5,2911.9 2585.8,2926.5 C2593.1,2941.1 2602.7,2954.2 2608.8,2963.4 C2615.0,2972.6 2617.7,2977.6 2622.7,2981.9 C2627.7,2986.1 2633.1,2988.8 2638.8,2988.8 C2644.6,2988.8 2654.2,2983.0 2657.3,2981.9" stroke="#fff" stroke-width="2.1" fill="none" />
<path d="M2657.3,2981.9 C2656.1,2985.0 2650.4,2993.4 2650.4,3000.3 C2650.4,3007.3 2652.7,3014.9 2657.3,3023.4 C2661.9,3031.9 2669.2,3041.1 2678.1,3051.1 C2686.9,3061.1 2699.6,3073.4 2710.4,3083.4 C2721.1,3093.4 2731.9,3103.8 2742.7,3111.1 C2753.4,3118.4 2761.9,3121.9 2775.0,3127.2 C2788.0,3132.6 2805.7,3139.9 2821.1,3143.4 C2836.5,3146.9 2853.4,3148.8 2867.3,3148.0 C2881.1,3147.2 2893.4,3144.9 2904.2,3138.8 C2915.0,3132.6 2923.7,3122.6 2931.9,3111.1 C2940.1,3099.6 2950.0,3076.5 2953.6,3069.6" stroke="#fff" stroke-width="2.1" fill="none" />
<path d="M2940.2,2594.2 C2943.4,2591.1 2950.2,2581.1 2959.6,2575.8 C2969.0,2570.4 2982.6,2565.4 2996.5,2561.9 C3010.3,2558.5 3023.4,2556.2 3042.6,2555.0 C3061.9,2553.8 3088.8,2553.1 3111.9,2555.0 C3134.9,2556.9 3159.5,2560.8 3181.1,2566.5 C3202.6,2572.3 3222.6,2579.6 3241.1,2589.6 C3259.5,2599.6 3277.2,2611.9 3291.8,2626.5 C3306.5,2641.1 3319.1,2658.8 3328.8,2677.3 C3338.4,2695.8 3345.3,2716.5 3349.5,2737.3 C3353.8,2758.1 3354.5,2781.9 3354.1,2801.9 C3353.8,2821.9 3351.5,2840.4 3347.2,2857.3 C3343.0,2874.2 3334.9,2892.7 3328.8,2903.4 C3322.6,2914.2 3316.5,2918.0 3310.3,2921.9 C3304.1,2925.7 3294.9,2925.7 3291.8,2926.5" stroke="#fff" stroke-width="2.1" fill="none" />
<path d="M3291.8,2926.5 C3292.6,2930.3 3297.2,2940.3 3296.5,2949.6 C3295.7,2958.8 3292.6,2971.1 3287.2,2981.9 C3281.8,2992.6 3274.2,3002.6 3264.2,3014.2 C3254.2,3025.7 3241.1,3038.8 3227.2,3051.1 C3213.4,3063.4 3196.5,3077.2 3181.1,3088.0 C3165.7,3098.8 3151.9,3107.2 3134.9,3115.7 C3118.0,3124.2 3096.5,3134.2 3079.6,3138.8 C3062.6,3143.4 3047.3,3144.9 3033.4,3143.4 C3019.6,3141.9 3007.3,3136.5 2996.5,3129.6 C2985.7,3122.6 2976.0,3111.9 2968.8,3101.9 C2961.6,3091.9 2956.1,3074.9 2953.6,3069.6" stroke="#fff" stroke-width="2.1" fill="none" />
<path d="M2657.3,2981.9 C2662.3,2977.6 2675.4,2966.1 2687.3,2956.5 C2699.2,2946.9 2714.2,2933.8 2728.8,2924.2 C2743.4,2914.6 2759.6,2905.7 2775.0,2898.8 C2790.4,2891.9 2808.0,2886.5 2821.1,2882.7 C2834.2,2878.8 2848.0,2876.9 2853.4,2875.7" stroke="#fff" stroke-width="2.1" fill="none" />
<path d="M3291.8,2926.5 C3285.7,2923.4 3269.5,2915.0 3254.9,2908.0 C3240.3,2901.1 3221.8,2891.5 3204.2,2885.0 C3186.5,2878.4 3168.0,2873.0 3148.8,2868.8 C3129.6,2864.6 3105.7,2861.1 3088.8,2859.6 C3071.9,2858.0 3054.2,2859.6 3047.3,2859.6" stroke="#fff" stroke-width="2.1" fill="none" />
<path d="M2940.2,2594.2 C2941.1,2621.1 2944.0,2698.1 2945.7,2755.7 C2947.4,2813.4 2949.0,2888.0 2950.3,2940.3 C2951.6,2992.6 2953.0,3048.0 2953.6,3069.6" stroke="#fff" stroke-width="2.1" fill="none" />
<path d="M2673.4,3041.9 C2676.5,3042.3 2681.9,3038.0 2691.9,3044.2 C2701.9,3050.3 2719.2,3065.3 2733.4,3078.8 C2747.7,3092.2 2770.0,3117.2 2777.3,3124.9" stroke="#fff" stroke-width="1.4" fill="none" />
<path d="M3266.5,3000.3 C3264.5,3001.5 3263.8,2999.6 3254.9,3007.3 C3246.1,3014.9 3228.8,3032.6 3213.4,3046.5 C3198.0,3060.3 3171.1,3083.0 3162.6,3090.3" stroke="#fff" stroke-width="1.4" fill="none" />
<path d="M2853.4,2875.7 C2854.2,2878.8 2854.2,2889.2 2858.0,2894.2 C2861.9,2899.2 2868.8,2904.6 2876.5,2905.7 C2884.2,2906.9 2891.9,2903.0 2904.2,2901.1 C2916.5,2899.2 2935.0,2894.2 2950.3,2894.2 C2965.7,2894.2 2982.6,2899.6 2996.5,2901.1 C3010.3,2902.7 3024.6,2905.3 3033.4,2903.4 C3042.3,2901.5 3047.3,2896.9 3049.6,2889.6 C3051.9,2882.3 3047.6,2864.6 3047.3,2859.6" stroke="#ddd" stroke-width="1.1" fill="none" stroke-dasharray="4 2"/>
<path d="M2574.2,2705.0 L2726.5,2776.5" stroke="#dcdcdc" stroke-width="1.35" fill="none" stroke-dasharray="4 2"/>
<path d="M2562.7,2838.8 L2719.6,2790.4" stroke="#dcdcdc" stroke-width="1.35" fill="none" stroke-dasharray="4 2"/>
<path d="M2918.0,2585.0 L2818.8,2718.8" stroke="#dcdcdc" stroke-width="1.35" fill="none" stroke-dasharray="4 2"/>
<path d="M2938.8,2624.2 L2830.4,2721.1" stroke="#dcdcdc" stroke-width="1.35" fill="none" stroke-dasharray="4 2"/>
<path d="M2719.6,2790.4 C2720.7,2788.0 2723.4,2782.3 2726.5,2776.5 C2729.6,2770.7 2732.3,2762.3 2738.1,2755.7 C2743.8,2749.2 2751.9,2742.7 2761.1,2737.3 C2770.4,2731.9 2784.2,2726.5 2793.4,2723.4 C2802.7,2720.4 2809.6,2718.1 2816.5,2718.8 C2823.4,2719.6 2829.6,2722.7 2835.0,2728.1 C2840.4,2733.4 2845.4,2741.9 2848.8,2751.1 C2852.3,2760.4 2854.2,2771.1 2855.7,2783.4 C2857.3,2795.7 2858.0,2812.7 2858.0,2825.0 C2858.0,2837.3 2856.5,2848.8 2855.7,2857.3 C2855.0,2865.7 2853.8,2872.7 2853.4,2875.7" stroke="#dcdcdc" stroke-width="1.35" fill="none" stroke-dasharray="4 2"/>
<path d="M2719.6,2790.4 C2716.5,2800.0 2707.3,2826.9 2701.1,2848.0 C2695.0,2869.2 2687.7,2898.0 2682.7,2917.3 C2677.7,2936.5 2673.1,2955.7 2671.1,2963.4" stroke="#dcdcdc" stroke-width="1.35" fill="none" stroke-dasharray="4 2"/>
<path d="M2784.2,2728.1 C2784.8,2740.4 2786.4,2776.1 2787.9,2801.9 C2789.4,2827.7 2792.5,2869.2 2793.4,2882.7" stroke="#dcdcdc" stroke-width="1.35" fill="none" stroke-dasharray="4 2"/>
<path d="M2855.7,2765.0 L2943.4,2759.4" stroke="#dcdcdc" stroke-width="1.35" fill="none" stroke-dasharray="4 2"/>
<path d="M2945.7,2759.4 L3019.6,2753.4" stroke="#dcdcdc" stroke-width="1.35" fill="none" stroke-dasharray="4 2"/>
<path d="M3019.6,2746.5 C3020.3,2742.7 3020.3,2730.7 3024.2,2723.4 C3028.0,2716.1 3034.9,2707.3 3042.6,2702.7 C3050.3,2698.1 3060.3,2696.5 3070.3,2695.8 C3080.3,2695.0 3092.6,2695.0 3102.6,2698.1 C3112.6,2701.1 3123.4,2707.7 3130.3,2714.2 C3137.2,2720.7 3141.1,2730.4 3144.2,2737.3 C3147.2,2744.2 3148.0,2752.7 3148.8,2755.7" stroke="#dcdcdc" stroke-width="1.35" fill="none" stroke-dasharray="4 2"/>
<path d="M2943.4,2642.7 L3044.9,2700.4" stroke="#dcdcdc" stroke-width="1.35" fill="none" stroke-dasharray="4 2"/>
<path d="M2950.3,2589.6 L3044.9,2700.4" stroke="#dcdcdc" stroke-width="1.35" fill="none" stroke-dasharray="4 2"/>
<path d="M3282.6,2635.8 L3146.5,2746.5" stroke="#dcdcdc" stroke-width="1.35" fill="none" stroke-dasharray="4 2"/>
<path d="M3148.8,2755.7 L3349.5,2758.1" stroke="#dcdcdc" stroke-width="1.35" fill="none" stroke-dasharray="4 2"/>
<path d="M3148.8,2755.7 L3254.9,2908.0" stroke="#dcdcdc" stroke-width="1.35" fill="none" stroke-dasharray="4 2"/>
<path d="M3095.7,2702.7 L3130.3,2868.8" stroke="#dcdcdc" stroke-width="1.35" fill="none" stroke-dasharray="4 2"/>
<path d="M3019.6,2746.5 C3020.3,2755.7 3019.9,2783.0 3024.2,2801.9 C3028.4,2820.7 3041.5,2850.0 3044.9,2859.6" stroke="#dcdcdc" stroke-width="1.35" fill="none" stroke-dasharray="4 2"/>
<path d="M2687.3,3014.2 C2689.6,3008.8 2691.9,2992.6 2701.1,2981.9 C2710.4,2971.1 2727.3,2958.8 2742.7,2949.6 C2758.1,2940.3 2777.3,2932.6 2793.4,2926.5 C2809.6,2920.3 2827.3,2915.7 2839.6,2912.7 C2851.9,2909.6 2862.7,2908.8 2867.3,2908.0" stroke="#dcdcdc" stroke-width="1.35" fill="none" stroke-dasharray="4 2"/>
<path d="M2687.3,3014.2 C2688.8,3016.5 2689.6,3026.5 2696.5,3028.0 C2703.4,3029.6 2719.6,3021.9 2728.8,3023.4 C2738.1,3024.9 2745.7,3030.3 2751.9,3037.3 C2758.1,3044.2 2758.8,3055.7 2765.7,3064.9 C2772.7,3074.2 2785.7,3087.2 2793.4,3092.6 C2801.1,3098.0 2808.8,3096.5 2811.9,3097.2" stroke="#dcdcdc" stroke-width="1.35" fill="none" stroke-dasharray="4 2"/>
<path d="M2728.8,2991.1 C2732.7,2987.3 2741.1,2975.0 2751.9,2968.0 C2762.7,2961.1 2778.8,2955.0 2793.4,2949.6 C2808.0,2944.2 2827.3,2938.8 2839.6,2935.7 C2851.9,2932.6 2862.7,2931.9 2867.3,2931.1" stroke="#dcdcdc" stroke-width="1.35" fill="none" stroke-dasharray="4 2"/>
<path d="M2728.8,2991.1 C2730.4,2993.4 2731.9,3001.9 2738.1,3004.9 C2744.2,3008.0 2758.1,3005.7 2765.7,3009.6 C2773.4,3013.4 2778.8,3020.3 2784.2,3028.0 C2789.6,3035.7 2793.4,3048.0 2798.0,3055.7 C2802.7,3063.4 2809.6,3071.1 2811.9,3074.2" stroke="#dcdcdc" stroke-width="1.35" fill="none" stroke-dasharray="4 2"/>
<path d="M2775.0,3000.3 C2778.1,2998.8 2787.3,2991.1 2793.4,2991.1 C2799.6,2991.1 2805.7,2994.2 2811.9,3000.3 C2818.0,3006.5 2826.5,3021.9 2830.4,3028.0 C2834.2,3034.2 2834.2,3035.7 2835.0,3037.3" stroke="#dcdcdc" stroke-width="1.35" fill="none" stroke-dasharray="4 2"/>
<path d="M2775.0,3000.3 C2775.7,3002.6 2775.0,3008.8 2779.6,3014.2 C2784.2,3019.6 2795.7,3028.0 2802.7,3032.6 C2809.6,3037.3 2818.0,3040.3 2821.1,3041.9" stroke="#dcdcdc" stroke-width="1.35" fill="none" stroke-dasharray="4 2"/>
<path d="M2848.8,2940.3 C2853.4,2937.3 2867.3,2923.4 2876.5,2921.9 C2885.7,2920.3 2897.3,2923.4 2904.2,2931.1 C2911.1,2938.8 2916.5,2954.2 2918.0,2968.0 C2919.6,2981.9 2917.3,3001.9 2913.4,3014.2 C2909.6,3026.5 2898.0,3037.3 2895.0,3041.9" stroke="#dcdcdc" stroke-width="1.35" fill="none" stroke-dasharray="4 2"/>
<path d="M2853.4,2981.9 C2857.3,2981.1 2868.8,2975.0 2876.5,2977.3 C2884.2,2979.6 2895.0,2986.5 2899.6,2995.7 C2904.2,3004.9 2906.5,3022.6 2904.2,3032.6 C2901.9,3042.6 2893.4,3053.4 2885.7,3055.7 C2878.0,3058.0 2865.0,3053.4 2858.0,3046.5 C2851.1,3039.6 2846.5,3019.6 2844.2,3014.2" stroke="#dcdcdc" stroke-width="1.35" fill="none" stroke-dasharray="4 2"/>
<path d="M2811.9,3046.5 C2818.0,3044.9 2838.0,3035.7 2848.8,3037.3 C2859.6,3038.8 2871.1,3046.5 2876.5,3055.7 C2881.9,3064.9 2884.2,3084.2 2881.1,3092.6 C2878.0,3101.1 2868.8,3104.6 2858.0,3106.5 C2847.3,3108.4 2825.0,3108.8 2816.5,3104.2 C2808.0,3099.6 2808.8,3083.0 2807.3,3078.8" stroke="#dcdcdc" stroke-width="1.35" fill="none" stroke-dasharray="4 2"/>
<path d="M2885.7,3069.6 C2889.6,3068.8 2903.4,3061.1 2908.8,3064.9 C2914.2,3068.8 2918.8,3082.6 2918.0,3092.6 C2917.3,3102.6 2911.1,3118.8 2904.2,3124.9 C2897.3,3131.1 2884.2,3130.3 2876.5,3129.6 C2868.8,3128.8 2859.6,3126.5 2858.0,3120.3 C2856.5,3114.2 2865.7,3097.2 2867.3,3092.6" stroke="#dcdcdc" stroke-width="1.35" fill="none" stroke-dasharray="4 2"/>
<path d="M3218.0,3014.2 C3215.7,3008.8 3213.4,2992.6 3204.2,2981.9 C3194.9,2971.1 3178.0,2958.8 3162.6,2949.6 C3147.2,2940.3 3128.0,2932.6 3111.9,2926.5 C3095.7,2920.3 3074.9,2917.3 3065.7,2912.7 C3056.5,2908.0 3058.0,2901.1 3056.5,2898.8" stroke="#dcdcdc" stroke-width="1.35" fill="none" stroke-dasharray="4 2"/>
<path d="M3218.0,3014.2 C3216.5,3016.5 3215.7,3026.5 3208.8,3028.0 C3201.9,3029.6 3185.7,3021.9 3176.5,3023.4 C3167.2,3024.9 3159.5,3030.3 3153.4,3037.3 C3147.2,3044.2 3144.2,3058.8 3139.6,3064.9 C3134.9,3071.1 3128.0,3072.6 3125.7,3074.2" stroke="#dcdcdc" stroke-width="1.35" fill="none" stroke-dasharray="4 2"/>
<path d="M3268.8,2949.6 C3261.8,2952.6 3241.8,2969.6 3227.2,2968.0 C3212.6,2966.5 3198.0,2948.8 3181.1,2940.3 C3164.2,2931.9 3142.6,2923.4 3125.7,2917.3 C3108.8,2911.1 3087.2,2905.7 3079.6,2903.4" stroke="#dcdcdc" stroke-width="1.35" fill="none" stroke-dasharray="4 2"/>
<path d="M3162.6,2963.4 C3161.1,2968.0 3158.8,2981.1 3153.4,2991.1 C3148.0,3001.1 3137.2,3016.5 3130.3,3023.4 C3123.4,3030.3 3114.9,3031.1 3111.9,3032.6" stroke="#dcdcdc" stroke-width="1.35" fill="none" stroke-dasharray="4 2"/>
<path d="M3056.5,2908.0 C3050.3,2908.8 3029.6,2908.8 3019.6,2912.7 C3009.6,2916.5 3001.9,2921.9 2996.5,2931.1 C2991.1,2940.3 2988.0,2954.2 2987.3,2968.0 C2986.5,2981.9 2990.3,3004.2 2991.9,3014.2 C2993.4,3024.2 2995.7,3025.7 2996.5,3028.0" stroke="#dcdcdc" stroke-width="1.35" fill="none" stroke-dasharray="4 2"/>
<path d="M2996.5,3028.0 C3008.0,3020.3 3051.1,2991.9 3065.7,2981.9 C3080.3,2971.9 3081.1,2970.3 3084.2,2968.0" stroke="#dcdcdc" stroke-width="1.35" fill="none" stroke-dasharray="4 2"/>
<path d="M3001.1,2940.3 C3001.9,2948.0 3006.5,2972.6 3005.7,2986.5 C3004.9,3000.3 2998.0,3017.3 2996.5,3023.4" stroke="#dcdcdc" stroke-width="1.35" fill="none" stroke-dasharray="4 2"/>
<path d="M3014.9,3055.7 C3019.6,3052.6 3031.9,3041.1 3042.6,3037.3 C3053.4,3033.4 3067.3,3031.9 3079.6,3032.6 C3091.9,3033.4 3108.0,3036.5 3116.5,3041.9 C3124.9,3047.3 3129.6,3056.5 3130.3,3064.9 C3131.1,3073.4 3128.0,3087.2 3121.1,3092.6 C3114.2,3098.0 3098.8,3099.6 3088.8,3097.2 C3078.8,3094.9 3065.7,3081.9 3061.1,3078.8" stroke="#dcdcdc" stroke-width="1.35" fill="none" stroke-dasharray="4 2"/>
<path d="M2991.9,3074.2 C2995.7,3071.9 3006.5,3061.1 3014.9,3060.3 C3023.4,3059.6 3034.9,3064.2 3042.6,3069.6 C3050.3,3074.9 3057.3,3084.2 3061.1,3092.6 C3064.9,3101.1 3064.9,3115.7 3065.7,3120.3" stroke="#dcdcdc" stroke-width="1.35" fill="none" stroke-dasharray="4 2"/>
<path d="M2996.5,3092.6 C2999.6,3095.7 3009.6,3105.7 3014.9,3111.1 C3020.3,3116.5 3026.5,3122.6 3028.8,3124.9" stroke="#dcdcdc" stroke-width="1.35" fill="none" stroke-dasharray="4 2"/>
<path d="M2991.9,3074.2 C2991.1,3078.0 2985.7,3089.6 2987.3,3097.2 C2988.8,3104.9 2995.7,3114.2 3001.1,3120.3 C3006.5,3126.5 3016.5,3131.9 3019.6,3134.2" stroke="#dcdcdc" stroke-width="1.35" fill="none" stroke-dasharray="4 2"/>
<path d="M2800.4,2981.9 C2799.6,2975.3 2805.4,2972.6 2811.9,2970.3 C2818.4,2968.0 2834.4,2966.5 2839.6,2968.0 C2844.8,2969.6 2843.3,2971.9 2843.3,2979.6 C2843.3,2987.3 2841.7,3005.3 2839.6,3014.2 C2837.4,3023.0 2834.2,3033.4 2830.4,3032.6 C2826.5,3031.9 2821.5,3018.0 2816.5,3009.6 C2811.5,3001.1 2801.1,2988.4 2800.4,2981.9 Z" stroke="#fff" stroke-width="1.6" fill="#0a0805" />
<path d="M2837.3,2979.6 L2843.3,2970.3 L2843.3,2995.7 L2837.3,2998.0 Z" stroke="none" stroke-width="0" fill="#fff" />
<path d="M3091.1,2956.5 C3098.0,2948.0 3123.4,2952.6 3130.3,2954.2 C3137.2,2955.7 3134.9,2958.0 3132.6,2965.7 C3130.3,2973.4 3122.6,2991.1 3116.5,3000.3 C3110.3,3009.6 3100.3,3020.3 3095.7,3021.1 C3091.1,3021.9 3089.6,3015.7 3088.8,3004.9 C3088.0,2994.2 3084.2,2965.0 3091.1,2956.5 Z" stroke="#fff" stroke-width="1.6" fill="#0a0805" />
<path d="M3081.9,2963.4 L3088.8,2961.1 L3092.5,2981.9 L3086.5,2984.2 Z" stroke="none" stroke-width="0" fill="#fff" />
</g>
<text x="2696.5" y="2663.4" font-size="39.5" fill="#fff" text-anchor="start" font-weight="normal" >M1</text>
<text x="2580.2" y="2781.1" font-size="39.5" fill="#fff" text-anchor="start" font-weight="normal" >M2</text>
<text x="2865.0" y="2739.6" font-size="39.5" fill="#fff" text-anchor="start" font-weight="normal" >PrL</text>
<text x="2793.4" y="2822.7" font-size="39.5" fill="#fff" text-anchor="start" font-weight="normal" >VO</text>
<text x="2721.9" y="2858.2" font-size="39.5" fill="#fff" text-anchor="start" font-weight="normal" >LO</text>
<text x="2871.0" y="2870.2" font-size="39.5" fill="#fff" text-anchor="start" font-weight="normal" >MO</text>
<text x="2622.7" y="2946.3" font-size="39.5" fill="#fff" text-anchor="start" font-weight="normal" >AI</text>
<text x="3336" y="3146" font-size="46" fill="#e0881a" text-anchor="end" font-weight="normal" >ChR2-mCherry</text>
<rect x="2561.8" y="3145.7" width="134.7" height="9.7" fill="#fff" /></g>
<g id="pj"><text x="2471" y="3291" font-size="62" fill="#000" text-anchor="start" font-weight="bold" >J</text>
<defs><clipPath id="cJ"><rect x="2544" y="3249" width="813.5" height="539"/></clipPath><filter id="jb1" x="-50%" y="-50%" width="200%" height="200%"><feGaussianBlur stdDeviation="1.2"/></filter><filter id="jb2" x="-100%" y="-100%" width="300%" height="300%"><feGaussianBlur stdDeviation="12"/></filter><filter id="nJm" x="0" y="0" width="100%" height="100%" color-interpolation-filters="sRGB"><feTurbulence type="fractalNoise" baseFrequency="0.09" numOctaves="2" seed="41"/><feColorMatrix type="matrix" values="0 0 0 0 0.8  0 0 0 0 0.08  0 0 0 0 0.85  7 0 0 0 -5.145"/><feComposite in2="SourceGraphic" operator="in"/></filter><filter id="nJd" x="0" y="0" width="100%" height="100%" color-interpolation-filters="sRGB"><feTurbulence type="fractalNoise" baseFrequency="0.16" numOctaves="1" seed="43"/><feColorMatrix type="matrix" values="0 0 0 0 0.3  0 0 0 0 0.03  0 0 0 0 0.33  5 0 0 0 -3.3000000000000003"/><feComposite in2="SourceGraphic" operator="in"/></filter><filter id="nJc" x="0" y="0" width="100%" height="100%" color-interpolation-filters="sRGB"><feTurbulence type="fractalNoise" baseFrequency="0.14" numOctaves="2" seed="47"/><feColorMatrix type="matrix" values="0 0 0 0 0.9  0 0 0 0 0.15  0 0 0 0 0.95  9 0 0 0 -5.040000000000001"/><feComposite in2="SourceGraphic" operator="in"/></filter></defs>
<rect x="2544" y="3249" width="813.5" height="539" fill="#040205" />
<g clip-path="url(#cJ)">
<rect x="2544" y="3249" width="813.5" height="539" fill="#000" filter="url(#nJd)"/>
<rect x="2544" y="3249" width="813.5" height="539" fill="#000" filter="url(#nJm)" opacity="0.8"/>
<ellipse cx="3111.9" cy="3443.1" rx="80" ry="70" fill="#5a0a60" opacity="0.5" filter="url(#jb2)"/>
<g filter="url(#nJc)" opacity="0.6"><ellipse cx="3107.2" cy="3438.4" rx="82" ry="72" transform="rotate(-35 3107.2 3438.4)"/></g>
<g fill="#ee30f5" opacity="0.95"><circle cx="3044" cy="3510" r="2.5"/><circle cx="3042" cy="3514" r="1.5"/><circle cx="3038" cy="3510" r="2.6"/><circle cx="3036" cy="3506" r="1.5"/><circle cx="3030" cy="3508" r="3.0"/><circle cx="3040" cy="3512" r="1.3"/><circle cx="3042" cy="3508" r="1.9"/><circle cx="3036" cy="3512" r="2.9"/><circle cx="3039" cy="3512" r="2.2"/><circle cx="3049" cy="3507" r="2.7"/><circle cx="3035" cy="3514" r="3.0"/><circle cx="3053" cy="3513" r="2.5"/><circle cx="3040" cy="3507" r="2.7"/><circle cx="3037" cy="3505" r="1.6"/><circle cx="3038" cy="3510" r="1.9"/><circle cx="3037" cy="3512" r="2.0"/></g>
<g fill="#ee30f5" opacity="0.95"><circle cx="3050" cy="3503" r="3.0"/><circle cx="3075" cy="3512" r="2.6"/><circle cx="3055" cy="3517" r="2.2"/><circle cx="3052" cy="3503" r="1.5"/><circle cx="3060" cy="3522" r="2.5"/><circle cx="3061" cy="3515" r="2.0"/><circle cx="3070" cy="3504" r="1.6"/><circle cx="3036" cy="3518" r="2.7"/><circle cx="3054" cy="3513" r="1.5"/><circle cx="3065" cy="3518" r="3.0"/><circle cx="3058" cy="3514" r="2.5"/><circle cx="3061" cy="3507" r="2.1"/><circle cx="3055" cy="3512" r="1.9"/><circle cx="3051" cy="3508" r="2.4"/><circle cx="3060" cy="3513" r="2.5"/><circle cx="3055" cy="3510" r="3.0"/></g>
<g fill="#ee30f5" opacity="0.95"><circle cx="3080" cy="3503" r="3.0"/><circle cx="3071" cy="3515" r="1.3"/><circle cx="3079" cy="3504" r="1.4"/><circle cx="3083" cy="3507" r="2.8"/><circle cx="3084" cy="3504" r="1.6"/><circle cx="3081" cy="3500" r="1.8"/><circle cx="3085" cy="3514" r="2.2"/><circle cx="3082" cy="3500" r="2.0"/><circle cx="3078" cy="3503" r="2.5"/><circle cx="3071" cy="3505" r="1.5"/><circle cx="3082" cy="3505" r="2.9"/><circle cx="3075" cy="3490" r="2.3"/><circle cx="3081" cy="3505" r="2.0"/><circle cx="3082" cy="3506" r="1.9"/><circle cx="3075" cy="3514" r="2.2"/><circle cx="3080" cy="3509" r="2.6"/></g>
<g fill="#ee30f5" opacity="0.95"><circle cx="3103" cy="3488" r="2.3"/><circle cx="3104" cy="3488" r="1.7"/><circle cx="3104" cy="3492" r="2.0"/><circle cx="3106" cy="3482" r="2.0"/><circle cx="3103" cy="3491" r="2.5"/><circle cx="3097" cy="3495" r="2.6"/><circle cx="3103" cy="3489" r="2.1"/><circle cx="3091" cy="3489" r="2.9"/><circle cx="3102" cy="3490" r="2.1"/><circle cx="3102" cy="3491" r="2.1"/><circle cx="3111" cy="3489" r="2.6"/><circle cx="3103" cy="3489" r="2.9"/><circle cx="3092" cy="3483" r="1.7"/><circle cx="3096" cy="3484" r="2.7"/><circle cx="3101" cy="3489" r="2.3"/><circle cx="3104" cy="3492" r="1.9"/></g>
<g fill="#ee30f5" opacity="0.95"><circle cx="3114" cy="3465" r="2.2"/><circle cx="3129" cy="3465" r="1.8"/><circle cx="3122" cy="3471" r="1.7"/><circle cx="3118" cy="3474" r="2.7"/><circle cx="3126" cy="3469" r="2.9"/><circle cx="3125" cy="3466" r="1.9"/><circle cx="3127" cy="3468" r="1.7"/><circle cx="3123" cy="3469" r="3.0"/><circle cx="3130" cy="3474" r="1.4"/><circle cx="3124" cy="3470" r="2.2"/><circle cx="3125" cy="3469" r="2.7"/><circle cx="3124" cy="3469" r="2.1"/><circle cx="3119" cy="3469" r="2.7"/><circle cx="3123" cy="3452" r="1.9"/><circle cx="3133" cy="3481" r="1.4"/><circle cx="3118" cy="3465" r="2.8"/></g>
<g fill="#ee30f5" opacity="0.95"><circle cx="3141" cy="3454" r="2.9"/><circle cx="3142" cy="3443" r="2.7"/><circle cx="3145" cy="3448" r="2.0"/><circle cx="3148" cy="3439" r="2.6"/><circle cx="3145" cy="3447" r="2.0"/><circle cx="3127" cy="3441" r="2.6"/><circle cx="3137" cy="3450" r="2.8"/><circle cx="3150" cy="3442" r="1.5"/><circle cx="3143" cy="3448" r="2.9"/><circle cx="3137" cy="3451" r="1.8"/><circle cx="3143" cy="3459" r="1.9"/><circle cx="3146" cy="3452" r="1.7"/><circle cx="3144" cy="3452" r="2.6"/><circle cx="3146" cy="3449" r="2.6"/><circle cx="3144" cy="3449" r="1.4"/><circle cx="3152" cy="3453" r="2.7"/></g>
<g fill="#ee30f5" opacity="0.95"><circle cx="3150" cy="3423" r="2.5"/><circle cx="3157" cy="3425" r="1.4"/><circle cx="3153" cy="3421" r="2.2"/><circle cx="3160" cy="3410" r="1.5"/><circle cx="3155" cy="3412" r="2.8"/><circle cx="3148" cy="3421" r="2.3"/><circle cx="3158" cy="3424" r="2.6"/><circle cx="3149" cy="3419" r="2.2"/><circle cx="3162" cy="3420" r="1.4"/><circle cx="3157" cy="3424" r="1.6"/><circle cx="3168" cy="3423" r="2.7"/><circle cx="3159" cy="3423" r="1.5"/><circle cx="3154" cy="3426" r="1.5"/><circle cx="3164" cy="3419" r="1.9"/><circle cx="3148" cy="3433" r="1.9"/><circle cx="3149" cy="3425" r="2.4"/></g>
<g fill="#ee30f5" opacity="0.95"><circle cx="3174" cy="3412" r="1.6"/><circle cx="3166" cy="3389" r="2.6"/><circle cx="3162" cy="3396" r="2.6"/><circle cx="3182" cy="3407" r="2.8"/><circle cx="3169" cy="3401" r="1.5"/><circle cx="3171" cy="3397" r="2.7"/><circle cx="3169" cy="3403" r="2.0"/><circle cx="3169" cy="3404" r="1.4"/><circle cx="3169" cy="3403" r="2.0"/><circle cx="3167" cy="3401" r="1.6"/><circle cx="3174" cy="3402" r="3.0"/><circle cx="3171" cy="3400" r="2.5"/><circle cx="3172" cy="3400" r="2.8"/><circle cx="3165" cy="3398" r="2.9"/><circle cx="3162" cy="3410" r="2.8"/><circle cx="3173" cy="3408" r="1.7"/></g>
<g fill="#ee30f5" opacity="0.95"><circle cx="3194" cy="3385" r="2.3"/><circle cx="3181" cy="3389" r="2.5"/><circle cx="3168" cy="3371" r="2.4"/><circle cx="3165" cy="3384" r="1.9"/><circle cx="3181" cy="3390" r="1.7"/><circle cx="3176" cy="3382" r="2.4"/><circle cx="3185" cy="3380" r="2.5"/><circle cx="3175" cy="3384" r="2.0"/><circle cx="3174" cy="3382" r="2.1"/><circle cx="3176" cy="3383" r="2.7"/><circle cx="3180" cy="3382" r="2.3"/><circle cx="3176" cy="3383" r="2.5"/><circle cx="3178" cy="3373" r="2.6"/><circle cx="3179" cy="3384" r="1.7"/><circle cx="3169" cy="3365" r="1.8"/><circle cx="3179" cy="3383" r="1.8"/></g>
<g fill="#d828e0" opacity="0.85"><circle cx="3082" cy="3447" r="1.4"/><circle cx="3093" cy="3398" r="2.0"/><circle cx="3134" cy="3459" r="1.3"/><circle cx="3159" cy="3448" r="1.9"/><circle cx="3107" cy="3426" r="1.9"/><circle cx="3101" cy="3446" r="1.5"/><circle cx="3019" cy="3407" r="1.5"/><circle cx="3097" cy="3410" r="1.8"/><circle cx="3129" cy="3431" r="1.9"/><circle cx="3085" cy="3419" r="1.4"/><circle cx="3129" cy="3424" r="1.1"/><circle cx="3101" cy="3421" r="1.5"/><circle cx="3102" cy="3464" r="1.7"/><circle cx="3113" cy="3427" r="1.4"/><circle cx="3147" cy="3403" r="1.2"/><circle cx="3123" cy="3448" r="1.6"/><circle cx="3129" cy="3448" r="1.4"/><circle cx="3117" cy="3430" r="1.3"/><circle cx="3118" cy="3444" r="2.0"/><circle cx="3186" cy="3460" r="1.2"/><circle cx="3064" cy="3458" r="1.9"/><circle cx="3112" cy="3441" r="1.5"/><circle cx="3109" cy="3432" r="1.8"/><circle cx="3132" cy="3395" r="1.7"/><circle cx="3139" cy="3392" r="1.2"/><circle cx="3112" cy="3440" r="1.1"/><circle cx="3157" cy="3415" r="1.9"/><circle cx="3103" cy="3417" r="1.4"/><circle cx="3088" cy="3425" r="1.3"/><circle cx="3116" cy="3424" r="1.7"/><circle cx="3087" cy="3421" r="1.4"/><circle cx="3135" cy="3445" r="1.4"/><circle cx="3123" cy="3432" r="1.5"/><circle cx="3111" cy="3411" r="1.2"/><circle cx="3097" cy="3455" r="1.9"/><circle cx="3126" cy="3440" r="1.9"/><circle cx="3098" cy="3416" r="1.9"/><circle cx="3107" cy="3420" r="1.2"/><circle cx="3092" cy="3480" r="1.4"/><circle cx="3098" cy="3466" r="1.7"/><circle cx="3111" cy="3482" r="1.9"/><circle cx="3133" cy="3388" r="1.6"/><circle cx="3110" cy="3431" r="1.3"/><circle cx="3106" cy="3445" r="1.7"/><circle cx="3110" cy="3441" r="1.9"/><circle cx="3082" cy="3450" r="1.6"/><circle cx="3096" cy="3423" r="1.2"/><circle cx="3066" cy="3455" r="1.6"/><circle cx="3127" cy="3445" r="1.9"/><circle cx="3090" cy="3460" r="2.0"/><circle cx="3103" cy="3392" r="1.0"/><circle cx="3147" cy="3458" r="1.6"/><circle cx="3092" cy="3486" r="1.5"/><circle cx="3084" cy="3417" r="1.7"/><circle cx="3144" cy="3389" r="1.7"/></g>
<circle cx="2853.4" cy="3270.0" r="7" fill="#e828f0" filter="url(#jb1)"/>
<circle cx="3134.9" cy="3267.7" r="8" fill="#e828f0" filter="url(#jb1)"/>
<circle cx="2708.1" cy="3304.6" r="6" fill="#e828f0" filter="url(#jb1)"/>
<circle cx="2745.0" cy="3310.1" r="5" fill="#e828f0" filter="url(#jb1)"/>
<circle cx="3042.6" cy="3507.7" r="9" fill="#e828f0" filter="url(#jb1)"/>
<circle cx="3079.6" cy="3513.2" r="7" fill="#e828f0" filter="url(#jb1)"/>
<circle cx="2634.2" cy="3738.4" r="4" fill="#e828f0" filter="url(#jb1)"/>
<circle cx="3044.9" cy="3640.6" r="5" fill="#e828f0" filter="url(#jb1)"/>
<circle cx="2936.5" cy="3475.4" r="4" fill="#e828f0" filter="url(#jb1)"/>
<circle cx="3291.8" cy="3262.2" r="3" fill="#e828f0" filter="url(#jb1)"/>
<circle cx="3204.2" cy="3258.5" r="4" fill="#e828f0" filter="url(#jb1)"/>
<path d="M2544.2,3276.9 C2554.2,3277.7 2585.8,3283.1 2604.2,3281.5 C2622.7,3280.0 2635.8,3266.2 2655.0,3267.7 C2674.2,3269.2 2699.6,3283.8 2719.6,3290.8 C2739.6,3297.7 2756.5,3303.8 2775.0,3309.2 C2793.4,3314.6 2810.4,3322.3 2830.4,3323.1 C2850.4,3323.8 2875.0,3316.1 2895.0,3313.8 C2915.0,3311.5 2932.6,3313.1 2950.3,3309.2 C2968.0,3305.4 2985.7,3295.4 3001.1,3290.8 C3016.5,3286.1 3035.7,3283.1 3042.6,3281.5" stroke="#4fa818" stroke-width="2.3" fill="none" filter="url(#jb1)" opacity="0.8"/>
<path d="M2544.2,3360.0 C2554.2,3358.4 2582.7,3351.5 2604.2,3350.8 C2625.8,3350.0 2652.7,3356.1 2673.4,3355.4 C2694.2,3354.6 2708.8,3346.1 2728.8,3346.1 C2748.8,3346.1 2782.7,3353.8 2793.4,3355.4" stroke="#4fa818" stroke-width="2.3" fill="none" filter="url(#jb1)" opacity="0.8"/>
<path d="M2650.4,3249.2 L2655.0,3267.7" stroke="#4fa818" stroke-width="2.3" fill="none" filter="url(#jb1)" opacity="0.8"/>
<path d="M2765.7,3415.4 C2771.9,3413.1 2787.3,3404.6 2802.7,3401.5 C2818.0,3398.4 2838.8,3399.2 2858.0,3396.9 C2877.3,3394.6 2898.0,3391.5 2918.0,3387.7 C2938.0,3383.8 2961.1,3376.9 2978.0,3373.8 C2995.0,3370.8 3007.3,3368.4 3019.6,3369.2 C3031.9,3370.0 3046.5,3376.9 3051.9,3378.4" stroke="#4fa818" stroke-width="2.3" fill="none" filter="url(#jb1)" opacity="0.8"/>
<path d="M2890.3,3253.8 C2895.0,3259.2 2908.0,3276.9 2918.0,3286.1 C2928.0,3295.4 2941.9,3300.8 2950.3,3309.2 C2958.8,3317.7 2961.1,3328.5 2968.8,3336.9 C2976.5,3345.4 2985.7,3351.5 2996.5,3360.0 C3007.3,3368.4 3025.7,3376.9 3033.4,3387.7 C3041.1,3398.4 3042.6,3412.3 3042.6,3424.6 C3042.6,3436.9 3036.5,3452.3 3033.4,3461.5 C3030.3,3470.7 3025.7,3476.9 3024.2,3480.0" stroke="#4fa818" stroke-width="2.3" fill="none" filter="url(#jb1)" opacity="0.8"/>
<path d="M3051.9,3378.4 C3058.0,3374.6 3074.9,3363.1 3088.8,3355.4 C3102.6,3347.7 3119.6,3339.2 3134.9,3332.3 C3150.3,3325.4 3167.2,3323.1 3181.1,3313.8 C3194.9,3304.6 3207.2,3286.1 3218.0,3276.9 C3228.8,3267.7 3241.1,3261.5 3245.7,3258.5" stroke="#4fa818" stroke-width="2.3" fill="none" filter="url(#jb1)" opacity="0.8"/>
<path d="M2544.2,3452.3 C2551.9,3450.7 2576.5,3446.1 2590.4,3443.1 C2604.2,3440.0 2621.1,3435.4 2627.3,3433.8" stroke="#4fa818" stroke-width="2.3" fill="none" filter="url(#jb1)" opacity="0.8"/>
<path d="M2544.2,3461.5 C2554.2,3464.6 2582.7,3473.1 2604.2,3480.0 C2625.8,3486.9 2652.7,3501.5 2673.4,3503.0 C2694.2,3504.6 2708.8,3490.0 2728.8,3489.2 C2748.8,3488.4 2782.7,3496.9 2793.4,3498.4" stroke="#4fa818" stroke-width="2.3" fill="none" filter="url(#jb1)" opacity="0.8"/>
<path d="M2858.0,3498.4 C2865.7,3493.8 2888.8,3476.1 2904.2,3470.7 C2919.6,3465.4 2935.0,3466.9 2950.3,3466.1 C2965.7,3465.4 2981.1,3466.1 2996.5,3466.1 C3011.9,3466.1 3023.4,3466.1 3042.6,3466.1 C3061.9,3466.1 3100.3,3466.1 3111.9,3466.1" stroke="#4fa818" stroke-width="2.3" fill="none" filter="url(#jb1)" opacity="0.8"/>
<path d="M2793.4,3563.0 C2804.2,3561.5 2839.6,3557.7 2858.0,3553.8 C2876.5,3550.0 2890.3,3545.4 2904.2,3540.0 C2918.0,3534.6 2931.9,3526.1 2941.1,3521.5 C2950.3,3516.9 2948.8,3513.0 2959.6,3512.3 C2970.3,3511.5 2998.0,3516.1 3005.7,3516.9" stroke="#4fa818" stroke-width="2.3" fill="none" filter="url(#jb1)" opacity="0.8"/>
<path d="M2544.2,3572.3 C2551.9,3573.0 2573.5,3576.9 2590.4,3576.9 C2607.3,3576.9 2635.8,3570.0 2645.8,3572.3 C2655.8,3574.6 2649.6,3587.7 2650.4,3590.7" stroke="#4fa818" stroke-width="2.3" fill="none" filter="url(#jb1)" opacity="0.8"/>
<path d="M2544.2,3646.1 C2554.2,3646.9 2582.7,3652.3 2604.2,3650.7 C2625.8,3649.2 2650.4,3637.6 2673.4,3636.9 C2696.5,3636.1 2722.7,3644.6 2742.7,3646.1 C2762.7,3647.6 2774.2,3647.6 2793.4,3646.1 C2812.7,3644.6 2835.7,3639.2 2858.0,3636.9 C2880.3,3634.6 2915.7,3633.0 2927.3,3632.3" stroke="#4fa818" stroke-width="2.3" fill="none" filter="url(#jb1)" opacity="0.8"/>
<path d="M2775.0,3609.2 C2781.1,3607.7 2798.0,3600.7 2811.9,3600.0 C2825.7,3599.2 2842.7,3605.3 2858.0,3604.6 C2873.4,3603.8 2888.8,3597.7 2904.2,3595.3 C2919.6,3593.0 2935.0,3590.0 2950.3,3590.7 C2965.7,3591.5 2988.8,3598.4 2996.5,3600.0" stroke="#4fa818" stroke-width="2.3" fill="none" filter="url(#jb1)" opacity="0.8"/>
<path d="M3024.2,3609.2 C3029.6,3614.6 3041.9,3634.6 3056.5,3641.5 C3071.1,3648.4 3094.9,3646.9 3111.9,3650.7 C3128.8,3654.6 3143.4,3658.4 3158.0,3664.6 C3172.6,3670.7 3188.0,3680.0 3199.5,3687.6 C3211.1,3695.3 3214.9,3705.3 3227.2,3710.7 C3239.5,3716.1 3251.7,3716.9 3273.4,3719.9 C3295.1,3723.0 3343.4,3727.6 3357.4,3729.2" stroke="#4fa818" stroke-width="2.3" fill="none" filter="url(#jb1)" opacity="0.8"/>
<path d="M3065.7,3646.1 C3077.2,3646.9 3115.7,3651.5 3134.9,3650.7 C3154.2,3650.0 3165.7,3643.8 3181.1,3641.5 C3196.5,3639.2 3210.3,3636.1 3227.2,3636.9 C3244.2,3637.6 3267.2,3646.1 3282.6,3646.1 C3298.0,3646.1 3307.1,3641.5 3319.5,3636.9 C3332.0,3632.3 3351.1,3621.5 3357.4,3618.4" stroke="#4fa818" stroke-width="2.3" fill="none" filter="url(#jb1)" opacity="0.8"/>
<path d="M2978.0,3715.3 C2988.8,3713.8 3020.3,3707.6 3042.6,3706.1 C3064.9,3704.6 3088.8,3704.6 3111.9,3706.1 C3134.9,3707.6 3161.9,3714.6 3181.1,3715.3 C3200.3,3716.1 3219.5,3711.5 3227.2,3710.7" stroke="#4fa818" stroke-width="2.3" fill="none" filter="url(#jb1)" opacity="0.8"/>
<path d="M3357.4,3387.7 C3354.1,3393.8 3342.8,3412.3 3338.0,3424.6 C3333.2,3436.9 3331.8,3449.2 3328.8,3461.5 C3325.7,3473.8 3321.8,3486.1 3319.5,3498.4 C3317.2,3510.7 3314.9,3524.6 3314.9,3535.4 C3314.9,3546.1 3315.7,3559.2 3319.5,3563.0 C3323.4,3566.9 3334.9,3559.2 3338.0,3558.4" stroke="#4fa818" stroke-width="2.3" fill="none" filter="url(#jb1)" opacity="0.8"/>
<path d="M3218.0,3595.3 C3224.2,3593.0 3241.8,3586.9 3254.9,3581.5 C3268.0,3576.1 3285.7,3567.7 3296.5,3563.0 C3307.2,3558.4 3315.7,3555.4 3319.5,3553.8" stroke="#4fa818" stroke-width="2.3" fill="none" filter="url(#jb1)" opacity="0.8"/>
<path d="M3181.1,3258.5 C3182.6,3266.9 3184.9,3292.3 3190.3,3309.2 C3195.7,3326.1 3208.0,3346.1 3213.4,3360.0 C3218.8,3373.8 3221.1,3386.9 3222.6,3392.3" stroke="#4fa818" stroke-width="2.3" fill="none" filter="url(#jb1)" opacity="0.8"/>
<path d="M3296.5,3655.3 C3298.8,3658.4 3310.3,3666.9 3310.3,3673.8 C3310.3,3680.7 3298.8,3693.0 3296.5,3696.9" stroke="#4fa818" stroke-width="2.3" fill="none" filter="url(#jb1)" opacity="0.8"/>
<path d="M3098.0,3678.4 C3099.6,3682.3 3101.1,3690.0 3107.2,3701.5 C3113.4,3713.0 3122.6,3738.4 3134.9,3747.6 C3147.2,3756.9 3161.9,3754.6 3181.1,3756.9 C3200.3,3759.2 3227.2,3759.2 3250.3,3761.5 C3273.4,3763.8 3301.7,3767.6 3319.5,3770.7 C3337.4,3773.8 3351.1,3778.4 3357.4,3779.9" stroke="#4fa818" stroke-width="2.3" fill="none" filter="url(#jb1)" opacity="0.8"/>
<path d="M3042.6,3249.2 L2996.5,3290.8" stroke="#4fa818" stroke-width="2.3" fill="none" filter="url(#jb1)" opacity="0.8"/>
<path d="M3245.7,3258.5 L3291.8,3253.8" stroke="#4fa818" stroke-width="2.3" fill="none" filter="url(#jb1)" opacity="0.8"/>
<path d="M2931.9,3535.4 C2931.9,3544.6 2930.3,3574.6 2931.9,3590.7 C2933.4,3606.9 2939.6,3625.3 2941.1,3632.3" stroke="#4fa818" stroke-width="2.3" fill="none" filter="url(#jb1)" opacity="0.8"/>
<path d="M3181.1,3355.4 C3190.3,3356.1 3221.1,3360.0 3236.5,3360.0 C3251.8,3360.0 3267.2,3356.1 3273.4,3355.4" stroke="#4fa818" stroke-width="2.3" fill="none" filter="url(#jb1)" opacity="0.8"/>
<path d="M2656.6,3298.0 C2666.3,3295.3 2694.1,3285.3 2714.9,3281.6 C2735.7,3277.9 2759.0,3277.4 2781.2,3275.7 C2803.3,3274.1 2836.7,3272.5 2847.8,3271.8" stroke="#3f8f14" stroke-width="1.8" fill="none" filter="url(#jb1)" opacity="0.6"/>
<ellipse cx="2714.9" cy="3281.6" rx="4.6" ry="3.1" fill="#84e024" filter="url(#jb1)"/>
<ellipse cx="2781.2" cy="3275.7" rx="4.7" ry="2.6" fill="#84e024" filter="url(#jb1)"/>
<path d="M2696.2,3697.2 C2703.3,3699.7 2721.6,3707.6 2738.8,3712.1 C2756.1,3716.5 2782.8,3718.1 2799.8,3723.8 C2816.8,3729.5 2825.3,3736.5 2841.1,3746.3 C2856.8,3756.2 2878.1,3768.8 2894.3,3782.9 C2910.5,3797.0 2931.1,3822.9 2938.5,3830.8" stroke="#3f8f14" stroke-width="1.8" fill="none" filter="url(#jb1)" opacity="0.6"/>
<ellipse cx="2799.8" cy="3723.8" rx="5.1" ry="2.8" fill="#84e024" filter="url(#jb1)"/>
<ellipse cx="2894.3" cy="3782.9" rx="5.2" ry="3.3" fill="#84e024" filter="url(#jb1)"/>
<path d="M3192.9,3758.9 C3203.3,3752.9 3235.1,3732.2 3254.9,3722.6 C3274.7,3713.1 3294.0,3704.9 3311.5,3701.5 C3329.0,3698.2 3341.9,3699.9 3359.7,3702.3 C3377.5,3704.7 3400.9,3714.5 3418.3,3715.7 C3435.8,3717.0 3449.7,3715.0 3464.2,3709.7 C3478.8,3704.4 3498.6,3688.3 3505.4,3684.1" stroke="#3f8f14" stroke-width="1.8" fill="none" filter="url(#jb1)" opacity="0.6"/>
<ellipse cx="3311.5" cy="3701.5" rx="3.1" ry="3.2" fill="#84e024" filter="url(#jb1)"/>
<ellipse cx="3464.2" cy="3709.7" rx="4.2" ry="3.1" fill="#84e024" filter="url(#jb1)"/>
<path d="M2659.6,3600.1 C2671.2,3599.8 2709.3,3600.6 2729.2,3598.1 C2749.1,3595.5 2761.6,3587.6 2778.9,3584.8 C2796.2,3582.0 2816.3,3583.2 2832.9,3581.2 C2849.6,3579.2 2863.0,3577.4 2879.0,3572.9 C2895.0,3568.4 2910.3,3562.9 2929.1,3554.2 C2947.8,3545.6 2981.1,3526.5 2991.5,3520.9" stroke="#3f8f14" stroke-width="1.8" fill="none" filter="url(#jb1)" opacity="0.6"/>
<ellipse cx="2778.9" cy="3584.8" rx="3.9" ry="2.9" fill="#84e024" filter="url(#jb1)"/>
<path d="M3014.4,3519.0 C3021.5,3520.0 3042.9,3524.4 3057.4,3524.9 C3071.9,3525.4 3085.4,3525.5 3101.3,3521.9 C3117.2,3518.2 3132.7,3509.5 3152.6,3503.0 C3172.6,3496.6 3200.7,3493.7 3221.0,3483.0 C3241.2,3472.3 3265.2,3446.3 3274.1,3438.9" stroke="#3f8f14" stroke-width="1.8" fill="none" filter="url(#jb1)" opacity="0.6"/>
<ellipse cx="3057.4" cy="3524.9" rx="4.8" ry="2.5" fill="#84e024" filter="url(#jb1)"/>
<ellipse cx="3101.3" cy="3521.9" rx="5.3" ry="3.8" fill="#84e024" filter="url(#jb1)"/>
<ellipse cx="3152.6" cy="3503.0" rx="4.0" ry="3.9" fill="#84e024" filter="url(#jb1)"/>
<ellipse cx="3221.0" cy="3483.0" rx="4.1" ry="2.9" fill="#84e024" filter="url(#jb1)"/>
<path d="M2707.5,3511.5 C2718.7,3512.0 2750.9,3515.7 2774.6,3514.4 C2798.3,3513.1 2826.6,3502.1 2849.7,3503.6 C2872.9,3505.1 2893.1,3519.4 2913.4,3523.3 C2933.7,3527.3 2962.1,3526.6 2971.8,3527.2" stroke="#3f8f14" stroke-width="1.8" fill="none" filter="url(#jb1)" opacity="0.6"/>
<ellipse cx="2774.6" cy="3514.4" rx="4.4" ry="3.8" fill="#84e024" filter="url(#jb1)"/>
<path d="M2555.9,3624.9 C2568.0,3628.0 2609.0,3635.0 2628.2,3643.6 C2647.5,3652.2 2657.1,3660.2 2671.6,3676.5 C2686.2,3692.8 2699.8,3721.7 2715.6,3741.2 C2731.5,3760.7 2747.6,3777.5 2766.7,3793.5 C2785.9,3809.5 2812.4,3819.2 2830.4,3837.0 C2848.4,3854.8 2867.4,3889.8 2874.8,3900.4" stroke="#3f8f14" stroke-width="1.8" fill="none" filter="url(#jb1)" opacity="0.6"/>
<ellipse cx="2628.2" cy="3643.6" rx="4.7" ry="3.6" fill="#84e024" filter="url(#jb1)"/>
<ellipse cx="2715.6" cy="3741.2" rx="4.7" ry="3.7" fill="#84e024" filter="url(#jb1)"/>
<path d="M3200.3,3590.7 C3208.0,3587.6 3229.0,3574.6 3246.4,3571.9 C3263.7,3569.2 3282.1,3573.9 3304.1,3574.5 C3326.2,3575.1 3359.1,3573.4 3378.4,3575.6 C3397.7,3577.8 3413.0,3585.6 3419.9,3587.6" stroke="#3f8f14" stroke-width="1.8" fill="none" filter="url(#jb1)" opacity="0.6"/>
<ellipse cx="3246.4" cy="3571.9" rx="4.3" ry="2.9" fill="#84e024" filter="url(#jb1)"/>
<path d="M3115.7,3324.7 C3127.0,3323.1 3164.9,3321.1 3183.4,3314.7 C3201.9,3308.3 3213.3,3298.1 3226.6,3286.5 C3240.0,3274.8 3248.9,3258.1 3263.8,3244.6 C3278.7,3231.2 3302.6,3220.7 3316.0,3205.8 C3329.3,3190.8 3339.5,3163.4 3344.2,3154.9" stroke="#3f8f14" stroke-width="1.8" fill="none" filter="url(#jb1)" opacity="0.6"/>
<ellipse cx="3316.0" cy="3205.8" rx="4.2" ry="3.4" fill="#84e024" filter="url(#jb1)"/>
<path d="M3023.8,3339.0 C3035.6,3341.0 3072.3,3342.8 3094.6,3351.0 C3116.8,3359.3 3140.3,3379.2 3157.5,3388.5 C3174.7,3397.9 3185.6,3397.9 3197.6,3407.2 C3209.6,3416.6 3224.2,3438.4 3229.5,3444.6" stroke="#3f8f14" stroke-width="1.8" fill="none" filter="url(#jb1)" opacity="0.6"/>
<path d="M3010.8,3378.4 C3018.7,3373.9 3043.6,3358.8 3058.2,3351.2 C3072.8,3343.7 3084.6,3343.4 3098.5,3333.2 C3112.4,3323.0 3126.9,3300.5 3141.4,3290.2 C3155.9,3279.9 3166.5,3279.4 3185.3,3271.3 C3204.2,3263.2 3232.1,3251.0 3254.4,3241.6 C3276.6,3232.2 3307.9,3219.4 3318.6,3215.0" stroke="#3f8f14" stroke-width="1.8" fill="none" filter="url(#jb1)" opacity="0.6"/>
<ellipse cx="3058.2" cy="3351.2" rx="4.4" ry="3.5" fill="#84e024" filter="url(#jb1)"/>
<path d="M2675.5,3631.6 C2683.0,3624.5 2701.2,3599.9 2720.4,3589.1 C2739.7,3578.3 2769.0,3576.4 2790.8,3566.8 C2812.7,3557.1 2841.4,3537.0 2851.6,3531.1" stroke="#3f8f14" stroke-width="1.8" fill="none" filter="url(#jb1)" opacity="0.6"/>
<ellipse cx="2790.8" cy="3566.8" rx="4.4" ry="2.9" fill="#84e024" filter="url(#jb1)"/>
<path d="M3225.2,3351.0 C3233.8,3355.2 3260.2,3362.9 3276.9,3376.4 C3293.5,3389.8 3310.5,3415.8 3325.1,3431.4 C3339.7,3447.1 3350.6,3458.7 3364.4,3470.4 C3378.2,3482.1 3393.2,3490.5 3407.8,3501.7 C3422.3,3513.0 3444.4,3531.9 3451.7,3537.9" stroke="#3f8f14" stroke-width="1.8" fill="none" filter="url(#jb1)" opacity="0.6"/>
<ellipse cx="3325.1" cy="3431.4" rx="4.5" ry="3.1" fill="#84e024" filter="url(#jb1)"/>
<path d="M3015.9,3637.5 C3027.3,3633.8 3064.6,3621.1 3084.0,3615.3 C3103.5,3609.6 3116.3,3609.6 3132.6,3603.0 C3148.8,3596.4 3164.5,3587.0 3181.4,3575.8 C3198.3,3564.7 3225.3,3542.6 3234.1,3536.0" stroke="#3f8f14" stroke-width="1.8" fill="none" filter="url(#jb1)" opacity="0.6"/>
<ellipse cx="3084.0" cy="3615.3" rx="3.1" ry="3.0" fill="#84e024" filter="url(#jb1)"/>
<ellipse cx="3132.6" cy="3603.0" rx="5.5" ry="3.9" fill="#84e024" filter="url(#jb1)"/>
<path d="M3201.0,3333.2 C3209.7,3326.8 3239.4,3305.3 3253.5,3294.3 C3267.7,3283.3 3274.6,3275.6 3286.0,3267.4 C3297.4,3259.2 3309.4,3257.4 3321.9,3245.2 C3334.5,3233.0 3354.6,3202.8 3361.2,3194.3" stroke="#3f8f14" stroke-width="1.8" fill="none" filter="url(#jb1)" opacity="0.6"/>
<ellipse cx="3253.5" cy="3294.3" rx="3.4" ry="4.0" fill="#84e024" filter="url(#jb1)"/>
<ellipse cx="3321.9" cy="3245.2" rx="5.4" ry="3.8" fill="#84e024" filter="url(#jb1)"/>
<path d="M2544.8,3621.8 C2554.4,3624.4 2586.0,3633.1 2602.5,3637.6 C2619.0,3642.2 2625.8,3640.4 2643.8,3648.8 C2661.8,3657.2 2699.4,3681.6 2710.5,3688.2" stroke="#3f8f14" stroke-width="1.8" fill="none" filter="url(#jb1)" opacity="0.6"/>
<ellipse cx="2602.5" cy="3637.6" rx="5.5" ry="3.2" fill="#84e024" filter="url(#jb1)"/>
<ellipse cx="2643.8" cy="3648.8" rx="3.1" ry="3.6" fill="#84e024" filter="url(#jb1)"/>
<path d="M3080.1,3469.6 C3087.2,3472.7 3107.7,3482.5 3122.7,3487.9 C3137.7,3493.2 3150.9,3496.7 3170.1,3501.8 C3189.4,3507.0 3226.8,3516.1 3238.2,3518.9" stroke="#3f8f14" stroke-width="1.8" fill="none" filter="url(#jb1)" opacity="0.6"/>
<ellipse cx="3122.7" cy="3487.9" rx="4.8" ry="2.8" fill="#84e024" filter="url(#jb1)"/>
<path d="M3045.4,3522.1 C3057.9,3523.0 3099.7,3529.9 3120.8,3527.7 C3142.0,3525.4 3154.1,3513.5 3172.5,3508.5 C3190.9,3503.6 3208.9,3499.3 3231.4,3498.0 C3253.9,3496.7 3284.4,3504.3 3307.5,3500.6 C3330.6,3497.0 3350.7,3486.4 3370.1,3476.0 C3389.5,3465.7 3415.0,3444.8 3424.0,3438.6" stroke="#3f8f14" stroke-width="1.8" fill="none" filter="url(#jb1)" opacity="0.6"/>
<ellipse cx="3120.8" cy="3527.7" rx="3.4" ry="3.8" fill="#84e024" filter="url(#jb1)"/>
<ellipse cx="3307.5" cy="3500.6" rx="3.6" ry="2.6" fill="#84e024" filter="url(#jb1)"/>
<path d="M3074.4,3650.0 C3082.7,3650.8 3106.6,3656.0 3124.3,3655.0 C3142.1,3654.1 3164.1,3650.3 3180.7,3644.4 C3197.4,3638.4 3217.1,3623.4 3224.4,3619.2" stroke="#3f8f14" stroke-width="1.8" fill="none" filter="url(#jb1)" opacity="0.6"/>
<path d="M2905.9,3660.7 C2915.1,3657.8 2941.9,3650.7 2961.2,3643.6 C2980.6,3636.5 3001.8,3623.0 3022.0,3618.2 C3042.1,3613.4 3072.1,3615.4 3082.1,3614.9" stroke="#3f8f14" stroke-width="1.8" fill="none" filter="url(#jb1)" opacity="0.6"/>
<ellipse cx="2961.2" cy="3643.6" rx="4.3" ry="2.7" fill="#84e024" filter="url(#jb1)"/>
<path d="M2500.0,3402.4 C2507.1,3403.5 2523.3,3409.6 2542.3,3409.1 C2561.4,3408.6 2592.4,3406.6 2614.2,3399.6 C2635.9,3392.5 2655.0,3380.5 2672.7,3366.6 C2690.4,3352.7 2712.4,3324.4 2720.3,3316.0" stroke="#3f8f14" stroke-width="1.8" fill="none" filter="url(#jb1)" opacity="0.6"/>
<ellipse cx="2542.3" cy="3409.1" rx="3.3" ry="2.8" fill="#84e024" filter="url(#jb1)"/>
<ellipse cx="2672.7" cy="3366.6" rx="4.2" ry="3.9" fill="#84e024" filter="url(#jb1)"/>
<path d="M2987.8,3261.9 C2998.5,3263.9 3031.0,3273.8 3051.9,3273.6 C3072.8,3273.4 3093.6,3270.0 3113.1,3260.8 C3132.6,3251.6 3152.8,3233.4 3168.9,3218.3 C3184.9,3203.2 3197.3,3183.2 3209.3,3170.2 C3221.4,3157.2 3235.9,3145.4 3241.2,3140.4" stroke="#3f8f14" stroke-width="1.8" fill="none" filter="url(#jb1)" opacity="0.6"/>
<ellipse cx="3209.3" cy="3170.2" rx="4.1" ry="3.5" fill="#84e024" filter="url(#jb1)"/>
<path d="M3089.2,3745.1 C3097.9,3748.9 3122.6,3761.5 3141.6,3767.9 C3160.6,3774.3 3183.6,3778.5 3203.1,3783.3 C3222.7,3788.2 3238.4,3792.4 3259.0,3797.1 C3279.5,3801.8 3307.6,3806.0 3326.2,3811.4 C3344.9,3816.9 3353.4,3822.1 3370.8,3829.8 C3388.2,3837.6 3420.5,3853.3 3430.4,3858.0" stroke="#3f8f14" stroke-width="1.8" fill="none" filter="url(#jb1)" opacity="0.6"/>
<ellipse cx="3141.6" cy="3767.9" rx="3.9" ry="3.5" fill="#84e024" filter="url(#jb1)"/>
<ellipse cx="3259.0" cy="3797.1" rx="5.5" ry="3.8" fill="#84e024" filter="url(#jb1)"/>
<ellipse cx="3370.8" cy="3829.8" rx="4.8" ry="3.4" fill="#84e024" filter="url(#jb1)"/>
<path d="M2892.0,3647.2 C2903.9,3646.5 2942.1,3644.5 2963.5,3643.3 C2984.9,3642.1 2999.4,3637.1 3020.6,3639.9 C3041.7,3642.8 3066.8,3655.9 3090.4,3660.6 C3114.1,3665.3 3141.0,3661.2 3162.5,3668.3 C3184.0,3675.4 3200.2,3694.3 3219.4,3703.1 C3238.7,3711.9 3268.2,3718.0 3278.0,3721.0" stroke="#3f8f14" stroke-width="1.8" fill="none" filter="url(#jb1)" opacity="0.6"/>
<ellipse cx="3020.6" cy="3639.9" rx="4.9" ry="2.7" fill="#84e024" filter="url(#jb1)"/>
<ellipse cx="3090.4" cy="3660.6" rx="5.4" ry="3.0" fill="#84e024" filter="url(#jb1)"/>
<ellipse cx="3162.5" cy="3668.3" rx="5.0" ry="3.7" fill="#84e024" filter="url(#jb1)"/>
<ellipse cx="3219.4" cy="3703.1" rx="4.2" ry="2.5" fill="#84e024" filter="url(#jb1)"/>
<path d="M2500.0,3729.1 C2508.3,3733.4 2530.7,3747.5 2549.9,3755.4 C2569.1,3763.2 2598.0,3768.6 2615.1,3776.1 C2632.3,3783.5 2639.3,3794.4 2652.7,3800.1 C2666.1,3805.7 2679.5,3804.3 2695.7,3809.9 C2711.9,3815.4 2731.1,3829.2 2750.2,3833.4 C2769.3,3837.6 2800.2,3834.7 2810.2,3835.0" stroke="#3f8f14" stroke-width="1.8" fill="none" filter="url(#jb1)" opacity="0.6"/>
<ellipse cx="2750.2" cy="3833.4" rx="4.4" ry="3.2" fill="#84e024" filter="url(#jb1)"/>
<path d="M3181.6,3266.9 C3192.8,3266.8 3228.5,3269.5 3249.0,3266.5 C3269.5,3263.4 3283.5,3254.1 3304.6,3248.5 C3325.7,3242.9 3363.8,3235.5 3375.6,3232.9" stroke="#3f8f14" stroke-width="1.8" fill="none" filter="url(#jb1)" opacity="0.6"/>
<ellipse cx="3249.0" cy="3266.5" rx="3.2" ry="2.5" fill="#84e024" filter="url(#jb1)"/>
<ellipse cx="3304.6" cy="3248.5" rx="5.3" ry="3.0" fill="#84e024" filter="url(#jb1)"/>
<g fill="#9cf52c" filter="url(#jb1)"><ellipse cx="2553.5" cy="3279.2" rx="5.5" ry="3.9"/><ellipse cx="2735.7" cy="3311.5" rx="7.4" ry="5.3"/><ellipse cx="2770.4" cy="3258.5" rx="4.5" ry="5.2"/><ellipse cx="2786.5" cy="3373.8" rx="5.8" ry="4.8"/><ellipse cx="2800.4" cy="3403.8" rx="5.9" ry="4.1"/><ellipse cx="2948.0" cy="3311.5" rx="4.8" ry="3.9"/><ellipse cx="2922.7" cy="3293.1" rx="6.3" ry="4.5"/><ellipse cx="3153.4" cy="3327.7" rx="6.2" ry="4.9"/><ellipse cx="3222.6" cy="3274.6" rx="6.9" ry="4.4"/><ellipse cx="3245.7" cy="3258.5" rx="4.3" ry="4.0"/><ellipse cx="2952.6" cy="3514.6" rx="4.1" ry="4.0"/><ellipse cx="3001.1" cy="3519.2" rx="7.3" ry="5.2"/><ellipse cx="3003.4" cy="3491.5" rx="5.3" ry="4.2"/><ellipse cx="2645.8" cy="3576.9" rx="5.5" ry="4.2"/><ellipse cx="2648.1" cy="3590.7" rx="4.0" ry="5.2"/><ellipse cx="2798.0" cy="3648.4" rx="4.9" ry="5.0"/><ellipse cx="2779.6" cy="3636.9" rx="4.6" ry="4.7"/><ellipse cx="3056.5" cy="3641.5" rx="6.3" ry="4.0"/><ellipse cx="3134.9" cy="3650.7" rx="5.3" ry="4.8"/><ellipse cx="3199.5" cy="3685.3" rx="4.7" ry="4.8"/><ellipse cx="3236.5" cy="3639.2" rx="5.6" ry="3.8"/><ellipse cx="3278.0" cy="3648.4" rx="6.5" ry="4.4"/><ellipse cx="3254.9" cy="3657.6" rx="6.6" ry="4.2"/><ellipse cx="3328.8" cy="3560.7" rx="7.2" ry="4.2"/><ellipse cx="3314.9" cy="3523.8" rx="6.4" ry="4.6"/><ellipse cx="3340.3" cy="3466.1" rx="6.7" ry="3.6"/><ellipse cx="3296.5" cy="3694.6" rx="4.4" ry="4.5"/><ellipse cx="3268.8" cy="3708.4" rx="7.0" ry="4.1"/><ellipse cx="3130.3" cy="3708.4" rx="6.3" ry="4.6"/><ellipse cx="3088.8" cy="3707.0" rx="5.0" ry="4.2"/><ellipse cx="3356.4" cy="3276.9" rx="6.7" ry="5.4"/><ellipse cx="2876.5" cy="3420.0" rx="6.1" ry="4.1"/><ellipse cx="2913.4" cy="3390.0" rx="6.2" ry="5.1"/><ellipse cx="2627.3" cy="3627.7" rx="4.7" ry="4.9"/><ellipse cx="3181.1" cy="3716.3" rx="6.6" ry="4.0"/><ellipse cx="3319.5" cy="3770.7" rx="7.0" ry="5.0"/></g>
<line x1="2620.4" y1="3338.3" x2="2693.3" y2="3323.4" stroke="#fff" stroke-width="2.3"/><path d="M2712.7,3319.4 L2683.1,3334.1 L2693.3,3323.4 L2679.6,3317.5 Z" fill="#fff"/>
<line x1="2957.3" y1="3356.3" x2="3030.2" y2="3371.2" stroke="#fff" stroke-width="2.3"/><path d="M3049.6,3375.2 L3016.5,3377.1 L3030.2,3371.2 L3020.0,3360.5 Z" fill="#fff"/>
<line x1="3160.3" y1="3619.8" x2="3087.5" y2="3634.4" stroke="#fff" stroke-width="2.3"/><path d="M3068.0,3638.3 L3097.7,3623.7 L3087.5,3634.4 L3101.0,3640.3 Z" fill="#fff"/>
</g>
<text x="3338" y="3759.2" font-size="46" text-anchor="end"><tspan fill="#e01ee0">VIP</tspan><tspan fill="#fff">/</tspan><tspan fill="#6ab82e">ChR2-mCherry</tspan></text>
<rect x="2561.8" y="3761.5" width="126.9" height="9.2" fill="#fff" /></g>
</svg>
</body></html>
